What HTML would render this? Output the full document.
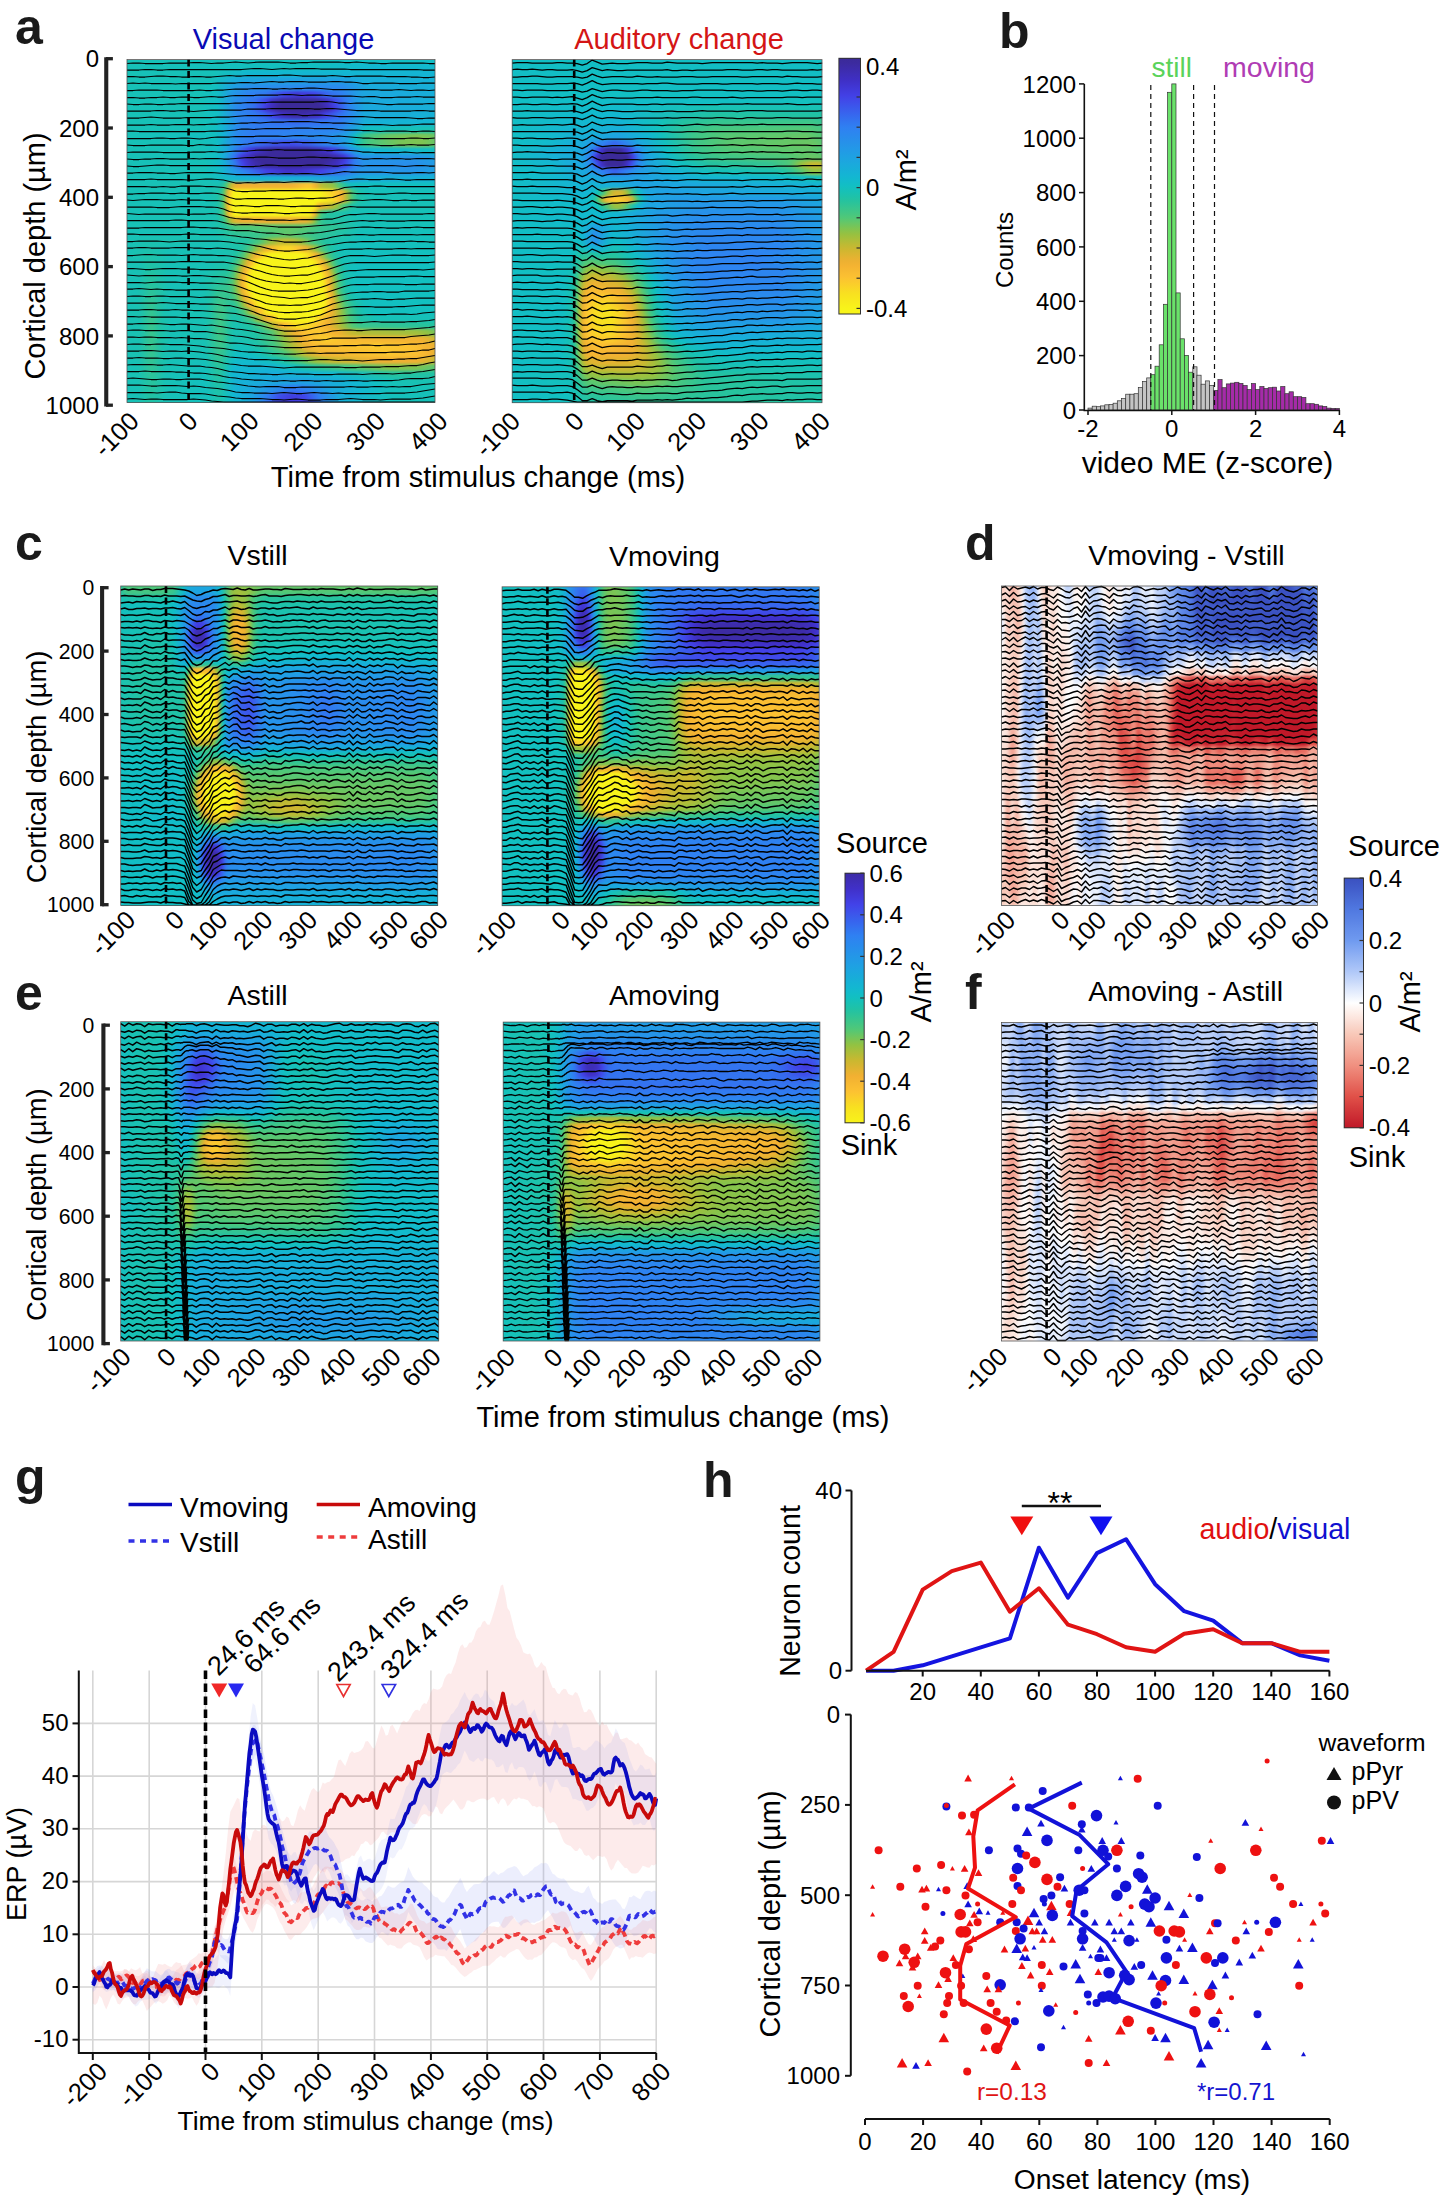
<!DOCTYPE html>
<html><head><meta charset="utf-8"><style>
html,body{margin:0;padding:0;background:#fff;width:1440px;height:2199px;overflow:hidden}
.hm{position:absolute;overflow:hidden}
.hi{position:absolute;left:0;top:-4px;right:0;bottom:-4px}
.hi i{position:absolute;left:-4px;right:-4px;display:block}
svg{position:absolute;left:0;top:0}
text{font-family:"Liberation Sans",sans-serif}
</style></head><body>
<div class="hm" style="left:127px;top:59.5px;width:308px;height:343px"><div class="hi" style="filter:blur(1.5px)"><i style="top:0px;height:7.6px;background:linear-gradient(90deg,#17c1b7 0px,#12bec4 315px)"></i><i style="top:7px;height:7.6px;background:linear-gradient(90deg,#17c1b7 0px,#12bfc1 196.5px,#12b7d1 252px,#12bacd 315px)"></i><i style="top:14px;height:7.6px;background:linear-gradient(90deg,#17c1b7 0px,#16c1b8 90px,#12b7d1 126px,#14b4d3 315px)"></i><i style="top:21.1px;height:7.6px;background:linear-gradient(90deg,#17c1b7 0px,#15c0b9 88.5px,#18add9 109.5px,#1da4e1 123px,#1f9fe3 220.5px,#18add9 241.5px,#16b1d6 315px)"></i><i style="top:28.1px;height:7.6px;background:linear-gradient(90deg,#17c1b7 0px,#17c1b7 78px,#12c0c0 93px,#1da3e1 108px,#288eeb 123px,#2a8aed 177px,#2a8aed 219px,#1aaadc 244.5px,#17afd7 315px)"></i><i style="top:35.1px;height:7.6px;background:linear-gradient(90deg,#17c1b7 0px,#17c1b7 76.5px,#12bec4 94.5px,#2398e7 109.5px,#2e83f1 126px,#3179f1 142.5px,#4146e9 160.5px,#4137d5 174px,#4241e7 190.5px,#356eef 207px,#307df2 217.5px,#1da5e0 238.5px,#17afd8 315px)"></i><i style="top:42.1px;height:7.6px;background:linear-gradient(90deg,#17c1b7 0px,#17c1b7 76.5px,#12bec4 94.5px,#288dec 112.5px,#3372f0 132px,#4145e8 142.5px,#4030c8 148.5px,#3b2a9a 159px,#3b2a98 193.5px,#3f2fc2 204px,#4146e9 211.5px,#307df2 223.5px,#219ce5 234px,#1ba8dd 243px,#17afd8 315px)"></i><i style="top:49.1px;height:7.6px;background:linear-gradient(90deg,#17c1b7 0px,#17c1b7 76.5px,#12bec5 94.5px,#2a89ee 114px,#3275f0 129px,#3d53eb 138px,#4242e7 141px,#4032cb 145.5px,#3b2a98 156px,#3b2a99 198px,#4030c5 207px,#4144e8 213px,#2f81f2 225px,#1ba8dd 241.5px,#17afd7 315px)"></i><i style="top:56.2px;height:7.6px;background:linear-gradient(90deg,#17c1b7 0px,#17c1b7 76.5px,#12bec5 94.5px,#2b89ee 114px,#3277f1 133.5px,#3668ee 141px,#4145e9 150px,#4030c6 159px,#3d2cac 169.5px,#3d2ca9 181.5px,#4031c9 195px,#4242e7 202.5px,#356bef 214.5px,#2d84f0 225px,#1aaadc 241.5px,#16b1d5 315px)"></i><i style="top:63.2px;height:7.6px;background:linear-gradient(90deg,#17c1b7 0px,#17c1b7 76.5px,#12c0c0 91.5px,#13b7d1 99px,#2e82f1 118.5px,#356bef 172.5px,#307df1 217.5px,#17b0d7 243px,#13b6d1 315px)"></i><i style="top:70.2px;height:7.6px;background:linear-gradient(90deg,#17c1b7 0px,#17c1b7 76.5px,#12c0c0 91.5px,#13b7d1 99px,#2a89ee 114px,#307cf1 132px,#2c87ef 217.5px,#1fa1e3 229.5px,#12c0c0 244.5px,#1ac1b1 315px)"></i><i style="top:77.2px;height:7.6px;background:linear-gradient(90deg,#17c1b7 0px,#12c0bf 91.5px,#12b7d1 99px,#229ae6 108px,#2a89ee 114px,#307ef2 127.5px,#298ced 204px,#1fa1e3 223.5px,#12bec3 232.5px,#23c2a1 237px,#3fc687 243px,#6bc662 265.5px,#80c451 295.5px,#74c55b 307.5px,#5fc76c 315px)"></i><i style="top:84.2px;height:7.6px;background:linear-gradient(90deg,#17c1b7 0px,#17c1b7 78px,#12bec4 94.5px,#229ae6 108px,#2f81f2 120px,#3d53eb 153px,#3f4cea 169.5px,#3a5cec 184.5px,#2f80f2 201px,#229ae6 220.5px,#14b4d3 229.5px,#17c1b7 234px,#33c492 240px,#47c780 246px,#7ac456 279px,#7fc452 300px,#60c76b 315px)"></i><i style="top:91.3px;height:7.6px;background:linear-gradient(90deg,#17c1b7 0px,#17c1b7 78px,#12bec5 94.5px,#1aa9dd 103.5px,#3372f0 115.5px,#4242e8 124.5px,#4033cd 130.5px,#3b2a9b 148.5px,#3b2a9a 184.5px,#4030c8 204px,#4242e7 211.5px,#2f7ff2 223.5px,#1ea2e2 232.5px,#14b5d3 241.5px,#12bec3 315px)"></i><i style="top:98.3px;height:7.6px;background:linear-gradient(90deg,#17c1b7 0px,#17c1b7 76.5px,#12bfc3 93px,#17b0d7 100.5px,#3277f1 111px,#4144e8 117px,#4137d5 120px,#3b2a99 133.5px,#3b2a98 205.5px,#3e2db2 214.5px,#4135d2 220.5px,#404ae9 225px,#2e82f1 232.5px,#2495e8 240px,#2495e8 294px,#1ea2e2 315px)"></i><i style="top:105.3px;height:7.6px;background:linear-gradient(90deg,#17c1b7 0px,#16c1b8 82.5px,#12bcc9 96px,#1ba7de 103.5px,#3278f1 112.5px,#4242e8 120px,#4138d7 123px,#3e2db3 130.5px,#3b2a9a 139.5px,#3b2a98 199.5px,#3f2fc3 214.5px,#4242e8 222px,#307cf1 231px,#2693e9 241.5px,#288eeb 289.5px,#219de4 315px)"></i><i style="top:112.3px;height:7.6px;background:linear-gradient(90deg,#17c1b7 0px,#17c1b7 76.5px,#12bdc6 96px,#1fa1e3 108px,#2f7ff2 123px,#4241e6 144px,#4030c8 163.5px,#4031ca 178.5px,#4241e6 198px,#2f7ff2 225px,#2496e8 237px,#2594e8 291px,#1ea1e2 315px)"></i><i style="top:119.3px;height:7.6px;background:linear-gradient(90deg,#17c1b7 0px,#16c1b8 84px,#14b4d4 118.5px,#18aed8 186px,#2397e7 220.5px,#18add9 243px,#15b2d5 315px)"></i><i style="top:126.4px;height:7.6px;background:linear-gradient(90deg,#17c1b7 0px,#19c1b3 96px,#20c2a6 99px,#3bc58b 102px,#51c877 103.5px,#a3bf3c 106.5px,#d7b531 109.5px,#f0b032 114px,#f3b132 169.5px,#fcc530 183px,#fbc62f 187.5px,#f3b232 192px,#bbbb35 198px,#93c242 210px,#53c875 216px,#23c2a1 222px,#12c0c1 228px,#12c0c1 315px)"></i><i style="top:133.4px;height:7.6px;background:linear-gradient(90deg,#17c1b7 0px,#17c1b7 85.5px,#1fc2a7 96px,#26c39e 97.5px,#4cc77c 100.5px,#b6bb36 103.5px,#e8b232 105px,#fbc032 106.5px,#f8ed1c 109.5px,#f8f41a 111px,#f8f41a 196.5px,#fcc431 214.5px,#f2b032 219px,#b4bc37 223.5px,#98c140 225px,#5ac770 228px,#46c781 229.5px,#1ec2a9 235.5px,#16c0b9 244.5px,#16c0b9 315px)"></i><i style="top:140.4px;height:7.6px;background:linear-gradient(90deg,#17c1b7 0px,#17c1b7 84px,#1dc1ab 94.5px,#3cc58a 99px,#58c772 100.5px,#91c243 102px,#ccb830 103.5px,#f5b532 105px,#fad129 106.5px,#f8eb1d 108px,#f8f41a 109.5px,#f8f41a 196.5px,#f8dd22 208.5px,#fcc630 214.5px,#f2b032 219px,#b3bc37 223.5px,#98c140 225px,#47c780 229.5px,#20c2a6 235.5px,#17c1b8 249px,#17c1b7 315px)"></i><i style="top:147.4px;height:7.6px;background:linear-gradient(90deg,#17c1b7 0px,#17c1b7 84px,#1dc1ab 94.5px,#3dc58a 99px,#59c771 100.5px,#92c242 102px,#cdb730 103.5px,#f5b532 105px,#fad129 106.5px,#f8eb1d 108px,#f8f41a 109.5px,#f8f41a 190.5px,#f8ec1c 192px,#fabf32 195px,#e7b231 198px,#babb35 208.5px,#90c244 214.5px,#4dc87b 220.5px,#1fc2a7 229.5px,#17c1b7 240px,#17c1b7 315px)"></i><i style="top:154.4px;height:7.6px;background:linear-gradient(90deg,#17c1b7 0px,#19c1b2 91.5px,#20c2a5 96px,#4dc87b 100.5px,#b4bc37 103.5px,#e4b331 105px,#f9bd32 106.5px,#f8e81e 109.5px,#f8f41a 112.5px,#f8f41a 186px,#f9d924 189px,#fbbf32 190.5px,#ecb132 192px,#c2ba33 193.5px,#90c244 195px,#62c669 196.5px,#47c780 198px,#27c39d 204px,#17c1b7 231px,#16c1b8 315px)"></i><i style="top:161.5px;height:7.6px;background:linear-gradient(90deg,#17c1b7 0px,#1ac1b1 93px,#21c2a4 97.5px,#34c492 100.5px,#59c770 103.5px,#9ec03e 106.5px,#cdb730 109.5px,#e6b231 114px,#f0b032 121.5px,#f1b032 172.5px,#ebb132 181.5px,#dbb531 186px,#d1b730 187.5px,#a6be3b 190.5px,#4ec87a 195px,#37c58f 198px,#29c39c 202.5px,#16c1b8 238.5px,#16c1b8 315px)"></i><i style="top:168.5px;height:7.6px;background:linear-gradient(90deg,#17c1b7 0px,#18c1b5 88.5px,#22c2a2 100.5px,#4ec87a 114px,#5ec76c 168px,#57c772 181.5px,#35c491 199.5px,#2cc399 214.5px,#16c1b8 237px,#15c0b9 315px)"></i><i style="top:175.5px;height:7.6px;background:linear-gradient(90deg,#17c1b7 0px,#19c1b2 93px,#2ec497 112.5px,#39c58d 133.5px,#61c66a 165px,#34c491 193.5px,#15c0ba 237px,#15c0bb 315px)"></i><i style="top:182.5px;height:7.6px;background:linear-gradient(90deg,#17c1b7 0px,#1bc1ae 27px,#18c1b6 90px,#22c2a2 123px,#4bc77c 136.5px,#94c241 147px,#bbbb35 156px,#c5b932 163.5px,#b7bb36 171px,#95c241 178.5px,#4bc77c 189px,#21c2a4 202.5px,#14c0bd 237px,#14c0bc 315px)"></i><i style="top:189.5px;height:7.6px;background:linear-gradient(90deg,#17c1b7 0px,#1dc1ac 27px,#17c1b7 45px,#17c1b7 85.5px,#1dc1aa 115.5px,#2dc398 121.5px,#4ec87a 127.5px,#96c141 133.5px,#c8b830 138px,#f3b132 144px,#f9d726 160.5px,#fad427 168px,#fcc132 175.5px,#ecb132 183px,#b9bb35 189px,#97c140 192px,#4ec87a 198px,#20c2a5 207px,#17c1b8 216px,#13c0be 229.5px,#13c0be 315px)"></i><i style="top:196.6px;height:7.6px;background:linear-gradient(90deg,#17c1b7 0px,#1ec2a9 27px,#17c1b7 45px,#17c1b7 82.5px,#1ac1b2 105px,#21c2a4 112.5px,#4bc77c 120px,#8cc347 124.5px,#b9bb35 127.5px,#f0b032 132px,#fcc530 136.5px,#f8e21f 141px,#f8f41a 147px,#f8f41a 178.5px,#f8e31f 184.5px,#f6b732 192px,#f1b032 193.5px,#a4bf3c 199.5px,#4ac77e 205.5px,#23c2a1 211.5px,#16c1b8 219px,#12c0c1 243px,#13c0bf 315px)"></i><i style="top:203.6px;height:7.6px;background:linear-gradient(90deg,#17c1b7 0px,#18c1b6 15px,#20c2a6 27px,#17c1b7 46.5px,#17c1b7 81px,#1dc1ab 105px,#26c39e 109.5px,#4fc879 115.5px,#9cc03f 120px,#b6bc36 121.5px,#f3b232 126px,#fcc431 129px,#f8df20 132px,#f8f41a 136.5px,#f8f41a 189px,#f8e020 193.5px,#fcc530 196.5px,#f3b232 199.5px,#b6bc36 204px,#9cc03f 205.5px,#4dc87b 210px,#21c2a3 216px,#18c1b4 220.5px,#12c0c1 237px,#12c0c0 315px)"></i><i style="top:210.6px;height:7.6px;background:linear-gradient(90deg,#17c1b7 0px,#18c1b4 16.5px,#22c2a2 28.5px,#17c1b7 46.5px,#17c1b6 82.5px,#21c2a3 103.5px,#30c495 108px,#53c876 112.5px,#8ac348 115.5px,#c3b932 118.5px,#f0b032 121.5px,#fcc332 124.5px,#f8eb1d 129px,#f8f41a 132px,#f8f41a 195px,#fcc431 201px,#f0b032 204px,#c2b932 207px,#88c34b 210px,#4ec87a 213px,#28c39c 217.5px,#1dc1ac 220.5px,#14c0bc 226.5px,#12c0c1 235.5px,#12c0c0 315px)"></i><i style="top:217.6px;height:7.6px;background:linear-gradient(90deg,#17c1b7 0px,#19c1b4 16.5px,#25c29f 28.5px,#18c1b6 43.5px,#17c1b7 78px,#26c39e 100.5px,#2fc496 105px,#49c77f 109.5px,#5ac770 111px,#94c241 114px,#e3b331 118.5px,#fabe32 121.5px,#f8e81e 126px,#f8f41a 129px,#f8f31a 198px,#fabf32 204px,#e4b331 207px,#afbd39 210px,#91c243 211.5px,#52c876 214.5px,#29c39c 219px,#1dc1ac 222px,#12c0c1 235.5px,#12c0c0 315px)"></i><i style="top:224.6px;height:7.6px;background:linear-gradient(90deg,#17c1b7 0px,#18c1b5 15px,#28c39c 27px,#17c1b7 46.5px,#17c1b6 79.5px,#33c493 103.5px,#4fc879 109.5px,#82c34f 112.5px,#bcba34 115.5px,#edb132 118.5px,#fcc331 121.5px,#f8e31f 124.5px,#f8f41a 127.5px,#f8f41a 198px,#f8e71e 201px,#fbc82e 204px,#f2b032 207px,#a1bf3d 211.5px,#49c77e 216px,#1ec2a9 222px,#15c0bb 228px,#12c0c1 235.5px,#12c0c0 315px)"></i><i style="top:231.7px;height:7.6px;background:linear-gradient(90deg,#17c1b7 0px,#18c1b4 15px,#2dc398 28.5px,#17c1b7 46.5px,#18c1b6 79.5px,#1dc1ab 87px,#31c494 94.5px,#37c58f 105px,#41c686 108px,#5ac770 111px,#91c243 114px,#e0b431 118.5px,#f3b232 120px,#fbca2d 123px,#f8f41a 129px,#f8f41a 199.5px,#f8e31f 202.5px,#fbc132 205.5px,#e5b331 208.5px,#aebd39 211.5px,#90c244 213px,#51c877 216px,#21c2a3 222px,#16c1b8 228px,#12c0c1 238.5px,#12c0c0 315px)"></i><i style="top:238.7px;height:7.6px;background:linear-gradient(90deg,#17c1b7 0px,#18c1b4 15px,#30c495 28.5px,#19c1b4 42px,#17c1b6 78px,#1ec2a9 87px,#3ac58c 96px,#33c493 106.5px,#50c878 112.5px,#83c34e 115.5px,#bbbb35 118.5px,#e9b232 121.5px,#fabf32 124.5px,#f8e71e 129px,#f8f41a 132px,#f8f41a 201px,#f8e120 204px,#fabe32 207px,#f4b332 208.5px,#c9b830 211.5px,#8fc244 214.5px,#58c772 217.5px,#22c2a2 225px,#19c1b4 231px,#12c0c0 241.5px,#12c0c0 315px)"></i><i style="top:245.7px;height:7.6px;background:linear-gradient(90deg,#17c1b7 0px,#19c1b4 15px,#34c492 28.5px,#1ec2a9 37.5px,#17c1b7 48px,#19c1b3 82.5px,#3ec688 97.5px,#29c39c 108px,#2fc496 111px,#4ac77d 115.5px,#91c243 120px,#aabe3a 121.5px,#ecb132 126px,#fabf32 129px,#f8e31f 133.5px,#f8f41a 138px,#f8f41a 201px,#fbc032 207px,#edb132 210px,#c7b931 213px,#9ac140 216px,#4cc77c 222px,#21c2a4 231px,#15c0ba 240px,#12c0c1 249px,#12c0bf 315px)"></i><i style="top:252.7px;height:7.6px;background:linear-gradient(90deg,#17c1b7 0px,#1ac1b1 16.5px,#36c58f 28.5px,#1ac1b1 40.5px,#17c1b7 48px,#18c1b4 81px,#1fc2a7 87px,#40c687 96px,#3bc58b 100.5px,#23c2a1 106.5px,#21c2a4 112.5px,#50c878 121.5px,#94c241 126px,#c0ba33 129px,#f3b132 133.5px,#fbbf32 136.5px,#f8f41a 145.5px,#f8f41a 196.5px,#f8e120 201px,#fbc82e 204px,#f3b132 208.5px,#adbd39 216px,#8dc246 219px,#4dc87b 225px,#21c2a3 234px,#17c1b7 241.5px,#12c0c0 252px,#13c0be 315px)"></i><i style="top:259.7px;height:7.6px;background:linear-gradient(90deg,#17c1b7 0px,#1ac1b1 16.5px,#39c58d 28.5px,#1cc1ad 39px,#17c1b7 48px,#18c1b4 81px,#1fc2a7 87px,#41c686 96px,#3bc58b 100.5px,#1cc1ad 109.5px,#1fc2a7 118.5px,#4fc879 129px,#9ac140 135px,#ceb730 139.5px,#f3b232 144px,#fcc530 148.5px,#f8f41a 157.5px,#f8f41a 189px,#fcc630 199.5px,#edb132 207px,#c8b831 213px,#94c241 219px,#4cc77c 226.5px,#20c2a5 237px,#16c1b8 253.5px,#16c1b8 315px)"></i><i style="top:266.8px;height:7.6px;background:linear-gradient(90deg,#17c1b7 0px,#1ac1b1 16.5px,#3ac58c 28.5px,#1fc2a7 37.5px,#17c1b7 48px,#19c1b3 82.5px,#41c685 97.5px,#21c2a5 106.5px,#19c1b3 112.5px,#21c2a3 127.5px,#53c875 139.5px,#9ec03e 147px,#c9b830 151.5px,#f2b132 157.5px,#fcc232 163.5px,#f8de21 172.5px,#f8e120 181.5px,#fcc332 195px,#f1b032 205.5px,#cdb730 213px,#97c141 220.5px,#51c877 229.5px,#38c58e 238.5px,#23c2a1 315px)"></i><i style="top:273.8px;height:7.6px;background:linear-gradient(90deg,#17c1b7 0px,#1ac1b1 16.5px,#3ac58c 28.5px,#1fc2a7 37.5px,#17c1b7 48px,#18c1b5 81px,#1fc2a7 87px,#41c686 96px,#3bc58b 100.5px,#20c2a5 106.5px,#19c1b4 112.5px,#21c2a3 133.5px,#52c877 148.5px,#8ec246 156px,#c6b931 163.5px,#f2b132 172.5px,#fcc232 184.5px,#fbc72f 195px,#f2b032 214.5px,#c6b931 228px,#b1bc38 238.5px,#a0c03e 294px,#8fc244 304.5px,#6ec55f 315px)"></i><i style="top:280.8px;height:7.6px;background:linear-gradient(90deg,#17c1b7 0px,#1ac1b1 16.5px,#3ac58c 28.5px,#1fc2a7 37.5px,#17c1b7 48px,#19c1b4 82.5px,#3fc687 96px,#3ec689 99px,#1fc2a7 106.5px,#18c1b6 112.5px,#20c2a6 133.5px,#4fc879 151.5px,#8cc347 160.5px,#aabe3a 165px,#f2b032 178.5px,#fcc331 190.5px,#fbcc2c 202.5px,#f8bb32 228px,#f3b132 298.5px,#c5b931 315px)"></i><i style="top:287.8px;height:7.6px;background:linear-gradient(90deg,#17c1b7 0px,#1ac1b1 16.5px,#39c58d 28.5px,#1cc1ac 39px,#17c1b7 46.5px,#18c1b5 82.5px,#3cc58a 96px,#36c590 100.5px,#1dc1ab 106.5px,#14c0bc 114px,#17c1b7 126px,#21c2a3 138px,#50c878 154.5px,#93c242 165px,#c7b931 174px,#f2b032 184.5px,#f9bc32 193.5px,#fbc92e 256.5px,#fcc132 291px,#f1b032 309px,#dab531 315px)"></i><i style="top:294.8px;height:7.6px;background:linear-gradient(90deg,#17c1b7 0px,#1ac1b1 16.5px,#37c58f 28.5px,#1cc1ad 39px,#17c1b7 46.5px,#17c1b7 82.5px,#38c58e 96px,#30c495 100.5px,#19c1b3 106.5px,#12bec4 114px,#12c0c1 129px,#1cc1ac 142.5px,#4dc87a 162px,#94c241 174px,#cdb730 184.5px,#f4b332 199.5px,#fbc72f 265.5px,#fbbf32 292.5px,#f3b132 307.5px,#d8b531 315px)"></i><i style="top:301.9px;height:7.6px;background:linear-gradient(90deg,#17c1b7 0px,#19c1b4 15px,#35c491 28.5px,#1ec2a9 37.5px,#17c1b7 46.5px,#16c0b9 82.5px,#2dc398 93px,#31c494 97.5px,#14c0bc 106.5px,#12bacc 114px,#12bacd 132px,#14c0bc 150px,#22c2a3 162px,#3ec688 172.5px,#53c876 178.5px,#94c241 190.5px,#c7b931 207px,#f2b032 252px,#f0b032 292.5px,#d9b531 306px,#b9bb36 315px)"></i><i style="top:308.9px;height:7.6px;background:linear-gradient(90deg,#17c1b7 0px,#18c1b4 15px,#31c494 28.5px,#18c1b4 42px,#14c0bd 79.5px,#17c1b7 85.5px,#2cc399 96px,#22c2a3 100.5px,#14c0bc 105px,#12b8d0 111px,#14b4d4 144px,#12c0bf 174px,#2bc399 198px,#4dc87a 232.5px,#7fc451 265.5px,#7cc454 294px,#53c876 315px)"></i><i style="top:315.9px;height:7.6px;background:linear-gradient(90deg,#17c1b7 0px,#18c1b4 15px,#2ec497 28.5px,#17c1b6 43.5px,#13c0be 81px,#26c39e 96px,#12b7d1 109.5px,#18acda 151.5px,#12b8d0 214.5px,#24c2a0 271.5px,#21c2a5 315px)"></i><i style="top:322.9px;height:7.6px;background:linear-gradient(90deg,#17c1b7 0px,#18c1b5 15px,#29c39b 30px,#18c1b5 42px,#13c0bf 81px,#22c2a2 96px,#12bec4 105px,#15b2d5 112.5px,#1fa0e3 178.5px,#12b7d1 235.5px,#12c0c1 253.5px,#18c1b4 277.5px,#19c1b3 315px)"></i><i style="top:329.9px;height:7.6px;background:linear-gradient(90deg,#17c1b7 0px,#18c1b5 15px,#26c39e 28.5px,#17c1b7 45px,#13c0be 82.5px,#20c2a6 96px,#14b5d3 111px,#1ea2e2 136.5px,#3276f0 169.5px,#2e83f1 183px,#1ba7de 208.5px,#12b9cf 240px,#15c0bb 268.5px,#17c1b6 315px)"></i><i style="top:337px;height:7.6px;background:linear-gradient(90deg,#17c1b7 0px,#18c1b4 16.5px,#23c2a1 28.5px,#17c1b7 45px,#14c0bd 76.5px,#15c0bb 85.5px,#1ec2a9 96px,#13c0be 103.5px,#12b8d0 109.5px,#1ca5e0 129px,#2f80f2 144px,#3e4eea 156px,#413ddf 168px,#4145e9 181.5px,#2f80f2 196.5px,#18add9 217.5px,#14c0bc 265.5px,#17c1b7 315px)"></i><i style="top:344px;height:7.6px;background:linear-gradient(90deg,#17c1b7 0px,#17c1b7 12px,#20c2a5 27px,#18c1b6 42px,#14c0bc 78px,#1cc1ad 96px,#12bbcb 109.5px,#14b4d3 118.5px,#1fa1e3 130.5px,#2f81f2 141px,#4047e9 153px,#4139d9 165px,#413bdc 180px,#4242e8 186px,#2f81f2 199.5px,#1fa1e3 210px,#14b4d4 222px,#15c0ba 268.5px,#17c1b7 315px)"></i></div></div>
<div class="hm" style="left:512.2px;top:59.6px;width:309.8px;height:343.1px"><div class="hi" style="filter:blur(1.5px)"><i style="top:0px;height:7.6px;background:linear-gradient(90deg,#12bec4 0px,#12bec4 316.5px)"></i><i style="top:7px;height:7.6px;background:linear-gradient(90deg,#12bec4 0px,#12bec4 316.5px)"></i><i style="top:14px;height:7.6px;background:linear-gradient(90deg,#12bec4 0px,#12bec4 316.5px)"></i><i style="top:21.1px;height:7.6px;background:linear-gradient(90deg,#12bec4 0px,#12bec4 316.5px)"></i><i style="top:28.1px;height:7.6px;background:linear-gradient(90deg,#12bec4 0px,#12bec3 316.5px)"></i><i style="top:35.1px;height:7.6px;background:linear-gradient(90deg,#12bec4 0px,#12bfc1 316.5px)"></i><i style="top:42.1px;height:7.6px;background:linear-gradient(90deg,#12bec4 0px,#12bcc9 112.5px,#14c0bd 316.5px)"></i><i style="top:49.2px;height:7.6px;background:linear-gradient(90deg,#12bec4 0px,#12bacc 114px,#19c1b3 202.5px,#19c1b3 316.5px)"></i><i style="top:56.2px;height:7.6px;background:linear-gradient(90deg,#12bec4 0px,#12b7d1 108px,#22c2a2 208.5px,#21c2a3 316.5px)"></i><i style="top:63.2px;height:7.6px;background:linear-gradient(90deg,#12bec4 0px,#14b4d4 112.5px,#12c0bf 148.5px,#23c2a1 175.5px,#35c590 207px,#3ec689 303px,#34c492 316.5px)"></i><i style="top:70.2px;height:7.6px;background:linear-gradient(90deg,#12bec4 0px,#18aed9 112.5px,#12c0c1 148.5px,#33c492 181.5px,#46c781 207px,#53c876 298.5px,#44c683 316.5px)"></i><i style="top:77.2px;height:7.6px;background:linear-gradient(90deg,#12bec4 0px,#12bbcb 40.5px,#1ea2e2 109.5px,#12b7d1 141px,#12c0bf 153px,#3dc689 186px,#57c772 220.5px,#66c666 298.5px,#4ec87a 316.5px)"></i><i style="top:84.3px;height:7.6px;background:linear-gradient(90deg,#12bec4 0px,#12bacd 40.5px,#1aa9dd 75px,#2f80f2 96px,#3767ee 106.5px,#307ef2 115.5px,#1da5e0 130.5px,#13c0be 157.5px,#3fc687 189px,#5cc76e 225px,#6ac663 301.5px,#62c66a 310.5px,#50c878 316.5px)"></i><i style="top:91.3px;height:7.6px;background:linear-gradient(90deg,#12bec4 0px,#1aaadc 69px,#219ce5 78px,#3178f1 85.5px,#4048e9 90px,#4033ce 93px,#3b2a9b 99px,#3b2a98 112.5px,#4136d3 120px,#4240e4 121.5px,#2f7ff2 127.5px,#1ba7de 138px,#12c0c0 160.5px,#36c58f 187.5px,#4ec879 217.5px,#63c669 300px,#4dc87b 316.5px)"></i><i style="top:98.3px;height:7.6px;background:linear-gradient(90deg,#12bec4 0px,#1aaadc 67.5px,#209fe4 75px,#307cf1 82.5px,#4243e8 87px,#3f2fc1 90px,#3b2a9c 93px,#3b2a98 94.5px,#3b2a98 118.5px,#3c2b9f 120px,#413ada 124.5px,#4048e9 126px,#2f80f2 130.5px,#1fa1e3 138px,#12bbcb 159px,#24c2a0 183px,#3cc58a 207px,#4dc87a 276px,#68c664 303px,#64c668 310.5px,#51c877 316.5px)"></i><i style="top:105.3px;height:7.6px;background:linear-gradient(90deg,#12bec4 0px,#13b7d1 46.5px,#1ea3e2 75px,#2d84f0 84px,#4048e9 90px,#4033ce 93px,#3b2a9a 99px,#3b2a9a 114px,#4033ce 120px,#4048e9 123px,#2d83f1 129px,#1da3e1 139.5px,#12c0c0 174px,#24c2a0 202.5px,#34c491 262.5px,#4fc879 282px,#91c243 292.5px,#c5b932 303px,#c6b931 310.5px,#a9be3b 316.5px)"></i><i style="top:112.4px;height:7.6px;background:linear-gradient(90deg,#12bec5 0px,#12b9cf 43.5px,#1ca6df 78px,#307ef2 96px,#3861ed 106.5px,#2f80f2 118.5px,#2398e7 129px,#16b2d5 162px,#15c0ba 207px,#1bc1af 264px,#21c2a3 276px,#32c493 283.5px,#4dc87b 291px,#93c242 304.5px,#93c242 310.5px,#78c457 316.5px)"></i><i style="top:119.4px;height:7.6px;background:linear-gradient(90deg,#12bec5 0px,#12b9cf 46.5px,#219de5 120px,#14b5d3 193.5px,#12bacc 273px,#14c0bb 316.5px)"></i><i style="top:126.4px;height:7.6px;background:linear-gradient(90deg,#12bec5 0px,#18aed9 109.5px,#1ea2e2 132px,#14b5d2 316.5px)"></i><i style="top:133.4px;height:7.6px;background:linear-gradient(90deg,#12bec4 0px,#14b5d3 78px,#12b8d0 84px,#12c0c1 88.5px,#1fc2a8 91.5px,#4ec87a 96px,#9ec03e 100.5px,#cdb730 105px,#dab531 109.5px,#c8b831 115.5px,#92c242 120px,#57c772 123px,#2ec497 126px,#12bcc8 130.5px,#1ba7de 138px,#1fa0e3 157.5px,#18aed8 316.5px)"></i><i style="top:140.4px;height:7.6px;background:linear-gradient(90deg,#12bec4 0px,#12b9ce 76.5px,#14c0bd 84px,#22c2a2 87px,#34c491 88.5px,#4ac77e 90px,#95c141 93px,#d5b631 96px,#eab232 97.5px,#fcc132 102px,#fbcd2c 111px,#f0b032 121.5px,#c3b932 124.5px,#9fc03e 126px,#4bc77d 129px,#1dc1ab 132px,#12c0c1 133.5px,#15b3d4 136.5px,#1da4e0 142.5px,#219be5 171px,#219be5 265.5px,#1aa8dd 316.5px)"></i><i style="top:147.5px;height:7.6px;background:linear-gradient(90deg,#12bec4 0px,#12bbcb 82.5px,#12c0c1 88.5px,#27c39d 94.5px,#8bc347 105px,#9bc03f 109.5px,#8cc347 114px,#49c77e 120px,#18c1b5 126px,#13b5d2 130.5px,#1ca6df 138px,#2594e8 196.5px,#2496e7 276px,#1da5e0 316.5px)"></i><i style="top:154.5px;height:7.6px;background:linear-gradient(90deg,#12bec4 0px,#12b8d0 105px,#219ce5 150px,#2790ea 189px,#2790ea 267px,#1ea1e2 316.5px)"></i><i style="top:161.5px;height:7.6px;background:linear-gradient(90deg,#12bec4 0px,#13b7d1 106.5px,#2594e8 162px,#298cec 193.5px,#288dec 274.5px,#209fe4 316.5px)"></i><i style="top:168.5px;height:7.6px;background:linear-gradient(90deg,#12bec4 0px,#12bcc9 72px,#1fa0e3 87px,#12b8d0 108px,#2593e9 160.5px,#2a89ee 195px,#2a89ee 267px,#219de4 316.5px)"></i><i style="top:175.5px;height:7.6px;background:linear-gradient(90deg,#12bec4 0px,#12bdc6 69px,#15b2d5 76.5px,#298cec 87px,#15b3d4 100.5px,#12bacd 106.5px,#2692e9 160.5px,#2b87ef 193.5px,#2b87ef 268.5px,#219be5 316.5px)"></i><i style="top:182.6px;height:7.6px;background:linear-gradient(90deg,#12bec4 0px,#12bec5 72px,#2692ea 87px,#12bacc 102px,#12bdc7 111px,#1fa1e3 144px,#278feb 165px,#2c85ef 198px,#2b87ef 277.5px,#229ae6 316.5px)"></i><i style="top:189.6px;height:7.6px;background:linear-gradient(90deg,#12bec4 0px,#12bec5 61.5px,#17c1b6 73.5px,#13b7d1 82.5px,#17b0d7 88.5px,#18c1b6 106.5px,#12b8d0 126px,#209fe4 148.5px,#2d84f0 198px,#2c85ef 273px,#229ae6 316.5px)"></i><i style="top:196.6px;height:7.6px;background:linear-gradient(90deg,#12bec4 0px,#12bec5 60px,#13c0be 66px,#26c39e 73.5px,#2dc398 78px,#21c2a3 87px,#26c39e 106.5px,#12c0c1 124.5px,#1ea3e2 148.5px,#2790eb 166.5px,#2d84f0 195px,#2e82f1 247.5px,#2299e6 316.5px)"></i><i style="top:203.6px;height:7.6px;background:linear-gradient(90deg,#12bec4 0px,#12bfc3 61.5px,#1fc2a7 69px,#4dc87b 76.5px,#57c772 84px,#45c782 106.5px,#2cc399 118.5px,#12bfc2 132px,#1ba7de 148.5px,#2496e8 162px,#2c86ef 187.5px,#2e82f1 250.5px,#2299e6 316.5px)"></i><i style="top:210.7px;height:7.6px;background:linear-gradient(90deg,#12bec4 0px,#12c0bf 63px,#29c39c 69px,#89c349 78px,#97c140 85.5px,#8fc245 96px,#78c457 106.5px,#14c0bd 136.5px,#1da4e1 154.5px,#2a8aed 180px,#2d83f0 207px,#2c85f0 274.5px,#2299e6 316.5px)"></i><i style="top:217.7px;height:7.6px;background:linear-gradient(90deg,#12bec4 0px,#12bec5 55.5px,#17c1b6 64.5px,#24c2a0 67.5px,#48c77f 70.5px,#9cc03f 75px,#c0ba33 79.5px,#cbb830 87px,#b9bb36 103.5px,#91c243 115.5px,#4fc879 126px,#13c0bd 141px,#12b9ce 145.5px,#1da4e1 157.5px,#2691ea 172.5px,#2c85ef 199.5px,#2c85ef 271.5px,#229ae6 316.5px)"></i><i style="top:224.7px;height:7.6px;background:linear-gradient(90deg,#12bec4 0px,#12bec5 54px,#15c0ba 63px,#1fc2a7 66px,#40c687 69px,#84c34e 72px,#c0ba33 75px,#e2b331 79.5px,#edb132 87px,#dbb531 108px,#cab830 114px,#a0bf3d 121.5px,#43c684 133.5px,#22c2a3 139.5px,#12bfc3 145.5px,#1fa0e3 162px,#2b87ef 196.5px,#2c86ef 270px,#229be5 316.5px)"></i><i style="top:231.7px;height:7.6px;background:linear-gradient(90deg,#12bec4 0px,#12bec5 52.5px,#17c1b7 63px,#22c2a2 66px,#49c77e 69px,#9cc03f 72px,#bfba33 73.5px,#e8b231 76.5px,#f6b732 81px,#f9bc32 90px,#f3b132 111px,#e5b331 115.5px,#c9b830 121.5px,#9ac13f 127.5px,#4fc879 135px,#21c2a4 142.5px,#12c0bf 147px,#12b7d0 151.5px,#1ea2e2 163.5px,#2a89ee 196.5px,#2b88ee 270px,#219ce5 316.5px)"></i><i style="top:238.7px;height:7.6px;background:linear-gradient(90deg,#12bec4 0px,#12bec4 55.5px,#18c1b5 63px,#26c29f 66px,#51c877 69px,#80c451 70.5px,#acbd3a 72px,#e7b231 75px,#f4b332 76.5px,#fcc232 82.5px,#fbcc2c 99px,#f2b032 118.5px,#c6b931 126px,#9cc03f 130.5px,#4bc77c 138px,#23c2a1 144px,#12bec4 150px,#1fa1e3 166.5px,#298bed 199.5px,#298bed 274.5px,#209de4 316.5px)"></i><i style="top:245.8px;height:7.6px;background:linear-gradient(90deg,#12bec4 0px,#12bec4 54px,#19c1b4 63px,#29c39c 66px,#3cc58a 67.5px,#59c770 69px,#8bc348 70.5px,#b8bb36 72px,#f2b032 75px,#fcc431 79.5px,#f9d726 88.5px,#f9db23 100.5px,#f3b132 121.5px,#ceb730 127.5px,#94c241 133.5px,#4dc87a 139.5px,#24c2a0 145.5px,#12bfc3 151.5px,#1ea2e2 168px,#288eeb 202.5px,#288eeb 271.5px,#1fa0e3 316.5px)"></i><i style="top:252.8px;height:7.6px;background:linear-gradient(90deg,#12bec4 0px,#12bec4 54px,#19c1b3 63px,#2ac39a 66px,#3fc688 67.5px,#5ec76c 69px,#92c242 70.5px,#bfba34 72px,#f4b332 75px,#fcc232 78px,#f9da24 85.5px,#f8e31f 100.5px,#f9d924 109.5px,#f4b332 123px,#d0b730 129px,#94c241 135px,#4dc87a 141px,#25c29f 147px,#12bfc2 153px,#1da5e0 169.5px,#2593e9 199.5px,#2593e9 276px,#1ea3e2 316.5px)"></i><i style="top:259.8px;height:7.6px;background:linear-gradient(90deg,#12bec4 0px,#12bec4 52.5px,#12c0c1 58.5px,#19c1b2 63px,#2bc39a 66px,#3fc687 67.5px,#60c76b 69px,#93c242 70.5px,#c1ba33 72px,#f4b432 75px,#fcc431 78px,#f8e020 88.5px,#f8e31f 103.5px,#fcc630 117px,#f3b132 124.5px,#cdb730 130.5px,#92c242 136.5px,#4dc87b 142.5px,#26c39e 148.5px,#13c0bf 154.5px,#1aaadc 169.5px,#2398e7 202.5px,#2398e7 274.5px,#1ca6df 316.5px)"></i><i style="top:266.8px;height:7.6px;background:linear-gradient(90deg,#12bec4 0px,#12bec4 52.5px,#19c1b2 63px,#2bc39a 66px,#3fc688 67.5px,#5fc76c 69px,#92c242 70.5px,#bfba34 72px,#f4b332 75px,#fcc232 78px,#f8de21 90px,#f8e020 103.5px,#fcc431 117px,#f3b232 124.5px,#c8b831 132px,#8fc244 138px,#4ec879 144px,#22c2a2 151.5px,#13c0bf 157.5px,#17afd8 171px,#1fa1e3 195px,#209ee4 271.5px,#1aaadc 316.5px)"></i><i style="top:273.9px;height:7.6px;background:linear-gradient(90deg,#12bec4 0px,#12bfc3 55.5px,#19c1b3 63px,#3dc689 67.5px,#5bc76f 69px,#8dc246 70.5px,#babb35 72px,#f2b132 75px,#fcc431 79.5px,#fad527 88.5px,#f9d726 103.5px,#fcc331 115.5px,#efb132 126px,#ceb730 132px,#90c243 139.5px,#42c684 148.5px,#24c2a0 154.5px,#12c0bf 162px,#14b5d3 172.5px,#1ca6df 204px,#17aed8 316.5px)"></i><i style="top:280.9px;height:7.6px;background:linear-gradient(90deg,#12bec4 0px,#12bfc3 54px,#19c1b3 63px,#28c39d 66px,#55c874 69px,#85c34c 70.5px,#b1bc38 72px,#ebb132 75px,#fcc132 81px,#fbcc2c 102px,#f3b132 124.5px,#ccb830 133.5px,#97c141 141px,#45c782 151.5px,#25c29f 159px,#12c0c1 169.5px,#14b5d3 184.5px,#18aed9 207px,#15b3d4 316.5px)"></i><i style="top:287.9px;height:7.6px;background:linear-gradient(90deg,#12bec4 0px,#12bfc3 54px,#18c1b4 63px,#26c29f 66px,#4ec879 69px,#a5bf3c 72px,#cab830 73.5px,#f0b032 76.5px,#fbbf32 90px,#f1b032 124.5px,#ccb830 135px,#96c141 144px,#4dc87b 154.5px,#23c2a1 166.5px,#14c0bb 177px,#13b6d2 205.5px,#12b8cf 316.5px)"></i><i style="top:294.9px;height:7.6px;background:linear-gradient(90deg,#12bec4 0px,#12bfc3 52.5px,#18c1b5 63px,#23c2a1 66px,#48c77f 69px,#95c141 72px,#d0b730 75px,#dfb431 76.5px,#f1b032 79.5px,#f5b532 85.5px,#f2b032 120px,#e4b331 127.5px,#ccb830 136.5px,#91c243 148.5px,#51c877 159px,#25c29f 174px,#18c1b4 184.5px,#12bcc9 217.5px,#12bdc6 316.5px)"></i><i style="top:301.9px;height:7.6px;background:linear-gradient(90deg,#12bec4 0px,#12bfc2 55.5px,#17c1b6 63px,#20c2a5 66px,#3fc687 69px,#9dc03f 73.5px,#c7b831 76.5px,#d1b730 78px,#e1b331 84px,#e6b231 100.5px,#dfb431 123px,#cab830 136.5px,#91c243 151.5px,#4ec87a 165px,#20c2a5 186px,#15c0bb 211.5px,#13c0be 316.5px)"></i><i style="top:309px;height:7.6px;background:linear-gradient(90deg,#12bec4 0px,#12bfc2 54px,#16c1b8 63px,#26c39e 67.5px,#47c781 70.5px,#92c242 75px,#b4bc37 79.5px,#c0ba33 85.5px,#cab830 112.5px,#c3b932 132px,#93c242 151.5px,#50c878 168px,#23c2a1 192px,#1cc1ae 211.5px,#18c1b6 316.5px)"></i><i style="top:316px;height:7.6px;background:linear-gradient(90deg,#12bec4 0px,#15c0ba 63px,#2ac39b 69px,#74c55a 76.5px,#85c34c 79.5px,#91c243 85.5px,#a4bf3c 123px,#94c241 145.5px,#51c877 168px,#24c2a0 199.5px,#1bc1af 316.5px)"></i><i style="top:323px;height:7.6px;background:linear-gradient(90deg,#12bec4 0px,#14c0bc 63px,#21c2a4 69px,#45c782 75px,#57c772 81px,#7ac455 129px,#74c55b 145.5px,#4ec87a 165px,#2ac39a 196.5px,#1dc1ab 316.5px)"></i><i style="top:330px;height:7.6px;background:linear-gradient(90deg,#12bec4 0px,#12c0c1 58.5px,#16c1b8 66px,#3ac58c 79.5px,#51c877 135px,#2ac39a 198px,#1ec2a9 316.5px)"></i><i style="top:337.1px;height:7.6px;background:linear-gradient(90deg,#12bec4 0px,#12c0c1 60px,#27c39d 79.5px,#3bc58b 135px,#28c39c 199.5px,#1fc2a8 316.5px)"></i><i style="top:344.1px;height:7.6px;background:linear-gradient(90deg,#12bec4 0px,#12c0c1 61.5px,#1ec2a9 81px,#2ac39a 141px,#27c39d 255px,#1ec1aa 316.5px)"></i></div></div>
<div class="hm" style="left:120.7px;top:586px;width:317px;height:319.5px"><div class="hi" style="filter:blur(1.5px)"><i style="top:0px;height:7.1px;background:linear-gradient(90deg,#18c1b4 0px,#22c2a2 3px,#43c684 7.5px,#4ec879 12px,#50c878 48px,#3cc58a 58.5px,#12bec4 66px,#17afd7 70.5px,#1ca5df 79.5px,#1aa8dd 96px,#13b7d1 102px,#16c0b9 105px,#6ac663 114px,#7bc455 117px,#86c34c 123px,#66c666 147px,#65c667 315px,#58c771 324px)"></i><i style="top:6.5px;height:7.1px;background:linear-gradient(90deg,#17c1b6 0px,#39c58d 7.5px,#43c684 12px,#44c683 48px,#36c590 57px,#12bec3 64.5px,#1ca5df 72px,#1ea2e2 96px,#14b4d4 102px,#15c0ba 105px,#86c34c 114px,#9ac140 117px,#a5bf3c 123px,#93c242 132px,#5bc76f 142.5px,#52c876 150px,#51c878 310.5px,#49c77e 324px)"></i><i style="top:13.1px;height:7.1px;background:linear-gradient(90deg,#14c0bc 0px,#1ec1aa 12px,#1ec2a9 46.5px,#19c1b3 55.5px,#12bec5 60px,#2496e8 70.5px,#2a8aed 79.5px,#2790eb 96px,#1ca5e0 102px,#12b8d0 105px,#14c0bd 106.5px,#36c590 109.5px,#83c34e 115.5px,#9fc03e 121.5px,#8cc347 129px,#4bc77c 136.5px,#3bc58b 139.5px,#27c39d 150px,#22c2a3 324px)"></i><i style="top:19.6px;height:7.1px;background:linear-gradient(90deg,#13c0bd 0px,#12c0bf 54px,#12b8d0 60px,#2b88ee 73.5px,#2b88ee 96px,#1fa0e3 102px,#12bfc2 106.5px,#1fc2a7 108px,#97c140 115.5px,#b1bd38 118.5px,#bbbb35 121.5px,#b7bb36 124.5px,#99c140 129px,#44c683 136.5px,#28c39d 141px,#1ec2a9 145.5px,#19c1b2 324px)"></i><i style="top:26.2px;height:7.1px;background:linear-gradient(90deg,#14c0bd 0px,#16c1b8 45px,#12bfc2 55.5px,#12b8d0 60px,#2693e9 69px,#2f80f2 81px,#298bed 97.5px,#1fa0e3 102px,#13b6d2 105px,#13c0be 106.5px,#3ec688 109.5px,#a0c03e 114px,#cab830 117px,#ddb431 121.5px,#d2b630 126px,#a1bf3d 130.5px,#59c770 135px,#3bc58b 138px,#22c2a2 142.5px,#1cc1ad 147px,#18c1b4 324px)"></i><i style="top:32.8px;height:7.1px;background:linear-gradient(90deg,#14c0bc 0px,#18c1b5 39px,#12c0c1 55.5px,#18aed8 63px,#288dec 70.5px,#356bef 82.5px,#2398e7 100.5px,#13b7d1 105px,#14c0bc 106.5px,#44c683 109.5px,#97c141 112.5px,#d0b730 115.5px,#e0b431 117px,#f2b132 121.5px,#e7b231 126px,#b6bc37 130.5px,#9bc03f 132px,#4ac77d 136.5px,#29c39c 141px,#1fc2a7 144px,#1ac1b1 154.5px,#18c1b4 324px)"></i><i style="top:39.3px;height:7.1px;background:linear-gradient(90deg,#15c0bb 0px,#19c1b3 43.5px,#12bfc3 57px,#1ba8dd 64.5px,#2f80f2 72px,#4144e8 78px,#413bdc 81px,#4241e5 85.5px,#2e82f1 94.5px,#1fa1e3 102px,#13b7d1 105px,#15c0ba 106.5px,#49c77e 109.5px,#a5bf3c 112.5px,#ddb431 115.5px,#edb132 117px,#f5b532 120px,#f3b132 126px,#e9b232 127.5px,#c4b932 130.5px,#a6be3b 132px,#4cc77c 136.5px,#29c39c 141px,#1dc1ab 145.5px,#18c1b5 324px)"></i><i style="top:45.9px;height:7.1px;background:linear-gradient(90deg,#15c0ba 0px,#1ac1b0 43.5px,#17c1b6 52.5px,#12bdc6 58.5px,#1ba8dd 64.5px,#2e81f1 70.5px,#423ee1 75px,#3f2fbf 78px,#3e2db1 81px,#3e2eb9 85.5px,#4138d6 88.5px,#4144e8 90px,#317bf1 94.5px,#1fa1e3 102px,#13b7d1 105px,#15c0ba 106.5px,#4bc77d 109.5px,#7dc453 111px,#abbe3a 112.5px,#ceb730 114px,#f2b032 117px,#f6b732 121.5px,#efb132 127.5px,#cbb830 130.5px,#8ac348 133.5px,#4cc77c 136.5px,#28c39d 141px,#1dc1ab 145.5px,#18c1b5 324px)"></i><i style="top:52.4px;height:7.1px;background:linear-gradient(90deg,#16c0b9 0px,#1cc1ad 42px,#19c1b3 52.5px,#12bec5 58.5px,#1fa1e3 66px,#307df1 70.5px,#4048e9 73.5px,#4138d5 75px,#3e2eb4 78px,#3d2caa 81px,#3d2daf 85.5px,#4031ca 88.5px,#3e4fea 91.5px,#3277f1 94.5px,#1fa1e3 102px,#13b7d1 105px,#15c0bb 106.5px,#49c77e 109.5px,#a8be3b 112.5px,#e0b431 115.5px,#efb132 117px,#f5b532 120px,#ecb132 127.5px,#c7b931 130.5px,#a8be3b 132px,#4ac77e 136.5px,#26c39e 141px,#1cc1ad 145.5px,#17c1b6 324px)"></i><i style="top:58.9px;height:7.1px;background:linear-gradient(90deg,#16c1b8 0px,#1dc1aa 42px,#1ac1b1 52.5px,#12bfc3 58.5px,#1ea2e2 66px,#3372f0 72px,#4144e8 75px,#4030c9 78px,#3f2eba 81px,#3f2ebb 84px,#4034cf 87px,#3f4cea 90px,#2f7ff2 94.5px,#1fa1e3 102px,#13b6d2 105px,#13c0be 106.5px,#43c684 109.5px,#99c140 112.5px,#d4b630 115.5px,#edb132 118.5px,#f3b232 121.5px,#eab232 126px,#cfb730 129px,#b6bc36 130.5px,#99c140 132px,#57c772 135px,#44c683 136.5px,#22c2a2 141px,#1ac1b0 145.5px,#15c0bb 202.5px,#16c0b9 324px)"></i><i style="top:65.5px;height:7.1px;background:linear-gradient(90deg,#17c1b7 0px,#1ec1aa 16.5px,#1fc2a8 43.5px,#1bc1ae 52.5px,#12bfc1 58.5px,#2f81f2 73.5px,#3a5cec 78px,#3e4eea 82.5px,#2f81f2 91.5px,#229ae6 100.5px,#14b5d3 105px,#12bfc2 106.5px,#1fc2a8 108px,#50c878 111px,#9ac13f 114px,#c8b831 117px,#dcb431 121.5px,#cfb730 126px,#94c241 130.5px,#59c770 133.5px,#37c58f 136.5px,#21c2a4 139.5px,#16c1b8 145.5px,#12bfc3 199.5px,#13c0bf 324px)"></i><i style="top:72px;height:7.1px;background:linear-gradient(90deg,#17c1b6 0px,#1fc2a8 16.5px,#20c2a6 45px,#1dc1ac 52.5px,#13c0be 58.5px,#209fe4 69px,#2495e8 84px,#1ea2e2 99px,#13b7d1 105px,#19c1b2 108px,#48c77f 112.5px,#86c34c 117px,#9ec03e 121.5px,#8bc348 126px,#52c877 130.5px,#2ac39b 135px,#13c0be 141px,#12b8d0 202.5px,#12bcc7 324px)"></i><i style="top:78.6px;height:7.1px;background:linear-gradient(90deg,#18c1b6 0px,#20c2a5 19.5px,#20c2a5 46.5px,#1bc1af 55.5px,#13b6d1 64.5px,#16b0d7 69px,#12bfc3 73.5px,#20c2a6 76.5px,#29c39b 79.5px,#24c2a0 91.5px,#12bfc2 103.5px,#37c58f 121.5px,#2cc398 126px,#12c0bf 133.5px,#14b4d3 142.5px,#18acda 210px,#13b6d2 324px)"></i><i style="top:85.1px;height:7.1px;background:linear-gradient(90deg,#18c1b5 0px,#20c2a6 15px,#22c2a2 42px,#1fc2a8 54px,#12c0c0 64.5px,#14c0bc 67.5px,#2ec497 70.5px,#56c773 72px,#9ec03e 73.5px,#d4b631 75px,#f2b132 76.5px,#fcc232 82.5px,#f0b032 94.5px,#ceb730 97.5px,#b0bd38 99px,#8dc246 100.5px,#42c685 103.5px,#1ec1aa 106.5px,#12bfc3 109.5px,#12b8d0 114px,#1da3e1 138px,#1ea1e2 292.5px,#18add9 324px)"></i><i style="top:91.7px;height:7.1px;background:linear-gradient(90deg,#18c1b5 0px,#22c2a2 22.5px,#1ec2a9 66px,#26c39e 67.5px,#3dc689 69px,#71c55d 70.5px,#c3b932 72px,#f7b832 73.5px,#f8f31a 76.5px,#f8f41a 93px,#f8e51f 96px,#fad228 97.5px,#f9bc32 99px,#e6b231 100.5px,#b5bc37 102px,#3dc689 105px,#1ec1aa 106.5px,#12bdc5 108px,#1ea2e2 114px,#298cec 135px,#1fa0e3 151.5px,#2691ea 211.5px,#229be6 237px,#2495e8 294px,#1ca6df 324px)"></i><i style="top:98.2px;height:7.1px;background:linear-gradient(90deg,#18c1b5 0px,#22c2a2 21px,#1ec1aa 63px,#23c2a1 66px,#4cc77c 69px,#93c242 70.5px,#e0b431 72px,#fbca2d 73.5px,#f8f11b 75px,#f8f41a 76.5px,#f8f41a 96px,#f8e71e 97.5px,#f4b332 100.5px,#c5b932 102px,#78c457 103.5px,#37c58f 105px,#16c1b8 106.5px,#13b5d2 108px,#209fe4 111px,#298bed 115.5px,#3276f0 133.5px,#2399e6 150px,#2b87ee 210px,#2594e9 237px,#288dec 295.5px,#1ea1e2 324px)"></i><i style="top:104.8px;height:7.1px;background:linear-gradient(90deg,#18c1b4 0px,#23c2a1 25.5px,#20c2a6 64.5px,#35c491 67.5px,#51c878 69px,#9bc03f 70.5px,#e7b231 72px,#fad129 73.5px,#f8f41a 75px,#f8f41a 96px,#f8ea1d 97.5px,#f4b432 100.5px,#c2b932 102px,#6fc55f 103.5px,#2ec497 105px,#12bfc3 106.5px,#1ea2e2 109.5px,#2c86ef 114px,#3372f0 120px,#3864ed 130.5px,#3668ee 136.5px,#288eec 145.5px,#2496e8 153px,#2e81f1 210px,#2790eb 235.5px,#2b87ef 292.5px,#209fe4 324px)"></i><i style="top:111.3px;height:7.1px;background:linear-gradient(90deg,#18c1b5 0px,#22c2a2 22.5px,#20c2a5 64.5px,#36c590 67.5px,#52c876 69px,#9dc03f 70.5px,#e9b232 72px,#fad328 73.5px,#f8f41a 75px,#f8f41a 96px,#f8eb1d 97.5px,#f4b332 100.5px,#beba34 102px,#67c665 103.5px,#28c39c 105px,#12bcc8 106.5px,#2691ea 111px,#356cef 118.5px,#3b5aec 132px,#3960ed 136.5px,#298bed 145.5px,#2594e9 151.5px,#288eec 183px,#317af1 208.5px,#288eec 234px,#2d84f0 292.5px,#209de4 324px)"></i><i style="top:117.9px;height:7.1px;background:linear-gradient(90deg,#18c1b5 0px,#21c2a3 21px,#20c2a6 64.5px,#36c590 67.5px,#52c876 69px,#9dc03e 70.5px,#eab232 72px,#fad427 73.5px,#f8f41a 75px,#f8f41a 96px,#f8eb1d 97.5px,#f4b332 100.5px,#bcbb35 102px,#63c668 103.5px,#26c29f 105px,#12bbca 106.5px,#278feb 111px,#3668ee 118.5px,#3c56eb 132px,#3a5cec 136.5px,#2a8aed 145.5px,#2593e9 151.5px,#298dec 183px,#3276f0 208.5px,#298dec 234px,#2d84f0 297px,#219de4 324px)"></i><i style="top:124.5px;height:7.1px;background:linear-gradient(90deg,#18c1b5 0px,#21c2a4 22.5px,#20c2a6 64.5px,#35c491 67.5px,#51c877 69px,#9cc03f 70.5px,#e9b232 72px,#fad328 73.5px,#f8f41a 75px,#f8f41a 96px,#f8ea1d 97.5px,#f3b232 100.5px,#babb35 102px,#62c66a 103.5px,#24c2a0 105px,#12bacb 106.5px,#288feb 111px,#356cef 117px,#3c55eb 130.5px,#3a5bec 136.5px,#2d85f0 144px,#2693e9 151.5px,#298cec 184.5px,#3275f0 210px,#298dec 234px,#2d83f1 295.5px,#219de5 324px)"></i><i style="top:131px;height:7.1px;background:linear-gradient(90deg,#17c1b6 0px,#20c2a6 21px,#1fc2a7 64.5px,#34c492 67.5px,#50c878 69px,#9bc03f 70.5px,#e8b231 72px,#fad228 73.5px,#f8f41a 75px,#f8f41a 96px,#f8ea1d 97.5px,#f3b232 100.5px,#b9bb35 102px,#61c66a 103.5px,#24c2a0 105px,#12bacb 106.5px,#288feb 111px,#3767ee 118.5px,#3c55eb 132px,#3a5cec 136.5px,#2a8aed 145.5px,#2593e9 151.5px,#2a8bed 187.5px,#3276f0 208.5px,#288eec 240px,#2d84f0 297px,#219de4 324px)"></i><i style="top:137.5px;height:7.1px;background:linear-gradient(90deg,#17c1b7 0px,#1fc2a8 22.5px,#1ec2a9 64.5px,#32c493 67.5px,#4dc87a 69px,#96c141 70.5px,#e4b331 72px,#face2b 73.5px,#f8f41a 75px,#f8f41a 96px,#f8e71e 97.5px,#fbca2d 99px,#f2b032 100.5px,#b5bc37 102px,#5dc76d 103.5px,#23c2a1 105px,#12bacb 106.5px,#2790eb 111px,#346fef 117px,#3b58ec 130.5px,#395eed 136.5px,#2f81f2 142.5px,#2594e9 151.5px,#298dec 186px,#317af1 208.5px,#288feb 238.5px,#2d84f0 292.5px,#209ee4 324px)"></i><i style="top:144.1px;height:7.1px;background:linear-gradient(90deg,#16c1b8 0px,#1dc1ab 24px,#1ac1b0 61.5px,#21c2a4 66px,#48c780 69px,#88c34a 70.5px,#d6b631 72px,#fbc132 73.5px,#f8e91d 75px,#f8f41a 76.5px,#f8f41a 94.5px,#f8ed1c 96px,#fabe32 99px,#e3b331 100.5px,#a3bf3c 102px,#4fc879 103.5px,#1fc2a7 105px,#12b9ce 106.5px,#2791ea 111px,#3374f0 117px,#395eed 132px,#2496e8 150px,#2e81f1 208.5px,#2791ea 234px,#2b88ee 294px,#1f9fe3 324px)"></i><i style="top:150.7px;height:7.1px;background:linear-gradient(90deg,#16c0b9 0px,#1bc1af 24px,#19c1b4 61.5px,#1ec1aa 66px,#39c58d 69px,#60c76b 70.5px,#a8be3b 72px,#e5b331 73.5px,#fbc032 75px,#f8e61e 78px,#f8f11b 82.5px,#f8e51f 91.5px,#fcc132 96px,#f5b532 97.5px,#dbb531 99px,#abbe3a 100.5px,#67c665 102px,#32c493 103.5px,#15c0bb 105px,#1ba7de 108px,#298bed 112.5px,#3277f1 120px,#356cef 132px,#2497e7 147px,#219ce5 153px,#2a89ee 208.5px,#2497e7 237px,#278feb 294px,#1da3e1 324px)"></i><i style="top:157.2px;height:7.1px;background:linear-gradient(90deg,#15c0bb 0px,#16c1b8 61.5px,#1cc1ad 67.5px,#22c2a2 69px,#4bc77c 72px,#9ec03e 75px,#cab830 78px,#d6b631 82.5px,#c7b831 91.5px,#9cc03f 96px,#22c2a2 102px,#13c0be 103.5px,#13b7d1 105px,#219de4 109.5px,#278feb 114px,#2c85f0 127.5px,#2b87ef 136.5px,#1ea2e2 147px,#1ca6df 153px,#2397e7 210px,#1ea2e2 237px,#219be5 291px,#19abdb 324px)"></i><i style="top:163.8px;height:7.1px;background:linear-gradient(90deg,#14c0bd 0px,#14c0bc 63px,#18c1b4 69px,#3cc58a 78px,#41c685 90px,#2dc398 97.5px,#12bcc8 103.5px,#18acda 108px,#1fa0e3 117px,#209de4 133.5px,#14b5d3 150px,#19abda 211.5px,#13b7d1 324px)"></i><i style="top:170.3px;height:7.1px;background:linear-gradient(90deg,#13c0be 0px,#13c0bf 66px,#36c590 96px,#2dc398 100.5px,#12bfc3 111px,#12b8d0 129px,#12bacb 138px,#1ac1b0 151.5px,#12c0c1 204px,#18c1b5 234px,#16c0b9 324px)"></i><i style="top:176.8px;height:7.1px;background:linear-gradient(90deg,#12c0c0 0px,#12bfc2 61.5px,#18c1b4 76.5px,#25c29f 82.5px,#4ac77e 88.5px,#8cc347 96px,#98c140 100.5px,#90c244 103.5px,#40c686 115.5px,#2bc39a 121.5px,#22c2a2 129px,#38c58e 151.5px,#2cc399 207px,#35c491 232.5px,#31c495 310.5px,#26c39e 324px)"></i><i style="top:183.4px;height:7.1px;background:linear-gradient(90deg,#12c0c1 0px,#12bec4 58.5px,#17c1b6 73.5px,#25c29f 78px,#3ec688 81px,#4dc87b 82.5px,#9dc03e 87px,#cbb830 90px,#e8b231 93px,#f9bc32 100.5px,#f2b032 109.5px,#cdb730 114px,#93c242 118.5px,#5dc76d 123px,#4bc77c 126px,#43c683 130.5px,#4dc87b 150px,#48c780 307.5px,#36c58f 324px)"></i><i style="top:189.9px;height:7.1px;background:linear-gradient(90deg,#12bfc1 0px,#12bec5 61.5px,#19c1b2 72px,#26c39e 75px,#46c781 78px,#a6be3b 82.5px,#c7b931 84px,#f2b132 87px,#fcc232 90px,#f8e120 94.5px,#f8f11b 103.5px,#f8e020 111px,#f5b532 117px,#beba34 121.5px,#6fc55e 127.5px,#56c773 133.5px,#57c773 303px,#3ec688 324px)"></i><i style="top:196.5px;height:7.1px;background:linear-gradient(90deg,#12bfc2 0px,#12bdc6 60px,#12bfc2 66px,#1ac1b1 70.5px,#3dc689 75px,#54c875 76.5px,#a4bf3c 79.5px,#e5b331 82.5px,#fbc032 85.5px,#f8dd22 88.5px,#f8f21b 93px,#f8f41a 112.5px,#f8e71e 115.5px,#f8ba32 120px,#f1b032 121.5px,#c2b932 124.5px,#83c34e 129px,#65c667 135px,#61c66a 298.5px,#5bc76f 310.5px,#42c685 324px)"></i><i style="top:203px;height:7.1px;background:linear-gradient(90deg,#12bfc2 0px,#12bcc8 55.5px,#12bfc1 66px,#18c1b5 69px,#27c39d 72px,#4fc879 75px,#a3bf3c 78px,#e9b232 81px,#fcc530 84px,#f8e31f 87px,#f8f41a 91.5px,#f8f41a 115.5px,#f8e21f 118.5px,#fabe32 121.5px,#f3b232 123px,#c7b931 126px,#89c349 130.5px,#70c55e 136.5px,#7dc454 177px,#6bc662 219px,#65c667 300px,#5dc76e 312px,#43c684 324px)"></i><i style="top:209.6px;height:7.1px;background:linear-gradient(90deg,#12bfc2 0px,#12bcc8 58.5px,#12bec4 64.5px,#18c1b4 69px,#3dc689 73.5px,#56c773 75px,#adbd39 78px,#f0b032 81px,#fbca2d 84px,#f8f41a 90px,#f8f41a 115.5px,#f8e71e 118.5px,#fcc331 121.5px,#e8b231 124.5px,#96c141 130.5px,#80c451 135px,#9dc03f 177px,#6dc560 232.5px,#65c667 303px,#5ec76d 312px,#44c683 324px)"></i><i style="top:216.2px;height:7.1px;background:linear-gradient(90deg,#12bfc3 0px,#12bcc9 55.5px,#17c1b7 69px,#24c2a0 72px,#49c77e 75px,#99c140 78px,#c0ba33 79.5px,#f4b432 82.5px,#fbc032 84px,#f8df21 87px,#f8f41a 91.5px,#f8f41a 115.5px,#fabe32 121.5px,#f3b332 123px,#a7be3b 129px,#8fc244 133.5px,#bbbb35 162px,#c2b933 177px,#92c242 208.5px,#71c55d 231px,#63c669 304.5px,#43c684 324px)"></i><i style="top:222.7px;height:7.1px;background:linear-gradient(90deg,#12bfc3 0px,#12bcc9 57px,#12bec4 66px,#18c1b6 70.5px,#24c2a0 73.5px,#47c780 76.5px,#8ec245 79.5px,#b2bc38 81px,#ecb132 84px,#fcc232 87px,#f8dd22 90px,#f8f41a 96px,#f8f21b 112.5px,#fcc232 118.5px,#eeb132 121.5px,#a5bf3c 127.5px,#8fc244 132px,#c9b830 160.5px,#d2b630 177px,#c6b931 189px,#94c241 210px,#6ac662 234px,#5cc76e 304.5px,#40c687 324px)"></i><i style="top:229.2px;height:7.1px;background:linear-gradient(90deg,#12bfc3 0px,#12bbca 52.5px,#12bec5 66px,#16c1b8 72px,#1fc2a7 75px,#48c77f 79.5px,#a4bf3c 84px,#ebb132 88.5px,#fcc331 93px,#f8e020 99px,#f8e41f 103.5px,#f8dc22 108px,#f4b432 115.5px,#c5b932 120px,#8fc245 124.5px,#71c55d 130.5px,#93c242 147px,#afbd39 160.5px,#babb35 175.5px,#b3bc38 184.5px,#92c242 201px,#67c665 219px,#52c876 235.5px,#4bc77d 303px,#37c58f 324px)"></i><i style="top:235.8px;height:7.1px;background:linear-gradient(90deg,#12bfc3 0px,#12bbca 54px,#12bfc2 70.5px,#19c1b2 76.5px,#22c2a2 79.5px,#44c683 84px,#95c141 90px,#ceb730 96px,#dfb431 102px,#cdb730 108px,#a3bf3c 112.5px,#4ec87a 120px,#38c58e 127.5px,#5ec76d 174px,#2fc496 231px,#28c39c 309px,#20c2a6 324px)"></i><i style="top:242.3px;height:7.1px;background:linear-gradient(90deg,#12bfc3 0px,#12bdc7 64.5px,#14c0bb 78px,#36c590 102px,#27c39d 108px,#13c0be 115.5px,#12bacd 126px,#12bfc2 180px,#12b8d0 235.5px,#12b9ce 324px)"></i><i style="top:248.9px;height:7.1px;background:linear-gradient(90deg,#12bec3 0px,#12bbca 55.5px,#12bfc2 78px,#1ca5e0 93px,#19acda 106.5px,#209fe4 129px,#209ee4 310.5px,#1ca6de 324px)"></i><i style="top:255.4px;height:7.1px;background:linear-gradient(90deg,#12bec3 0px,#12bdc6 78px,#16b1d6 82.5px,#2d83f0 90px,#3669ee 96px,#2397e7 109.5px,#278feb 304.5px,#219ce5 324px)"></i><i style="top:262px;height:7.1px;background:linear-gradient(90deg,#12bec3 0px,#12bdc7 76.5px,#18add9 81px,#2c86ef 85.5px,#4145e8 90px,#4135d1 93px,#4030c9 96px,#4135d1 99px,#4146e9 102px,#307cf1 106.5px,#2790eb 112.5px,#2a8aed 307.5px,#2398e7 324px)"></i><i style="top:268.6px;height:7.1px;background:linear-gradient(90deg,#12bec3 0px,#12bbca 76.5px,#1ea3e1 81px,#2e82f1 84px,#4048e9 87px,#4138d6 88.5px,#3e2eb5 91.5px,#3c2ba3 96px,#3e2db0 100.5px,#4137d5 103.5px,#4147e9 105px,#2e82f1 109.5px,#298dec 114px,#2b88ee 304.5px,#2497e7 324px)"></i><i style="top:275.1px;height:7.1px;background:linear-gradient(90deg,#12bec3 0px,#12bdc7 75px,#19abda 79.5px,#3277f1 84px,#413de0 87px,#4030c8 88.5px,#3d2cab 91.5px,#3b2a9c 96px,#3c2ba2 100.5px,#4030c6 103.5px,#3d53eb 106.5px,#307ef2 109.5px,#298cec 114px,#2b87ee 288px,#2a8aed 313.5px,#2496e7 324px)"></i><i style="top:281.6px;height:7.1px;background:linear-gradient(90deg,#12bfc3 0px,#12bbca 21px,#12bec3 72px,#12bbcb 76.5px,#18aed9 79.5px,#2f81f2 84px,#4145e8 87px,#4136d3 88.5px,#3e2db3 91.5px,#3c2ba1 96px,#3d2dad 100.5px,#4144e8 105px,#2e82f1 109.5px,#288dec 114px,#2b88ee 298.5px,#2397e7 324px)"></i><i style="top:288.2px;height:7.1px;background:linear-gradient(90deg,#12bfc3 0px,#12bcc7 76.5px,#19abda 81px,#2e83f1 85.5px,#4240e4 90px,#4031cb 93px,#3f2fc2 96px,#4138d6 100.5px,#3d53eb 103.5px,#2c85f0 108px,#2791ea 112.5px,#298cec 307.5px,#229ae6 324px)"></i><i style="top:294.8px;height:7.1px;background:linear-gradient(90deg,#12bfc3 0px,#12bec5 76.5px,#17afd8 82.5px,#2c86ef 88.5px,#3862ed 93px,#3a5bec 96px,#2d85f0 103.5px,#2299e6 111px,#2594e8 306px,#1fa0e3 324px)"></i><i style="top:301.3px;height:7.1px;background:linear-gradient(90deg,#12bfc3 0px,#12bec4 76.5px,#12b8d0 82.5px,#2691ea 94.5px,#1ea3e2 108px,#209ee4 301.5px,#1ba8dd 324px)"></i><i style="top:307.8px;height:7.1px;background:linear-gradient(90deg,#12bfc2 0px,#12bec4 75px,#1aa9dd 97.5px,#17afd8 324px)"></i><i style="top:314.4px;height:7.1px;background:linear-gradient(90deg,#12bfc2 0px,#12bec4 75px,#18add9 112.5px,#15b2d5 324px)"></i><i style="top:320.9px;height:7.1px;background:linear-gradient(90deg,#12bfc2 0px,#12bec3 72px,#17afd8 114px,#14b4d4 324px)"></i></div></div>
<div class="hm" style="left:502.1px;top:586.8px;width:317.1px;height:318.9px"><div class="hi" style="filter:blur(1.5px)"><i style="top:0px;height:7.1px;background:linear-gradient(90deg,#12c0c0 0px,#12c0c0 54px,#12bcc9 63px,#2692ea 72px,#317af1 79.5px,#3275f0 85.5px,#2e81f1 90px,#1ea2e2 96px,#12bcc9 99px,#2fc496 102px,#5fc76c 106.5px,#70c55e 109.5px,#77c458 115.5px,#5cc76e 129px,#31c494 136.5px,#12c0c0 141px,#1da4e1 147px,#278feb 153px,#2f80f2 172.5px,#2f7ff2 294px,#2593e9 324px)"></i><i style="top:6.5px;height:7.1px;background:linear-gradient(90deg,#12c0c0 0px,#12bdc5 61.5px,#15b3d4 66px,#2e83f1 75px,#3861ed 84px,#3764ee 87px,#2f81f2 91.5px,#1fa1e3 96px,#12bbc9 99px,#30c495 102px,#64c668 106.5px,#79c457 111px,#7bc454 117px,#60c76b 129px,#3dc689 135px,#12c0c1 141px,#1ea2e2 147px,#2b89ee 154.5px,#3178f1 180px,#3277f1 292.5px,#307ef2 310.5px,#2790ea 324px)"></i><i style="top:13.1px;height:7.1px;background:linear-gradient(90deg,#12c0c0 0px,#12c0c0 54px,#12bbc9 63px,#2e81f1 75px,#3f4cea 82.5px,#4145e8 85.5px,#3d52eb 88.5px,#2d84f0 93px,#12bbc9 99px,#30c495 102px,#65c667 106.5px,#7ac456 111px,#7dc453 117px,#72c55d 124.5px,#60c76b 129px,#3dc689 135px,#12bfc2 141px,#1fa1e3 147px,#2d85f0 156px,#3373f0 189px,#3371f0 286.5px,#3277f1 309px,#288eec 324px)"></i><i style="top:19.6px;height:7.1px;background:linear-gradient(90deg,#12c0c0 0px,#12c0c0 54px,#12bbc9 63px,#19acda 67.5px,#307ef2 75px,#423fe3 81px,#4033ce 84px,#413bdc 88.5px,#4048e9 90px,#298cec 94.5px,#12bbca 99px,#31c495 102px,#55c874 105px,#70c55e 108px,#7ac455 111px,#72c55c 124.5px,#3dc689 135px,#12bfc2 141px,#1fa0e3 147px,#2f81f2 159px,#3767ee 205.5px,#3766ee 289.5px,#356cef 309px,#2a89ee 324px)"></i><i style="top:26.2px;height:7.1px;background:linear-gradient(90deg,#12c0c0 0px,#12c0c0 54px,#12bbc9 63px,#19acda 67.5px,#3179f1 75px,#413de0 79.5px,#3e2eb7 84px,#3f2eba 87px,#4139d8 90px,#3f4be9 91.5px,#2b87ef 94.5px,#12bbca 99px,#31c495 102px,#55c874 105px,#70c55e 108px,#7ac455 111px,#72c55c 124.5px,#3dc58a 135px,#12bfc2 141px,#1fa0e3 147px,#2f80f2 159px,#3d53eb 198px,#3f4ae9 226.5px,#3e4eea 304.5px,#395fed 316.5px,#307df2 324px)"></i><i style="top:32.7px;height:7.1px;background:linear-gradient(90deg,#12c0c0 0px,#12c0c0 54px,#12bbc9 63px,#19acda 67.5px,#3275f0 75px,#4146e9 78px,#4136d3 79.5px,#3e2db2 82.5px,#3d2cac 85.5px,#3e2eb8 88.5px,#4031ca 90px,#4240e4 91.5px,#2e83f1 94.5px,#12bbcb 99px,#31c495 102px,#65c667 106.5px,#7ac455 111px,#7dc453 117px,#72c55c 124.5px,#60c76b 129px,#31c494 136.5px,#12bfc2 141px,#1fa0e3 147px,#2c87ef 154.5px,#3864ed 180px,#3f4cea 189px,#413bdc 196.5px,#4031ca 210px,#4031cb 303px,#4241e7 318px,#3960ed 324px)"></i><i style="top:39.2px;height:7.1px;background:linear-gradient(90deg,#12c0c0 0px,#12c0c0 54px,#12bbc9 63px,#18acda 67.5px,#3374f0 75px,#4242e8 78px,#4034cf 79.5px,#3d2dae 82.5px,#3d2cab 85.5px,#3e2eb5 88.5px,#423ee0 91.5px,#2e82f1 94.5px,#12bacb 99px,#30c495 102px,#65c667 106.5px,#7ac456 111px,#7dc453 117px,#60c76b 129px,#31c494 136.5px,#12bfc2 141px,#1fa0e3 147px,#2c87ef 154.5px,#366bef 174px,#4145e8 187.5px,#3f2fc3 198px,#3d2daf 208.5px,#3d2caa 219px,#3d2caa 295.5px,#3f2eba 312px,#4030c9 316.5px,#3f4dea 324px)"></i><i style="top:45.8px;height:7.1px;background:linear-gradient(90deg,#12c0c0 0px,#12c0c0 54px,#12bbc9 63px,#18acda 67.5px,#3276f0 75px,#4047e9 78px,#4137d5 79.5px,#3e2db3 82.5px,#3e2db1 87px,#3f2eba 88.5px,#4241e6 91.5px,#2d84f0 94.5px,#12bbcb 99px,#30c495 102px,#64c668 106.5px,#79c457 111px,#7cc454 117px,#5fc76c 129px,#3cc58a 135px,#12bfc2 141px,#1fa0e3 147px,#2c87ef 154.5px,#3768ee 175.5px,#4048e9 186px,#4030c7 195px,#3d2cab 205.5px,#3c2ba1 223.5px,#3d2ca8 306px,#4030c9 318px,#4048e9 324px)"></i><i style="top:52.3px;height:7.1px;background:linear-gradient(90deg,#12c0c0 0px,#12c0c0 54px,#12bcc9 63px,#18add9 67.5px,#307df2 75px,#4241e6 79.5px,#4030c5 82.5px,#3f2ebb 85.5px,#413cdd 90px,#3e50ea 91.5px,#2b89ee 94.5px,#12bbca 99px,#2fc496 102px,#61c66a 106.5px,#75c55a 111px,#78c457 115.5px,#70c55e 123px,#5bc76f 129px,#2fc496 136.5px,#12bec3 141px,#1fa0e3 147px,#2c87ef 154.5px,#3669ee 175.5px,#4145e8 187.5px,#3f2fc3 198px,#3d2caa 216px,#3d2ca9 294px,#3e2eb6 310.5px,#4030c8 316.5px,#3f4dea 324px)"></i><i style="top:58.8px;height:7.1px;background:linear-gradient(90deg,#12c0c0 0px,#12bcc8 63px,#2f7ff2 76.5px,#4242e8 82.5px,#413ddf 85.5px,#4047e9 88.5px,#2d83f0 93px,#12bcc9 99px,#2cc399 102px,#49c77e 105px,#61c66a 109.5px,#67c665 115.5px,#5fc76c 123px,#48c77f 130.5px,#27c39e 136.5px,#12bcc8 141px,#209fe4 147px,#2f80f2 159px,#3669ee 177px,#4146e9 190.5px,#4030c9 208.5px,#4031ca 306px,#4240e4 318px,#395eed 324px)"></i><i style="top:65.4px;height:7.1px;background:linear-gradient(90deg,#12c0c0 0px,#12bdc6 63px,#1ea2e2 72px,#3179f1 85.5px,#1ea2e2 94.5px,#12bcc8 99px,#27c39e 103.5px,#37c58f 108px,#32c493 124.5px,#19c1b3 135px,#12b8cf 139.5px,#1da5e0 144px,#2d84f0 153px,#4242e8 208.5px,#4242e8 301.5px,#3c54eb 316.5px,#3374f0 324px)"></i><i style="top:71.9px;height:7.1px;background:linear-gradient(90deg,#12c0c0 0px,#12c0c0 57px,#15b2d5 84px,#12bec4 102px,#13b7d1 123px,#1ba8dd 136.5px,#2f81f2 148.5px,#3960ed 159px,#4049e9 205.5px,#3f4be9 304.5px,#3b59ec 316.5px,#3276f0 324px)"></i><i style="top:78.5px;height:7.1px;background:linear-gradient(90deg,#12c0c0 0px,#15c0ba 66px,#2cc399 70.5px,#93c242 76.5px,#9fc03e 81px,#92c242 87px,#7dc453 91.5px,#2bc39a 99px,#16c0b9 102px,#12b9ce 105px,#18acda 111px,#1fa1e3 132px,#356bef 156px,#3960ed 168px,#3764ee 303px,#346fef 316.5px,#2d84f0 324px)"></i><i style="top:85px;height:7.1px;background:linear-gradient(90deg,#12c0c0 0px,#12c0c0 57px,#17c1b6 64.5px,#26c39e 67.5px,#40c687 69px,#76c559 70.5px,#bfba34 72px,#f2b032 73.5px,#fcc232 75px,#f8e120 78px,#f8e61e 84px,#f8dd22 88.5px,#f6b732 94.5px,#ccb830 97.5px,#a1bf3d 99px,#46c781 102px,#2cc398 103.5px,#12c0c0 106.5px,#13b6d1 109.5px,#18acda 115.5px,#1ca6df 135px,#298bed 162px,#2398e7 195px,#2299e6 304.5px,#1ea2e2 324px)"></i><i style="top:91.5px;height:7.1px;background:linear-gradient(90deg,#12c0c0 0px,#12c0c0 55.5px,#19c1b3 64.5px,#32c493 67.5px,#59c771 69px,#abbe3a 70.5px,#f3b132 72px,#f8f21a 75px,#f8f41a 76.5px,#f8f41a 93px,#f9dc23 96px,#fcc431 97.5px,#f4b432 99px,#adbd39 102px,#51c877 105px,#3bc58b 106.5px,#1ec2a9 109.5px,#12bfc2 114px,#13b6d2 171px,#13c0be 181.5px,#27c39e 192px,#31c494 204px,#32c494 309px,#26c29f 324px)"></i><i style="top:98.1px;height:7.1px;background:linear-gradient(90deg,#12c0c0 0px,#12c0c0 55.5px,#1ac1b1 64.5px,#21c2a4 66px,#37c58f 67.5px,#65c666 69px,#bcba34 70.5px,#f7b932 72px,#f8e41f 73.5px,#f8f41a 75px,#f8f41a 94.5px,#f8ef1c 96px,#fcc530 99px,#f4b432 100.5px,#b1bd38 103.5px,#88c34a 105px,#60c76b 106.5px,#46c781 108px,#22c2a2 112.5px,#19c1b3 118.5px,#24c2a0 136.5px,#22c2a2 162px,#2dc398 171px,#4ac77d 178.5px,#91c243 186px,#bbbb35 193.5px,#cbb830 202.5px,#cbb830 309px,#babb35 318px,#98c140 324px)"></i><i style="top:104.6px;height:7.1px;background:linear-gradient(90deg,#12c0c0 0px,#12c0c0 55.5px,#1ac1b1 64.5px,#21c2a4 66px,#38c58e 67.5px,#69c664 69px,#c1ba33 70.5px,#f8bb32 72px,#f8e81e 73.5px,#f8f41a 75px,#f8f41a 94.5px,#f8f21a 96px,#f5b632 100.5px,#b5bc37 103.5px,#8bc348 105px,#61c66a 106.5px,#46c781 108px,#20c2a6 112.5px,#16c1b8 120px,#32c493 139.5px,#38c58e 160.5px,#47c780 171px,#5fc76c 175.5px,#8ec246 180px,#bcba34 184.5px,#e3b331 190.5px,#f3b132 196.5px,#f4b332 310.5px,#ebb132 318px,#cbb830 324px)"></i><i style="top:111.1px;height:7.1px;background:linear-gradient(90deg,#12c0c0 0px,#12c0c0 55.5px,#1ac1b1 64.5px,#21c2a4 66px,#38c58e 67.5px,#6ac663 69px,#c2b933 70.5px,#f8bc32 72px,#f8e81d 73.5px,#f8f41a 75px,#f8f41a 94.5px,#f8f21b 96px,#f5b532 100.5px,#aebd39 103.5px,#54c875 106.5px,#3cc58a 108px,#1fc2a7 111px,#12c0c0 115.5px,#12c0c0 123px,#37c58f 141px,#4bc77c 169.5px,#63c669 174px,#8fc244 178.5px,#c0ba33 183px,#ecb132 189px,#f4b332 192px,#fabe32 211.5px,#f9bc32 309px,#f3b132 319.5px,#d9b531 324px)"></i><i style="top:117.7px;height:7.1px;background:linear-gradient(90deg,#12c0c0 0px,#12c0c0 55.5px,#1ac1b1 64.5px,#21c2a4 66px,#38c58e 67.5px,#6ac663 69px,#c2b932 70.5px,#f9bc32 72px,#f8e91d 73.5px,#f8f41a 75px,#f8f41a 94.5px,#f8f11b 96px,#fcc530 99px,#f3b332 100.5px,#a4bf3c 103.5px,#49c77f 106.5px,#20c2a5 109.5px,#12c0c0 112.5px,#12bacc 121.5px,#14c0bc 127.5px,#36c58f 141px,#4ec87a 169.5px,#76c559 175.5px,#95c141 178.5px,#c6b931 183px,#f4b332 190.5px,#fbc032 205.5px,#fbbf32 306px,#f2b032 321px,#ddb431 324px)"></i><i style="top:124.2px;height:7.1px;background:linear-gradient(90deg,#12c0c0 0px,#12c0c0 55.5px,#1ac1b1 64.5px,#21c2a4 66px,#38c58e 67.5px,#6ac663 69px,#c2b932 70.5px,#f9bc32 72px,#f8e91d 73.5px,#f8f41a 75px,#f8f41a 94.5px,#f8f01b 96px,#fcc232 99px,#f2b132 100.5px,#cdb730 102px,#9bc03f 103.5px,#66c666 105px,#41c686 106.5px,#1bc1af 109.5px,#12bcc8 112.5px,#14b5d3 117px,#12b8d0 123px,#14c0bc 129px,#36c590 141px,#4fc879 169.5px,#6ac662 174px,#97c140 178.5px,#c8b831 183px,#f2b032 189px,#f6b632 192px,#fbc132 207px,#fbc032 307.5px,#f2b132 321px,#deb431 324px)"></i><i style="top:130.8px;height:7.1px;background:linear-gradient(90deg,#12c0c0 0px,#12c0c0 55.5px,#1ac1b1 64.5px,#21c2a4 66px,#38c58e 67.5px,#6ac663 69px,#c2b933 70.5px,#f8bc32 72px,#f8e81e 73.5px,#f8f41a 75px,#f8f41a 94.5px,#f8ef1b 96px,#fbc132 99px,#f0b032 100.5px,#c9b830 102px,#96c141 103.5px,#5fc76c 105px,#3cc58a 106.5px,#24c2a0 108px,#12bec3 111px,#15b3d4 115.5px,#15b3d4 121.5px,#12c0c0 129px,#22c2a2 135px,#38c58e 142.5px,#50c878 169.5px,#78c457 175.5px,#97c140 178.5px,#c8b831 183px,#f2b032 189px,#f6b632 192px,#fbc132 208.5px,#fbc032 307.5px,#f2b032 321px,#deb431 324px)"></i><i style="top:137.3px;height:7.1px;background:linear-gradient(90deg,#12c0c0 0px,#12c0c0 55.5px,#1ac1b1 64.5px,#21c2a4 66px,#38c58e 67.5px,#68c664 69px,#c0ba33 70.5px,#f8bb32 72px,#f8e71e 73.5px,#f8f41a 75px,#f8f41a 94.5px,#f8ee1c 96px,#fbc032 99px,#efb132 100.5px,#c7b831 102px,#94c241 103.5px,#5dc76e 105px,#3bc58b 106.5px,#23c2a1 108px,#12bec4 111px,#15b3d4 115.5px,#14b5d3 123px,#12c0c0 129px,#22c2a2 135px,#38c58e 142.5px,#50c878 169.5px,#77c458 175.5px,#96c141 178.5px,#c7b931 183px,#f0b032 189px,#f5b532 192px,#fbc032 210px,#fabe32 309px,#f4b332 319.5px,#dcb431 324px)"></i><i style="top:143.8px;height:7.1px;background:linear-gradient(90deg,#12c0c0 0px,#12c0c0 55.5px,#1ac1b1 64.5px,#36c590 67.5px,#64c668 69px,#babb35 70.5px,#f6b832 72px,#f8e31f 73.5px,#f8f41a 75px,#f8f41a 94.5px,#f8ea1d 96px,#fabe32 99px,#ebb132 100.5px,#c4b932 102px,#93c242 103.5px,#5ec76c 105px,#3dc689 106.5px,#26c39e 108px,#12c0c0 111px,#12b8d0 114px,#12b7d1 123px,#14c0bd 129px,#24c2a0 135px,#39c58d 142.5px,#4fc879 169.5px,#68c664 174px,#93c242 178.5px,#c1ba33 183px,#ebb132 189px,#f5b532 193.5px,#f9bd32 213px,#f8ba32 310.5px,#f2b032 319.5px,#d7b531 324px)"></i><i style="top:150.4px;height:7.1px;background:linear-gradient(90deg,#12c0c0 0px,#12c0c0 55.5px,#19c1b3 64.5px,#31c495 67.5px,#54c875 69px,#a4bf3c 70.5px,#ecb132 72px,#fbcd2b 73.5px,#f8ec1c 75px,#f8f41a 76.5px,#f8f31a 93px,#f5b532 99px,#b5bc37 102px,#88c34a 103.5px,#59c770 105px,#3ec689 106.5px,#1dc1ac 109.5px,#12bfc3 112.5px,#12b9cf 120px,#14c0bc 127.5px,#38c58e 141px,#4ec87a 169.5px,#6fc55e 175.5px,#99c140 180px,#c3b932 184.5px,#e5b331 190.5px,#f2b032 195px,#f4b332 310.5px,#eeb132 316.5px,#cab830 324px)"></i><i style="top:156.9px;height:7.1px;background:linear-gradient(90deg,#12c0c0 0px,#12c0c0 57px,#1bc1af 66px,#23c2a1 67.5px,#3bc58b 69px,#66c666 70.5px,#aabe3a 72px,#deb431 73.5px,#f6b732 75px,#fcc132 76.5px,#fad129 79.5px,#fad427 85.5px,#fcc331 91.5px,#f1b032 96px,#c7b931 99px,#a7be3b 100.5px,#47c780 105px,#1fc2a8 109.5px,#12c0bf 114px,#12bfc2 121.5px,#33c493 136.5px,#3fc687 144px,#50c878 171px,#67c665 175.5px,#97c140 181.5px,#cbb830 189px,#dfb431 198px,#e1b331 306px,#d1b730 318px,#aebd39 324px)"></i><i style="top:163.5px;height:7.1px;background:linear-gradient(90deg,#12c0c0 0px,#12c0c0 58.5px,#16c1b8 66px,#2dc398 70.5px,#72c55c 75px,#91c243 78px,#a0bf3d 85.5px,#95c241 93px,#49c77e 102px,#27c39d 108px,#19c1b3 117px,#1ec2a9 124.5px,#43c684 141px,#51c877 171px,#91c243 183px,#b0bd38 189px,#c6b931 202.5px,#c1ba33 307.5px,#b4bc37 316.5px,#8ec245 324px)"></i><i style="top:170px;height:7.1px;background:linear-gradient(90deg,#12c0c0 0px,#14c0bd 66px,#2ac39a 76.5px,#4ac77d 94.5px,#30c495 120px,#54c875 142.5px,#5bc76f 171px,#92c242 184.5px,#adbd39 198px,#a0c03e 309px,#91c243 318px,#71c55d 324px)"></i><i style="top:176.5px;height:7.1px;background:linear-gradient(90deg,#12c0c0 0px,#15c0b9 70.5px,#25c29f 81px,#72c55c 96px,#7fc451 100.5px,#75c55a 123px,#82c34f 145.5px,#76c559 169.5px,#adbd39 193.5px,#94c241 235.5px,#8fc245 307.5px,#7fc452 318px,#61c66a 324px)"></i><i style="top:183.1px;height:7.1px;background:linear-gradient(90deg,#12c0c0 0px,#13c0be 66px,#21c2a4 78px,#4bc77c 84px,#91c243 88.5px,#a5bf3c 90px,#c7b931 93px,#e3b331 97.5px,#f5b532 106.5px,#f0b032 120px,#c0ba33 141px,#a1bf3d 165px,#9ec03e 174px,#beba34 192px,#9bc03f 216px,#8fc244 232.5px,#84c34e 310.5px,#76c559 318px,#5bc76f 324px)"></i><i style="top:189.6px;height:7.1px;background:linear-gradient(90deg,#12c0c0 0px,#13c0bf 61.5px,#1cc1ad 73.5px,#31c494 78px,#4fc879 81px,#90c244 84px,#b0bd38 85.5px,#e5b331 88.5px,#f4b432 90px,#fbc72f 93px,#f8e51e 97.5px,#f8f41a 103.5px,#f8f31a 118.5px,#f8e21f 126px,#fcc132 133.5px,#f2b032 141px,#d5b631 151.5px,#b9bb35 171px,#ccb830 190.5px,#9cc03f 216px,#8bc347 234px,#81c450 307.5px,#75c55a 316.5px,#56c773 324px)"></i><i style="top:196.1px;height:7.1px;background:linear-gradient(90deg,#12c0c0 0px,#13c0bf 60px,#1ec1aa 72px,#47c780 78px,#aabe3a 82.5px,#ebb132 85.5px,#fbca2d 88.5px,#f8f41a 93px,#f8f41a 130.5px,#fcc332 141px,#f2b032 148.5px,#c7b831 171px,#cbb830 193.5px,#9ec03e 213px,#8ac348 228px,#7ac456 307.5px,#6ec560 316.5px,#50c878 324px)"></i><i style="top:202.7px;height:7.1px;background:linear-gradient(90deg,#12c0c0 0px,#12c0c0 55.5px,#15c0bb 64.5px,#1dc1ab 70.5px,#2ac39a 73.5px,#46c781 76.5px,#5dc76d 78px,#a8be3b 81px,#edb132 84px,#fad02a 87px,#f8f31a 90px,#f8f41a 135px,#fcc332 144px,#f1b032 151.5px,#c7b831 174px,#c6b931 190.5px,#81c450 228px,#72c55d 303px,#69c664 313.5px,#4ac77d 324px)"></i><i style="top:209.2px;height:7.1px;background:linear-gradient(90deg,#12c0c0 0px,#12c0c0 55.5px,#15c0bb 64.5px,#1dc1aa 70.5px,#47c780 76.5px,#5fc76b 78px,#aabe3a 81px,#efb132 84px,#fad129 87px,#f8f41a 90px,#f8f41a 135px,#fcc331 144px,#f1b032 151.5px,#c4b932 174px,#b6bc36 195px,#7cc454 225px,#70c55d 243px,#69c664 304.5px,#60c76b 313.5px,#46c781 324px)"></i><i style="top:215.8px;height:7.1px;background:linear-gradient(90deg,#12c0c0 0px,#13c0bf 60px,#1ec2a9 72px,#4ac77d 78px,#8cc347 81px,#d3b630 84px,#f0b032 85.5px,#face2b 88.5px,#f8f41a 93px,#f8f41a 132px,#fcc332 141px,#efb132 148.5px,#b9bb35 174px,#adbd39 193.5px,#73c55b 225px,#66c666 247.5px,#61c66a 303px,#42c685 324px)"></i><i style="top:222.3px;height:7.1px;background:linear-gradient(90deg,#12c0c0 0px,#13c0bf 61.5px,#1dc1ac 73.5px,#28c39c 76.5px,#52c876 81px,#93c242 84px,#b1bc38 85.5px,#f3b332 90px,#fcc431 93px,#f9dc22 96px,#f8f41a 102px,#f8f41a 120px,#fbbf32 133.5px,#efb132 139.5px,#c5b931 151.5px,#9fc03e 171px,#92c242 193.5px,#59c770 226.5px,#4cc77c 306px,#38c58e 324px)"></i><i style="top:228.8px;height:7.1px;background:linear-gradient(90deg,#12c0c0 0px,#13c0bf 64.5px,#20c2a6 78px,#52c876 87px,#9cc03f 94.5px,#e0b431 102px,#f2b132 108px,#deb431 120px,#c7b931 126px,#7ac456 142.5px,#4cc87b 169.5px,#29c39b 234px,#1ec2a9 324px)"></i><i style="top:235.4px;height:7.1px;background:linear-gradient(90deg,#12c0c0 0px,#12c0c0 61.5px,#18c1b5 79.5px,#12b9cf 93px,#15c0bb 99px,#27c39d 103.5px,#33c492 108px,#15c0ba 133.5px,#12bacd 175.5px,#14b4d4 324px)"></i><i style="top:241.9px;height:7.1px;background:linear-gradient(90deg,#12c0c0 0px,#12c0c0 76.5px,#12b9cf 81px,#219ce5 87px,#2c85f0 94.5px,#19abdb 108px,#1f9fe3 130.5px,#2593e9 235.5px,#2593e9 306px,#209fe4 324px)"></i><i style="top:248.4px;height:7.1px;background:linear-gradient(90deg,#12c0c0 0px,#12bfc2 75px,#14b5d3 79.5px,#3179f1 87px,#3c56eb 90px,#4242e7 94.5px,#4048e9 97.5px,#2b88ee 105px,#2496e8 109.5px,#298cec 126px,#2c86ef 213px,#2c86ef 307.5px,#2595e8 324px)"></i><i style="top:255px;height:7.1px;background:linear-gradient(90deg,#12c0c0 0px,#12c0c0 70.5px,#12bbcb 76.5px,#18add9 79.5px,#2e82f1 84px,#413de0 88.5px,#4030c5 91.5px,#3f2eba 94.5px,#3f2fbe 97.5px,#4242e7 102px,#307cf1 106.5px,#288eec 112.5px,#2d84f0 130.5px,#2e81f1 285px,#2d84f0 313.5px,#2692ea 324px)"></i><i style="top:261.5px;height:7.1px;background:linear-gradient(90deg,#12c0c0 0px,#12bcc7 75px,#1ba7de 79.5px,#356eef 84px,#413bdc 87px,#3e2eb9 90px,#3d2caa 93px,#3c2ca6 97.5px,#4032cc 102px,#423fe2 103.5px,#307cf1 108px,#2a8aed 112.5px,#2e81f1 136.5px,#2f80f2 294px,#2d83f0 313.5px,#2791ea 324px)"></i><i style="top:268.1px;height:7.1px;background:linear-gradient(90deg,#12c0c0 0px,#12c0c0 69px,#12bcc8 75px,#1da5e0 79.5px,#2d83f0 82.5px,#3765ee 84px,#4146e9 85.5px,#4136d3 87px,#3e2db2 90px,#3c2ba2 94.5px,#3c2ba3 99px,#3f2fc1 102px,#3f4be9 105px,#3276f0 108px,#2b89ee 112.5px,#2e81f1 127.5px,#2f80f2 301.5px,#2791ea 324px)"></i><i style="top:274.6px;height:7.1px;background:linear-gradient(90deg,#12c0c0 0px,#12bcc7 75px,#1ca6de 79.5px,#2c86ef 82.5px,#366bef 84px,#4139d8 87px,#3e2eb6 90px,#3c2ba3 94.5px,#3d2ca8 99px,#4030c7 102px,#3e50ea 105px,#3179f1 108px,#2b89ee 112.5px,#2f80f2 138px,#2f80f2 300px,#2791ea 324px)"></i><i style="top:281.1px;height:7.1px;background:linear-gradient(90deg,#12c0c0 0px,#12bdc6 75px,#19abda 79.5px,#307ef2 84px,#4147e9 87px,#4139d7 88.5px,#3f2ebc 91.5px,#3e2db1 94.5px,#3e2eb4 97.5px,#4032cb 100.5px,#3f4cea 103.5px,#2e82f1 108px,#2a8aed 111px,#2e81f1 130.5px,#2e81f1 306px,#2691ea 324px)"></i><i style="top:287.7px;height:7.1px;background:linear-gradient(90deg,#12c0c0 0px,#12c0c0 70.5px,#12bcc8 76.5px,#1aa9dc 81px,#2e81f2 85.5px,#4144e8 90px,#4136d3 94.5px,#423fe2 99px,#2d85f0 106.5px,#288eec 111px,#2d83f0 132px,#2d83f0 306px,#2693e9 324px)"></i><i style="top:294.2px;height:7.1px;background:linear-gradient(90deg,#12c0c0 0px,#12bec4 76.5px,#15b3d4 81px,#2e82f1 88.5px,#3960ed 94.5px,#2496e8 108px,#298cec 129px,#2a89ee 300px,#2398e7 324px)"></i><i style="top:300.7px;height:7.1px;background:linear-gradient(90deg,#12c0c0 0px,#12c0c1 75px,#12bacc 81px,#2790eb 94.5px,#1aa9dc 108px,#1ba8dd 166.5px,#229ae6 205.5px,#229ae6 306px,#1da4e0 324px)"></i><i style="top:307.3px;height:7.1px;background:linear-gradient(90deg,#12c0c0 0px,#12c0c0 76.5px,#18acda 94.5px,#12c0c0 111px,#24c2a0 129px,#2ac39a 150px,#22c2a2 168px,#12c0c0 181.5px,#14b4d4 195px,#14b4d4 324px)"></i><i style="top:313.8px;height:7.1px;background:linear-gradient(90deg,#12c0c0 0px,#12c0c0 79.5px,#12bbca 94.5px,#1fc2a7 109.5px,#55c874 129px,#63c668 150px,#4bc77c 171px,#1bc1af 187.5px,#12bdc7 202.5px,#12bcc8 324px)"></i><i style="top:320.4px;height:7.1px;background:linear-gradient(90deg,#12c0c0 0px,#13c0be 96px,#21c2a3 108px,#6ac662 129px,#79c456 150px,#6bc662 166.5px,#21c2a4 187.5px,#12c0c1 205.5px,#12bfc2 324px)"></i></div></div>
<div class="hm" style="left:1001.5px;top:586px;width:315.9px;height:319.4px"><div class="hi" style="filter:blur(1.5px)"><i style="top:0px;height:8.4px;background:linear-gradient(90deg,#f5b1a1 0px,#f9d2c5 7.5px,#fdefeb 9px,#f9cfc1 12px,#f3a595 13.5px,#f4a999 15px,#fad6ca 21px,#fef7f4 24px,#edf3fd 25.5px,#b0c8f8 27px,#8aadf3 36px,#b9cef9 39px,#fefaf8 40.5px,#f9d1c3 45px,#f8c5b5 48px,#fad9ce 52.5px,#fdf2ee 54px,#fdf1ed 57px,#fbe1d9 58.5px,#fefeff 63px,#e5edfd 66px,#bdd1f9 67.5px,#bdd1f9 69px,#c4d6fa 72px,#e1eafc 75px,#fdece7 76.5px,#fef8f6 87px,#fafbff 88.5px,#ccdbfa 90px,#b2c9f8 94.5px,#b9cef9 97.5px,#fffbfa 105px,#fce4dc 111px,#fefaf9 115.5px,#e4ecfd 117px,#edf2fd 120px,#fce8e1 121.5px,#fffdfd 124.5px,#d9e5fc 126px,#fdf1ed 130.5px,#fffefe 132px,#edf3fd 133.5px,#a6c1f7 135px,#a5c1f7 139.5px,#c2d5fa 142.5px,#ffffff 144px,#f1f5fe 147px,#d8e4fc 148.5px,#e1eafc 151.5px,#f8fafe 153px,#e1eafc 156px,#b8cef9 157.5px,#c1d4f9 166.5px,#739df1 175.5px,#557de3 193.5px,#3a50c0 199.5px,#3a50c0 202.5px,#527ae1 208.5px,#3a50c0 213px,#496bd5 231px,#3c53c3 240px,#4f76de 253.5px,#3a50c0 258px,#3b51c1 267px,#4665d1 270px,#5a83e5 271.5px,#547de2 276px,#496bd6 279px,#3a50c0 280.5px,#3a50c0 291px,#4768d3 298.5px,#405ac8 303px,#5881e4 307.5px,#4d73dc 312px,#6791ec 322.5px)"></i><i style="top:7.8px;height:8.4px;background:linear-gradient(90deg,#f9cfc1 0px,#fad7cc 7.5px,#fce5dd 9px,#f5b1a1 13.5px,#f5b2a2 15px,#f9d2c4 21px,#fdf1ec 24px,#f5f8fe 25.5px,#b7cdf9 27px,#93b3f4 34.5px,#94b4f5 36px,#b8cef9 39px,#eef3fd 40.5px,#fffcfb 42px,#f9d2c5 45px,#f8c9b9 48px,#fce9e3 54px,#fce4dc 58.5px,#fffffe 63px,#ecf2fd 66px,#d0defb 67.5px,#c9dafa 72px,#fdf1ed 76.5px,#fffcfc 87px,#f6f9fe 88.5px,#d0defb 90px,#bdd1f9 97.5px,#d5e2fb 102px,#ffffff 105px,#fbe1d9 111px,#fef3f0 115.5px,#eff4fe 117px,#eff4fe 120px,#fdece6 121.5px,#fef8f6 123px,#fafcff 124.5px,#d3e0fb 126px,#dee8fc 129px,#f6f9fe 130.5px,#d8e4fc 133.5px,#a2bef6 135px,#c0d3f9 142.5px,#ebf1fd 144px,#d2e0fb 148.5px,#dee8fc 151.5px,#f7fafe 153px,#e3ecfd 156px,#c3d5fa 157.5px,#b7cdf9 166.5px,#91b2f4 171px,#628ce9 181.5px,#517ae1 193.5px,#3a50c0 199.5px,#4a6cd7 208.5px,#3a50c0 213px,#4360cd 231px,#3a50c0 235.5px,#3b52c2 249px,#4869d4 253.5px,#3a50c0 258px,#3a50c0 268.5px,#3c53c3 270px,#4b6fd9 271.5px,#4c71da 274.5px,#3a50c0 280.5px,#3b52c2 303px,#4d73dc 307.5px,#4360cd 312px,#5f88e8 322.5px)"></i><i style="top:15.6px;height:8.4px;background:linear-gradient(90deg,#fdede7 0px,#f6bcac 16.5px,#fad4c8 22.5px,#fdfeff 25.5px,#c0d3f9 27px,#95b5f5 33px,#a9c3f7 37.5px,#fef7f4 43.5px,#fad4c8 45px,#f9cdbe 48px,#fbe2d9 49.5px,#fce7e0 58.5px,#fffdfd 63px,#ceddfb 72px,#fef6f4 76.5px,#fef9f8 85.5px,#f1f5fe 88.5px,#d3e1fb 90px,#b4cbf8 99px,#fffcfc 106.5px,#fbe1d8 112.5px,#f3f7fe 117px,#eef3fd 120px,#fdf2ee 121.5px,#fffefe 123px,#f1f5fe 124.5px,#cbdbfa 126px,#d7e3fb 130.5px,#c2d5fa 133.5px,#9ebbf6 135px,#bdd1f9 142.5px,#d4e1fb 144px,#cbdbfa 148.5px,#d8e4fc 151.5px,#f5f8fe 153px,#e5edfd 156px,#ccdbfa 157.5px,#92b3f4 171px,#92b3f4 175.5px,#638dea 181.5px,#5078e0 193.5px,#3a50c0 199.5px,#4462cf 208.5px,#3a50c0 213px,#3a50c0 250.5px,#4360cd 253.5px,#3a50c0 258px,#3a50c0 270px,#4360cd 274.5px,#3a50c0 279px,#3a50c0 303px,#4768d3 307.5px,#3b52c1 312px,#5a83e5 322.5px)"></i><i style="top:23.4px;height:8.4px;background:linear-gradient(90deg,#eef3fe 0px,#fffefe 3px,#f9d0c2 9px,#f6bbab 18px,#f9cdbf 22.5px,#fefbf9 25.5px,#c8d9fa 27px,#97b7f5 33px,#bcd0f9 40.5px,#fbfcff 43.5px,#fad6cb 45px,#f9d1c3 48px,#fcebe5 49.5px,#fad9ce 54px,#feffff 64.5px,#e8effd 70.5px,#d3e0fb 72px,#e2ebfc 75px,#fffcfb 76.5px,#fcfdff 85.5px,#d3e0fb 90px,#bfd3f9 97.5px,#a5c0f7 99px,#b8cef9 102px,#d8e4fc 103.5px,#fefaf8 109.5px,#fce9e2 112.5px,#fef9f7 115.5px,#e4ecfd 120px,#fffefe 121.5px,#e1eafc 124.5px,#bcd0f9 126px,#a7c2f7 133.5px,#94b4f5 135px,#b3caf8 139.5px,#bed2f9 148.5px,#cddcfb 151.5px,#edf2fd 153px,#9dbbf6 166.5px,#8daff4 171px,#9cbaf6 175.5px,#638dea 181.5px,#5078e0 193.5px,#3a50c0 199.5px,#415cca 208.5px,#3a50c0 303px,#4360cd 307.5px,#3a50c0 313.5px,#496bd6 316.5px,#567fe3 322.5px)"></i><i style="top:31.2px;height:8.4px;background:linear-gradient(90deg,#c3d6fa 0px,#fef7f4 6px,#f8c6b6 9px,#f7c4b4 12px,#fad6ca 13.5px,#f6b7a7 18px,#f8c6b6 22.5px,#fef5f2 25.5px,#d1dffb 27px,#99b8f5 31.5px,#9fbcf6 34.5px,#b6ccf9 36px,#b9cef9 39px,#a5c1f7 40.5px,#ebf1fd 43.5px,#fad9cd 45px,#fad5c9 48px,#fef4f1 49.5px,#f9d1c4 54px,#fef9f7 61.5px,#feffff 69px,#d6e3fb 72px,#e1eafc 75px,#f9fbfe 76.5px,#ebf1fd 85.5px,#ccdcfb 90px,#d0dffb 94.5px,#b5ccf8 97.5px,#8fb1f4 99px,#fffefd 112.5px,#cbdbfa 120px,#e2ebfc 121.5px,#c4d6fa 124.5px,#a3bff6 126px,#88acf3 130.5px,#80a6f2 135px,#8eb0f4 138px,#a9c3f7 139.5px,#94b4f5 144px,#9bb9f5 147px,#b6cdf9 151.5px,#dae5fc 153px,#b6ccf9 160.5px,#82a8f2 166.5px,#84a9f3 174px,#9cbaf5 175.5px,#5f89e8 181.5px,#4e74dd 195px,#3c54c3 199.5px,#425fcc 213px,#3a50c0 217.5px,#3a50c0 243px,#425ecb 244.5px,#3a50c0 249px,#3a50c0 301.5px,#405cc9 307.5px,#3a50c0 315px,#4767d3 316.5px,#537ce2 322.5px)"></i><i style="top:39px;height:8.4px;background:linear-gradient(90deg,#a0bdf6 0px,#fdfeff 6px,#fdece7 7.5px,#f6bdad 9px,#f7c2b2 12px,#fbe2d9 13.5px,#f9d1c4 16.5px,#f5b5a5 18px,#f7c0b0 22.5px,#fdf0eb 25.5px,#d9e4fc 27px,#9bb9f5 31.5px,#a4c0f7 34.5px,#c4d6fa 36px,#bacff9 39px,#93b3f4 40.5px,#dce6fc 43.5px,#fadcd1 45px,#fad9cf 48px,#fffcfc 49.5px,#fce6df 52.5px,#f8cbbc 54px,#fefbf9 61.5px,#fdede8 67.5px,#fffdfd 70.5px,#dae5fc 72px,#eef3fd 76.5px,#c2d5fa 90px,#cbdbfa 94.5px,#a9c3f7 97.5px,#77a0f1 99px,#9cbaf6 103.5px,#a6c1f7 108px,#d7e3fb 112.5px,#b0c8f8 117px,#a6c1f7 120px,#b3caf8 121.5px,#7ca3f2 126px,#6089e8 130.5px,#6e99f0 138px,#91b2f4 139.5px,#85aaf3 142.5px,#6d98ef 144px,#77a0f1 147px,#9dbbf6 151.5px,#bfd3f9 153px,#a3bef6 160.5px,#6893ed 166.5px,#709bf0 174px,#92b3f4 175.5px,#5981e4 181.5px,#608ae8 186px,#4f76de 195px,#3f59c7 199.5px,#3d56c5 208.5px,#4869d4 213px,#3a50c0 217.5px,#3a50c0 243px,#4564d0 244.5px,#3a50c0 249px,#405cc9 253.5px,#3a50c0 315px,#4665d1 316.5px,#527ae1 322.5px)"></i><i style="top:46.8px;height:8.4px;background:linear-gradient(90deg,#b4caf8 0px,#fffcfb 6px,#fceae4 7.5px,#f8c5b5 9px,#f8c5b5 12px,#fbded4 13.5px,#f6b9a9 18px,#f8c8b8 22.5px,#fef7f5 25.5px,#d1dffb 27px,#9ab9f5 31.5px,#a5c0f7 34.5px,#c7d8fa 36px,#bdd1f9 39px,#94b4f5 40.5px,#d7e3fb 43.5px,#fce8e1 45px,#fbded4 48px,#fdf2ef 49.5px,#f9d1c3 54px,#fef3f0 60px,#fcebe6 67.5px,#fef9f7 70.5px,#e8effd 72px,#bfd2f9 84px,#bacff9 94.5px,#9bb9f5 97.5px,#6e99f0 99px,#8eb0f4 108px,#b4cbf8 112.5px,#5a83e5 126px,#4c71db 130.5px,#4b70d9 135px,#6792ec 139.5px,#658feb 147px,#80a6f2 151.5px,#a1bdf6 153px,#628ce9 166.5px,#6792ec 174px,#7ea5f2 175.5px,#537ce2 181.5px,#5078e0 195px,#3e58c6 199.5px,#4463cf 213px,#3a50c0 217.5px,#425ecc 235.5px,#3a50c0 241.5px,#4361cd 244.5px,#3a50c0 250.5px,#4463cf 253.5px,#3a50c0 262.5px,#3a50c0 301.5px,#4462ce 307.5px,#3a50c0 313.5px,#537be1 322.5px)"></i><i style="top:54.6px;height:8.4px;background:linear-gradient(90deg,#cadafa 0px,#fef7f5 6px,#f9cdbe 9px,#f8c9b9 12px,#fadbd0 13.5px,#f7beae 18px,#f9d0c2 22.5px,#ffffff 25.5px,#c9d9fa 27px,#a3bff6 30px,#a7c1f7 34.5px,#cbdbfa 36px,#c1d4fa 39px,#96b6f5 40.5px,#fef5f2 45px,#fbe2d9 48px,#fce9e2 49.5px,#fad7cb 54px,#fdf1ec 60px,#fce7e0 63px,#fef4f0 70.5px,#e5edfd 75px,#cddcfb 76.5px,#aec7f8 84px,#b1c9f8 94.5px,#95b5f5 97.5px,#6d98ef 99px,#78a0f1 106.5px,#8caff4 111px,#a2bef6 112.5px,#4869d4 126px,#3c53c3 135px,#547de2 139.5px,#517ae1 144px,#6d97ef 151.5px,#8caef4 153px,#6690ec 162px,#6893ed 174px,#7ea5f2 175.5px,#5780e4 181.5px,#5b84e6 195px,#4563cf 199.5px,#4e74dc 204px,#4361cd 208.5px,#486ad4 213px,#3c54c4 225px,#4f75de 235.5px,#3f59c7 249px,#5179e0 253.5px,#4c71da 261px,#3a50c0 267px,#4564d0 271.5px,#3e57c5 280.5px,#4b6fd8 289.5px,#3a50c0 294px,#3a50c0 298.5px,#5077df 307.5px,#405bc9 312px,#5078e0 316.5px,#5b84e6 322.5px)"></i><i style="top:62.4px;height:8.4px;background:linear-gradient(90deg,#e1eafc 0px,#fffefd 4.5px,#fad5c9 9px,#f9cdbf 12px,#fad8cd 13.5px,#f7c3b3 18px,#fad8cd 22.5px,#fdefea 24px,#f5f8fe 25.5px,#c2d4fa 27px,#a0bdf6 30px,#a9c3f7 34.5px,#d0defb 36px,#c6d7fa 39px,#98b7f5 40.5px,#ccdcfb 43.5px,#fbfcff 45px,#fadacf 51px,#fdefea 61.5px,#fbddd4 63px,#fefaf9 72px,#ebf1fd 75px,#c0d3f9 76.5px,#adc6f8 81px,#9fbcf6 88.5px,#afc7f8 94.5px,#96b5f5 97.5px,#709af0 99px,#709bf0 106.5px,#8aadf3 111px,#a4bff6 112.5px,#92b3f4 117px,#5f89e8 121.5px,#3e57c5 135px,#527ae1 139.5px,#5881e4 148.5px,#7aa2f1 153px,#638dea 162px,#6e99ef 171px,#7ba3f2 174px,#97b6f5 175.5px,#6a94ed 181.5px,#8aadf3 193.5px,#5f88e8 199.5px,#759ef1 204px,#5e87e7 208.5px,#577fe3 226.5px,#6b95ee 234px,#7ea5f2 235.5px,#5e87e7 249px,#6892ec 252px,#82a7f2 253.5px,#80a6f2 256.5px,#779ff1 261px,#527ae1 267px,#6a95ed 271.5px,#628ce9 280.5px,#6f9af0 289.5px,#547ce2 294px,#5f88e8 301.5px,#7ea5f2 307.5px,#618be9 312px,#7da4f2 322.5px)"></i><i style="top:70.2px;height:8.4px;background:linear-gradient(90deg,#f7f9fe 0px,#fffdfc 3px,#f9d2c5 12px,#f8c9b9 18px,#fbe0d7 22.5px,#fef7f4 24px,#eaf0fd 25.5px,#bbd0f9 27px,#9dbaf6 30px,#acc5f7 34.5px,#d5e2fb 36px,#cadafa 39px,#9bb9f5 40.5px,#fffcfb 46.5px,#fad7cb 49.5px,#fad7cb 52.5px,#fdefea 57px,#fceae4 61.5px,#f9d4c7 63px,#fefbfa 73.5px,#f2f6fe 75px,#b4cbf8 76.5px,#9bb9f5 84px,#b4cbf8 94.5px,#9cbaf6 97.5px,#7aa2f1 99px,#6c97ee 103.5px,#96b6f5 111px,#b6ccf9 112.5px,#b4cbf8 117px,#93b4f4 120px,#6b95ee 121.5px,#5c85e6 126px,#658feb 130.5px,#4869d4 135px,#577fe3 139.5px,#4e75de 148.5px,#6a94ed 153px,#5b84e6 157.5px,#618be9 162px,#6b96ee 165px,#86aaf3 166.5px,#9cbaf6 174px,#b9cef9 175.5px,#95b5f5 181.5px,#e6edfd 193.5px,#e6edfd 195px,#c3d5fa 198px,#9cbaf6 199.5px,#b7cdf9 202.5px,#d7e3fb 204px,#bed1f9 207px,#9ab9f5 208.5px,#97b6f5 216px,#aec6f8 222px,#8fb1f4 226.5px,#93b4f4 229.5px,#bed2f9 234px,#e9f0fd 235.5px,#e9effd 238.5px,#cadafa 243px,#a9c3f7 244.5px,#a4bff6 247.5px,#bfd3f9 252px,#ebf1fd 253.5px,#e0e9fc 261px,#90b1f4 267px,#a7c2f7 270px,#ceddfb 271.5px,#bdd1f9 279px,#d5e1fb 288px,#b7cdf9 292.5px,#96b5f5 294px,#aac4f7 301.5px,#e6eefd 307.5px,#d3e0fb 310.5px,#b5cbf8 312px,#c8d9fa 316.5px,#c3d5fa 322.5px)"></i><i style="top:78px;height:8.4px;background:linear-gradient(90deg,#fef9f7 0px,#f9cdbe 18px,#fce8e2 22.5px,#fffefe 24px,#b4cbf8 27px,#9ab9f5 30px,#afc7f8 34.5px,#dae5fc 36px,#ceddfb 39px,#9cbaf6 40.5px,#f7fafe 46.5px,#fdf1ed 48px,#f9cfc1 49.5px,#f9d4c7 52.5px,#fce9e3 54px,#fdf2ee 57px,#fce6df 61.5px,#f8cbbc 63px,#fbe1d9 67.5px,#fce5dd 72px,#fdf3f0 73.5px,#fbfcff 75px,#b0c8f8 76.5px,#9cbaf6 84px,#a2bef6 88.5px,#c1d4f9 90px,#c4d6fa 94.5px,#adc6f8 97.5px,#8fb1f4 99px,#759ef1 103.5px,#afc7f8 111px,#d7e3fb 112.5px,#e3ecfd 117px,#bbd0f9 120px,#82a7f2 121.5px,#6e99f0 127.5px,#709bf0 129px,#8daff4 130.5px,#527ae1 135px,#5d86e7 139.5px,#4c72db 148.5px,#6690eb 153px,#567fe3 157.5px,#628ce9 162px,#739df0 165px,#9ebbf6 166.5px,#adc6f8 172.5px,#d7e3fb 175.5px,#ceddfb 180px,#b9cff9 181.5px,#fefaf9 190.5px,#fcebe5 195px,#f8fafe 198px,#cadafa 199.5px,#eef3fd 202.5px,#fdf1ed 204px,#fffbfa 205.5px,#f6f9fe 207px,#c7d8fa 208.5px,#b9cef9 213px,#bcd0f9 216px,#eef3fe 222px,#d9e5fc 225px,#bacff9 226.5px,#bdd1f9 229.5px,#f1f5fe 234px,#fce4dc 235.5px,#fce4dc 240px,#fefaf9 243px,#d3e1fb 244.5px,#d3e0fb 247.5px,#fbfcff 252px,#fbe3da 253.5px,#fceae3 261px,#fef7f5 262.5px,#eaf1fd 265.5px,#c5d7fa 267px,#fef3f0 271.5px,#fcfdff 279px,#fdf1ed 288px,#fefeff 291px,#f2f6fe 292.5px,#ceddfb 294px,#fffdfd 304.5px,#fce5de 307.5px,#f9fbfe 312px,#ecf2fd 322.5px)"></i><i style="top:85.7px;height:8.4px;background:linear-gradient(90deg,#fefeff 0px,#f8c5b5 18px,#f8fafe 24px,#aec6f8 27px,#99b8f5 30px,#b4cbf8 34.5px,#d7e3fb 36px,#cbdbfa 39px,#9bb9f5 40.5px,#f8fafe 46.5px,#fdf0eb 48px,#f9cdbf 49.5px,#f9cfc1 52.5px,#fbe2da 54px,#fdece6 57px,#fce6df 61.5px,#f9cec0 63px,#fce9e2 67.5px,#fef7f4 73.5px,#fbfcff 75px,#c1d4fa 76.5px,#b8cef9 84px,#ccdbfa 88.5px,#eff4fe 90px,#d3e0fb 97.5px,#b4cbf8 99px,#9bb9f5 103.5px,#acc5f8 106.5px,#ceddfb 108px,#dfe9fc 111px,#f9fbfe 112.5px,#fdeee9 117px,#fefaf8 118.5px,#f5f8fe 120px,#b9cef9 121.5px,#9ebbf6 126px,#a5c0f7 129px,#cadafa 130.5px,#a3bff6 133.5px,#769ff1 135px,#749ef1 138px,#87abf3 139.5px,#648eea 144px,#719bf0 151.5px,#83a8f2 153px,#81a7f2 156px,#6d98ef 157.5px,#7fa5f2 162px,#9bb9f5 165px,#c8d9fa 166.5px,#d4e1fb 171px,#fef4f1 175.5px,#fef9f7 181.5px,#f6baaa 195px,#f9cec0 198px,#fce7e0 199.5px,#f7c0b0 204px,#f9cec0 207px,#fce8e2 208.5px,#fefbfa 213px,#fad8cd 222px,#fef9f7 226.5px,#fef4f1 229.5px,#fad9ce 234px,#f7c1b1 235.5px,#f6b9a9 240px,#f9cdbf 243px,#fceae4 244.5px,#fce6df 247.5px,#f5b4a4 253.5px,#f7c1b1 262.5px,#fad9ce 265.5px,#fef6f3 267px,#fbe3db 270px,#f8c8b8 271.5px,#fad9ce 276px,#f8c6b6 280.5px,#f8c7b7 288px,#fad9ce 292.5px,#fdede8 294px,#fbdcd2 301.5px,#f5b4a4 307.5px,#f9d1c3 318px,#fce8e1 322.5px)"></i><i style="top:93.5px;height:8.4px;background:linear-gradient(90deg,#f4f7fe 0px,#fffefd 3px,#f9cebf 12px,#f7beae 18px,#fef4f1 22.5px,#eff4fe 24px,#a7c2f7 27px,#9ebbf6 28.5px,#98b7f5 30px,#b1c9f8 31.5px,#b5ccf8 34.5px,#d0defb 36px,#c1d4f9 39px,#93b4f4 40.5px,#b7cdf9 43.5px,#f2f6fe 46.5px,#fdf3ef 48px,#f9cec0 49.5px,#f8cbbc 51px,#fce8e1 58.5px,#fce5de 61.5px,#f9d0c2 63px,#fadcd1 66px,#fdefea 67.5px,#fffefd 75px,#dae5fc 76.5px,#e4ecfd 84px,#fefeff 87px,#fef9f8 88.5px,#fbded4 90px,#fef5f2 97.5px,#dbe6fc 103.5px,#f5f8fe 106.5px,#fceae4 108px,#f9cdbe 115.5px,#f6b9a9 117px,#f9cebf 120px,#fdf3f0 121.5px,#ffffff 124.5px,#eff4fe 126px,#fdfdff 129px,#fbe0d7 130.5px,#fef7f5 133.5px,#dfe9fc 135px,#e0eafc 138px,#f3f7fe 139.5px,#d8e4fc 142.5px,#adc6f8 144px,#b9cef9 147px,#d4e1fb 148.5px,#d4e1fb 156px,#bfd2f9 157.5px,#c9dafa 162px,#e7effd 165px,#fdefea 166.5px,#fbddd3 171px,#f2a090 175.5px,#eb7d6f 180px,#e5665b 189px,#d63f3e 195px,#e56359 199.5px,#d94441 204px,#df4e47 207px,#ed8475 213px,#e35e54 222px,#ec8072 226.5px,#da4642 240px,#e2584f 243px,#e97366 244.5px,#d53d3d 253.5px,#df4e47 258px,#d84240 262.5px,#e35d53 265.5px,#ed8374 267px,#e86f63 270px,#e1544b 271.5px,#e6685d 276px,#dc4944 280.5px,#df4d47 283.5px,#e45e55 291px,#e97568 294px,#e46157 301.5px,#d3393b 307.5px,#e04f48 316.5px,#ef8a7b 322.5px)"></i><i style="top:101.3px;height:8.4px;background:linear-gradient(90deg,#e9f0fd 0px,#fefaf8 4.5px,#f9cfc1 10.5px,#f6b8a8 18px,#fadacf 21px,#fefbfa 22.5px,#9fbcf6 27px,#94b4f5 30px,#b6ccf9 31.5px,#b2c9f8 34.5px,#c2d4fa 36px,#adc6f8 39px,#83a8f2 40.5px,#a5c0f7 43.5px,#fffcfb 48px,#fad5c8 49.5px,#f9cdbe 52.5px,#fce8e1 58.5px,#fce5dd 61.5px,#f9d2c4 63px,#fbded5 66px,#fef5f2 67.5px,#fefbf9 75px,#f0f4fe 76.5px,#fdfdff 81px,#fad5c8 88.5px,#f6b7a7 90px,#fdefea 103.5px,#fad9ce 106.5px,#f6b9a9 108px,#f5b6a6 112.5px,#f3a494 115.5px,#ee8879 117px,#f29c8c 120px,#f6bdad 121.5px,#fad7cb 126px,#f8cbbc 129px,#f3a595 130.5px,#f6b7a7 133.5px,#f9cfc1 135px,#f7c1b1 139.5px,#fad7cb 142.5px,#fffdfc 144px,#fdede8 147px,#f9cfc1 148.5px,#fdf2ee 157.5px,#fef3f0 162px,#fbe2da 165px,#f7c4b4 166.5px,#f4ad9d 171px,#de4d46 177px,#cc2e34 180px,#c01828 190.5px,#c01828 210px,#d03338 213px,#c01828 219px,#c11a29 223.5px,#cd2f35 226.5px,#c11929 231px,#c01828 243px,#c82630 244.5px,#c11929 247.5px,#c01828 265.5px,#d13639 267px,#c01828 271.5px,#c82530 276px,#c01828 289.5px,#c92731 294px,#c01828 318px,#dd4b45 322.5px)"></i><i style="top:109.1px;height:8.4px;background:linear-gradient(90deg,#dfe9fc 0px,#fffdfc 4.5px,#f9d1c4 9px,#f9cdbf 13.5px,#f5b2a2 18px,#fad9ce 21px,#fafbff 22.5px,#97b6f5 27px,#8fb1f4 30px,#bacff9 31.5px,#b0c8f8 36px,#99b8f5 39px,#6f9af0 40.5px,#8fb1f4 43.5px,#f3f6fe 48px,#fbded4 49.5px,#f9cfc1 52.5px,#fce8e2 58.5px,#fce5dd 61.5px,#fad5c8 63px,#fbe2da 66px,#fffcfc 67.5px,#ffffff 76.5px,#fce5dd 84px,#f6bdad 88.5px,#f29d8d 90px,#f3a898 93px,#f7c0b0 94.5px,#fad8cd 103.5px,#f7beae 106.5px,#f19a8a 108px,#f3a696 112.5px,#f08f7f 115.5px,#e6685d 117px,#f6b9a9 126px,#f4ac9c 129px,#ec8172 130.5px,#f3a292 135px,#f19888 139.5px,#f5b1a1 142.5px,#fbe0d8 144px,#f8cabb 147px,#f29f8f 148.5px,#f4ac9c 151.5px,#f8c7b7 153px,#fadacf 162px,#f8ccbd 165px,#f5b0a0 166.5px,#f29b8b 171px,#e0524a 175.5px,#c11a29 180px,#c01828 181.5px,#c01828 265.5px,#c92831 267px,#c01828 271.5px,#c01828 319.5px,#d53c3d 321px,#d94441 322.5px)"></i><i style="top:116.9px;height:8.4px;background:linear-gradient(90deg,#dae5fc 0px,#fffefe 4.5px,#f9cfc2 9px,#f8cbbc 13.5px,#f4af9f 18px,#fadacf 21px,#f0f4fe 22.5px,#91b2f4 27px,#8aadf3 30px,#b8cef9 31.5px,#8baef3 39px,#6993ed 40.5px,#81a6f2 43.5px,#e5edfd 48px,#fce4dc 49.5px,#f9d0c3 52.5px,#fceae4 58.5px,#fad9ce 63px,#fce7df 66px,#fbfcff 67.5px,#fffdfc 75px,#fadad0 84px,#f5b1a1 88.5px,#f09080 90px,#f29d8d 93px,#f6bbab 94.5px,#f8cbbc 103.5px,#f4af9f 106.5px,#ee897a 108px,#ef8b7b 111px,#f29f8f 112.5px,#ed8576 115.5px,#e35b52 117px,#f3a696 126px,#f19a8a 129px,#e76d62 130.5px,#ef8b7c 135px,#ec8072 139.5px,#f29d8d 142.5px,#f9d2c5 144px,#f6b8a8 147px,#ed8476 148.5px,#f19787 151.5px,#f6b8a8 153px,#f9cdbf 162px,#f19484 171px,#df4e47 175.5px,#c01828 180px,#c01828 234px,#c92731 235.5px,#c01828 238.5px,#c01828 319.5px,#d53d3d 321px,#d94441 322.5px)"></i><i style="top:124.7px;height:8.4px;background:linear-gradient(90deg,#e8effd 0px,#fefbfa 4.5px,#f9cfc1 10.5px,#f5b5a5 18px,#fbdfd6 21px,#eaf1fd 22.5px,#95b5f5 27px,#88acf3 30px,#a8c2f7 31.5px,#a1bdf6 36px,#8daff4 39px,#6e99f0 40.5px,#95b5f5 45px,#dfe9fc 48px,#fbe3db 49.5px,#f9d0c2 52.5px,#fbded4 57px,#fdf0ec 58.5px,#fbdfd6 63px,#fce9e2 66px,#fffcfb 67.5px,#fffcfc 72px,#fad4c8 84px,#f5b3a3 88.5px,#f09080 90px,#f29b8b 93px,#f5b6a6 94.5px,#f6bdad 103.5px,#ee8778 108px,#f09383 112.5px,#eb7d6f 115.5px,#e45f55 117px,#e5645a 120px,#f09181 126px,#ef8b7c 129px,#e76d61 130.5px,#f09181 135px,#e97568 139.5px,#f08f7f 142.5px,#f6bdad 144px,#f3a898 147px,#ec8173 148.5px,#f3a393 153px,#f7c0b0 163.5px,#f29d8d 169.5px,#d94441 175.5px,#c01828 180px,#c01828 234px,#c82630 235.5px,#c01828 238.5px,#c01828 318px,#c01928 319.5px,#d3393b 321px,#d63f3e 322.5px)"></i><i style="top:132.5px;height:8.4px;background:linear-gradient(90deg,#f7f9fe 0px,#fef6f4 4.5px,#f6b9a9 15px,#f6bbab 18px,#fce4dc 21px,#e6edfd 22.5px,#9ab9f5 27px,#8aadf3 30px,#9fbcf6 31.5px,#9bb9f5 34.5px,#abc4f7 36px,#8daff4 40.5px,#a2bef6 45px,#edf2fd 48px,#fad8cc 49.5px,#f8c9b9 52.5px,#fbdcd2 57px,#fef4f1 58.5px,#fce4dc 63px,#fef5f3 67.5px,#fdf3f0 72px,#f9cdbf 85.5px,#f5b6a6 88.5px,#f09181 90px,#f8c6b6 99px,#ee8a7b 108px,#ef8e7e 112.5px,#e35c53 121.5px,#eb7d6f 126px,#e76d62 130.5px,#f19686 135px,#ee8879 138px,#e6695e 139.5px,#ec7e71 142.5px,#f4a999 144px,#f19a8a 147px,#eb7e70 148.5px,#f4ab9b 157.5px,#f6b8a8 165px,#f29d8d 169.5px,#d43a3c 175.5px,#c01828 180px,#c01828 234px,#c82630 235.5px,#c01828 238.5px,#c01828 318px,#d33a3b 322.5px)"></i><i style="top:140.3px;height:8.4px;background:linear-gradient(90deg,#fefaf8 0px,#fbe1d9 9px,#f5b2a2 13.5px,#f7beae 18px,#fce7df 21px,#e4ecfd 22.5px,#b3caf8 25.5px,#8fb1f4 30px,#a2bef6 34.5px,#c0d3f9 36px,#bed2f9 45px,#fefaf9 48px,#f8c5b5 49.5px,#f6bcac 52.5px,#fad7cc 57px,#fef5f1 58.5px,#fce7df 63px,#fce8e1 72px,#f8c8b8 81px,#f9d2c5 85.5px,#f6baaa 88.5px,#f09282 90px,#f8cbbb 99px,#f09181 108px,#e76c61 120px,#e05048 121.5px,#e76a5f 126px,#e76d62 130.5px,#ec7f71 133.5px,#f19989 135px,#ed8576 138px,#e35c52 139.5px,#e76e62 142.5px,#f19484 144px,#eb7a6d 153px,#f3a393 157.5px,#f5b5a5 166.5px,#f29e8e 169.5px,#ea776a 171px,#ce3136 175.5px,#c01828 180px,#c01828 232.5px,#c7242f 235.5px,#c01828 238.5px,#c01828 315px,#d03438 322.5px)"></i><i style="top:148.1px;height:8.4px;background:linear-gradient(90deg,#fdeee9 0px,#fbe3db 9px,#f8c6b6 12px,#f3a595 13.5px,#f7beae 18px,#fce7e0 21px,#e5edfd 22.5px,#b8cef9 25.5px,#96b6f5 30px,#aac4f7 34.5px,#d7e3fb 36px,#ecf2fd 39px,#f7fafe 43.5px,#dde8fc 45px,#fffefe 46.5px,#fce7e0 48px,#f5b0a0 49.5px,#f4ad9d 51px,#f9cfc1 57px,#fdf2ee 58.5px,#f6bcac 81px,#f7c4b4 84px,#fad6ca 85.5px,#f6bdad 88.5px,#f19484 90px,#f6b9a9 97.5px,#f9d0c2 99px,#f6bdad 102px,#f3a292 103.5px,#f09181 117px,#ea766a 120px,#db4743 121.5px,#e46056 129px,#eb7d70 133.5px,#f29b8b 135px,#ec8173 138px,#df4e47 139.5px,#e35e54 142.5px,#ec7f71 144px,#ea7a6c 151.5px,#e66a5f 153px,#f29d8d 157.5px,#f6baaa 166.5px,#f29f8f 169.5px,#e86f63 171px,#c92831 175.5px,#c01828 180px,#ca2a32 181.5px,#c01828 184.5px,#c7242f 235.5px,#c01828 240px,#c01828 310.5px,#cd3035 322.5px)"></i><i style="top:155.9px;height:8.4px;background:linear-gradient(90deg,#fce5de 0px,#fbe1d8 9px,#f7c0b0 12px,#f29b8b 13.5px,#f3a797 16.5px,#fce6df 21px,#e8effd 22.5px,#bed2f9 25.5px,#9ab8f5 31.5px,#b5cbf8 34.5px,#e9f0fd 36px,#fef7f5 39px,#fce9e3 43.5px,#fcfdff 45px,#fad7cb 48px,#f3a494 49.5px,#f3a292 51px,#f8c6b6 57px,#fcebe5 58.5px,#f5b5a5 81px,#f7c0b0 84px,#fad6ca 85.5px,#f7bfaf 88.5px,#f19989 90px,#f6b9a9 97.5px,#f9d1c3 99px,#f6bdad 102px,#f29e8e 103.5px,#f2a090 117px,#ec8172 120px,#db4743 121.5px,#e1544c 129px,#e97669 133.5px,#f09383 135px,#ea776a 138px,#d94441 139.5px,#e05249 142.5px,#e86e62 144px,#ec7f71 148.5px,#e6685d 153px,#ec8072 156px,#f29d8d 157.5px,#f7bfaf 166.5px,#f3a494 169.5px,#e97367 171px,#d13639 175.5px,#cd2f35 180px,#dc4844 181.5px,#cb2b33 186px,#c01828 195px,#c11a29 198px,#cf3237 199.5px,#d43a3c 202.5px,#c01828 208.5px,#cf3337 216px,#c01828 220.5px,#c01828 225px,#d7403f 235.5px,#c01828 244.5px,#c01828 252px,#d2383a 258px,#c01828 268.5px,#d94441 271.5px,#c01828 279px,#c7242f 294px,#c01828 306px,#cd2f35 310.5px,#df4e47 312px,#dc4944 322.5px)"></i><i style="top:163.7px;height:8.4px;background:linear-gradient(90deg,#fce6df 0px,#fadacf 9px,#f29f8f 13.5px,#f4aa9a 16.5px,#fce8e2 21px,#e7eefd 22.5px,#bfd3f9 25.5px,#a8c2f7 30px,#b3caf8 33px,#fffbfa 37.5px,#fadbd0 40.5px,#fad5c9 43.5px,#fceae4 45px,#f8cbbc 48px,#f4a999 49.5px,#f3a797 51px,#f7c1b1 57px,#fbe1d9 58.5px,#fbe0d7 61.5px,#f7c1b1 67.5px,#f6b8a8 76.5px,#f9cdbf 85.5px,#f7bfaf 88.5px,#f3a595 90px,#f5b4a4 97.5px,#f8c8b8 99px,#f6b7a7 102px,#f29d8d 103.5px,#f5b3a3 108px,#f29b8b 112.5px,#f3a494 117px,#ee8879 120px,#e2584f 121.5px,#e1544c 123px,#e05048 129px,#e97468 135px,#e46157 138px,#d63f3e 139.5px,#de4d46 142.5px,#e5665b 144px,#eb7d70 153px,#f3a595 157.5px,#f7c1b1 166.5px,#f5b1a1 169.5px,#f08f7f 171px,#e76e62 175.5px,#e97569 180px,#ef8e7e 181.5px,#ee8a7a 190.5px,#e6665c 195px,#ea776a 198px,#f09383 199.5px,#f19686 204px,#ea776a 207px,#e04f48 208.5px,#e56459 211.5px,#ed8375 213px,#ed8475 216px,#e35b52 222px,#f09383 231px,#e56359 247.5px,#ed8677 253.5px,#ee8879 261px,#e97367 267px,#f3a292 271.5px,#e35c53 280.5px,#ec7f71 285px,#e6685d 289.5px,#ed8375 294px,#e46157 298.5px,#e76e62 307.5px,#ee8778 310.5px,#f4a999 312px,#f29c8c 322.5px)"></i><i style="top:171.5px;height:8.4px;background:linear-gradient(90deg,#fce8e2 0px,#fad5c9 9px,#f3a696 13.5px,#f5b1a1 16.5px,#fdeee9 21px,#e2ebfc 22.5px,#bcd0f9 25.5px,#adc6f8 30px,#bdd1f9 33px,#fef9f8 37.5px,#f9d1c3 40.5px,#f8c8b9 43.5px,#fadacf 45px,#f5b5a5 49.5px,#f4ad9d 54px,#f7c1b1 57px,#fadcd1 58.5px,#fadacf 61.5px,#f5b5a5 67.5px,#f8c6b6 85.5px,#f4a999 94.5px,#f7c0b0 99px,#f29c8c 103.5px,#f3a797 106.5px,#f7c1b1 108px,#f2a090 112.5px,#f3a797 117px,#f09181 120px,#e76a5f 121.5px,#e1534b 126px,#e35b51 135px,#d63f3e 139.5px,#f4af9f 157.5px,#f7c1b1 166.5px,#ef8c7c 175.5px,#f5b1a1 190.5px,#f08f7f 195px,#f5b6a6 199.5px,#f6bcac 202.5px,#f29b8b 207px,#e97367 208.5px,#f29b8b 213px,#ed8677 222px,#f4af9f 231px,#ef8c7c 244.5px,#f4ad9d 253.5px,#f19a8a 258px,#f2a191 265.5px,#f7c3b3 271.5px,#f5b2a2 274.5px,#f19484 276px,#ee8778 280.5px,#f3a393 285px,#f19484 289.5px,#f4a999 294px,#f09282 298.5px,#f2a090 303px,#ef8c7c 307.5px,#f3a595 310.5px,#f8c8b8 312px,#f4ad9d 316.5px,#f6b8a8 322.5px)"></i><i style="top:179.3px;height:8.4px;background:linear-gradient(90deg,#fdebe6 0px,#f9d3c6 9px,#f4af9f 13.5px,#f6bbab 16.5px,#fef5f3 21px,#dae5fc 22.5px,#b6ccf8 25.5px,#b0c8f8 30px,#c3d5fa 33px,#fefbfa 37.5px,#f8cbbb 40.5px,#f7c0b0 43.5px,#f9cdbf 45px,#f5b3a3 54px,#fadacf 60px,#f4ad9d 67.5px,#f8caba 81px,#f7c1b1 90px,#f3a898 94.5px,#f6b9a9 99px,#f29c8c 103.5px,#f4ac9c 106.5px,#f9cfc1 108px,#f7bfaf 111px,#f3a696 112.5px,#f4ab9b 117px,#f19989 120px,#ec7e71 121.5px,#e35b52 126px,#da4542 139.5px,#e97367 148.5px,#f08f7f 151.5px,#f4af9f 153px,#f7c0b0 160.5px,#f7bfaf 166.5px,#f09181 180px,#f6b7a7 190.5px,#f09383 195px,#f6baaa 199.5px,#f7beae 202.5px,#f19a8a 207px,#e87064 208.5px,#f08f7f 213px,#ed8375 225px,#f3a393 231px,#ee897a 235.5px,#ec7f71 243px,#f3a595 249px,#f4ae9e 253.5px,#f29f8f 256.5px,#ee8678 258px,#f7c3b3 271.5px,#f4ae9e 274.5px,#ef8c7d 276px,#ef8d7d 280.5px,#f3a696 285px,#f19a8a 289.5px,#f4ad9d 294px,#f29e8e 298.5px,#f4ac9c 303px,#ee8677 307.5px,#f3a292 310.5px,#f8c7b7 312px,#f2a090 316.5px,#f7c1b1 321px,#f6baaa 322.5px)"></i><i style="top:187.1px;height:8.4px;background:linear-gradient(90deg,#fdefea 0px,#f6bbab 13.5px,#f8c5b5 16.5px,#fffefd 21px,#d1dffb 22.5px,#b0c8f8 25.5px,#bed2f9 27px,#b3caf8 30px,#e2ebfc 36px,#fffefe 37.5px,#f8c6b6 40.5px,#f6b9a9 43.5px,#f7c3b3 48px,#fad5c9 49.5px,#f6bbab 54px,#fadbd0 60px,#f7bfaf 66px,#f3a797 67.5px,#f7bfaf 72px,#f7c4b4 79.5px,#fad5c9 81px,#f6bcac 85.5px,#f9d2c5 90px,#f7c3b3 93px,#f4aa9a 94.5px,#f5b5a5 99px,#f29e8e 103.5px,#f5b3a3 106.5px,#fbded5 108px,#f9ccbd 111px,#f4ac9c 112.5px,#f4aa9a 118.5px,#e76a5f 126px,#e66a5f 130.5px,#d94441 135px,#ea776a 148.5px,#f19a8a 151.5px,#f8cabb 153px,#f9cdbf 156px,#f8c8b8 165px,#ef8c7c 181.5px,#f7bfaf 190.5px,#f19787 195px,#f3a595 198px,#f6bdad 199.5px,#f7bfaf 202.5px,#f19888 207px,#e76b60 208.5px,#eb7c6e 213px,#e86e63 226.5px,#ef8b7b 231px,#e46056 235.5px,#e35c53 240px,#e46157 243px,#ee8677 247.5px,#f3a494 249px,#f4aa9a 252px,#f09181 256.5px,#e66a5f 258px,#ea766a 261px,#f6baaa 267px,#f7c2b2 270px,#f4aa9a 274.5px,#ed8375 276px,#f4a999 285px,#f6b9a9 303px,#f2a090 306px,#ec8173 307.5px,#f2a191 310.5px,#f8c7b7 312px,#f5b2a2 315px,#f09383 316.5px,#f7c3b3 321px,#f6bbab 322.5px)"></i><i style="top:194.9px;height:8.4px;background:linear-gradient(90deg,#fef7f4 0px,#f8c5b5 13.5px,#fad8cd 18px,#ffffff 21px,#d1dffb 22.5px,#b1c9f8 25.5px,#c1d4f9 27px,#b6ccf9 30px,#e2ebfc 36px,#fffefe 37.5px,#f8c6b6 40.5px,#f6b8a8 43.5px,#f7c4b4 48px,#fbddd3 49.5px,#f7c2b2 54px,#fbddd4 60px,#f7c1b1 66px,#f4aa9a 67.5px,#f7bfaf 76.5px,#f9ccbd 79.5px,#fbdfd5 81px,#fad6ca 84px,#f7c3b3 85.5px,#f9cec0 88.5px,#fbe1d8 90px,#f9d0c3 93px,#f5b1a1 94.5px,#f7beae 99px,#f4ab9b 103.5px,#f7c0b0 106.5px,#fceae3 108px,#fad7cb 111px,#f5b6a6 112.5px,#f5b1a1 120px,#ee8778 126px,#e76b5f 133.5px,#e1554c 135px,#ed8677 144px,#ee897a 148.5px,#f4ab9b 151.5px,#fbded4 153px,#f9d3c6 165px,#f19484 181.5px,#f9cdbe 190.5px,#f3a797 195px,#f8c5b5 202.5px,#f2a191 207px,#ea786b 208.5px,#e86f63 217.5px,#ed8577 222px,#e76d61 226.5px,#ed8475 231px,#e1544b 235.5px,#e45f55 243px,#ef8c7d 247.5px,#f4ac9c 249px,#f5b1a1 252px,#f09282 256.5px,#e6675c 258px,#ea776a 261px,#f7c4b4 267px,#f9ccbd 270px,#f5b2a2 274.5px,#ef8b7c 276px,#f6b9a9 285px,#f8c9b9 303px,#f4ad9d 306px,#ef8b7b 307.5px,#f3a797 310.5px,#f8ccbd 312px,#f5b5a5 315px,#f19686 316.5px,#f8c8b8 321px,#f7c1b1 322.5px)"></i><i style="top:202.7px;height:8.4px;background:linear-gradient(90deg,#f9fbfe 0px,#f7c2b2 10.5px,#f9cfc1 18px,#fef4f1 21px,#bfd3f9 25.5px,#b9cef9 30px,#c7d8fa 33px,#fef8f6 37.5px,#f8cbbc 40.5px,#f6bdad 43.5px,#f8c5b5 48px,#fad6cb 49.5px,#f7c4b4 54px,#fbe0d7 60px,#f6b7a7 67.5px,#f7c2b2 75px,#fce6de 81px,#fadbd0 85.5px,#fdeee9 90px,#fbded5 93px,#f7c2b2 94.5px,#f8cbbc 97.5px,#fbdcd2 99px,#f8c7b7 103.5px,#fad4c8 106.5px,#fdefea 108px,#fbdfd6 111px,#f7c3b3 112.5px,#f8cbbb 117px,#ed8577 135px,#f4a999 148.5px,#f7c2b2 151.5px,#fce5dd 153px,#fadcd1 157.5px,#fce6df 165px,#f5b3a3 181.5px,#fce6de 190.5px,#f8ccbd 195px,#fad6ca 202.5px,#f7bfaf 207px,#f3a595 208.5px,#f29d8d 216px,#f5b5a5 222px,#f2a090 226.5px,#f4ab9b 231px,#ee8879 235.5px,#f19a8a 243px,#f6baaa 247.5px,#fad4c8 249px,#fad5c9 252px,#f5b6a6 256.5px,#f19787 258px,#fce6de 271.5px,#f9d0c2 274.5px,#f4ac9c 276px,#f5b2a2 279px,#fadcd1 285px,#f9d3c7 289.5px,#fbe2d9 301.5px,#f8c5b5 306px,#f3a696 307.5px,#f6bcac 310.5px,#fad7cc 312px,#f4af9f 316.5px,#f9d3c6 321px,#f9cdbf 322.5px)"></i><i style="top:210.5px;height:8.4px;background:linear-gradient(90deg,#e7eefd 0px,#fef9f7 3px,#f6baaa 9px,#f7bfaf 12px,#fad5c8 13.5px,#f7c4b4 18px,#f2f6fe 22.5px,#d1dffb 25.5px,#b7cdf9 31.5px,#fdfeff 36px,#f9cfc1 40.5px,#f7c2b2 43.5px,#f9d0c2 49.5px,#f8c8b8 54px,#fce4dc 60px,#f6bbab 72px,#fdf1ed 81px,#fcfdff 90px,#fef3f0 93px,#fad9ce 94.5px,#fce7e0 97.5px,#fcfdff 99px,#fce9e3 103.5px,#fef9f7 108px,#fdebe6 111px,#fad5c9 112.5px,#fbddd3 117px,#f8caba 123px,#f9d4c7 126px,#f3a595 130.5px,#f8c7b7 148.5px,#fad6ca 151.5px,#fcebe5 153px,#fbe3db 157.5px,#fffcfb 166.5px,#fbe1d9 174px,#f9d0c2 175.5px,#f9d3c6 180px,#fffcfb 189px,#f2f6fe 190.5px,#fdf1ed 204px,#f9d2c5 213px,#f9d3c6 216px,#fef4f1 222px,#fbe1d8 226.5px,#fce4dd 231px,#f8cbbc 235.5px,#fef9f7 247.5px,#e9f0fd 249px,#eff4fe 252px,#fce9e2 256.5px,#f9d1c3 258px,#fdf0eb 262.5px,#fcfdff 270px,#eaf0fd 271.5px,#fef8f6 274.5px,#fad7cc 276px,#fef6f3 283.5px,#f1f5fe 285px,#ffffff 291px,#eff4fe 298.5px,#fffbfa 303px,#fce7e0 306px,#f8ccbd 307.5px,#fdede8 312px,#f9d1c4 316.5px,#fbe1d8 322.5px)"></i><i style="top:218.3px;height:8.4px;background:linear-gradient(90deg,#d5e2fb 0px,#fefeff 3px,#f9d2c5 7.5px,#f4af9f 9px,#f6bbab 12px,#fadcd1 13.5px,#f9d1c3 16.5px,#f6b9a9 18px,#fadad0 21px,#fef9f7 22.5px,#f7f9fe 24px,#b9cef9 31.5px,#fef4f1 36px,#f8c7b7 43.5px,#f8cbbc 54px,#fce9e3 60px,#f6bdad 72px,#fafcff 81px,#d7e3fb 85.5px,#d3e0fb 88.5px,#fdfeff 96px,#f0f4fe 97.5px,#bed2f9 99px,#ccdbfa 102px,#e5edfd 103.5px,#fcfdff 109.5px,#fce8e2 112.5px,#fdeeea 117px,#fad6cb 121.5px,#fadbd1 124.5px,#fdf2ef 126px,#fad7cc 129px,#f5b0a0 130.5px,#f6b8a8 133.5px,#f9d1c3 135px,#f7c4b4 139.5px,#fbded4 144px,#fbe3db 157.5px,#fdfeff 162px,#e7eefd 166.5px,#fffcfb 171px,#fdf2ef 174px,#fadbd1 175.5px,#ffffff 183px,#bfd2f9 190.5px,#b9cef9 193.5px,#cbdbfa 198px,#e4ecfd 199.5px,#dce7fc 208.5px,#f7f9fe 213px,#f0f4fe 216px,#b7cdf9 222px,#f9fbfe 235.5px,#e8effd 238.5px,#ceddfb 240px,#cddcfb 244.5px,#a6c1f7 249px,#afc7f8 252px,#f8fafe 258px,#ceddfb 262.5px,#e9f0fd 267px,#b2c9f8 271.5px,#cfddfb 274.5px,#fbfcff 276px,#f6f8fe 279px,#cfddfb 283.5px,#afc8f8 285px,#c2d5fa 289.5px,#b0c8f8 298.5px,#bbd0f9 301.5px,#eff4fe 306px,#fdf1ed 307.5px,#fdfeff 313.5px,#fef5f3 322.5px)"></i><i style="top:226.1px;height:8.4px;background:linear-gradient(90deg,#c3d5fa 0px,#f4f7fe 3px,#fef5f2 4.5px,#f9d1c3 7.5px,#f3a494 9px,#f6b7a7 12px,#fbe2da 13.5px,#f9d0c3 16.5px,#f4ac9c 18px,#f8cbbc 21px,#fce8e2 22.5px,#fffdfd 25.5px,#dde7fc 30px,#bdd1f9 31.5px,#eaf0fd 34.5px,#fce7e0 36px,#fad6ca 39px,#f7c2b2 49.5px,#fdefea 60px,#fbe1d9 63px,#fce6de 67.5px,#fad8cd 70.5px,#f7c0b0 72px,#fadbd0 75px,#fefbf9 76.5px,#dde8fc 81px,#a2bef6 85.5px,#a0bdf6 88.5px,#b9cff9 93px,#d9e4fc 94.5px,#b7cdf9 97.5px,#83a8f2 99px,#90b2f4 102px,#fffcfb 112.5px,#fffefd 117px,#fbded4 121.5px,#fce7e0 124.5px,#f1f5fe 126px,#fce6df 129px,#f5b0a0 130.5px,#f7bfaf 133.5px,#fce6de 135px,#f9cdbe 139.5px,#fce9e3 144px,#fbdcd1 157.5px,#fcebe5 160.5px,#f8fafe 162px,#d4e1fb 166.5px,#fffdfd 174px,#fbe1d8 175.5px,#fefeff 180px,#dce7fc 181.5px,#7fa5f2 193.5px,#8baef4 198px,#acc5f8 199.5px,#86aaf3 208.5px,#a6c1f7 213px,#6d98ef 222px,#afc7f8 235.5px,#9fbcf6 238.5px,#84a9f3 240px,#8daff4 244.5px,#739df1 249px,#b4cbf8 258px,#92b3f4 262.5px,#a8c3f7 265.5px,#c4d6fa 267px,#a6c1f7 270px,#84a9f3 271.5px,#9ab9f5 274.5px,#bfd2f9 276px,#bacff9 279px,#96b6f5 283.5px,#79a1f1 285px,#8caef4 292.5px,#7ba3f2 298.5px,#8baef3 301.5px,#dbe6fc 307.5px,#eff4fe 322.5px)"></i><i style="top:233.9px;height:8.4px;background:linear-gradient(90deg,#c0d3f9 0px,#f4f7fe 3px,#fef4f1 4.5px,#f9cfc1 7.5px,#f29f8f 9px,#f5b2a2 12px,#fbded5 13.5px,#f9ccbd 16.5px,#f4a999 18px,#fadacf 22.5px,#feffff 28.5px,#f1f6fe 30px,#cbdbfa 31.5px,#f5f8fe 34.5px,#fbe1d8 36px,#f7c3b3 49.5px,#f9cebf 54px,#fdf0ec 60px,#fbe2da 66px,#fcebe5 67.5px,#fbdfd6 70.5px,#f8c8b8 72px,#fce6df 75px,#f5f8fe 76.5px,#87abf3 85.5px,#83a8f2 88.5px,#99b8f5 93px,#b1c9f8 94.5px,#94b5f5 97.5px,#6892ec 99px,#6f9af0 102px,#8baef3 103.5px,#a0bdf6 106.5px,#c3d5fa 108px,#eaf1fd 112.5px,#fffbfa 118.5px,#fbe0d7 121.5px,#fceae3 124.5px,#e6eefd 126px,#fffdfc 127.5px,#fceae4 129px,#f5b0a0 130.5px,#f7c1b1 133.5px,#fcebe5 135px,#fbe0d7 138px,#f9cdbf 139.5px,#fad8cc 142.5px,#fcebe5 144px,#fad5c8 157.5px,#fce5dd 160.5px,#fffefe 162px,#edf2fd 165px,#d2dffb 166.5px,#f5f8fe 174px,#fdefea 175.5px,#fefaf9 177px,#e2ebfc 180px,#bed2f9 181.5px,#618be9 193.5px,#638dea 198px,#7aa2f1 199.5px,#5c86e6 208.5px,#6993ed 213px,#527ae1 222px,#81a7f2 235.5px,#628ce9 240px,#608ae8 249px,#89acf3 258px,#6e98ef 262.5px,#88acf3 265.5px,#a9c3f7 267px,#8caff4 270px,#6b95ee 271.5px,#79a1f1 274.5px,#96b6f5 276px,#93b4f4 279px,#658feb 285px,#6791ec 298.5px,#6f9af0 301.5px,#8daff4 303px,#adc6f8 307.5px,#aec7f8 316.5px,#ceddfb 322.5px)"></i><i style="top:241.7px;height:8.4px;background:linear-gradient(90deg,#ceddfb 0px,#fdfeff 3px,#f9cdbe 7.5px,#f2a191 9px,#f4ae9e 12px,#f9d0c2 13.5px,#f4ae9e 18px,#fef7f5 30px,#e2ebfc 31.5px,#fffdfd 34.5px,#fbe3db 36px,#fad8cc 39px,#f8c9b9 54px,#fdeee9 60px,#fad6ca 72px,#fdf0eb 75px,#f4f8fe 76.5px,#87abf3 85.5px,#7ea5f2 90px,#88acf3 93px,#a0bdf6 94.5px,#87abf3 97.5px,#648eea 99px,#6d98ef 102px,#8baef3 103.5px,#b3caf8 108px,#fffdfc 118.5px,#fbe1d8 121.5px,#fce7e1 124.5px,#edf3fd 126px,#fef9f7 127.5px,#fce8e1 129px,#f5b4a4 130.5px,#f7c2b2 133.5px,#fce6df 135px,#f8cbbb 139.5px,#fad5c8 142.5px,#fce8e1 144px,#fbded4 156px,#f9d2c5 157.5px,#fbfcff 165px,#dde8fc 166.5px,#f8fafe 175.5px,#b2caf8 181.5px,#5179e0 195px,#658feb 199.5px,#4b6fd8 222px,#6f9af0 235.5px,#5b84e5 240px,#6892ec 244.5px,#5a82e5 249px,#729cf0 258px,#6791ec 262.5px,#7ba3f1 265.5px,#9dbaf6 267px,#6791ec 271.5px,#6e99ef 274.5px,#84a9f3 276px,#6791ec 285px,#6791ec 297px,#a3bff6 312px,#92b3f4 316.5px,#aec7f8 322.5px)"></i><i style="top:249.4px;height:8.4px;background:linear-gradient(90deg,#dce7fc 0px,#fef9f8 3px,#f8cbbb 7.5px,#f3a393 9px,#f4aa9a 12px,#f7c1b1 13.5px,#f5b4a4 18px,#f9d2c6 27px,#fce6df 30px,#f8fafe 31.5px,#fadbd1 39px,#f9d1c4 52.5px,#f7c4b4 54px,#fce9e3 60px,#fad9ce 69px,#fef5f2 75px,#fbfcff 76.5px,#bacff9 81px,#92b3f4 85.5px,#7aa2f1 90px,#83a8f2 93px,#9bb9f5 94.5px,#85a9f3 97.5px,#6791ec 99px,#729cf0 102px,#96b5f5 103.5px,#fffdfc 118.5px,#fbe1d8 121.5px,#fce7e0 124.5px,#f2f6fe 126px,#fef8f6 127.5px,#fce9e2 129px,#f6bcac 130.5px,#f8c7b7 133.5px,#fce6de 135px,#f9cdbe 139.5px,#fad7cb 142.5px,#fceae4 144px,#fadacf 148.5px,#fdece6 153px,#fce6de 156px,#f9d3c7 157.5px,#fef9f7 165px,#e8effd 166.5px,#f5f8fe 171px,#98b7f5 186px,#547ce2 195px,#6690eb 199.5px,#537ce2 223.5px,#779ff1 235.5px,#5e87e7 240px,#6f99f0 244.5px,#5c85e6 249px,#6892ec 262.5px,#7ea4f2 265.5px,#a0bdf6 267px,#6a94ed 271.5px,#82a7f2 276px,#6791ec 292.5px,#9ebbf6 312px,#83a8f3 316.5px,#a0bdf6 322.5px)"></i><i style="top:257.2px;height:8.4px;background:linear-gradient(90deg,#eaf1fd 0px,#fdfeff 1.5px,#f8c8b8 7.5px,#f3a595 9px,#f3a494 10.5px,#f7c4b4 27px,#fad7cc 30px,#fef6f3 31.5px,#fad7cc 42px,#fbdcd2 49.5px,#fad4c8 52.5px,#f6bdad 54px,#fbe3da 60px,#f9d1c4 69px,#fef8f7 76.5px,#c3d5fa 81px,#80a6f2 90px,#89acf3 93px,#a0bdf6 94.5px,#8db0f4 97.5px,#6e99ef 99px,#83a8f2 102px,#aac4f7 103.5px,#c3d5fa 111px,#fffcfb 118.5px,#fbe2d9 121.5px,#fce8e2 124.5px,#f2f6fe 126px,#fefaf9 127.5px,#fdede8 129px,#f8c8b8 130.5px,#f9d1c3 133.5px,#fceae4 135px,#fad4c8 139.5px,#fbded4 142.5px,#fdf1ed 144px,#fbdcd2 148.5px,#fce8e2 151.5px,#fffcfb 153px,#fdf2ee 156px,#fad8cd 157.5px,#fdf2ee 165px,#f0f5fe 166.5px,#f9fbff 171px,#e4ecfd 174px,#c7d8fa 175.5px,#acc5f7 186px,#628cea 195px,#82a7f2 207px,#6089e8 213px,#6994ed 225px,#94b4f5 235.5px,#6a95ed 240px,#8daff4 244.5px,#6690eb 249px,#6f99f0 261px,#8eb0f4 265.5px,#b2c9f8 267px,#9ab9f5 270px,#79a1f1 271.5px,#8daff4 276px,#90b1f4 285px,#6e99ef 289.5px,#6f9af0 292.5px,#95b5f5 298.5px,#90b2f4 307.5px,#a7c2f7 312px,#82a7f2 316.5px,#9dbbf6 322.5px)"></i><i style="top:265px;height:8.4px;background:linear-gradient(90deg,#f8fafe 0px,#f8c6b6 7.5px,#f3a696 9px,#f2a090 12px,#f4ac9c 16.5px,#f7c0b0 18px,#f4ae9e 22.5px,#f6b7a7 27px,#f8cabb 30px,#fce9e3 31.5px,#fdeee9 36px,#fad8cd 43.5px,#fce4dd 49.5px,#fad7cc 52.5px,#f5b6a6 54px,#fadbd1 61.5px,#f7c1b1 67.5px,#f9cfc1 70.5px,#fdece7 72px,#fce9e3 76.5px,#f7fafe 79.5px,#d7e3fb 81px,#ccdcfa 85.5px,#93b3f4 90px,#9cbaf6 93px,#b4cbf8 94.5px,#a4c0f7 97.5px,#8aadf3 99px,#a1bdf6 102px,#d1dffb 103.5px,#c7d8fa 108px,#d4e1fb 112.5px,#feffff 117px,#fbe2d9 121.5px,#fceae4 124.5px,#f1f5fe 126px,#fffefe 127.5px,#fef4f1 129px,#fad6ca 130.5px,#fbddd4 133.5px,#fdf1ed 135px,#fbdfd6 139.5px,#fce9e3 142.5px,#fffcfc 144px,#fef4f1 147px,#fbe3da 148.5px,#fdf3ef 151.5px,#e7effd 153px,#fcfdff 156px,#fbe1d8 157.5px,#fbe0d7 162px,#f3f7fe 166.5px,#f8fafe 171px,#dae5fc 174px,#acc5f7 175.5px,#b1c9f8 180px,#c4d6fa 181.5px,#c1d4f9 186px,#acc5f7 190.5px,#749df1 195px,#7ea5f2 198px,#97b6f5 199.5px,#b3caf8 208.5px,#96b5f5 211.5px,#6e99ef 213px,#92b3f4 222px,#8daff4 226.5px,#b5cbf8 235.5px,#81a7f2 240px,#afc7f8 244.5px,#98b7f5 247.5px,#749ef1 249px,#7da4f2 261px,#a2bef6 265.5px,#ccdcfa 267px,#b2c9f8 270px,#91b2f4 271.5px,#97b7f5 280.5px,#b4cbf8 285px,#a0bcf6 288px,#81a7f2 289.5px,#a0bdf6 297px,#bcd0f9 298.5px,#99b8f5 307.5px,#b5cbf8 312px,#a2bef6 315px,#84a9f3 316.5px,#9dbbf6 322.5px)"></i><i style="top:272.8px;height:8.4px;background:linear-gradient(90deg,#fef8f6 0px,#f7c4b4 7.5px,#f4ac9c 9px,#f29c8c 13.5px,#f3a898 16.5px,#f7c0b0 18px,#f4ae9e 22.5px,#f5b4a4 27px,#f8c6b6 30px,#fce5dd 31.5px,#fcebe5 36px,#fbddd3 42px,#fbe0d7 49.5px,#f9d2c5 52.5px,#f5b1a1 54px,#fadbd0 63px,#f6bcac 67.5px,#f8caba 70.5px,#fce9e2 72px,#fbe1d9 76.5px,#f6f9fe 81px,#ebf1fd 85.5px,#d3e0fb 88.5px,#b5cbf8 90px,#bdd1f9 93px,#d3e0fb 94.5px,#aec6f8 99px,#c3d5fa 102px,#ecf2fd 103.5px,#d8e4fc 108px,#dfe9fc 112.5px,#fef8f6 117px,#fbe3da 121.5px,#fdf0eb 124.5px,#e7eefd 126px,#fcfdff 129px,#fceae4 130.5px,#fffcfc 135px,#fdf2ee 139.5px,#fffcfc 150px,#fafbff 151.5px,#dae5fc 153px,#edf2fd 156px,#fdf0eb 157.5px,#fefaf8 165px,#eef3fe 166.5px,#f1f6fe 171px,#d4e1fb 174px,#a5c0f7 175.5px,#c1d4f9 186px,#bcd0f9 189px,#87abf3 195px,#bfd2f9 204px,#c8d9fa 208.5px,#a5c0f7 211.5px,#79a1f1 213px,#a9c3f7 222px,#a1bef6 226.5px,#bdd1f9 234px,#a7c2f7 238.5px,#90b1f4 240px,#b7cdf9 244.5px,#9fbcf6 247.5px,#7da4f2 249px,#84a9f3 261px,#adc6f8 265.5px,#d7e3fb 267px,#bfd3f9 270px,#9ebbf6 271.5px,#a0bcf6 279px,#c2d4fa 285px,#aac3f7 288px,#88acf3 289.5px,#8aadf3 292.5px,#aac3f7 297px,#ceddfb 298.5px,#9ab8f5 307.5px,#bdd1f9 312px,#a6c1f7 315px,#84a9f3 316.5px,#a3bff6 322.5px)"></i><i style="top:280.6px;height:8.4px;background:linear-gradient(90deg,#fcebe5 0px,#f29e8e 13.5px,#f6bbab 18px,#f6b9a9 27px,#f8caba 30px,#fce6de 31.5px,#fadbd0 48px,#f8c8b8 52.5px,#f4ae9e 54px,#f9d3c6 58.5px,#fbded4 63px,#f7c0b0 67.5px,#f8cabb 70.5px,#fce4dc 72px,#fce6de 76.5px,#fcfdff 84px,#d6e3fb 90px,#e3ebfc 94.5px,#cbdbfa 99px,#ebf1fd 103.5px,#dbe6fc 111px,#fef6f3 117px,#fce7e0 121.5px,#fef8f6 124.5px,#d6e2fb 126px,#e4ecfd 129px,#fefeff 130.5px,#dde7fc 153px,#e7eefd 156px,#fefeff 157.5px,#ecf2fd 171px,#d5e2fb 174px,#b1c8f8 175.5px,#b6ccf9 186px,#93b4f4 195px,#c7d8fa 207px,#a2bef6 211.5px,#7da4f2 213px,#81a7f2 216px,#afc8f8 222px,#b4cbf8 234px,#96b5f5 240px,#aac4f7 244.5px,#97b6f5 247.5px,#7ba3f1 249px,#80a6f2 258px,#87abf3 261px,#b2caf8 265.5px,#d7e3fb 267px,#c3d5fa 270px,#a4bff7 271.5px,#9ebcf6 276px,#bacff9 285px,#a6c1f7 288px,#88abf3 289.5px,#8db0f4 294px,#a5c0f7 297px,#cddcfb 298.5px,#97b6f5 307.5px,#c1d4f9 312px,#a7c1f7 315px,#84a9f3 316.5px,#b0c8f8 321px,#aec6f8 322.5px)"></i><i style="top:288.4px;height:8.4px;background:linear-gradient(90deg,#fbded5 0px,#f2a090 13.5px,#f6b7a7 18px,#f7c0b0 27px,#f9cfc1 30px,#fce8e1 31.5px,#fbdcd2 36px,#fbe3da 45px,#f4ab9b 54px,#fbdcd2 60px,#fbe1d8 63px,#f8c7b7 69px,#fbe2da 72px,#fef4f0 79.5px,#fcebe5 81px,#fffcfb 84px,#ebf1fd 85.5px,#cbdbfa 108px,#d0dffb 111px,#fef5f2 117px,#fceae4 121.5px,#fffdfd 124.5px,#c9dafa 126px,#e5edfd 130.5px,#dee8fc 139.5px,#f4f8fe 144px,#e5edfd 147px,#c7d8fa 148.5px,#d1dffb 151.5px,#e7eefd 153px,#edf3fd 157.5px,#d6e2fb 162px,#eef3fd 171px,#c5d6fa 175.5px,#a9c3f7 181.5px,#aec7f8 186px,#99b8f5 190.5px,#c2d4fa 207px,#9cbaf6 211.5px,#7da4f2 213px,#80a6f2 216px,#b4cbf8 222px,#9fbcf6 244.5px,#79a1f1 249px,#89acf3 253.5px,#7ea5f2 258px,#89adf3 261px,#b9cef9 265.5px,#d8e4fc 267px,#c7d8fa 270px,#aac4f7 271.5px,#9dbaf6 276px,#bacff9 280.5px,#bacff9 283.5px,#a2bef6 288px,#87abf3 289.5px,#83a8f3 292.5px,#a2bef6 297px,#cddcfb 298.5px,#94b4f5 307.5px,#c5d6fa 312px,#a8c2f7 315px,#83a8f2 316.5px,#9cbaf5 319.5px,#bed2f9 321px,#bacff9 322.5px)"></i><i style="top:296.2px;height:8.4px;background:linear-gradient(90deg,#f9d2c4 0px,#f8c8b8 9px,#f3a292 13.5px,#f8cbbc 22.5px,#f8c9b9 27px,#fad6ca 30px,#fdece7 31.5px,#fad6ca 36px,#fdede7 40.5px,#fcebe5 43.5px,#fad6ca 48px,#f5b6a6 49.5px,#f3a797 54px,#fbddd4 60px,#fbe3db 63px,#f8ccbd 69px,#fefaf8 76.5px,#fef8f6 79.5px,#fce4dc 81px,#fefaf8 84px,#e1eafc 85.5px,#e6edfd 88.5px,#fafcff 90px,#e3ebfc 94.5px,#e9effd 99px,#bcd1f9 108px,#c4d6fa 111px,#fef4f1 117px,#fcebe5 121.5px,#fdfeff 124.5px,#c2d5fa 126px,#e9f0fd 135px,#cfddfb 139.5px,#dfe9fc 142.5px,#feffff 144px,#e4ecfd 147px,#b0c8f8 148.5px,#c8d8fa 151.5px,#f8fafe 153px,#d6e2fb 160.5px,#bfd2f9 162px,#ceddfb 165px,#f1f5fe 166.5px,#f4f7fe 171px,#e9f0fd 174px,#a6c1f7 181.5px,#aac4f7 186px,#90b1f4 190.5px,#c7d8fa 204px,#bdd1f9 207px,#7fa5f2 213px,#80a6f2 216px,#9cbaf6 220.5px,#b9cef9 222px,#bbcff9 225px,#9cbaf6 235.5px,#9ebbf6 243px,#79a1f1 249px,#8caef4 253.5px,#7ea5f2 258px,#8eb0f4 261px,#adc6f8 262.5px,#dae6fc 267px,#9dbaf6 276px,#adc6f8 279px,#c8d9fa 280.5px,#c0d3f9 283.5px,#89acf3 289.5px,#82a7f2 292.5px,#9fbcf6 297px,#ceddfb 298.5px,#bfd3f9 301.5px,#a4c0f7 303px,#92b3f4 307.5px,#aac4f7 310.5px,#cadafa 312px,#aac3f7 315px,#83a8f2 316.5px,#a1bdf6 319.5px,#cddcfb 321px,#c8d9fa 322.5px)"></i><i style="top:304px;height:8.4px;background:linear-gradient(90deg,#f8c5b5 0px,#f8c6b6 7.5px,#f9d2c5 9px,#f3a595 13.5px,#f3a696 16.5px,#f7beae 21px,#fad7cc 22.5px,#f9d2c5 27px,#fbded5 30px,#fdf2ee 31.5px,#fce6de 34.5px,#f9d1c4 36px,#fbdcd2 39px,#fdf3ef 40.5px,#fdebe6 45px,#fad5c8 48px,#f3a898 49.5px,#f3a494 54px,#fbdfd6 60px,#fce6de 63px,#f9d1c3 69px,#f6f9fe 76.5px,#fffdfd 79.5px,#fbddd3 81px,#fef8f6 84px,#d6e2fb 85.5px,#fffefe 91.5px,#dfe9fc 94.5px,#f4f7fe 99px,#dfe9fc 102px,#b7cdf9 103.5px,#aec7f8 108px,#b7cdf9 111px,#e4ecfd 115.5px,#fdf2ef 117px,#fcebe5 121.5px,#fcfdff 124.5px,#bdd1f9 126px,#d0defb 133.5px,#eaf1fd 135px,#dde7fc 138px,#c3d5fa 139.5px,#dce7fc 142.5px,#fef6f3 144px,#e6edfd 147px,#9fbcf6 148.5px,#c1d4fa 151.5px,#fef6f4 153px,#fbfcff 156px,#dce6fc 157.5px,#cadafa 160.5px,#acc5f7 162px,#c4d6fa 165px,#fafcff 166.5px,#fcfdff 171px,#f8fafe 175.5px,#c7d8fa 180px,#a4bff6 181.5px,#a6c1f7 186px,#87abf3 190.5px,#9ab8f5 193.5px,#bcd0f9 195px,#cadafa 204px,#81a6f2 213px,#81a7f2 216px,#9ebbf6 220.5px,#c0d3f9 222px,#c4d6fa 226.5px,#93b3f4 235.5px,#a8c2f7 240px,#7aa1f1 249px,#90b1f4 253.5px,#7ea5f2 258px,#93b3f4 261px,#bacff9 262.5px,#dee8fc 267px,#d4e1fb 270px,#9dbbf6 276px,#b4cbf8 279px,#d8e4fc 280.5px,#8badf3 289.5px,#7da4f2 294px,#9dbbf6 297px,#d1dffb 298.5px,#c0d3f9 301.5px,#a2bef6 303px,#91b2f4 307.5px,#acc5f8 310.5px,#d0defb 312px,#acc5f8 315px,#84a9f3 316.5px,#a6c1f7 319.5px,#dce7fc 321px,#d7e3fb 322.5px)"></i><i style="top:311.8px;height:8.4px;background:linear-gradient(90deg,#f7c4b4 0px,#f9ccbd 7.5px,#fbddd3 9px,#f8c8b8 12px,#f4ac9c 13.5px,#f4ae9e 16.5px,#f8c7b7 21px,#fbe1d8 22.5px,#fadbd0 27px,#fdece7 31.5px,#fad4c8 36px,#fdece7 40.5px,#fdf0ec 45px,#fad9ce 48px,#f4ae9e 49.5px,#f3a898 54px,#f7beae 57px,#fadad0 58.5px,#fce8e1 63px,#f9d2c5 67.5px,#f4f7fe 76.5px,#ffffff 79.5px,#fbe0d6 81px,#fef9f8 84px,#d6e3fb 85.5px,#fffcfc 91.5px,#e3ecfd 94.5px,#eff4fe 99px,#d9e4fc 102px,#b0c8f8 103.5px,#bdd1f9 111px,#e4ecfd 115.5px,#fdf2ef 117px,#fdeee9 121.5px,#fafcff 124.5px,#c2d4fa 126px,#bcd0f9 130.5px,#ccdbfa 133.5px,#eaf1fd 135px,#c8d8fa 139.5px,#dce7fc 142.5px,#fffcfb 144px,#dee8fc 147px,#9ab9f5 148.5px,#bfd2f9 151.5px,#fdf3f0 153px,#ffffff 156px,#dee8fc 157.5px,#ccdcfb 160.5px,#aec6f8 162px,#c4d6fa 165px,#f5f8fe 166.5px,#feffff 175.5px,#c9d9fa 180px,#a2bef6 181.5px,#aac4f7 186px,#8aadf3 190.5px,#9dbbf6 193.5px,#bfd2f9 195px,#c8d8fa 204px,#8caef4 213px,#8fb1f4 217.5px,#9fbcf6 220.5px,#bacff9 222px,#bed1f9 226.5px,#90b1f4 235.5px,#a9c3f7 240px,#81a7f2 249px,#97b7f5 253.5px,#85aaf3 258px,#9ab9f5 261px,#c4d6fa 262.5px,#dfe9fc 267px,#9ab9f5 276px,#b3caf8 279px,#dbe6fc 280.5px,#c9d9fa 283.5px,#a9c3f7 285px,#87abf3 294px,#a3bff6 297px,#d0defb 298.5px,#bcd0f9 301.5px,#9cbaf6 303px,#90b1f4 307.5px,#abc4f7 310.5px,#cfdefb 312px,#b0c8f8 315px,#8fb0f4 316.5px,#b0c8f8 319.5px,#e6eefd 321px,#e1eafc 322.5px)"></i><i style="top:319.6px;height:8.4px;background:linear-gradient(90deg,#f8cabb 0px,#fad7cb 7.5px,#fce9e2 9px,#fad4c8 12px,#f6b8a8 13.5px,#fad5c9 21px,#fcebe5 22.5px,#fbded4 37.5px,#fef6f4 45px,#fbe3db 48px,#f7beae 49.5px,#f5b1a1 54px,#f7c4b4 57px,#fadcd1 58.5px,#fdece6 63px,#fad5c9 67.5px,#f9fbff 76.5px,#fffefe 79.5px,#fce7e0 81px,#fffcfb 84px,#dee8fc 85.5px,#fffdfc 91.5px,#d0defb 102px,#b0c8f8 103.5px,#d3e0fb 112.5px,#fdf2ef 117px,#fefbf9 123px,#fafbff 124.5px,#ccdcfa 126px,#bdd1f9 130.5px,#ccdcfa 133.5px,#eaf0fd 135px,#d6e2fb 139.5px,#f0f5fe 144px,#d2e0fb 147px,#9cbaf6 148.5px,#bfd3f9 151.5px,#fef5f2 153px,#fffefe 156px,#bdd1f9 162px,#cbdbfa 165px,#eaf0fd 166.5px,#fffefd 172.5px,#fdfdff 175.5px,#c7d8fa 180px,#a1bef6 181.5px,#b5cbf8 186px,#95b5f5 190.5px,#a4c0f7 193.5px,#bdd1f9 195px,#b0c8f8 199.5px,#c4d6fa 204px,#a8c2f7 208.5px,#97b7f5 217.5px,#b2c9f8 222px,#b6ccf8 229.5px,#92b3f4 235.5px,#a9c3f7 240px,#8fb1f4 249px,#a3bef6 253.5px,#92b3f4 258px,#a6c1f7 261px,#ceddfb 262.5px,#e1eafc 267px,#97b6f5 276px,#b0c8f8 279px,#dbe6fc 280.5px,#cadafa 283.5px,#adc6f8 285px,#9cbaf6 289.5px,#9bb9f5 294px,#afc8f8 297px,#cfdefb 298.5px,#b8cef9 301.5px,#96b6f5 303px,#92b3f4 307.5px,#aac4f7 310.5px,#ceddfb 312px,#a1bdf6 316.5px,#c0d3f9 319.5px,#eff4fe 321px,#ecf2fd 322.5px)"></i></div></div>
<div class="hm" style="left:120.7px;top:1021.7px;width:318px;height:319.3px"><div class="hi" style="filter:blur(1.5px)"><i style="top:0px;height:7.1px;background:linear-gradient(90deg,#12bec4 0px,#19c1b3 16.5px,#1ac1b1 36px,#17c1b7 54px,#13b6d2 76.5px,#12bbcb 325.5px)"></i><i style="top:6.5px;height:7.1px;background:linear-gradient(90deg,#12bec4 0px,#19c1b3 15px,#1ac1b1 37.5px,#17c1b6 51px,#12b7d1 66px,#16b0d7 78px,#16b1d6 139.5px,#12bbc9 174px,#12bbcb 325.5px)"></i><i style="top:13.1px;height:7.1px;background:linear-gradient(90deg,#12bec4 0px,#19c1b3 15px,#19c1b3 45px,#12b8cf 61.5px,#1ca6df 79.5px,#1aaadc 141px,#12bcc7 177px,#12bbcb 325.5px)"></i><i style="top:19.6px;height:7.1px;background:linear-gradient(90deg,#12bec4 0px,#19c1b3 15px,#19c1b2 40.5px,#12bec5 55.5px,#1fa1e3 70.5px,#2398e7 82.5px,#1ea2e2 142.5px,#12bec5 177px,#12bbcb 325.5px)"></i><i style="top:26.2px;height:7.1px;background:linear-gradient(90deg,#12bec4 0px,#19c1b3 15px,#18c1b4 43.5px,#12b9ce 57px,#1fa1e3 66px,#2d83f0 85.5px,#2693e9 105px,#229ae6 142.5px,#12bacd 163.5px,#12bfc2 174px,#12bbcb 325.5px)"></i><i style="top:32.7px;height:7.1px;background:linear-gradient(90deg,#12bec4 0px,#1ac1b1 24px,#19c1b3 40.5px,#12c0c1 51px,#18aed8 60px,#2e81f1 73.5px,#3765ee 79.5px,#3b58ec 85.5px,#3a5cec 90px,#307ef2 99px,#298ced 106.5px,#2495e8 142.5px,#12c0c1 171px,#15c0ba 193.5px,#12bcc9 240px,#12bbcb 325.5px)"></i><i style="top:39.3px;height:7.1px;background:linear-gradient(90deg,#12bec4 0px,#19c1b3 15px,#1ac1b1 31.5px,#18c1b5 43.5px,#12bbcb 54px,#2f7ff2 70.5px,#4242e8 79.5px,#413cde 84px,#4047e9 93px,#2f80f2 103.5px,#2c86ef 106.5px,#288eeb 136.5px,#219de5 148.5px,#12c0c1 168px,#18c1b4 189px,#12bcc9 243px,#12bbcb 325.5px)"></i><i style="top:45.8px;height:7.1px;background:linear-gradient(90deg,#12bec4 0px,#19c1b3 15px,#1ac1b1 31.5px,#17c1b6 43.5px,#12bacd 54px,#307df2 69px,#4240e5 76.5px,#4033ce 82.5px,#4243e8 94.5px,#2d84f0 106.5px,#2594e9 144px,#13c0be 168px,#1ac1b1 192px,#12bcc9 244.5px,#12bbcb 325.5px)"></i><i style="top:52.4px;height:7.1px;background:linear-gradient(90deg,#12bec4 0px,#19c1b3 15px,#1ac1b1 31.5px,#17c1b6 43.5px,#12b9cf 54px,#2f81f2 67.5px,#4145e8 75px,#4032cc 82.5px,#4241e6 93px,#2e82f1 105px,#2496e8 145.5px,#12c0c1 166.5px,#1ac1b0 187.5px,#12bcc8 240px,#12bbcb 325.5px)"></i><i style="top:58.9px;height:7.1px;background:linear-gradient(90deg,#12bec4 0px,#19c1b3 15px,#1ac1b1 31.5px,#17c1b6 43.5px,#12bbca 52.5px,#1ea3e1 60px,#307bf1 67.5px,#4243e8 76.5px,#413bdc 82.5px,#4242e7 88.5px,#307bf1 100.5px,#2c86ef 105px,#2496e8 145.5px,#12c0bf 168px,#19c1b3 193.5px,#12bcc8 240px,#12bbcb 325.5px)"></i><i style="top:65.5px;height:7.1px;background:linear-gradient(90deg,#12bec4 0px,#19c1b3 15px,#1ac1b1 31.5px,#17c1b6 43.5px,#12bbcb 52.5px,#2e83f1 66px,#3a5bec 72px,#3f4cea 78px,#3d52eb 84px,#2c86ef 100.5px,#2691ea 141px,#12c0c1 168px,#17c1b6 195px,#12bcc9 244.5px,#12bbcb 325.5px)"></i><i style="top:72px;height:7.1px;background:linear-gradient(90deg,#12bec4 0px,#19c1b3 15px,#1ac1b1 33px,#17c1b6 43.5px,#12bbca 52.5px,#2d83f0 66px,#395eed 72px,#3c56eb 76.5px,#2a8bed 99px,#2594e9 141px,#12c0c1 168px,#17c1b7 193.5px,#12bbca 252px,#12bbcb 325.5px)"></i><i style="top:78.6px;height:7.1px;background:linear-gradient(90deg,#12bec4 0px,#1ac1b1 22.5px,#19c1b2 39px,#12c0c0 49.5px,#19abdb 58.5px,#2f80f2 67.5px,#3863ed 75px,#2594e9 99px,#219de5 144px,#12c0bf 166.5px,#18c1b4 193.5px,#12bbca 253.5px,#12bbcb 325.5px)"></i><i style="top:85.1px;height:7.1px;background:linear-gradient(90deg,#12bec4 0px,#1ac1b1 22.5px,#19c1b2 40.5px,#12bfc1 51px,#1ea2e2 61.5px,#317af1 73.5px,#1da4e1 100.5px,#1ca5e0 142.5px,#12bfc2 160.5px,#1ac1b1 169.5px,#1dc1ab 183px,#1bc1af 210px,#12bcc9 250.5px,#12bbcb 325.5px)"></i><i style="top:91.6px;height:7.1px;background:linear-gradient(90deg,#12bec4 0px,#19c1b3 15px,#1ac1b1 42px,#12bec5 54px,#1da4e1 63px,#298dec 72px,#12bacd 100.5px,#15b3d4 142.5px,#12bfc2 154.5px,#20c2a6 165px,#26c39e 177px,#21c2a3 213px,#12bfc3 241.5px,#12b9cf 268.5px,#12bacb 325.5px)"></i><i style="top:98.2px;height:7.1px;background:linear-gradient(90deg,#12bec4 0px,#19c1b3 15px,#1ac1b0 45px,#12bfc2 55.5px,#219de5 70.5px,#1ba7de 76.5px,#12c0bf 85.5px,#23c2a1 93px,#30c495 100.5px,#2ec497 120px,#17c1b7 135px,#15c0bb 142.5px,#30c495 163.5px,#37c58e 187.5px,#2bc399 217.5px,#12c0c0 241.5px,#12b9cf 261px,#12bacc 325.5px)"></i><i style="top:104.7px;height:7.1px;background:linear-gradient(90deg,#12bec4 0px,#19c1b3 15px,#1bc1ae 48px,#12c0bf 57px,#17afd8 64.5px,#1ba8dd 70.5px,#12b9cf 76.5px,#17c1b7 79.5px,#76c559 93px,#8bc348 100.5px,#6bc662 120px,#38c58e 133.5px,#2dc398 141px,#44c683 166.5px,#45c782 198px,#35c590 219px,#12c0c0 243px,#13b6d2 262.5px,#18add9 288px,#12bacd 325.5px)"></i><i style="top:111.3px;height:7.1px;background:linear-gradient(90deg,#12bec4 0px,#19c1b2 16.5px,#1dc1ac 51px,#12bec4 60px,#17aed8 67.5px,#15b2d5 72px,#12bdc7 75px,#1fc2a7 78px,#51c877 82.5px,#9ec03e 87px,#d2b630 91.5px,#eab232 97.5px,#e4b331 102px,#afbd39 112.5px,#96c141 123px,#57c772 133.5px,#48c77f 139.5px,#51c877 171px,#4ac77d 208.5px,#3bc58b 220.5px,#14c0bb 241.5px,#12b8d0 256.5px,#1aa9dd 279px,#12b9ce 325.5px)"></i><i style="top:117.8px;height:7.1px;background:linear-gradient(90deg,#12bec4 0px,#19c1b2 16.5px,#1ec1aa 52.5px,#12c0c0 60px,#15b2d5 69px,#12b7d0 72px,#15c0ba 75px,#46c781 79.5px,#86c34c 82.5px,#c3b932 85.5px,#ebb132 88.5px,#f4b432 90px,#fcc232 96px,#fbc132 102px,#f0b032 108px,#d1b730 112.5px,#a1bf3d 126px,#64c667 136.5px,#57c772 142.5px,#5dc76e 178.5px,#52c876 207px,#3dc689 222px,#13c0be 243px,#1ba7de 274.5px,#1da3e1 289.5px,#12b9ce 325.5px)"></i><i style="top:124.4px;height:7.1px;background:linear-gradient(90deg,#12bec4 0px,#19c1b2 16.5px,#1fc2a8 49.5px,#1dc1ab 55.5px,#12b7d1 66px,#12b8cf 70.5px,#13c0be 73.5px,#3fc687 78px,#58c772 79.5px,#a0c03e 82.5px,#eeb132 87px,#fcc232 91.5px,#face2b 100.5px,#f2b132 109.5px,#d6b631 114px,#adbd39 126px,#78c457 135px,#64c668 142.5px,#59c770 205.5px,#3cc58a 223.5px,#13c0bd 243px,#1ca5e0 277.5px,#1da3e1 291px,#12b9ce 325.5px)"></i><i style="top:130.9px;height:7.1px;background:linear-gradient(90deg,#12bec4 0px,#19c1b2 16.5px,#1fc2a7 49.5px,#1dc1ab 57px,#12bbca 67.5px,#14c0bd 72px,#24c2a0 75px,#49c77e 78px,#a3bf3d 82.5px,#e7b231 87px,#fcc232 93px,#fbcb2d 99px,#f3b332 108px,#d6b631 114px,#babb35 124.5px,#78c457 136.5px,#6ac662 142.5px,#5ec76c 204px,#3ac58c 225px,#12c0c0 244.5px,#1aaadc 274.5px,#1ca6df 289.5px,#12b9ce 325.5px)"></i><i style="top:137.5px;height:7.1px;background:linear-gradient(90deg,#12bec4 0px,#19c1b2 16.5px,#20c2a5 52.5px,#14c0bb 66px,#19c1b3 70.5px,#25c29f 73.5px,#43c684 76.5px,#9cc03f 82.5px,#cfb730 87px,#eeb132 91.5px,#f6b632 97.5px,#f2b132 103.5px,#d6b631 111px,#bfba33 123px,#81c450 135px,#6dc560 142.5px,#5ec76c 205.5px,#3ec688 223.5px,#1ac1b0 238.5px,#12b7d1 259.5px,#19abda 286.5px,#12b9cd 325.5px)"></i><i style="top:144px;height:7.1px;background:linear-gradient(90deg,#12bec4 0px,#19c1b2 16.5px,#21c2a3 69px,#4dc87a 76.5px,#95c241 82.5px,#c3b932 90px,#d3b630 97.5px,#c0ba33 120px,#7fc451 135px,#6ec55f 142.5px,#61c66a 204px,#3bc58b 225px,#21c2a3 234px,#13c0bd 244.5px,#15b2d5 279px,#12bacc 325.5px)"></i><i style="top:150.6px;height:7.1px;background:linear-gradient(90deg,#12bec4 0px,#19c1b2 16.5px,#2ac39b 64.5px,#4dc87a 75px,#91c243 84px,#acbd3a 93px,#b4bc37 103.5px,#adbd39 120px,#93c242 129px,#7bc455 135px,#6dc560 142.5px,#5fc76b 205.5px,#46c781 220.5px,#21c2a3 234px,#12c0bf 246px,#12b7d1 274.5px,#12bacb 325.5px)"></i><i style="top:157.1px;height:7.1px;background:linear-gradient(90deg,#12bec4 0px,#19c1b2 16.5px,#22c2a2 54px,#2ec497 61.5px,#8bc348 90px,#97c140 117px,#6bc662 144px,#5fc76b 205.5px,#46c781 220.5px,#1fc2a7 235.5px,#12c0c1 247.5px,#12b9ce 277.5px,#12bacb 325.5px)"></i><i style="top:163.6px;height:7.1px;background:linear-gradient(90deg,#12bec4 0px,#19c1b2 16.5px,#21c2a3 52.5px,#36c590 61.5px,#6fc55f 70.5px,#60c76b 81px,#7bc455 97.5px,#7fc451 115.5px,#6cc561 138px,#61c66a 204px,#4bc77c 217.5px,#1fc2a7 235.5px,#12c0c0 247.5px,#12bbcb 270px,#12bbcb 325.5px)"></i><i style="top:170.2px;height:7.1px;background:linear-gradient(90deg,#12bec4 0px,#19c1b2 16.5px,#23c2a1 54px,#3cc58a 61.5px,#7cc454 67.5px,#8fc245 70.5px,#5fc76c 79.5px,#5ac770 82.5px,#71c55d 109.5px,#64c667 198px,#4bc77c 217.5px,#21c2a3 234px,#12bfc2 249px,#12bbcb 325.5px)"></i><i style="top:176.7px;height:7.1px;background:linear-gradient(90deg,#12bec4 0px,#26c39e 55.5px,#41c685 61.5px,#4ec87a 63px,#94c241 67.5px,#a6bf3c 70.5px,#99c140 73.5px,#60c76b 79.5px,#56c773 82.5px,#6ac663 111px,#63c668 198px,#45c782 220.5px,#21c2a3 234px,#12bfc2 249px,#12bbcb 325.5px)"></i><i style="top:183.3px;height:7.1px;background:linear-gradient(90deg,#12bec4 0px,#26c39e 55.5px,#44c683 61.5px,#54c874 63px,#8cc347 66px,#afbd39 69px,#b4bc37 70.5px,#94c242 75px,#61c66a 79.5px,#53c876 84px,#65c667 109.5px,#62c669 195px,#43c683 220.5px,#21c2a4 234px,#12c0c1 247.5px,#12bbcb 325.5px)"></i><i style="top:189.8px;height:7.1px;background:linear-gradient(90deg,#12bec4 0px,#26c29f 55.5px,#44c683 61.5px,#55c874 63px,#8ec245 66px,#b1bc38 69px,#b6bc36 70.5px,#93c242 75px,#5ec76d 79.5px,#4fc879 84px,#60c76b 117px,#5bc76f 199.5px,#47c780 217.5px,#20c2a6 234px,#12bec4 250.5px,#12bbcb 325.5px)"></i><i style="top:196.4px;height:7.1px;background:linear-gradient(90deg,#12bec4 0px,#28c39c 57px,#4fc879 63px,#99c140 67.5px,#aabe3a 70.5px,#9ac140 73.5px,#54c875 79.5px,#49c77e 84px,#56c773 115.5px,#53c875 195px,#3fc687 219px,#17c1b6 240px,#12bcc8 256.5px,#12bacb 325.5px)"></i><i style="top:202.9px;height:7.1px;background:linear-gradient(90deg,#12bec4 0px,#19c1b2 16.5px,#22c2a2 55.5px,#3ac58c 61.5px,#80c450 67.5px,#91c242 70.5px,#80c451 73.5px,#4fc879 78px,#40c686 84px,#4ac77e 123px,#47c780 199.5px,#32c493 222px,#12c0bf 243px,#12bcc9 255px,#12bacc 325.5px)"></i><i style="top:209.5px;height:7.1px;background:linear-gradient(90deg,#12bec4 0px,#19c1b3 15px,#21c2a3 57px,#30c495 61.5px,#67c665 70.5px,#3dc689 78px,#32c493 82.5px,#36c58f 202.5px,#2cc399 217.5px,#14c0bc 237px,#12bcc9 249px,#12b9ce 325.5px)"></i><i style="top:216px;height:7.1px;background:linear-gradient(90deg,#12bec4 0px,#19c1b3 15px,#1ec2a9 57px,#40c687 70.5px,#20c2a6 82.5px,#21c2a3 201px,#12b9cf 250.5px,#12b8d0 325.5px)"></i><i style="top:222.6px;height:7.1px;background:linear-gradient(90deg,#12bec4 0px,#19c1b3 15px,#1bc1b0 57px,#23c2a1 69px,#13c0be 84px,#14c0bc 198px,#14b5d3 249px,#13b5d2 325.5px)"></i><i style="top:229.1px;height:7.1px;background:linear-gradient(90deg,#12bec4 0px,#19c1b3 15px,#1ac1b1 49.5px,#16c0b9 69px,#12b9ce 84px,#15b3d4 325.5px)"></i><i style="top:235.7px;height:7.1px;background:linear-gradient(90deg,#12bec4 0px,#19c1b3 15px,#1ac1b1 43.5px,#15b2d5 85.5px,#16b1d6 325.5px)"></i><i style="top:242.2px;height:7.1px;background:linear-gradient(90deg,#12bec4 0px,#19c1b3 15px,#1ac1b1 39px,#17c1b6 52.5px,#17afd8 82.5px,#17afd7 325.5px)"></i><i style="top:248.7px;height:7.1px;background:linear-gradient(90deg,#12bec4 0px,#19c1b3 15px,#1ac1b1 37.5px,#12c0c0 58.5px,#13b6d2 69px,#18acda 84px,#17afd8 325.5px)"></i><i style="top:255.3px;height:7.1px;background:linear-gradient(90deg,#12bec4 0px,#19c1b3 15px,#1ac1b1 36px,#13c0be 57px,#12b8d0 66px,#19abdb 84px,#17aed8 325.5px)"></i><i style="top:261.8px;height:7.1px;background:linear-gradient(90deg,#12bec4 0px,#19c1b3 15px,#1ac1b1 34.5px,#13c0bf 57px,#15b2d5 70.5px,#1aaadc 87px,#17aed8 325.5px)"></i><i style="top:268.4px;height:7.1px;background:linear-gradient(90deg,#12bec4 0px,#19c1b3 15px,#1ac1b1 34.5px,#13c0bf 57px,#12b7d1 66px,#1aaadc 85.5px,#17aed8 325.5px)"></i><i style="top:274.9px;height:7.1px;background:linear-gradient(90deg,#12bec4 0px,#19c1b3 15px,#1ac1b1 34.5px,#12c0bf 57px,#12b7d1 66px,#1aaadc 84px,#1da4e0 250.5px,#18aed8 325.5px)"></i><i style="top:281.5px;height:7.1px;background:linear-gradient(90deg,#12bec4 0px,#19c1b3 15px,#19c1b2 42px,#12c0bf 57px,#19abdb 79.5px,#1fa0e3 168px,#18add9 325.5px)"></i><i style="top:288px;height:7.1px;background:linear-gradient(90deg,#12bec4 0px,#19c1b2 18px,#19c1b2 42px,#12c0bf 57px,#19abdb 79.5px,#219be5 181.5px,#18add9 325.5px)"></i><i style="top:294.6px;height:7.1px;background:linear-gradient(90deg,#12bec4 0px,#18c1b4 13.5px,#19c1b2 40.5px,#12c0c0 57px,#19abdb 79.5px,#2299e6 177px,#219be5 252px,#18add9 325.5px)"></i><i style="top:301.1px;height:7.1px;background:linear-gradient(90deg,#12bec4 0px,#18c1b4 13.5px,#19c1b2 40.5px,#12c0bf 57px,#19abdb 79.5px,#2299e6 180px,#219be5 250.5px,#18add9 325.5px)"></i><i style="top:307.7px;height:7.1px;background:linear-gradient(90deg,#12bec4 0px,#19c1b2 18px,#19c1b2 42px,#12c0bf 57px,#19acda 78px,#219ce5 175.5px,#209de4 247.5px,#18aed9 325.5px)"></i><i style="top:314.2px;height:7.1px;background:linear-gradient(90deg,#12bec4 0px,#18c1b4 13.5px,#1ac1b1 33px,#13c0bf 57px,#15b2d5 70.5px,#1aaadc 87px,#1ea1e2 238.5px,#17aed8 325.5px)"></i><i style="top:320.8px;height:7.1px;background:linear-gradient(90deg,#12bec4 0px,#19c1b3 16.5px,#19c1b2 40.5px,#17c1b6 51px,#14b5d3 69px,#19abdb 90px,#1ca6de 234px,#17afd7 325.5px)"></i></div></div>
<div class="hm" style="left:503.2px;top:1022.1px;width:316.7px;height:318.9px"><div class="hi" style="filter:blur(1.5px)"><i style="top:0px;height:7.1px;background:linear-gradient(90deg,#13c0be 0px,#15c0bb 46.5px,#12bcc9 58.5px,#219de5 79.5px,#219be5 310.5px,#1da4e1 324px)"></i><i style="top:6.5px;height:7.1px;background:linear-gradient(90deg,#14c0bc 0px,#18c1b4 45px,#12bfc3 57px,#1da4e1 70.5px,#229ae6 81px,#2299e6 310.5px,#1ea2e2 324px)"></i><i style="top:13.1px;height:7.1px;background:linear-gradient(90deg,#14c0bc 0px,#19c1b2 15px,#19c1b3 46.5px,#12bfc3 57px,#1da3e1 69px,#2594e8 84px,#2594e8 310.5px,#209ee4 324px)"></i><i style="top:19.6px;height:7.1px;background:linear-gradient(90deg,#14c0bc 0px,#19c1b2 15px,#19c1b3 46.5px,#12bcc9 58.5px,#1ea2e2 67.5px,#2692e9 75px,#298cec 88.5px,#298cec 307.5px,#2398e7 324px)"></i><i style="top:26.2px;height:7.1px;background:linear-gradient(90deg,#14c0bc 0px,#1ac1b1 37.5px,#12bfc1 55.5px,#229ae6 69px,#2d83f1 90px,#2c85ef 309px,#2593e9 324px)"></i><i style="top:32.7px;height:7.1px;background:linear-gradient(90deg,#14c0bc 0px,#1ac1b1 37.5px,#12bfc3 55.5px,#2b89ee 73.5px,#3e4fea 91.5px,#307ef2 111px,#307ef2 273px,#346eef 309px,#2a8aed 324px)"></i><i style="top:39.2px;height:7.1px;background:linear-gradient(90deg,#14c0bc 0px,#1ac1b1 37.5px,#18c1b5 48px,#12bcc8 57px,#2f80f2 75px,#423fe2 84px,#3f2fc3 90px,#4033cd 97.5px,#4146e9 102px,#356eef 108px,#3277f0 114px,#3276f0 271.5px,#404ae9 307.5px,#3b59ec 316.5px,#2f7ff2 324px)"></i><i style="top:45.8px;height:7.1px;background:linear-gradient(90deg,#14c0bc 0px,#1ac1b1 37.5px,#18c1b5 48px,#12bcc8 57px,#209de4 66px,#307cf1 75px,#413ddf 82.5px,#3e2eb8 88.5px,#3e2eb5 94.5px,#4030c5 99px,#4145e8 103.5px,#356def 109.5px,#3375f0 117px,#3374f0 268.5px,#356cef 280.5px,#4242e8 298.5px,#413cdd 307.5px,#4145e9 315px,#3276f0 324px)"></i><i style="top:52.3px;height:7.1px;background:linear-gradient(90deg,#14c0bc 0px,#1ac1b1 37.5px,#18c1b5 48px,#12bcc8 57px,#1da4e1 64.5px,#307ef2 75px,#423fe3 84px,#3f2fc3 90px,#4033ce 97.5px,#4147e9 102px,#356cef 108px,#3374f0 114px,#3374f0 267px,#356bef 283.5px,#3f4ae9 306px,#3b59ec 316.5px,#307ef2 324px)"></i><i style="top:58.8px;height:7.1px;background:linear-gradient(90deg,#14c0bc 0px,#1ac1b1 37.5px,#12c0c0 54px,#1da4e1 64.5px,#2f81f2 75px,#3d51ea 88.5px,#3f4bea 93px,#356eef 105px,#3374f0 111px,#3375f0 265.5px,#3766ee 307.5px,#346fef 316.5px,#2c86ef 324px)"></i><i style="top:65.4px;height:7.1px;background:linear-gradient(90deg,#14c0bc 0px,#1ac1b1 37.5px,#12c0c0 54px,#14b5d3 60px,#2d85f0 73.5px,#3470ef 91.5px,#3374f0 307.5px,#2a8aed 324px)"></i><i style="top:71.9px;height:7.1px;background:linear-gradient(90deg,#14c0bc 0px,#1ac1b1 37.5px,#12c0bf 54px,#2593e9 69px,#307bf1 88.5px,#307cf1 306px,#298dec 324px)"></i><i style="top:78.5px;height:7.1px;background:linear-gradient(90deg,#14c0bc 0px,#1ac1b1 37.5px,#13c0be 54px,#209ee4 67.5px,#298bed 76.5px,#2c86ef 90px,#2b87ef 312px,#2593e9 324px)"></i><i style="top:85px;height:7.1px;background:linear-gradient(90deg,#14c0bc 0px,#19c1b2 45px,#16c1b8 52.5px,#12b9cf 61.5px,#1da3e1 73.5px,#209fe4 82.5px,#1ea2e2 324px)"></i><i style="top:91.5px;height:7.1px;background:linear-gradient(90deg,#14c0bc 0px,#1ac1b1 19.5px,#19c1b2 48px,#12c0c0 64.5px,#18c1b5 106.5px,#15c0bb 270px,#14b5d3 324px)"></i><i style="top:98.1px;height:7.1px;background:linear-gradient(90deg,#14c0bc 0px,#1ac1b1 19.5px,#1ac1b1 55.5px,#1fc2a7 61.5px,#35c590 66px,#77c458 73.5px,#8cc347 78px,#b1bc38 109.5px,#96c141 132px,#8cc347 186px,#68c664 234px,#60c76b 264px,#41c685 288px,#20c2a6 306px,#13c0bd 324px)"></i><i style="top:104.6px;height:7.1px;background:linear-gradient(90deg,#14c0bc 0px,#1bc1b0 52.5px,#23c2a1 60px,#45c782 64.5px,#99c140 69px,#d4b631 73.5px,#f2b032 81px,#fcc132 96px,#facf2a 109.5px,#f2b032 138px,#e8b231 190.5px,#beba34 267px,#93c242 286.5px,#49c77e 303px,#1dc1ab 324px)"></i><i style="top:111.1px;height:7.1px;background:linear-gradient(90deg,#14c0bc 0px,#1bc1b0 51px,#21c2a4 58.5px,#4fc879 64.5px,#94c241 67.5px,#cfb730 70.5px,#efb132 73.5px,#fcc431 82.5px,#f8ee1c 97.5px,#f8f41a 114px,#fabe32 141px,#e9b232 270px,#ccb830 285px,#93c242 297px,#52c877 307.5px,#23c2a1 324px)"></i><i style="top:117.7px;height:7.1px;background:linear-gradient(90deg,#14c0bc 0px,#1bc1af 52.5px,#22c2a3 58.5px,#33c493 61.5px,#53c875 64.5px,#9cc03f 67.5px,#bdba34 69px,#e9b232 72px,#f4b332 73.5px,#fbc132 78px,#f8f31a 93px,#f8f41a 123px,#fbcb2c 136.5px,#fcc132 145.5px,#f2b132 279px,#ceb730 291px,#9ac13f 300px,#53c875 310.5px,#28c39c 324px)"></i><i style="top:124.2px;height:7.1px;background:linear-gradient(90deg,#14c0bc 0px,#1bc1b0 49.5px,#22c2a2 58.5px,#34c491 61.5px,#57c772 64.5px,#a0c03e 67.5px,#c1ba33 69px,#ecb132 72px,#fcc331 78px,#f8f31a 91.5px,#f8f41a 123px,#facf2a 136.5px,#fcc331 147px,#f4b432 228px,#f7ba32 268.5px,#f3b132 280.5px,#d3b630 291px,#97c140 301.5px,#50c878 312px,#2ac39a 324px)"></i><i style="top:130.8px;height:7.1px;background:linear-gradient(90deg,#14c0bc 0px,#1bc1b0 49.5px,#24c2a1 58.5px,#45c782 63px,#5cc76e 64.5px,#a4bf3c 67.5px,#c5b932 69px,#eeb132 72px,#fcc232 78px,#f8f41a 94.5px,#f8f41a 121.5px,#facd2b 136.5px,#fcc530 145.5px,#f2b032 276px,#c9b830 291px,#97c140 300px,#4dc87a 312px,#2ac39a 324px)"></i><i style="top:137.3px;height:7.1px;background:linear-gradient(90deg,#14c0bc 0px,#1bc1b0 48px,#21c2a4 57px,#49c77e 63px,#a9be3b 67.5px,#c8b830 69px,#eeb132 72px,#fcc232 79.5px,#f8e71e 96px,#f8f21b 109.5px,#fbc630 141px,#f9bc32 202.5px,#f2b032 234px,#e4b331 270px,#c8b831 285px,#95c241 297px,#4ec87a 310.5px,#2ac39a 324px)"></i><i style="top:143.8px;height:7.1px;background:linear-gradient(90deg,#14c0bc 0px,#1bc1af 48px,#23c2a1 57px,#4dc87b 63px,#89c349 66px,#a7be3b 67.5px,#d5b631 70.5px,#eeb132 73.5px,#fcc232 91.5px,#fad129 111px,#fbbf32 132px,#f3b132 214.5px,#ceb730 265.5px,#bdba34 277.5px,#93c242 292.5px,#50c878 309px,#2ec497 324px)"></i><i style="top:150.4px;height:7.1px;background:linear-gradient(90deg,#14c0bc 0px,#21c2a4 55.5px,#4ec87a 63px,#94c241 67.5px,#c8b831 73.5px,#dcb431 84px,#edb132 109.5px,#e1b331 180px,#a8be3b 270px,#91c243 286.5px,#35c491 324px)"></i><i style="top:156.9px;height:7.1px;background:linear-gradient(90deg,#14c0bc 0px,#21c2a4 54px,#3cc58a 60px,#87c34b 67.5px,#94c241 70.5px,#c0ba33 108px,#ceb730 138px,#c5b932 163.5px,#98c140 219px,#8dc246 277.5px,#6ac663 304.5px,#3ec688 324px)"></i><i style="top:163.4px;height:7.1px;background:linear-gradient(90deg,#14c0bc 0px,#21c2a4 52.5px,#47c780 60px,#83c34e 64.5px,#9ac13f 67.5px,#89c34a 78px,#c8b831 111px,#dbb531 136.5px,#ceb730 163.5px,#87c34b 219px,#80c450 288px,#6fc55f 307.5px,#45c782 324px)"></i><i style="top:170px;height:7.1px;background:linear-gradient(90deg,#14c0bc 0px,#23c2a1 52.5px,#45c782 58.5px,#90c243 63px,#babb35 67.5px,#99c140 75px,#94c241 79.5px,#ccb830 100.5px,#f3b132 129px,#f1b032 154.5px,#cab830 180px,#9ec03e 202.5px,#8bc347 219px,#7dc453 298.5px,#72c55c 310.5px,#4ac77e 324px)"></i><i style="top:176.5px;height:7.1px;background:linear-gradient(90deg,#14c0bc 0px,#22c2a3 51px,#33c493 55.5px,#4dc87b 58.5px,#8bc348 61.5px,#a8be3b 63px,#c0ba33 64.5px,#d3b630 67.5px,#cab830 70.5px,#a5bf3c 75px,#9bc03f 79.5px,#ddb431 105px,#f2b032 117px,#f6b632 127.5px,#f1b032 163.5px,#cab830 184.5px,#a7be3b 201px,#8ec245 220.5px,#7dc453 303px,#6dc561 315px,#4cc77c 324px)"></i><i style="top:183.1px;height:7.1px;background:linear-gradient(90deg,#14c0bc 0px,#1dc1ac 43.5px,#25c2a0 52.5px,#33c492 55.5px,#50c878 58.5px,#96c141 61.5px,#cdb730 64.5px,#ddb431 67.5px,#d1b730 70.5px,#9dc03e 76.5px,#98c140 79.5px,#cfb730 102px,#f3b132 130.5px,#edb132 157.5px,#cbb830 180px,#a5bf3c 199.5px,#8dc246 220.5px,#7ec452 301.5px,#6ec560 315px,#4dc87b 324px)"></i><i style="top:189.6px;height:7.1px;background:linear-gradient(90deg,#14c0bc 0px,#1dc1ac 45px,#23c2a1 52.5px,#4ec879 58.5px,#94c241 61.5px,#ccb830 64.5px,#dbb531 67.5px,#ceb730 70.5px,#9dc03e 75px,#8ac348 79.5px,#cbb830 117px,#d6b631 145.5px,#c6b931 166.5px,#9fc03e 193.5px,#88c34a 219px,#7ac456 306px,#6dc561 315px,#4cc77c 324px)"></i><i style="top:196.1px;height:7.1px;background:linear-gradient(90deg,#14c0bc 0px,#21c2a3 52.5px,#49c77e 58.5px,#a6be3c 63px,#beba34 64.5px,#d0b730 67.5px,#bfba34 70.5px,#81c450 76.5px,#78c457 79.5px,#9dc03f 109.5px,#aabe3a 147px,#80c450 211.5px,#76c559 303px,#67c665 315px,#4ac77e 324px)"></i><i style="top:202.7px;height:7.1px;background:linear-gradient(90deg,#14c0bc 0px,#1cc1ae 45px,#23c2a1 54px,#52c876 60px,#8ec245 63px,#b1bd38 66px,#b5bc37 67.5px,#95c241 72px,#6ac663 76.5px,#61c66a 79.5px,#78c458 106.5px,#7fc452 150px,#6cc561 216px,#68c665 301.5px,#5dc76e 313.5px,#43c683 324px)"></i><i style="top:209.2px;height:7.1px;background:linear-gradient(90deg,#14c0bc 0px,#21c2a5 54px,#36c58f 58.5px,#7ac456 64.5px,#89c34a 67.5px,#4fc879 75px,#46c781 79.5px,#50c878 120px,#4cc77c 298.5px,#36c590 324px)"></i><i style="top:215.8px;height:7.1px;background:linear-gradient(90deg,#14c0bc 0px,#1dc1aa 54px,#4ac77e 66px,#24c2a0 79.5px,#28c39c 286.5px,#1fc2a8 324px)"></i><i style="top:222.3px;height:7.1px;background:linear-gradient(90deg,#14c0bc 0px,#1ac1b1 19.5px,#19c1b2 54px,#20c2a6 64.5px,#12bdc7 75px,#12b9ce 82.5px,#12bbcb 324px)"></i><i style="top:228.8px;height:7.1px;background:linear-gradient(90deg,#14c0bc 0px,#1ac1b1 19.5px,#19c1b3 46.5px,#12b8d0 67.5px,#1ca6de 76.5px,#1ea3e2 85.5px,#1ea2e2 306px,#1aaadc 324px)"></i><i style="top:235.4px;height:7.1px;background:linear-gradient(90deg,#14c0bc 0px,#19c1b3 43.5px,#12bec5 57px,#1ea3e2 70.5px,#2595e8 78px,#2790ea 94.5px,#2790ea 300px,#209de4 324px)"></i><i style="top:241.9px;height:7.1px;background:linear-gradient(90deg,#14c0bc 0px,#1ac1b1 19.5px,#18c1b4 45px,#12bacd 58.5px,#229ae6 70.5px,#298cec 78px,#2b87ef 91.5px,#2b87ef 303px,#2497e7 324px)"></i><i style="top:248.4px;height:7.1px;background:linear-gradient(90deg,#14c0bc 0px,#1ac1b1 33px,#12c0bf 52.5px,#2496e8 70.5px,#2d83f0 91.5px,#2d83f0 304.5px,#2594e9 324px)"></i><i style="top:255px;height:7.1px;background:linear-gradient(90deg,#14c0bc 0px,#1ac1b1 33px,#12bfc3 54px,#1ea2e2 66px,#2a8bed 75px,#2e82f1 87px,#2e81f1 300px,#2692e9 324px)"></i><i style="top:261.5px;height:7.1px;background:linear-gradient(90deg,#14c0bc 0px,#1ac1b1 33px,#12bfc3 54px,#2398e7 69px,#2c86ef 78px,#2e81f1 88.5px,#2e81f1 306px,#2692ea 324px)"></i><i style="top:268.1px;height:7.1px;background:linear-gradient(90deg,#14c0bc 0px,#1ac1b1 33px,#12bfc3 54px,#219de5 67.5px,#2a8aed 75px,#2e81f1 87px,#2e81f1 306px,#2692ea 324px)"></i><i style="top:274.6px;height:7.1px;background:linear-gradient(90deg,#14c0bc 0px,#1ac1b1 33px,#12bfc3 54px,#2a8aed 75px,#2f80f2 93px,#2e82f1 304.5px,#2693e9 324px)"></i><i style="top:281.1px;height:7.1px;background:linear-gradient(90deg,#14c0bc 0px,#1ac1b1 33px,#12bfc3 54px,#2a8aed 75px,#2f80f2 93px,#2b88ee 304.5px,#2497e7 324px)"></i><i style="top:287.7px;height:7.1px;background:linear-gradient(90deg,#14c0bc 0px,#1ac1b1 33px,#12bfc3 54px,#2a8aed 75px,#2f80f2 93px,#2e81f1 196.5px,#2399e6 253.5px,#229ae6 315px,#1ea3e1 324px)"></i><i style="top:294.2px;height:7.1px;background:linear-gradient(90deg,#14c0bc 0px,#1ac1b1 33px,#12bfc3 54px,#2a8aed 75px,#2f80f2 94.5px,#2e82f1 196.5px,#1ca7de 252px,#18add9 324px)"></i><i style="top:300.7px;height:7.1px;background:linear-gradient(90deg,#14c0bc 0px,#1ac1b1 33px,#12c0c0 52.5px,#2a8aed 75px,#2f80f2 97.5px,#2e82f1 198px,#1ea3e2 256.5px,#1aa9dc 324px)"></i><i style="top:307.3px;height:7.1px;background:linear-gradient(90deg,#14c0bc 0px,#19c1b2 37.5px,#12bfc3 54px,#2594e9 70.5px,#2e81f1 90px,#2e82f1 205.5px,#2790ea 312px,#219ce5 324px)"></i><i style="top:313.8px;height:7.1px;background:linear-gradient(90deg,#14c0bc 0px,#19c1b3 31.5px,#12c0c1 52.5px,#288eeb 73.5px,#2e82f1 94.5px,#2c86ef 306px,#2495e8 324px)"></i><i style="top:320.4px;height:7.1px;background:linear-gradient(90deg,#13c0be 0px,#12c0c1 49.5px,#12b9ce 57px,#2594e9 72px,#2c86ef 90px,#2b87ef 307.5px,#2496e8 324px)"></i></div></div>
<div class="hm" style="left:1001.5px;top:1022.5px;width:315.9px;height:318.5px"><div class="hi" style="filter:blur(1.5px)"><i style="top:0px;height:8.4px;background:linear-gradient(90deg,#c3d5fa 0px,#b4cbf8 7.5px,#cadafa 12px,#e7eefd 13.5px,#c7d8fa 16.5px,#97b6f5 18px,#85a9f3 22.5px,#a3bff6 25.5px,#e6edfd 27px,#dbe6fc 30px,#a7c1f7 34.5px,#779ff1 36px,#9ebbf6 48px,#b4caf8 49.5px,#c6d7fa 54px,#bbd0f9 63px,#d5e1fb 67.5px,#bacff9 70.5px,#90b1f4 72px,#b8cef9 79.5px,#d2e0fb 81px,#e9f0fd 94.5px,#c6d7fa 97.5px,#8baef4 99px,#92b2f4 103.5px,#acc5f7 106.5px,#e7eefd 108px,#dae5fc 111px,#c0d3f9 112.5px,#ccdbfa 117px,#b4cbf8 120px,#8daff4 121.5px,#7ea5f2 126px,#91b2f4 129px,#b7cdf9 130.5px,#a8c2f7 133.5px,#8daff4 135px,#a1bef6 138px,#cdddfb 139.5px,#c2d4fa 142.5px,#88abf3 148.5px,#a5c0f7 151.5px,#e7effd 153px,#ccdcfa 156px,#9ab8f5 157.5px,#97b6f5 162px,#b6ccf9 166.5px,#99b8f5 171px,#acc5f7 174px,#d7e3fb 175.5px,#bcd0f9 180px,#a2bef6 181.5px,#9fbcf6 195px,#a0bdf6 198px,#dee8fc 204px,#c4d6fa 207px,#a3bef6 208.5px,#cadafa 217.5px,#abc5f7 222px,#dbe6fc 231px,#bdd1f9 234px,#9cbaf6 235.5px,#b1c9f8 238.5px,#d1dffb 240px,#a8c3f7 244.5px,#d7e3fb 253.5px,#e0eafc 261px,#c1d4f9 265.5px,#98b7f5 267px,#93b3f4 276px,#aac4f7 279px,#d1dffb 280.5px,#bacff9 285px,#dee8fc 289.5px,#bdd1f9 292.5px,#8eb0f4 294px,#8baef3 297px,#a6c1f7 301.5px,#d5e2fb 303px,#e8effd 307.5px,#c3d5fa 310.5px,#95b5f5 312px,#abc5f7 315px,#d8e4fc 316.5px,#fdfdff 322.5px)"></i><i style="top:7.8px;height:8.4px;background:linear-gradient(90deg,#cadafa 0px,#bcd0f9 7.5px,#cfddfb 13.5px,#bacff9 16.5px,#9dbbf6 18px,#82a7f2 22.5px,#99b7f5 25.5px,#c8d9fa 27px,#c2d4fa 30px,#9ebbf6 34.5px,#79a1f1 36px,#c4d6fa 58.5px,#d1dffb 67.5px,#b7cdf9 70.5px,#90b1f4 72px,#bed2f9 81px,#bacff9 90px,#cbdbfa 94.5px,#b0c8f8 97.5px,#87abf3 99px,#87abf3 102px,#a2bef6 106.5px,#d6e2fb 108px,#c8d9fa 111px,#afc7f8 112.5px,#aac4f7 117px,#9dbaf6 120px,#82a7f2 121.5px,#7ba2f1 126px,#87abf3 129px,#a0bcf6 130.5px,#87abf3 135px,#97b6f5 138px,#b6ccf9 139.5px,#83a8f2 148.5px,#98b7f5 151.5px,#c4d6fa 153px,#b5ccf8 156px,#9ab9f5 157.5px,#8daff4 162px,#9ab8f5 165px,#b2c9f8 166.5px,#94b4f4 171px,#a7c2f7 174px,#d2dffb 175.5px,#bacff9 180px,#a3bff6 181.5px,#a1bef6 186px,#a3bff6 198px,#ccdbfa 204px,#abc5f7 208.5px,#bbd0f9 217.5px,#a2bef6 222px,#ccdbfa 231px,#a2bef6 235.5px,#b3caf8 238.5px,#cddcfb 240px,#afc8f8 244.5px,#ceddfb 253.5px,#d2e0fb 261px,#b7cdf9 265.5px,#9dbaf6 267px,#8eb0f4 276px,#a8c2f7 279px,#d0dffb 280.5px,#b0c8f8 285px,#dae6fc 289.5px,#b8cef9 292.5px,#8aadf3 294px,#8caef4 297px,#a6c1f7 301.5px,#c8d9fa 303px,#d8e4fc 307.5px,#bed2f9 310.5px,#9ebbf6 312px,#adc6f8 315px,#ceddfb 316.5px,#f5f8fe 321px,#f4f7fe 322.5px)"></i><i style="top:15.5px;height:8.4px;background:linear-gradient(90deg,#d2e0fb 0px,#c5d7fa 7.5px,#d0defb 9px,#98b7f5 21px,#82a7f2 22.5px,#91b2f4 25.5px,#aec7f8 27px,#acc5f7 30px,#99b8f5 34.5px,#7fa6f2 36px,#89adf3 42px,#a6c1f7 45px,#9ab8f5 49.5px,#c4d6fa 58.5px,#d0defb 67.5px,#b7cdf9 70.5px,#92b3f4 72px,#adc6f8 81px,#a0bcf6 90px,#aec6f8 94.5px,#9ebbf6 97.5px,#83a8f3 99px,#83a9f3 103.5px,#98b7f5 106.5px,#c4d6fa 108px,#a1bdf6 112.5px,#77a0f1 124.5px,#89acf3 130.5px,#82a7f2 135px,#a1bdf6 139.5px,#7ea5f2 148.5px,#8baef3 151.5px,#a3bff6 153px,#95b5f5 160.5px,#84a9f3 162px,#94b4f5 165px,#afc7f8 166.5px,#a6c1f7 169.5px,#90b1f4 171px,#a4c0f7 174px,#cfddfb 175.5px,#a6c1f7 181.5px,#a6c1f7 199.5px,#bcd0f9 204px,#b6ccf9 216px,#99b8f5 222px,#bcd1f9 231px,#a8c2f7 235.5px,#c9d9fa 240px,#b9cef9 244.5px,#cddcfb 258px,#8aadf3 274.5px,#a6c1f7 279px,#d1dffb 280.5px,#a9c3f7 285px,#d7e3fb 289.5px,#b4cbf8 292.5px,#87abf3 294px,#c8d9fa 307.5px,#a8c2f7 312px,#b1c9f8 315px,#eef3fd 321px,#ecf1fd 322.5px)"></i><i style="top:23.3px;height:8.4px;background:linear-gradient(90deg,#dbe6fc 0px,#dbe6fc 9px,#a8c2f7 13.5px,#b3caf8 18px,#a0bdf6 21px,#83a8f2 22.5px,#9cbaf6 31.5px,#80a6f2 40.5px,#93b3f4 43.5px,#b4caf8 45px,#a8c2f7 48px,#8fb1f4 49.5px,#d4e1fb 63px,#d0defb 67.5px,#b8cef9 70.5px,#95b5f5 72px,#a0bcf6 81px,#8aadf3 90px,#98b7f5 94.5px,#80a6f2 103.5px,#91b2f4 106.5px,#b6ccf9 108px,#749df1 117px,#709af0 121.5px,#79a1f1 133.5px,#90b2f4 139.5px,#7ca3f2 148.5px,#9fbcf6 157.5px,#96b5f5 160.5px,#7da4f2 162px,#90b1f4 165px,#aec7f8 166.5px,#a6c1f7 169.5px,#8eb0f4 171px,#a3bff6 174px,#cddcfb 175.5px,#aac4f7 181.5px,#a5c0f7 186px,#b4cbf8 193.5px,#a6c1f7 202.5px,#c3d5fa 208.5px,#bfd2f9 211.5px,#8caff4 222px,#bed2f9 240px,#bfd2f9 258px,#9dbbf6 262.5px,#a1bdf6 267px,#7ea5f2 274.5px,#9ebbf6 279px,#cadafa 280.5px,#9bb9f5 285px,#b1c9f8 288px,#cddcfb 289.5px,#a9c3f7 292.5px,#7da4f2 294px,#a9c3f7 303px,#afc7f8 315px,#e1eafc 321px,#dee8fc 322.5px)"></i><i style="top:31.1px;height:8.4px;background:linear-gradient(90deg,#e4ecfd 0px,#e6eefd 9px,#c3d5fa 12px,#98b7f5 13.5px,#a4c0f7 16.5px,#c1d4fa 18px,#a9c3f7 21px,#84a9f3 22.5px,#92b3f4 31.5px,#7ea4f2 40.5px,#96b6f5 43.5px,#c4d6fa 45px,#adc6f8 48px,#85a9f3 49.5px,#8baef3 52.5px,#a5c0f7 57px,#c7d8fa 58.5px,#dee8fc 63px,#bacff9 70.5px,#99b7f5 72px,#9fbcf6 76.5px,#779ff1 90px,#86aaf3 94.5px,#80a6f2 103.5px,#90b1f4 106.5px,#aec7f8 108px,#a4c0f7 111px,#6792ec 117px,#7ca4f2 126px,#6b96ee 130.5px,#84a9f3 139.5px,#739df1 144px,#7fa5f2 148.5px,#729cf0 153px,#85aaf3 156px,#a7c1f7 157.5px,#9ab8f5 160.5px,#7aa1f1 162px,#8eb0f4 165px,#b0c8f8 166.5px,#a6c1f7 169.5px,#8daff4 171px,#a2bef6 174px,#ccdcfa 175.5px,#adc6f8 181.5px,#b9cff9 195px,#99b8f5 202.5px,#aac4f7 207px,#c6d8fa 208.5px,#709bf0 222px,#a3bff6 244.5px,#8daff4 253.5px,#98b7f5 258px,#6e99f0 262.5px,#87abf3 267px,#658feb 274.5px,#7da4f2 279px,#a6c1f7 280.5px,#759ef1 285px,#a6c1f7 289.5px,#88abf3 292.5px,#6690eb 294px,#6e99ef 297px,#86abf3 298.5px,#95b5f5 316.5px,#c1d4f9 321px,#bdd1f9 322.5px)"></i><i style="top:38.9px;height:8.4px;background:linear-gradient(90deg,#ecf2fd 0px,#f0f4fe 9px,#c3d5fa 12px,#8aadf3 13.5px,#9fbcf6 16.5px,#ceddfb 18px,#b1c9f8 21px,#87abf3 22.5px,#739df0 27px,#94b4f5 36px,#7ba3f2 40.5px,#99b8f5 43.5px,#d1dffb 45px,#b2c9f8 48px,#7ba3f2 49.5px,#82a7f2 52.5px,#9fbcf6 57px,#c8d9fa 58.5px,#e8effd 63px,#bcd0f9 70.5px,#9dbbf6 72px,#9fbcf6 76.5px,#6c97ee 90px,#8caff4 99px,#85aaf3 103.5px,#92b3f4 106.5px,#abc4f7 108px,#a2bef6 111px,#618ae9 117px,#84a9f3 126px,#6a95ee 132px,#88acf3 135px,#709af0 144px,#85aaf3 148.5px,#6892ec 153px,#7ca4f2 156px,#b0c8f8 157.5px,#9fbcf6 160.5px,#78a0f1 162px,#8eb0f4 165px,#b3caf8 166.5px,#a8c3f7 169.5px,#8db0f4 171px,#a2bef6 174px,#cadafa 175.5px,#a9c3f7 186px,#bdd1f9 195px,#84a9f3 204px,#9ab8f5 207px,#bfd2f9 208.5px,#6791ec 217.5px,#5881e4 225px,#729cf0 244.5px,#648eea 258px,#4c70da 262.5px,#6089e8 267px,#496cd6 274.5px,#5982e5 279px,#6e98ef 280.5px,#537ce2 285px,#6d98ef 289.5px,#4c71db 294px,#648eea 298.5px,#5c85e6 306px,#769ff1 312px,#6a94ed 316.5px,#92b2f4 322.5px)"></i><i style="top:46.6px;height:8.4px;background:linear-gradient(90deg,#e6eefd 0px,#dfe9fc 9px,#b9cef9 12px,#8caff4 13.5px,#9ebbf6 16.5px,#c6d7fa 18px,#afc7f8 21px,#8eb0f4 22.5px,#78a0f1 27px,#91b2f4 36px,#7aa2f1 40.5px,#92b3f4 43.5px,#bdd1f9 45px,#a6c1f7 48px,#7ba3f1 49.5px,#7fa6f2 51px,#9fbcf6 57px,#bcd0f9 58.5px,#e0eafc 63px,#abc4f7 72px,#769ff1 90px,#a1bdf6 108px,#86aaf3 115.5px,#6994ed 117px,#7ca3f2 121.5px,#729cf0 130.5px,#8caff4 135px,#7fa5f2 144px,#8fb1f4 148.5px,#6892ec 153px,#7aa2f1 156px,#a8c2f7 157.5px,#9ab8f5 160.5px,#77a0f1 162px,#8daff4 165px,#b1c9f8 166.5px,#9dbbf6 171px,#b8cdf9 175.5px,#b3caf8 195px,#88abf3 204px,#a2bef6 208.5px,#618be9 217.5px,#517ae1 223.5px,#4b6fd9 229.5px,#5a83e5 235.5px,#5b84e6 244.5px,#4c70da 258px,#3d56c5 262.5px,#4a6ed8 267px,#3c53c2 274.5px,#5982e5 280.5px,#4767d2 285px,#537ce2 289.5px,#425ecb 294px,#5078e0 298.5px,#4a6ed8 303px,#5c86e6 316.5px,#7da4f2 322.5px)"></i><i style="top:54.4px;height:8.4px;background:linear-gradient(90deg,#e1eafc 0px,#d0defb 9px,#b1c9f8 12px,#90b1f4 13.5px,#9ebbf6 16.5px,#bfd3f9 18px,#7ea5f2 27px,#8eb0f4 36px,#79a1f1 40.5px,#8baef3 43.5px,#aac4f7 45px,#9cbaf5 48px,#7ba3f1 49.5px,#9fbcf6 57px,#bfd2f9 61.5px,#d9e5fc 63px,#cbdbfa 66px,#b3caf8 67.5px,#b4cbf8 75px,#8eb0f4 81px,#86aaf3 85.5px,#8aadf3 99px,#a5c0f7 112.5px,#96b6f5 115.5px,#7ba2f1 117px,#8eb0f4 121.5px,#82a7f2 126px,#9ebbf6 139.5px,#9dbbf6 148.5px,#8baef3 151.5px,#6a94ed 153px,#7ba2f1 156px,#a3bff6 157.5px,#97b6f5 160.5px,#7aa2f1 162px,#8fb0f4 165px,#b2caf8 166.5px,#aec7f8 195px,#91b2f4 208.5px,#6d98ef 214.5px,#4b6fd9 226.5px,#557ee3 243px,#3b51c1 262.5px,#4565d0 267px,#3a50c0 274.5px,#547ce2 280.5px,#4665d1 285px,#4667d2 303px,#5a83e5 316.5px,#7ba2f1 322.5px)"></i><i style="top:62.2px;height:8.4px;background:linear-gradient(90deg,#dde7fc 0px,#c4d6fa 9px,#97b6f5 13.5px,#a2bef6 16.5px,#bdd1f9 18px,#87abf3 27px,#8eb0f4 34.5px,#79a1f1 40.5px,#9cbaf5 45px,#92b3f4 48px,#7ca4f2 49.5px,#b6ccf9 61.5px,#d3e0fb 63px,#c3d5fa 66px,#a8c2f7 67.5px,#b3caf8 70.5px,#cddcfb 72px,#a9c3f7 79.5px,#93b3f4 81px,#8eb0f4 85.5px,#9ab8f5 90px,#90b1f4 99px,#adc6f8 103.5px,#9bb9f5 108px,#b9cef9 112.5px,#97b7f5 117px,#a5c0f7 121.5px,#88acf3 126px,#aac4f7 130.5px,#b0c8f8 148.5px,#9ab9f5 151.5px,#6e99f0 153px,#80a6f2 156px,#a3bff6 157.5px,#98b7f5 160.5px,#80a6f2 162px,#93b4f4 165px,#b7cdf9 166.5px,#c6d8fa 171px,#b8cdf9 174px,#9cbaf6 175.5px,#c0d3f9 186px,#a3bff6 190.5px,#aac4f7 202.5px,#77a0f1 213px,#527be1 226.5px,#6590eb 240px,#4768d3 262.5px,#4f77df 267px,#425fcc 271.5px,#638dea 280.5px,#4c70da 294px,#5b84e6 315px,#8aadf3 322.5px)"></i><i style="top:70px;height:8.4px;background:linear-gradient(90deg,#dbe6fc 0px,#a4bff7 13.5px,#abc5f7 16.5px,#c2d4fa 18px,#94b4f5 27px,#94b4f5 34.5px,#7da4f2 40.5px,#91b2f4 45px,#81a7f2 49.5px,#a5c0f7 54px,#a2bef6 58.5px,#b1c8f8 61.5px,#d1dffb 63px,#bed2f9 66px,#a0bdf6 67.5px,#b6ccf8 70.5px,#e4ecfd 72px,#b6ccf9 79.5px,#9cbaf6 81px,#99b8f5 85.5px,#b2caf8 90px,#9ab8f5 99px,#a8c2f7 102px,#c7d8fa 103.5px,#b8cdf9 106.5px,#9fbcf6 108px,#afc7f8 111px,#d4e1fb 112.5px,#bacff9 117px,#c4d6fa 121.5px,#b1c9f8 124.5px,#93b3f4 126px,#a6c1f7 129px,#d2e0fb 130.5px,#b7cdf9 135px,#d9e5fc 139.5px,#ccdcfb 148.5px,#aec6f8 151.5px,#7aa2f1 153px,#8aadf3 156px,#a7c2f7 157.5px,#89adf3 162px,#e3ecfd 171px,#c7d8fa 174px,#94b4f5 175.5px,#d1dffb 186px,#a3bff6 190.5px,#cadafa 199.5px,#bfd2f9 204px,#8eb0f4 208.5px,#92b2f4 220.5px,#6a94ed 226.5px,#729cf0 234px,#9cbaf6 240px,#6b96ee 258px,#749df1 267px,#608ae8 271.5px,#6792ec 274.5px,#9cbaf6 280.5px,#6792ec 289.5px,#638dea 303px,#7ea4f2 307.5px,#6b96ee 313.5px,#98b7f5 319.5px,#b4cbf8 321px,#b1c9f8 322.5px)"></i><i style="top:77.7px;height:8.4px;background:linear-gradient(90deg,#dde7fc 0px,#bed2f9 13.5px,#d3e0fb 18px,#d1dffb 22.5px,#aac3f7 27px,#8caff4 42px,#8eb0f4 49.5px,#9dbbf6 52.5px,#b8cef9 54px,#a5c0f7 58.5px,#b6ccf9 61.5px,#d8e4fc 63px,#c4d6fa 66px,#a4c0f7 67.5px,#c4d6fa 70.5px,#fffdfc 72px,#f8fafe 75px,#d0dffb 79.5px,#afc7f8 81px,#b6ccf9 87px,#d7e3fb 90px,#c2d4fa 97.5px,#adc6f8 99px,#c3d5fa 102px,#ecf2fd 103.5px,#d7e3fb 106.5px,#afc7f8 108px,#c8d9fa 111px,#f8fafe 112.5px,#ecf2fd 121.5px,#d3e0fb 124.5px,#a6c1f7 126px,#c4d6fa 129px,#fffdfd 130.5px,#f3f7fe 133.5px,#d8e4fc 135px,#e6eefd 138px,#fffefd 139.5px,#ffffff 142.5px,#eff4fe 148.5px,#cddcfb 151.5px,#91b2f4 153px,#9ebbf6 156px,#b7cdf9 157.5px,#9ebcf6 162px,#afc7f8 165px,#d6e2fb 166.5px,#fef9f8 171px,#e2ebfc 174px,#9bb9f5 175.5px,#b2c9f8 180px,#d4e1fb 181.5px,#eef3fe 186px,#d6e2fb 189px,#b3caf8 190.5px,#b8cdf9 193.5px,#d6e2fb 198px,#eff4fe 199.5px,#f1f6fe 202.5px,#cbdbfa 207px,#a3bef6 208.5px,#d2dffb 220.5px,#bacff9 225px,#9fbcf6 226.5px,#9ebbf6 229.5px,#aec6f8 234px,#e7effd 240px,#cadafa 244.5px,#c8d9fa 253.5px,#a9c3f7 258px,#bacff9 267px,#99b8f5 271.5px,#abc5f7 274.5px,#d2e0fb 276px,#eef3fd 280.5px,#e6edfd 283.5px,#b7cdf9 288px,#98b7f5 289.5px,#aec6f8 295.5px,#90b1f4 303px,#a4c0f7 306px,#c0d3f9 307.5px,#93b4f4 312px,#9fbcf6 315px,#d1dffb 319.5px,#f1f5fe 321px,#ebf1fd 322.5px)"></i><i style="top:85.5px;height:8.4px;background:linear-gradient(90deg,#e7eefd 0px,#f7f9fe 18px,#bacff9 31.5px,#a7c2f7 46.5px,#bbd0f9 52.5px,#dde8fc 54px,#c6d7fa 58.5px,#d6e3fb 61.5px,#eff4fe 63px,#e4ecfd 66px,#cadafa 67.5px,#ecf1fd 70.5px,#fce6df 72px,#fef5f2 78px,#fefaf9 79.5px,#e7effd 81px,#fffdfc 94.5px,#e5edfd 99px,#fefeff 102px,#fbe0d7 103.5px,#ffffff 109.5px,#fef8f5 111px,#fadbd0 112.5px,#fdeee9 117px,#fce9e2 121.5px,#fef9f7 124.5px,#dde7fc 126px,#fafbff 129px,#fadbd1 130.5px,#fcebe5 135px,#fad7cb 144px,#ffffff 151.5px,#cddcfb 153px,#dae5fc 156px,#f3f6fe 157.5px,#dbe6fc 162px,#fefbfa 166.5px,#fbe2da 171px,#fef5f2 174px,#d8e4fc 175.5px,#fefbf9 181.5px,#fce4dd 186px,#fafcff 190.5px,#fefeff 195px,#fce4dd 199.5px,#fef9f8 207px,#f1f5fe 208.5px,#fffefe 216px,#fce8e1 222px,#f0f5fe 226.5px,#fcfdff 234px,#fce9e3 240px,#fefeff 258px,#ffffff 267px,#ebf1fd 271.5px,#f8fafe 274.5px,#fad8cc 280.5px,#fefaf9 288px,#edf3fd 289.5px,#feffff 297px,#dce7fc 303px,#f5f8fe 306px,#fdf2ee 307.5px,#f9fbff 312px,#fefbfa 315px,#f9cec0 321px,#fad5c9 322.5px)"></i><i style="top:93.3px;height:8.4px;background:linear-gradient(90deg,#f0f5fe 0px,#fffefd 6px,#fbe2d9 13.5px,#fbfcff 27px,#ccdcfa 31.5px,#e5edfd 36px,#bfd2f9 45px,#c5d7fa 49.5px,#dde7fc 52.5px,#fffbfa 54px,#edf2fd 58.5px,#fef4f1 66px,#ffffff 67.5px,#fce5de 70.5px,#f7c3b3 72px,#f8c5b5 79.5px,#fad7cc 81px,#f8c7b7 94.5px,#fad7cb 99px,#f7c4b4 102px,#f2a090 103.5px,#f4ac9c 106.5px,#f7c3b3 108px,#f5b6a6 111px,#f29d8d 112.5px,#f6b9a9 117px,#f5b2a2 121.5px,#f7c2b2 124.5px,#fbddd3 126px,#f8cbbc 129px,#f3a797 130.5px,#f4ab9b 139.5px,#f29b8b 144px,#f8cbbc 151.5px,#fbe3da 153px,#f9ccbe 157.5px,#fad9ce 162px,#f6b9a9 171px,#f7c4b4 174px,#fadacf 175.5px,#f9d3c6 180px,#f4ab9b 186px,#f8c8b8 195px,#f4ad9d 199.5px,#f7beae 204px,#f6bcac 217.5px,#f29f8f 222px,#f8c5b5 229.5px,#f6b8a8 249px,#f8caba 271.5px,#f8c6b6 274.5px,#f29c8c 280.5px,#f8c5b5 289.5px,#f6bcac 297px,#f9cdbe 303px,#f29e8e 307.5px,#e6675c 321px,#ea776a 322.5px)"></i><i style="top:101.1px;height:8.4px;background:linear-gradient(90deg,#f6f9fe 0px,#fdf3f0 6px,#f8c6b6 13.5px,#fef5f2 22.5px,#fdefea 27px,#f9fbfe 30px,#d3e0fb 31.5px,#dfe9fc 34.5px,#ffffff 36px,#e9f0fd 43.5px,#cddcfb 45px,#d9e5fc 49.5px,#f4f7fe 52.5px,#fce9e2 54px,#fefaf9 58.5px,#fce8e2 67.5px,#f9cfc1 70.5px,#f5b1a1 72px,#f29f8f 76.5px,#f5b4a4 81px,#f3a595 94.5px,#f5b1a1 99px,#f29b8b 102px,#e87064 103.5px,#eb7b6e 106.5px,#f09282 108px,#ed8677 111px,#e86f63 112.5px,#eb7d6f 115.5px,#f19686 117px,#f08f7f 121.5px,#f29e8e 124.5px,#f6b8a8 126px,#f4a999 129px,#ee8678 130.5px,#eb7d6f 135px,#f08f7f 139.5px,#e97266 144px,#ed8677 147px,#f3a898 148.5px,#f6baaa 153px,#f3a696 157.5px,#f4af9f 180px,#ee8879 186px,#f3a696 195px,#ef8c7c 199.5px,#f3a494 204px,#f08e7f 208.5px,#f19686 217.5px,#e5655a 222px,#f09181 228px,#f3a494 240px,#f19585 249px,#f4a999 253.5px,#f09181 258px,#f4aa9a 267px,#f29d8d 276px,#e97669 280.5px,#f09383 285px,#f09383 297px,#f3a494 303px,#e05249 312px,#d2383a 321px,#dc4944 322.5px)"></i><i style="top:108.8px;height:8.4px;background:linear-gradient(90deg,#f9fbfe 0px,#fce6df 7.5px,#f5b1a1 13.5px,#f7bfaf 16.5px,#fadad0 18px,#fef3f0 22.5px,#fdf2ee 25.5px,#fbe1d8 27px,#fefbfa 30px,#d2dffb 31.5px,#fdf3ef 36px,#f9fbfe 43.5px,#d4e1fb 45px,#fffdfd 52.5px,#fbdcd2 54px,#fbe1d8 57px,#fdf0ec 58.5px,#fbe1d8 67.5px,#f5b2a2 72px,#f19686 76.5px,#f3a898 81px,#f19686 85.5px,#f5b1a1 90px,#f29b8b 94.5px,#f3a292 99px,#ee8778 102px,#e2564d 103.5px,#e97266 108px,#e2574e 112.5px,#e6685d 115.5px,#ee8879 117px,#ec8072 121.5px,#f4a999 126px,#e6675c 135px,#ef8b7c 139.5px,#ec7e70 142.5px,#e56459 144px,#eb7d6f 147px,#f4aa9a 148.5px,#f19585 159px,#f4a999 171px,#f3a494 180px,#ea786b 189px,#f29c8c 195px,#ed8274 199.5px,#f3a393 204px,#f09181 207px,#e87265 208.5px,#e86e63 211.5px,#ee897a 217.5px,#dc4844 222px,#ec7e70 229.5px,#ea766a 231px,#f3a797 240px,#ef8b7b 249px,#f3a696 253.5px,#f19787 256.5px,#eb7d6f 258px,#eb7e70 261px,#f3a494 267px,#ee8879 271.5px,#f19787 276px,#ed8475 279px,#e6685d 280.5px,#ee8979 285px,#ee8879 297px,#f3a797 303px,#e76b60 312px,#e56459 321px,#e97366 322.5px)"></i><i style="top:116.6px;height:8.4px;background:linear-gradient(90deg,#fbfcff 0px,#fbe0d7 7.5px,#f3a393 13.5px,#f5b4a4 16.5px,#fad5c9 18px,#fef3f0 22.5px,#fdf0eb 25.5px,#fadbd1 27px,#fef7f5 30px,#d3e1fb 31.5px,#e8effd 34.5px,#fdece6 36px,#fffefd 43.5px,#dae5fc 45px,#fef9f8 52.5px,#fad8cd 54px,#fbddd3 57px,#fdede7 58.5px,#fdeee9 63px,#f8c9b9 70.5px,#f19787 76.5px,#f3a494 81px,#f09181 85.5px,#f19a8a 88.5px,#f5b0a0 90px,#f19787 94.5px,#f19686 99px,#ea786b 102px,#db4843 103.5px,#e46056 108px,#dc4a44 112.5px,#e35c52 115.5px,#ec7f72 117px,#ea766a 121.5px,#f2a090 126px,#f19888 129px,#eb7d70 130.5px,#e97569 133.5px,#e45f55 135px,#e87165 138px,#f09080 139.5px,#ec8072 142.5px,#e45f55 144px,#eb7c6f 147px,#f5b0a0 148.5px,#ee8879 160.5px,#f4af9f 171px,#f19787 175.5px,#f2a191 181.5px,#f19484 184.5px,#eb7b6e 186px,#e87064 190.5px,#f19989 195px,#ed8576 199.5px,#f3a797 204px,#f08f7f 207px,#e5655b 208.5px,#e87265 216px,#ed8476 217.5px,#d63e3e 222px,#e97367 229.5px,#e76d62 231px,#f4ae9e 240px,#ee8879 249px,#f3a898 253.5px,#f19484 256.5px,#e97367 258px,#e97569 261px,#f2a090 267px,#eb7b6d 271.5px,#f19484 276px,#ec8072 279px,#e56359 280.5px,#ed8577 285px,#e97569 289.5px,#ed8475 297px,#f4ad9d 303px,#ec8273 312px,#f19888 322.5px)"></i><i style="top:124.4px;height:8.4px;background:linear-gradient(90deg,#fdfeff 0px,#fad9ce 7.5px,#f2a090 13.5px,#f4af9f 16.5px,#f8cbbc 18px,#fdefea 22.5px,#fce7e0 27px,#fef9f7 30px,#eaf0fd 31.5px,#f4f7fe 34.5px,#fdf1ed 36px,#fffefd 40.5px,#e4ecfd 49.5px,#fdfdff 52.5px,#fce6df 54px,#fdf2ee 58.5px,#fce7e0 63px,#f3a292 76.5px,#f29f8f 90px,#ef8c7d 97.5px,#e6665b 102px,#d7413f 103.5px,#dc4944 106.5px,#e46258 108px,#dc4844 112.5px,#e2574e 115.5px,#e97468 117px,#e5655a 121.5px,#ea796c 124.5px,#f19585 126px,#f09181 129px,#e5665b 135px,#ea796c 138px,#f19787 139.5px,#ed8576 142.5px,#e35d53 144px,#eb7a6d 147px,#f4ae9e 148.5px,#eb7a6d 160.5px,#f2a191 174px,#eb7d6f 190.5px,#f3a797 204px,#f19484 207px,#e97467 208.5px,#ea776a 217.5px,#d63e3e 222px,#f3a696 240px,#ee8879 249px,#f29e8e 253.5px,#e97467 258px,#f09282 267px,#eb7a6d 271.5px,#ef8b7b 276px,#eb7a6d 279px,#e46056 280.5px,#ec8173 285px,#ec8173 297px,#f4aa9a 303px,#f19484 310.5px,#ec8173 312px,#f3a595 322.5px)"></i><i style="top:132.2px;height:8.4px;background:linear-gradient(90deg,#ffffff 0px,#f29e8e 13.5px,#f4aa9a 16.5px,#fcebe5 22.5px,#fef4f1 25.5px,#fffcfb 37.5px,#edf2fd 40.5px,#f7f9fe 45px,#dee8fc 49.5px,#fef4f1 54px,#fef8f6 58.5px,#f8cbbc 67.5px,#f5b1a1 75px,#f09080 90px,#f19989 94.5px,#ee8a7b 97.5px,#d84240 103.5px,#df4e47 106.5px,#e86f63 108px,#e05149 112.5px,#e97568 117px,#e35d53 121.5px,#e87165 124.5px,#f09181 126px,#e87064 135px,#ed8274 138px,#f29f8f 139.5px,#ef8b7b 142.5px,#e35c53 144px,#ea796c 147px,#f4ad9d 148.5px,#f3a393 153px,#ea796c 157.5px,#e87165 160.5px,#e97569 166.5px,#f2a191 175.5px,#ed8475 186px,#f3a696 204px,#ed8374 208.5px,#e87165 217.5px,#dc4844 222px,#de4d46 225px,#ed8375 231px,#f29e8e 240px,#ee8879 249px,#f19484 253.5px,#e97468 258px,#ee8979 262.5px,#ea776a 270px,#ec7f71 276px,#e35c52 280.5px,#ec7f71 286.5px,#ec7f71 297px,#f3a696 303px,#f09080 310.5px,#ea7a6c 312px,#f4ad9d 322.5px)"></i><i style="top:139.9px;height:8.4px;background:linear-gradient(90deg,#fffefd 0px,#f5b5a5 9px,#f29d8d 13.5px,#f3a696 16.5px,#f9cec0 21px,#fce8e1 22.5px,#ffffff 27px,#fffefd 30px,#fdefeb 31.5px,#fffdfc 36px,#d8e4fc 40.5px,#ffffff 46.5px,#f9fbfe 48px,#d8e4fc 49.5px,#fafbff 54px,#fffefe 58.5px,#fadad0 63px,#f7beae 69px,#f3a696 85.5px,#ec8273 90px,#f29f8f 94.5px,#ef8c7c 97.5px,#e6685d 99px,#dc4944 103.5px,#e35b52 106.5px,#ed8475 108px,#e56358 112.5px,#eb7c6e 117px,#e87265 120px,#e35b51 121.5px,#e86f63 124.5px,#f09181 126px,#eb7b6e 135px,#ef8d7e 138px,#f3a898 139.5px,#f09181 142.5px,#e35c52 144px,#ea796b 147px,#f4ac9c 148.5px,#f3a797 153px,#f09383 156px,#e97669 157.5px,#e6675c 166.5px,#f3a696 175.5px,#f19484 180px,#ec7f71 181.5px,#f19585 190.5px,#ef8b7b 195px,#f3a797 202.5px,#f09080 213px,#e1554d 223.5px,#e35d53 226.5px,#f09080 231px,#f19787 240px,#ee897a 253.5px,#e97468 258px,#ef8c7d 262.5px,#e86e63 267px,#e97367 276px,#e2574f 280.5px,#ec8173 288px,#eb7c6e 297px,#f3a292 303px,#f09383 309px,#e87265 312px,#ea786b 315px,#f5b3a3 322.5px)"></i><i style="top:147.7px;height:8.4px;background:linear-gradient(90deg,#fffcfc 0px,#f8c5b5 7.5px,#f4ac9c 9px,#f29c8c 13.5px,#f3a292 16.5px,#f8c7b7 21px,#fce4dd 22.5px,#fef9f8 25.5px,#eef3fd 27px,#fefeff 30px,#fbe0d7 31.5px,#fafbff 36px,#e1eafc 39px,#c3d5fa 40.5px,#fdf1ed 45px,#fffefe 48px,#d2dffb 49.5px,#f8fafe 58.5px,#fdefea 61.5px,#fad4c7 63px,#f6baaa 67.5px,#f7c4b4 76.5px,#f4af9f 85.5px,#f19a8a 88.5px,#e97367 90px,#ed8476 93px,#f3a595 94.5px,#ef8d7e 97.5px,#e35e54 99px,#e05149 103.5px,#e6695d 106.5px,#f19888 108px,#ef8c7c 111px,#e97568 112.5px,#ed8475 117px,#e97569 120px,#e25950 121.5px,#e76d61 124.5px,#f09282 126px,#ee8778 135px,#f19787 138px,#f5b0a0 139.5px,#f19686 142.5px,#e35b52 144px,#ea786b 147px,#f4ac9c 148.5px,#f4ab9b 153px,#f19787 156px,#e97669 157.5px,#e76c61 165px,#e35c52 166.5px,#ee8a7b 174px,#f4ac9c 175.5px,#f09080 180px,#e97266 181.5px,#f2a090 190.5px,#ed8577 195px,#f5b0a0 199.5px,#f29b8b 213px,#ed8576 216px,#e6675c 217.5px,#e5655a 219px,#e46056 226.5px,#f29b8b 231px,#ed8576 235.5px,#ef8d7d 243px,#e97568 258px,#f09181 262.5px,#e46056 267px,#e56258 270px,#ea796c 271.5px,#e6695e 279px,#e2584f 280.5px,#ee8879 289.5px,#e87165 294px,#f29d8d 303px,#f08f7f 309px,#e6695e 312px,#e86f63 315px,#f09282 319.5px,#f6baaa 322.5px)"></i><i style="top:155.5px;height:8.4px;background:linear-gradient(90deg,#fefaf8 0px,#f7c1b1 7.5px,#f3a797 9px,#f29e8e 13.5px,#f3a292 16.5px,#f7c4b4 21px,#fce4dc 22.5px,#fffbfa 25.5px,#e4ecfd 27px,#fcfdff 30px,#fad7cb 31.5px,#f2f6fe 36px,#d6e2fb 39px,#b4cbf8 40.5px,#dbe6fc 43.5px,#fceae4 45px,#fef9f8 48px,#d0defb 49.5px,#f7fafe 58.5px,#fdefea 61.5px,#f9d2c6 63px,#f5b5a5 67.5px,#f8caba 76.5px,#f5b0a0 81px,#f5b2a2 85.5px,#f19a8a 88.5px,#e76c61 90px,#ec8274 93px,#f3a898 94.5px,#f08f7f 97.5px,#e35b51 99px,#e45e54 103.5px,#ea776a 106.5px,#f3a595 108px,#ed8476 112.5px,#ef8d7d 117px,#eb7e70 120px,#e45f56 121.5px,#e87165 124.5px,#f09181 126px,#f09282 135px,#f5b6a6 139.5px,#f29b8b 142.5px,#e46157 144px,#eb7b6e 147px,#f4ab9b 148.5px,#f4ae9e 153px,#f29b8b 156px,#eb7b6e 157.5px,#e87164 165px,#e45f55 166.5px,#ef8a7b 174px,#f5b2a2 175.5px,#f08f7f 180px,#e76d61 181.5px,#f4aa9a 190.5px,#ee8778 195px,#f29c8c 198px,#f6b7a7 199.5px,#f3a494 213px,#ef8b7c 216px,#e6685d 217.5px,#e6675c 226.5px,#ed8576 229.5px,#f3a494 231px,#ee8879 235.5px,#ef8c7c 249px,#ea776a 256.5px,#f19787 262.5px,#e46056 267px,#e5655b 270px,#ec8172 271.5px,#e56358 280.5px,#ef8c7c 289.5px,#e87165 294px,#f19a8a 306px,#ed8375 310.5px,#e6675c 312px,#ed8375 318px,#f6bdad 322.5px)"></i><i style="top:163.2px;height:8.4px;background:linear-gradient(90deg,#fef4f1 0px,#f4ac9c 9px,#f3a494 12px,#f7c0b0 19.5px,#fffcfc 25.5px,#ebf1fd 27px,#ffffff 30px,#fad9ce 31.5px,#fdefeb 34.5px,#eaf1fd 36px,#b3caf8 40.5px,#dbe6fc 43.5px,#fceae4 45px,#fef7f4 48px,#d9e4fc 49.5px,#eff4fe 57px,#fffcfb 58.5px,#fdeee9 61.5px,#f6baaa 67.5px,#f6bcac 70.5px,#f9d3c6 72px,#f8cbbc 76.5px,#f5b3a3 81px,#f5b3a3 85.5px,#f2a191 88.5px,#ec8173 90px,#f09282 93px,#f4af9f 94.5px,#f29b8b 97.5px,#e87266 99px,#f19484 106.5px,#f5b1a1 108px,#f19a8a 112.5px,#f3a494 117px,#ed8577 121.5px,#f6bbab 139.5px,#f3a797 142.5px,#eb7c6f 144px,#f09080 147px,#f5b3a3 148.5px,#f5b3a3 153px,#f09282 157.5px,#ee8678 166.5px,#f3a292 174px,#f7c2b2 175.5px,#f29f8f 180px,#ec8072 181.5px,#f6bbab 190.5px,#f2a090 195px,#f7c1b1 199.5px,#f4af9f 213px,#f29d8d 216px,#ed8274 217.5px,#ee8677 226.5px,#f5b4a4 231px,#f09383 244.5px,#f2a191 249px,#ef8c7d 253.5px,#f3a797 262.5px,#ec8173 267px,#ec7f71 270px,#ef8d7d 271.5px,#ee8677 285px,#f19686 289.5px,#ed8375 294px,#f19989 298.5px,#f29d8d 306px,#f08f7f 310.5px,#eb7b6e 312px,#ed8476 316.5px,#f6bcac 322.5px)"></i><i style="top:171px;height:8.4px;background:linear-gradient(90deg,#fdefea 0px,#f5b1a1 9px,#f4aa9a 12px,#f5b2a2 16.5px,#fffdfd 25.5px,#f2f6fe 27px,#fffdfc 30px,#fadbd1 31.5px,#fdf3ef 34.5px,#e3ecfd 36px,#b1c9f8 40.5px,#dae5fc 43.5px,#fcebe5 45px,#fef5f2 48px,#e0eafc 49.5px,#f4f7fe 57px,#fdf0ec 63px,#fbded5 66px,#f8c8b8 67.5px,#f9d1c3 70.5px,#fdede7 72px,#f8c7b7 81px,#f6b9a9 88.5px,#f3a696 90px,#f8c6b6 94.5px,#f6b7a7 97.5px,#f19a8a 99px,#f9cdbf 108px,#f6bcac 112.5px,#f8cabb 117px,#f4ae9e 126px,#f9d2c5 139.5px,#f7c4b4 142.5px,#f4a999 144px,#f5b4a4 147px,#f8ccbd 148.5px,#f4a999 162px,#f8cbbc 174px,#fbe2da 175.5px,#f7c0b0 180px,#f3a595 181.5px,#fbddd3 190.5px,#f8cabb 195px,#fbddd3 199.5px,#f8c7b7 208.5px,#f9ccbd 213px,#f4ab9b 217.5px,#f3a797 222px,#f7c0b0 229.5px,#fad5c8 231px,#f9cfc1 238.5px,#f4af9f 244.5px,#f8c7b7 249px,#f4af9f 253.5px,#f8caba 262.5px,#f4ac9c 270px,#f6bbab 279px,#f3a696 294px,#f6b9a9 298.5px,#f2a090 312px,#f3a292 316.5px,#f8c9b9 322.5px)"></i><i style="top:178.8px;height:8.4px;background:linear-gradient(90deg,#fce9e3 0px,#f5b0a0 12px,#f6baaa 16.5px,#fffefe 25.5px,#fefaf9 30px,#fbded4 31.5px,#fef7f4 34.5px,#dce6fc 36px,#b0c8f8 40.5px,#d9e4fc 43.5px,#fcebe5 45px,#fdefea 46.5px,#e8effd 49.5px,#fbfcff 57px,#fdeee9 58.5px,#fffefe 63px,#fcebe5 66px,#f9cfc1 67.5px,#fbddd3 70.5px,#fffdfd 72px,#f9cebf 81px,#f6bdad 90px,#f9d0c2 94.5px,#f5b1a1 99px,#f7beae 102px,#fad8cc 103.5px,#f9d1c3 112.5px,#fbe1d9 117px,#f9cec0 124.5px,#f6b8a8 126px,#f8caba 133.5px,#fadbd0 135px,#fbdcd2 139.5px,#f8c5b5 144px,#fad7cc 148.5px,#f6b8a8 162px,#f8c5b5 165px,#fbddd3 166.5px,#fce6df 174px,#fef6f3 175.5px,#fad4c8 180px,#f6baaa 181.5px,#f8c9ba 184.5px,#fbe3db 186px,#fdf1ee 190.5px,#fce7e0 202.5px,#f9d3c6 208.5px,#fadbd1 213px,#f6b7a7 222px,#f7beae 225px,#fce8e1 231px,#fdebe6 237px,#fce4dd 240px,#f7beae 244.5px,#fbe0d6 249px,#f8c5b5 253.5px,#fbdfd5 262.5px,#f7beae 271.5px,#fbdcd1 280.5px,#f9d3c6 283.5px,#f7beae 285px,#f6baaa 294px,#f9cdbe 298.5px,#f5b2a2 316.5px,#f8cbbc 322.5px)"></i><i style="top:186.6px;height:8.4px;background:linear-gradient(90deg,#fce4dc 0px,#f5b6a6 12px,#f7c2b2 16.5px,#fef4f1 22.5px,#ffffff 25.5px,#fef8f6 30px,#fbe0d7 31.5px,#fefbf9 34.5px,#d5e1fb 36px,#afc7f8 40.5px,#d8e4fc 43.5px,#fcebe5 45px,#fdede8 46.5px,#f1f5fe 49.5px,#fafcff 55.5px,#fefbf9 57px,#fce4dc 58.5px,#f4f7fe 63px,#fdf1ec 66px,#f9cec0 67.5px,#fbdfd5 70.5px,#fafcff 72px,#fdf2ef 75px,#fad8cd 76.5px,#f8c6b6 81px,#f8caba 94.5px,#f6b8a8 99px,#f8c9b9 102px,#fceae3 103.5px,#fad5c9 112.5px,#fce9e3 117px,#fdebe6 121.5px,#fad8cc 124.5px,#f5b1a1 126px,#f8c7b7 133.5px,#fbe0d7 135px,#f8c8b9 153px,#f9d1c4 157.5px,#f5b6a6 162px,#f8c9ba 165px,#fdefeb 166.5px,#fefaf8 175.5px,#fad9ce 180px,#f7c0b0 181.5px,#f9d0c2 184.5px,#fcebe5 186px,#fef6f4 192px,#fce7e0 202.5px,#f9d0c2 208.5px,#fad8cc 216px,#f6b7a7 222px,#f7c4b4 225px,#fad9ce 226.5px,#fef9f7 235.5px,#fef9f7 238.5px,#fad8cd 243px,#f7beae 244.5px,#f9d1c3 247.5px,#fce9e2 249px,#f8cabb 253.5px,#fce6de 258px,#fce6df 267px,#f6bdad 271.5px,#fdede8 280.5px,#fbded4 283.5px,#f7c2b2 285px,#f7bfaf 294px,#f9d1c3 298.5px,#f5b5a5 303px,#f7c2b2 322.5px)"></i><i style="top:194.3px;height:8.4px;background:linear-gradient(90deg,#fce7e1 0px,#f6baaa 12px,#f8c7b7 16.5px,#fef8f6 24px,#fef7f4 30px,#fce7e0 31.5px,#fefeff 34.5px,#d4e1fb 36px,#b0c8f8 40.5px,#d7e3fb 43.5px,#fdefea 45px,#fdf0ec 48px,#fafbff 49.5px,#fdfeff 55.5px,#fbe2da 58.5px,#f0f5fe 63px,#fffefe 64.5px,#fef4f0 66px,#f9d3c6 67.5px,#fbe1d9 70.5px,#fafbff 72px,#fdf0eb 75px,#f9d1c3 76.5px,#f6b7a7 85.5px,#f8c5b5 90px,#f6bdad 99px,#f9d0c3 102px,#fef4f0 103.5px,#fce9e2 106.5px,#fad5c8 108px,#fbded4 115.5px,#fef5f2 121.5px,#fbdcd2 124.5px,#f4ac9c 126px,#f8c6b6 133.5px,#fbe1d9 135px,#f9d0c2 139.5px,#f9d3c6 148.5px,#f7c0b0 153px,#f9d1c3 157.5px,#f6b8a8 162px,#f9ccbe 165px,#fef5f2 166.5px,#fef8f6 175.5px,#f8c5b5 181.5px,#fad5c9 184.5px,#fdeee9 186px,#fef5f3 193.5px,#f9cdbe 208.5px,#fad9ce 216px,#f6baaa 222px,#f8c8b8 225px,#fbded4 226.5px,#fffcfc 237px,#fce5de 241.5px,#f6bcac 244.5px,#f9cfc2 247.5px,#fce8e2 249px,#f8cbbc 253.5px,#fce7e0 258px,#fceae4 267px,#fad6cb 270px,#f6bdad 271.5px,#fef3f0 280.5px,#fbe1d8 283.5px,#f7c2b2 285px,#f7bfaf 292.5px,#f9d4c7 298.5px,#f5b1a1 303px,#f4af9f 307.5px,#f7c4b4 312px,#f6bcac 322.5px)"></i><i style="top:202.1px;height:8.4px;background:linear-gradient(90deg,#fef8f6 0px,#f7c2b2 9px,#f6bcac 12px,#f8c8b8 16.5px,#fdefea 24px,#fffdfd 33px,#b6ccf9 40.5px,#d6e2fb 43.5px,#fef9f7 45px,#ffffff 52.5px,#edf3fd 54px,#feffff 57px,#fdeee9 58.5px,#fffcfc 64.5px,#fbe1d8 67.5px,#fceae3 70.5px,#ffffff 72px,#fdede7 75px,#f9cfc1 76.5px,#fad4c8 81px,#f6bdad 85.5px,#f8c8b9 99px,#fad9ce 102px,#fef8f5 103.5px,#fcebe5 106.5px,#f9d3c6 108px,#fce9e2 120px,#fef7f5 121.5px,#fbdfd6 124.5px,#f5b0a0 126px,#f8cbbc 133.5px,#fbe3db 135px,#f9ccbd 144px,#fbded5 148.5px,#f9d4c7 151.5px,#f7beae 153px,#f9cec0 157.5px,#f8c5b5 162px,#f9d3c6 165px,#fdede8 166.5px,#fdf3ef 175.5px,#f9d1c4 181.5px,#fdefea 186px,#fdeee9 195px,#fce5de 204px,#f9d1c4 208.5px,#fbe2d9 213px,#f8c8b8 222px,#fbe0d7 226.5px,#fbdfd6 231px,#fef6f4 235.5px,#fef7f5 238.5px,#fad9ce 243px,#f6bdad 244.5px,#fbe0d7 249px,#f8cbbc 253.5px,#fce7e0 262.5px,#fce6df 265.5px,#f8c9b9 271.5px,#fdf1ec 280.5px,#fbdfd6 283.5px,#f7c3b3 285px,#f8c9b9 294px,#fadad0 298.5px,#f9cebf 301.5px,#f6b7a7 303px,#f5b4a4 307.5px,#f9d2c5 312px,#f7c2b2 322.5px)"></i><i style="top:209.9px;height:8.4px;background:linear-gradient(90deg,#f2f6fe 0px,#fdfeff 1.5px,#f8c6b6 9px,#f7beae 12px,#f8c8b8 16.5px,#fadacf 18px,#fbe1d9 21px,#fce6df 27px,#fbfcff 31.5px,#bcd0f9 40.5px,#d4e1fb 43.5px,#fafbff 45px,#fffdfd 46.5px,#fffdfc 52.5px,#e8effd 54px,#fefbf9 58.5px,#ffffff 63px,#fdf1ec 67.5px,#fffdfd 72px,#fdece6 75px,#f9cfc2 76.5px,#fce6de 81px,#fadacf 84px,#f8c6b6 85.5px,#f8c5b5 94.5px,#fce4dc 102px,#fffefe 103.5px,#fdf0eb 106.5px,#fad4c8 108px,#fce9e2 112.5px,#fbdcd2 117px,#fce7e1 120px,#fffcfc 121.5px,#fce5dd 124.5px,#f6b8a8 126px,#f9d3c6 133.5px,#fce8e1 135px,#f8c7b7 144px,#fad4c7 147px,#fdece7 148.5px,#fbddd3 151.5px,#f7bfaf 153px,#fce8e2 166.5px,#fdf1ec 175.5px,#fbe0d7 181.5px,#fdf3ef 186px,#fce5de 190.5px,#fdeee9 204px,#fad8cd 208.5px,#fcebe5 213px,#f9d1c3 217.5px,#fce4dd 226.5px,#fadacf 231px,#fef5f2 238.5px,#fadcd1 243px,#f7c1b1 244.5px,#fadacf 249px,#f9d0c2 256.5px,#fdece7 262.5px,#fad6ca 271.5px,#fdf0eb 280.5px,#fbdfd6 283.5px,#f8c6b6 285px,#fce4dc 298.5px,#fad7cb 301.5px,#f7c0b0 303px,#f6bbab 307.5px,#f8cbbc 310.5px,#fbe3db 312px,#f8caba 322.5px)"></i><i style="top:217.7px;height:8.4px;background:linear-gradient(90deg,#dbe6fc 0px,#fef9f8 4.5px,#f8c9b9 9px,#f7beae 13.5px,#f8c9b9 16.5px,#fadbd1 18px,#fbddd3 27px,#fef4f1 30px,#e8effd 31.5px,#e1eafc 34.5px,#eff4fe 36px,#c2d4fa 40.5px,#fffdfc 48px,#fef3f0 49.5px,#fffbfa 52.5px,#e1eafc 54px,#fffcfb 63px,#fffffe 72px,#fdeee9 75px,#f9d3c6 76.5px,#fbe0d7 79.5px,#fefbfa 81px,#fdece7 84px,#f9d2c5 85.5px,#f8ccbd 94.5px,#fef3f0 102px,#f0f5fe 103.5px,#fef9f7 106.5px,#fad9cf 108px,#fce4dc 111px,#fef7f4 112.5px,#fdede8 115.5px,#fadbd1 117px,#f6f8fe 121.5px,#fdefea 124.5px,#f7c3b3 126px,#f8c9b9 129px,#fdf1ec 135px,#f8c6b6 144px,#fad9ce 147px,#fffefe 148.5px,#fcebe5 151.5px,#f7c3b3 153px,#fadad0 160.5px,#fceae4 162px,#fce7e0 171px,#fefbfa 186px,#fbe3db 190.5px,#fefaf9 204px,#fbe3db 208.5px,#fef8f6 213px,#fad6cb 217.5px,#fdefea 225px,#fad8cd 231px,#fef3f0 235.5px,#fef6f4 238.5px,#fbe2da 243px,#f8cabb 244.5px,#fad8cd 249px,#fad6ca 258px,#fef5f2 262.5px,#fad7cb 267px,#fdf2ef 280.5px,#fbe3db 283.5px,#f9cebf 285px,#fce4dc 289.5px,#fbe0d7 294px,#fdf2ee 298.5px,#fce5dd 301.5px,#f9cdbe 303px,#f8c6b6 307.5px,#fad9cf 310.5px,#fef7f5 312px,#fef7f5 313.5px,#fbe2da 319.5px,#f9cfc1 321px,#fad4c8 322.5px)"></i><i style="top:225.4px;height:8.4px;background:linear-gradient(90deg,#c3d5fa 0px,#fef8f6 6px,#f9ccbe 9px,#f6bdad 13.5px,#f8c9b9 16.5px,#fbddd3 18px,#f9d4c7 27px,#fdf3f0 30px,#d5e2fb 31.5px,#d8e4fc 34.5px,#f8fafe 36px,#c8d8fa 40.5px,#d1dffb 43.5px,#fbfcff 48px,#fdefea 49.5px,#fefaf9 52.5px,#dae5fc 54px,#dce6fc 58.5px,#ffffff 64.5px,#dde7fc 67.5px,#fafcff 72px,#fdf3f0 75px,#fadacf 76.5px,#fdeee9 79.5px,#e2ebfc 81px,#fbfcff 84px,#fbe2d9 85.5px,#fad6ca 94.5px,#fcfdff 100.5px,#dce6fc 103.5px,#f6f9fe 106.5px,#fbe2da 108px,#fcfdff 114px,#fefaf8 115.5px,#fbdfd5 117px,#fdf1ec 120px,#e3ecfd 121.5px,#f3f7fe 123px,#fffcfc 124.5px,#f9d2c4 126px,#fffdfc 135px,#fadbd1 142.5px,#f8c9b9 144px,#fbe3da 147px,#e1eafc 148.5px,#f2f6fe 150px,#fffcfb 151.5px,#f8ccbd 153px,#fce8e1 160.5px,#fbfcff 162px,#fceae4 166.5px,#fefeff 180px,#eff4fe 184.5px,#feffff 187.5px,#fce5dd 190.5px,#fcfdff 202.5px,#eef3fe 204px,#ffffff 207px,#fdf2ef 208.5px,#f1f5fe 213px,#feffff 214.5px,#fbe0d7 217.5px,#f6f9fe 222px,#f9fbfe 225px,#fadad0 231px,#fce5de 234px,#fef8f6 235.5px,#fffcfb 240px,#fdede7 243px,#fad6ca 244.5px,#fad8cc 258px,#fbfcff 262.5px,#fdefea 265.5px,#fad7cc 267px,#fefaf9 271.5px,#fcebe5 276px,#fef8f6 280.5px,#fad9cd 285px,#fef8f5 289.5px,#fdf2ee 294px,#f9fbfe 298.5px,#fef5f3 301.5px,#fbddd3 303px,#fad5c9 307.5px,#fcebe6 310.5px,#e7effd 312px,#e7effd 315px,#ffffff 318px,#fadbd1 321px,#fbe1d8 322.5px)"></i><i style="top:233.2px;height:8.4px;background:linear-gradient(90deg,#bacff9 0px,#fffdfd 6px,#fdf0eb 7.5px,#f9d0c2 9px,#f6bcac 13.5px,#f8c9ba 16.5px,#fbdfd5 18px,#fbddd3 21px,#f8cabb 22.5px,#f9d1c4 27px,#fef4f0 30px,#ceddfb 31.5px,#d3e1fb 34.5px,#fbfcff 36px,#cadafa 40.5px,#d9e5fc 45px,#f9fbfe 48px,#fdefea 49.5px,#fef4f1 51px,#fefbf9 52.5px,#d7e3fb 54px,#d5e2fb 58.5px,#e4edfd 61.5px,#ffffff 63px,#eff4fe 66px,#d1dffb 67.5px,#fbfcff 73.5px,#fffcfb 75px,#fce7e0 76.5px,#fffcfb 79.5px,#cbdbfa 81px,#fef4f1 85.5px,#fbe1d8 94.5px,#fdf0eb 97.5px,#ebf1fd 99px,#d3e0fb 103.5px,#ebf1fd 106.5px,#fdeee9 108px,#fffcfc 111px,#dbe6fc 112.5px,#f2f6fe 115.5px,#fceae3 117px,#fefbfa 120px,#d5e2fb 121.5px,#f0f5fe 124.5px,#fce5dd 126px,#fef7f5 130.5px,#fdfeff 138px,#fce9e3 142.5px,#fad6ca 144px,#fdf1ed 147px,#c8d9fa 148.5px,#edf2fd 151.5px,#fadacf 153px,#fef4f0 160.5px,#e9f0fd 162px,#f7f9fe 165px,#fdf1ed 166.5px,#fffdfd 175.5px,#dbe6fc 184.5px,#f9fbff 189px,#fdece6 190.5px,#fefaf9 198px,#dae5fc 204px,#fffdfd 208.5px,#e0eafc 213px,#fafcff 216px,#fdeee9 217.5px,#fffefd 220.5px,#e0e9fc 222px,#fcfdff 228px,#fce8e1 231px,#ffffff 235.5px,#feffff 241.5px,#fbe2da 244.5px,#fbe2d9 246px,#fce5de 258px,#fef9f8 261px,#e6eefd 262.5px,#f5f8fe 264px,#fffbfa 265.5px,#fbe2d9 267px,#fef3f0 270px,#ecf2fd 271.5px,#fcfdff 279px,#fffefe 282px,#fce7e0 285px,#f3f7fe 289.5px,#f9fbfe 294px,#e2ebfc 298.5px,#f5f8fe 301.5px,#fdeee9 303px,#fbe3da 307.5px,#fefaf8 310.5px,#d1dffb 312px,#cfdefb 315px,#f6f9fe 319.5px,#fce7e0 321px,#fdece7 322.5px)"></i><i style="top:241px;height:8.4px;background:linear-gradient(90deg,#bfd3f9 0px,#fffdfd 6px,#fad4c8 9px,#f6bbab 13.5px,#f8c9b9 16.5px,#fbe2d9 18px,#fbded5 21px,#f8caba 22.5px,#fad6ca 27px,#fef6f3 30px,#d2e0fb 31.5px,#d4e1fb 34.5px,#f6f9fe 36px,#c8d8fa 40.5px,#fafcff 48px,#fef3f0 49.5px,#fffefe 52.5px,#d9e4fc 54px,#edf2fd 63px,#d6e2fb 67.5px,#fffbfa 76.5px,#edf2fd 79.5px,#c1d4fa 81px,#d1dffb 84px,#eff4fe 85.5px,#fffdfd 91.5px,#fdeee9 94.5px,#fffdfc 97.5px,#d9e4fc 99px,#d4e1fb 103.5px,#e4ecfd 106.5px,#fffdfc 108px,#ecf2fd 111px,#c4d6fa 112.5px,#d9e4fc 115.5px,#fffffe 117px,#eef3fd 120px,#cbdbfa 121.5px,#dee8fc 124.5px,#fffefd 126px,#e9f0fd 135px,#fffdfc 142.5px,#fdefea 144px,#fefaf9 145.5px,#f5f8fe 147px,#b6ccf9 148.5px,#d6e3fb 151.5px,#fdefea 153px,#ffffff 160.5px,#e7eefd 162px,#fffdfd 166.5px,#f8fafe 175.5px,#cbdbfa 186px,#fef8f6 190.5px,#fffefe 193.5px,#c9dafa 204px,#f7fafe 208.5px,#d8e4fc 213px,#fcfdff 217.5px,#d4e1fb 222px,#d3e1fb 225px,#fafcff 231px,#dfe9fc 240px,#f4f8fe 243px,#fdefeb 244.5px,#fdfdff 258px,#ceddfb 262.5px,#fef7f5 267px,#f4f7fe 270px,#d4e1fb 271.5px,#e2ebfc 276px,#d8e4fc 280.5px,#ffffff 286.5px,#e2ebfc 289.5px,#cddcfb 298.5px,#dde7fc 301.5px,#fcfdff 303px,#fdf0ec 307.5px,#fefbf9 309px,#f7f9fe 310.5px,#c5d7fa 312px,#c2d5fa 315px,#fef6f3 322.5px)"></i><i style="top:248.8px;height:8.4px;background:linear-gradient(90deg,#c5d6fa 0px,#fffdfd 6px,#fad8cd 9px,#f6b9a9 13.5px,#f8c9b9 16.5px,#fce4dc 18px,#fbe0d7 21px,#f8c9ba 22.5px,#fadbd1 27px,#fef8f6 30px,#d7e3fb 31.5px,#d5e2fb 34.5px,#f1f5fe 36px,#c5d6fa 40.5px,#fffefe 51px,#f8fafe 52.5px,#d6e3fb 54px,#d5e1fb 72px,#e4ecfd 76.5px,#d3e1fb 79.5px,#b5cbf8 81px,#fffdfd 94.5px,#ebf1fd 97.5px,#c2d5fa 99px,#e5edfd 108px,#cfdefb 111px,#a8c2f7 112.5px,#b8cef9 115.5px,#dbe6fc 117px,#d1dffb 120px,#bbd0f9 121.5px,#d9e4fc 126px,#dce7fc 139.5px,#f0f4fe 144px,#d5e2fb 147px,#a4bff6 148.5px,#bdd1f9 151.5px,#f6f8fe 153px,#e2ebfc 162px,#eef3fd 166.5px,#dce7fc 171px,#edf2fd 175.5px,#e5edfd 180px,#b3caf8 186px,#cfdefb 189px,#f4f8fe 190.5px,#b5cbf8 202.5px,#cddcfb 207px,#eaf0fd 208.5px,#ccdcfb 213px,#dde7fc 217.5px,#bcd0f9 226.5px,#dee8fc 235.5px,#c8d9fa 240px,#dee8fc 243px,#fffefe 244.5px,#ffffff 252px,#ecf2fd 256.5px,#b3caf8 262.5px,#cbdbfa 265.5px,#e9f0fd 267px,#d6e3fb 270px,#b9cef9 271.5px,#b8cef9 280.5px,#ccdcfa 283.5px,#e9f0fd 285px,#b4cbf8 298.5px,#fefeff 307.5px,#e4ecfd 310.5px,#b7cdf9 312px,#b3caf8 315px,#d2e0fb 319.5px,#fdfeff 321px,#fdfeff 322.5px)"></i><i style="top:256.5px;height:8.4px;background:linear-gradient(90deg,#cadafa 0px,#fffdfd 6px,#f6b7a7 13.5px,#f8c9b9 16.5px,#fce7e0 18px,#fbe1d9 21px,#f8c9b9 22.5px,#fefaf8 30px,#dce7fc 31.5px,#d6e3fb 34.5px,#ecf2fd 36px,#c3d5fa 40.5px,#d3e0fb 43.5px,#edf2fd 45px,#ffffff 49.5px,#f3f7fe 52.5px,#d7e3fb 54px,#e7eefd 58.5px,#c5d6fa 63px,#dce7fc 67.5px,#cadafa 76.5px,#afc7f8 81px,#bbcff9 88.5px,#f0f4fe 94.5px,#d8e4fc 97.5px,#afc7f8 99px,#b6ccf9 102px,#cbdbfa 103.5px,#c7d8fa 108px,#afc8f8 111px,#8daff4 112.5px,#9bb9f5 115.5px,#b5cbf8 117px,#b1c8f8 124.5px,#d4e1fb 135px,#d0defb 144px,#bbd0f9 147px,#98b7f5 148.5px,#acc5f8 151.5px,#dce6fc 153px,#e3ebfd 165px,#c9d9fa 171px,#e8effd 175.5px,#e5edfd 180px,#a3bff6 186px,#bfd3f9 189px,#e7eefd 190.5px,#a6c1f7 199.5px,#abc4f7 204px,#c2d5fa 207px,#e4ecfd 208.5px,#c8d9fa 213px,#c5d6fa 220.5px,#a8c3f7 226.5px,#b0c8f8 231px,#d3e0fb 235.5px,#b7cdf9 240px,#ceddfb 243px,#f1f6fe 244.5px,#f2f6fe 249px,#eaf0fd 253.5px,#d5e2fb 256.5px,#b0c8f8 258px,#a1bef6 262.5px,#b3caf8 265.5px,#ceddfb 267px,#a7c2f7 271.5px,#9ebbf6 279px,#b3caf8 283.5px,#d2e0fb 285px,#a5c0f7 298.5px,#afc7f8 301.5px,#eef3fe 307.5px,#d8e4fc 310.5px,#b0c8f8 312px,#aac4f7 316.5px,#c4d6fa 319.5px,#eff4fe 321px,#f3f7fe 322.5px)"></i><i style="top:264.3px;height:8.4px;background:linear-gradient(90deg,#d0defb 0px,#fffdfc 6px,#f5b5a5 13.5px,#f8c9b9 16.5px,#fceae3 18px,#fbe3da 21px,#f8c8b8 22.5px,#fffbfa 30px,#e2ebfc 31.5px,#d9e5fc 34.5px,#eaf0fd 36px,#c4d6fa 40.5px,#d7e3fb 43.5px,#f8fafe 45px,#fffefe 48px,#f3f7fe 52.5px,#dee8fc 54px,#f5f8fe 58.5px,#dee8fc 61.5px,#bbd0f9 63px,#cadafa 66px,#eaf1fd 67.5px,#c9d9fa 72px,#a2bef6 85.5px,#abc5f7 88.5px,#e6eefd 94.5px,#cbdbfa 97.5px,#a4c0f7 99px,#adc6f8 102px,#ccdcfb 103.5px,#98b7f5 111px,#759ef1 112.5px,#a4c0f7 121.5px,#9ab9f5 126px,#d5e2fb 135px,#acc5f8 147px,#94b4f5 148.5px,#a5c0f7 151.5px,#cbdbfa 153px,#dde7fc 160.5px,#eff4fe 162px,#d3e1fb 169.5px,#bfd2f9 171px,#ceddfb 174px,#ecf2fd 175.5px,#eef3fd 180px,#bcd0f9 184.5px,#9cbaf6 186px,#b9cef9 189px,#e3ebfc 190.5px,#d1dffb 193.5px,#b0c8f8 195px,#9ab8f5 199.5px,#9bb9f5 202.5px,#b4cbf8 205.5px,#c1d4fa 207px,#e7eefd 208.5px,#b7cdf9 217.5px,#c2d4fa 222px,#9ab8f5 229.5px,#b1c9f8 234px,#d1dffb 235.5px,#b0c8f8 240px,#c7d8fa 243px,#ecf2fd 244.5px,#eff4fe 252px,#c8d9fa 256.5px,#9bb9f5 258px,#99b7f5 262.5px,#bdd1f9 267px,#8db0f4 277.5px,#a6c1f7 283.5px,#c5d6fa 285px,#b3caf8 292.5px,#a2bef6 294px,#a6c1f7 301.5px,#e8effd 307.5px,#d5e2fb 310.5px,#b1c8f8 312px,#a7c1f7 316.5px,#bfd2f9 319.5px,#e8effd 321px,#eff4fe 322.5px)"></i><i style="top:272.1px;height:8.4px;background:linear-gradient(90deg,#d9e5fc 0px,#fef9f8 6px,#f6baaa 13.5px,#f8ccbd 16.5px,#fceae4 18px,#fce5dd 21px,#f9cec0 22.5px,#fffefe 30px,#e9f0fd 31.5px,#dee8fc 34.5px,#eaf0fd 36px,#c7d8fa 40.5px,#fefeff 46.5px,#e4ecfd 54px,#f9fbff 58.5px,#e2ebfc 61.5px,#bfd3f9 63px,#cfdefb 66px,#f0f5fe 67.5px,#e0eafc 70.5px,#c4d6fa 72px,#9cbaf5 85.5px,#d6e3fb 94.5px,#bdd1f9 97.5px,#9cbaf6 99px,#a2bef6 102px,#bdd1f9 103.5px,#85aaf3 111px,#6a95ed 112.5px,#9fbcf6 121.5px,#9dbaf6 124.5px,#8baef3 126px,#ceddfb 135px,#9bb9f5 148.5px,#a9c3f7 151.5px,#cbdbfa 153px,#eaf0fd 162px,#ccdcfa 169.5px,#b5cbf8 171px,#c7d8fa 174px,#ebf1fd 175.5px,#edf2fd 180px,#9fbcf6 186px,#bacff9 189px,#e1eafc 190.5px,#d0defb 193.5px,#b1c9f8 195px,#9ab9f5 199.5px,#9cbaf6 202.5px,#c1d4fa 207px,#e5edfd 208.5px,#b3caf8 217.5px,#c9d9fa 222px,#a1bef6 226.5px,#9cbaf6 229.5px,#b2c9f8 234px,#d0defb 235.5px,#adc6f8 240px,#c3d5fa 243px,#e6eefd 244.5px,#eaf0fd 252px,#c0d3f9 256.5px,#95b5f5 258px,#b7cdf9 267px,#87abf3 276px,#a4c0f7 283.5px,#bfd2f9 285px,#a2bef6 294px,#a6c1f7 301.5px,#dce7fc 307.5px,#cddcfb 310.5px,#afc7f8 312px,#a5c0f7 316.5px,#bcd0f9 319.5px,#e4ecfd 321px,#ebf1fd 322.5px)"></i><i style="top:279.9px;height:8.4px;background:linear-gradient(90deg,#e7eefd 0px,#fffbfa 4.5px,#f7c4b4 13.5px,#f9d1c4 16.5px,#fce8e2 18px,#fce8e1 21px,#fad9ce 22.5px,#fcfdff 30px,#e4ecfd 34.5px,#ecf2fd 36px,#cbdbfa 40.5px,#dbe6fc 43.5px,#f6f9fe 45px,#fdfeff 48px,#e7effd 54px,#f5f8fe 58.5px,#ccdbfa 63px,#d7e3fb 66px,#eef3fe 67.5px,#dce7fc 70.5px,#bacff9 72px,#acc5f8 76.5px,#b0c8f8 81px,#9ab9f5 85.5px,#a6c1f7 88.5px,#c2d5fa 90px,#c3d5fa 94.5px,#98b7f5 99px,#aac4f7 103.5px,#9fbcf6 106.5px,#6b95ee 112.5px,#769ff1 115.5px,#95b5f5 117px,#a2bef6 121.5px,#9dbaf6 124.5px,#87abf3 126px,#c0d3f9 135px,#a7c2f7 148.5px,#b5ccf8 151.5px,#d4e1fb 153px,#d4e1fb 165px,#c2d5fa 169.5px,#a9c3f7 171px,#bcd0f9 174px,#e4ecfd 175.5px,#e2ebfc 180px,#a6c1f7 186px,#bdd1f9 189px,#dee8fc 190.5px,#a2bef6 199.5px,#bfd3f9 207px,#dce7fc 208.5px,#b6ccf9 217.5px,#d2e0fb 222px,#c4d6fa 225px,#acc5f8 226.5px,#a9c3f7 229.5px,#ceddfb 235.5px,#abc5f7 240px,#bdd1f9 243px,#dce7fc 244.5px,#e2ebfc 252px,#bacff9 256.5px,#9ab8f5 258px,#b6ccf9 267px,#88acf3 276px,#bdd1f9 285px,#a5c0f7 298.5px,#cbdbfa 307.5px,#a9c3f7 312px,#a4c0f7 316.5px,#bacff9 319.5px,#e0e9fc 321px,#e5edfd 322.5px)"></i><i style="top:287.6px;height:8.4px;background:linear-gradient(90deg,#f4f7fe 0px,#fffbfa 3px,#f9cec0 13.5px,#fce7e0 18px,#fce4dd 22.5px,#fdfdff 28.5px,#eff4fe 36px,#d0defb 40.5px,#fafbff 48px,#f1f5fe 58.5px,#d9e5fc 63px,#edf3fd 67.5px,#d8e4fc 70.5px,#b2c9f8 72px,#aec7f8 81px,#9ab8f5 85.5px,#a7c2f7 88.5px,#c6d8fa 90px,#9bb9f5 99px,#9bb9f5 108px,#749ef1 112.5px,#87abf3 115.5px,#aac4f7 117px,#a3bff6 124.5px,#87abf3 126px,#b4cbf8 135px,#a9c3f7 139.5px,#bcd0f9 144px,#b5ccf8 148.5px,#c3d5fa 151.5px,#dee8fc 153px,#d5e2fb 160.5px,#c2d5fa 162px,#c7d8fa 166.5px,#b9cef9 169.5px,#9fbcf6 171px,#b1c9f8 174px,#dde7fc 175.5px,#d8e4fc 180px,#aec6f8 186px,#c2d4fa 189px,#dde7fc 190.5px,#aac4f7 199.5px,#b0c8f8 204px,#d4e1fb 208.5px,#b9cff9 217.5px,#dce7fc 222px,#b9cef9 226.5px,#cddcfb 235.5px,#aac4f7 240px,#b8cef9 243px,#d4e1fb 244.5px,#e0eafc 249px,#dbe6fc 252px,#9fbcf6 258px,#bacff9 265.5px,#8aadf3 276px,#bcd0f9 285px,#abc4f7 298.5px,#b9cff9 307.5px,#a3bff6 316.5px,#b9cef9 319.5px,#dce6fc 321px,#dee8fc 322.5px)"></i><i style="top:295.4px;height:8.4px;background:linear-gradient(90deg,#fffefe 0px,#f9d2c5 12px,#fffefe 25.5px,#fbfcff 33px,#d5e2fb 40.5px,#f7f9fe 48px,#ecf2fd 67.5px,#d4e1fb 70.5px,#abc4f7 72px,#adc6f8 81px,#9ab8f5 85.5px,#a9c3f7 88.5px,#cbdafa 90px,#a6c1f7 94.5px,#a1bdf6 108px,#82a8f2 112.5px,#97b7f5 115.5px,#c3d5fa 117px,#a9c3f7 124.5px,#88acf3 126px,#aac4f7 135px,#adc6f8 142.5px,#c0d3f9 144px,#d1dffb 151.5px,#e8effd 153px,#d2e0fb 160.5px,#afc7f8 162px,#bfd2f9 166.5px,#afc8f8 169.5px,#96b5f5 171px,#a9c3f7 174px,#d6e2fb 175.5px,#b7cdf9 186px,#dbe6fc 190.5px,#d9e5fc 193.5px,#b3caf8 199.5px,#b2c9f8 202.5px,#d0defb 211.5px,#bdd1f9 217.5px,#e6eefd 222px,#c7d8fa 226.5px,#ccdbfa 235.5px,#a9c3f7 240px,#dde7fc 249px,#a4bff6 258px,#b2c9f8 261px,#cadafa 262.5px,#8aadf3 276px,#9ab8f5 279px,#b5cbf8 280.5px,#b8cdf9 285px,#9bb9f5 315px,#d4e1fb 322.5px)"></i><i style="top:303.2px;height:8.4px;background:linear-gradient(90deg,#fef5f2 0px,#f9d4c7 10.5px,#fbfcff 24px,#eaf0fd 27px,#fffdfc 33px,#dbe6fc 40.5px,#f4f7fe 48px,#e9f0fd 58.5px,#f5f8fe 63px,#ebf1fd 67.5px,#d1dffb 70.5px,#a4bff7 72px,#acc5f7 81px,#99b8f5 85.5px,#aac4f7 88.5px,#ceddfb 90px,#b9cff9 93px,#97b7f5 94.5px,#90b1f4 103.5px,#a0bdf6 108px,#89acf3 112.5px,#a1bdf6 115.5px,#d5e1fb 117px,#cfdefb 120px,#acc5f8 124.5px,#86aaf3 126px,#87abf3 127.5px,#abc5f7 142.5px,#c5d7fa 144px,#dfe9fc 151.5px,#f3f7fe 153px,#eaf0fd 157.5px,#d0defb 160.5px,#9fbcf6 162px,#b7cdf9 166.5px,#a8c2f7 169.5px,#8caff4 171px,#a1bdf6 174px,#d0defb 175.5px,#bacff9 181.5px,#dde7fc 193.5px,#bed2f9 199.5px,#bdd1f9 207px,#d1dffb 213px,#c1d4fa 217.5px,#f0f5fe 222px,#d5e2fb 226.5px,#dbe6fc 234px,#a8c2f7 240px,#d9e5fc 249px,#ccdcfb 252px,#b4cbf8 253.5px,#a8c2f7 258px,#bcd0f9 261px,#d9e5fc 262.5px,#93b4f4 271.5px,#83a8f3 276px,#95b5f5 279px,#b3caf8 280.5px,#93b4f4 289.5px,#9cbaf6 294px,#759ff1 312px,#81a7f2 316.5px,#b2c9f8 321px,#b3caf8 322.5px)"></i><i style="top:311px;height:8.4px;background:linear-gradient(90deg,#fdf3ef 0px,#fad9ce 10.5px,#fce8e1 13.5px,#fce5dd 18px,#fdfeff 22.5px,#eaf0fd 27px,#f0f5fe 30px,#fdf1ed 31.5px,#fffefd 34.5px,#dce7fc 40.5px,#ebf1fd 63px,#cadafa 70.5px,#a6c1f7 72px,#b0c8f8 81px,#a4c0f7 85.5px,#afc8f8 88.5px,#c8d9fa 90px,#b6ccf9 93px,#99b8f5 94.5px,#95b5f5 103.5px,#a3bff6 108px,#95b5f5 112.5px,#abc5f7 115.5px,#dfe9fc 117px,#d4e1fb 120px,#adc6f8 124.5px,#91b2f4 126px,#a0bdf6 138px,#b4cbf8 142.5px,#cddcfb 144px,#e8effd 153px,#eaf1fd 157.5px,#d2e0fb 160.5px,#a5c0f7 162px,#bfd2f9 166.5px,#afc7f8 169.5px,#95b5f5 171px,#a8c2f7 174px,#d3e0fb 175.5px,#bbd0f9 184.5px,#d8e4fc 190.5px,#d9e4fc 195px,#b6ccf9 204px,#d1dffb 213px,#c1d4f9 217.5px,#d5e2fb 220.5px,#f0f4fe 222px,#d9e4fc 226.5px,#d9e4fc 234px,#a9c3f7 240px,#d9e5fc 249px,#a8c2f7 258px,#bdd1f9 261px,#dde7fc 262.5px,#cadafa 265.5px,#adc6f8 267px,#7ca3f2 276px,#88acf3 279px,#a1bef6 280.5px,#6b96ee 289.5px,#537be2 307.5px,#5880e4 315px,#7da4f2 322.5px)"></i><i style="top:318.7px;height:8.4px;background:linear-gradient(90deg,#fef4f1 0px,#fbe2da 12px,#fce6df 18px,#f9fbfe 22.5px,#ecf2fd 25.5px,#f8fafe 30px,#fdece7 31.5px,#fffefd 36px,#dae6fc 42px,#dae6fc 54px,#f4f7fe 58.5px,#a3bff6 76.5px,#bbcff9 81px,#bfd3f9 90px,#a5c1f7 94.5px,#a7c1f7 112.5px,#bcd0f9 115.5px,#e8effd 117px,#d6e3fb 120px,#b3caf8 121.5px,#9cbaf6 135px,#d9e4fc 144px,#d4e1fb 153px,#e9f0fd 157.5px,#d9e5fc 160.5px,#bacff9 162px,#d0defb 166.5px,#c3d5fa 169.5px,#aac4f7 171px,#bacff9 174px,#dde7fc 175.5px,#bacff9 186px,#d8e4fc 190.5px,#d2e0fb 198px,#b1c8f8 204px,#d3e0fb 210px,#c0d3f9 217.5px,#ebf1fd 222px,#cfdefb 235.5px,#acc5f8 240px,#dee8fc 249px,#a9c3f7 258px,#c1d4f9 261px,#e3ebfd 262.5px,#ceddfb 265.5px,#afc8f8 267px,#89adf3 276px,#a6c1f7 280.5px,#7ca3f2 285px,#6b95ee 289.5px,#5179e1 312px,#729cf0 322.5px)"></i></div></div>
<div style="position:absolute;left:838.9px;top:58.3px;width:21.6px;height:255.7px;background:linear-gradient(180deg,#3b2a98,#3c2b9f,#3d2cab,#3e2eb7,#3f2fc3,#4034cf,#413ada,#4240e5,#404ae9,#3c55eb,#3960ed,#356bef,#3276f0,#2f80f2,#2c86ef,#298cec,#2692e9,#2398e7,#209ee4,#1da4e0,#1aaadc,#17afd7,#14b5d3,#12bacc,#12bfc3,#17c1b6,#1ec2a9,#28c39c,#36c590,#43c684,#51c877,#69c664,#80c451,#96c141,#aabe3a,#beba34,#cfb730,#deb431,#ecb132,#f4b332,#f7ba32,#fbc032,#fbca2d,#fad427,#f8df21,#f8e61e,#f8ed1c,#f8f41a,#f8f41a)"></div>
<div style="position:absolute;left:845px;top:873.2px;width:19.2px;height:249.6px;background:linear-gradient(180deg,#3c2ca6,#3e2db1,#3f2fbd,#4030c8,#4136d3,#413cdd,#4242e8,#3f4cea,#3c57eb,#3861ed,#356bef,#3276f0,#2f80f2,#2c86ef,#298bed,#2691ea,#2497e7,#219ce5,#1ea2e2,#1ba7de,#18acd9,#15b2d5,#13b7d1,#12bcc9,#12c0c0,#19c1b3,#1fc2a7,#2ac39b,#36c58f,#43c684,#50c878,#66c666,#7cc454,#92c242,#a5bf3c,#b7bb36,#cab830,#d7b531,#e5b331,#f2b032,#f5b632,#f9bc32,#fcc232,#fbcc2c,#f9d626,#f8e020,#f8e71e,#f8ed1c,#f8f41a)"></div>
<div style="position:absolute;left:1344.2px;top:878.1px;width:19.3px;height:249.7px;background:linear-gradient(180deg,#3a50c0,#3e57c5,#415dcb,#4564d0,#496bd5,#4c71db,#5078e0,#557ee3,#5a83e5,#6089e8,#658feb,#6a94ed,#6f9af0,#7aa2f1,#85a9f3,#90b1f4,#9ab9f5,#a5c0f7,#b0c8f8,#bdd1f9,#cadafa,#d8e4fc,#e5edfd,#f2f6fe,#ffffff,#fef6f3,#fdede7,#fce4dc,#fadad0,#f9d1c4,#f8c8b8,#f7bfaf,#f5b5a5,#f4ac9c,#f3a393,#f19989,#f09080,#ed8577,#eb7b6d,#e87064,#e5655b,#e35b51,#e05048,#db4743,#d53d3d,#d03438,#cb2b33,#c5212d,#c01828)"></div>
<svg width="1440" height="2199" viewBox="0 0 1440 2199">
<text x="15" y="44" fill="#1a1a1a" font-weight="bold" font-size="50">a</text>
<text x="999" y="48" fill="#1a1a1a" font-weight="bold" font-size="50">b</text>
<text x="15" y="560" fill="#1a1a1a" font-weight="bold" font-size="50">c</text>
<text x="965" y="560" fill="#1a1a1a" font-weight="bold" font-size="50">d</text>
<text x="15" y="1010" fill="#1a1a1a" font-weight="bold" font-size="50">e</text>
<text x="965" y="1009" fill="#1a1a1a" font-weight="bold" font-size="50">f</text>
<text x="15" y="1494" fill="#1a1a1a" font-weight="bold" font-size="50">g</text>
<text x="703" y="1497" fill="#1a1a1a" font-weight="bold" font-size="50">h</text>
<text x="283.5" y="49" text-anchor="middle" fill="#0a0ab4" font-size="29">Visual change</text>
<text x="679" y="49" text-anchor="middle" fill="#d41515" font-size="29">Auditory change</text>
<path d="M106.25 57.2V406.5" stroke="#222" stroke-width="4.1"/>
<path d="M106 58.7L112.9 58.7" stroke="#222" stroke-width="3.3"/>
<text x="99" y="67.3" text-anchor="end" font-size="24">0</text>
<path d="M106 128L112.9 128" stroke="#222" stroke-width="3.3"/>
<text x="99" y="136.6" text-anchor="end" font-size="24">200</text>
<path d="M106 197.3L112.9 197.3" stroke="#222" stroke-width="3.3"/>
<text x="99" y="205.9" text-anchor="end" font-size="24">400</text>
<path d="M106 266.6L112.9 266.6" stroke="#222" stroke-width="3.3"/>
<text x="99" y="275.2" text-anchor="end" font-size="24">600</text>
<path d="M106 335.9L112.9 335.9" stroke="#222" stroke-width="3.3"/>
<text x="99" y="344.5" text-anchor="end" font-size="24">800</text>
<path d="M106 405.2L112.9 405.2" stroke="#222" stroke-width="3.3"/>
<text x="99" y="413.8" text-anchor="end" font-size="24">1000</text>
<text x="45" y="256" text-anchor="middle" font-size="29" transform="rotate(-90 45 256)">Cortical depth (µm)</text>
<text x="478" y="487" text-anchor="middle" font-size="29.1">Time from stimulus change (ms)</text>
<text x="140.5" y="422.6" text-anchor="end" font-size="25.5" transform="rotate(-45 140.5 422.6)">-100</text>
<text x="199.3" y="422.6" text-anchor="end" font-size="25.5" transform="rotate(-45 199.3 422.6)">0</text>
<text x="260.5" y="422.6" text-anchor="end" font-size="25.5" transform="rotate(-45 260.5 422.6)">100</text>
<text x="324.3" y="422.6" text-anchor="end" font-size="25.5" transform="rotate(-45 324.3 422.6)">200</text>
<text x="386.8" y="422.6" text-anchor="end" font-size="25.5" transform="rotate(-45 386.8 422.6)">300</text>
<text x="449.3" y="422.6" text-anchor="end" font-size="25.5" transform="rotate(-45 449.3 422.6)">400</text>
<text x="521.8" y="422.6" text-anchor="end" font-size="25.5" transform="rotate(-45 521.8 422.6)">-100</text>
<text x="585.5" y="422.6" text-anchor="end" font-size="25.5" transform="rotate(-45 585.5 422.6)">0</text>
<text x="646.8" y="422.6" text-anchor="end" font-size="25.5" transform="rotate(-45 646.8 422.6)">100</text>
<text x="708" y="422.6" text-anchor="end" font-size="25.5" transform="rotate(-45 708 422.6)">200</text>
<text x="770.5" y="422.6" text-anchor="end" font-size="25.5" transform="rotate(-45 770.5 422.6)">300</text>
<text x="831.8" y="422.6" text-anchor="end" font-size="25.5" transform="rotate(-45 831.8 422.6)">400</text>
<text x="1171.8" y="77" text-anchor="middle" fill="#5ad35a" font-size="28">still</text>
<text x="1269" y="77" text-anchor="middle" fill="#b03cb4" font-size="28.5">moving</text>
<rect x="1088" y="408.1" width="4.2" height="1.9" fill="#c4c4c4" stroke="#333" stroke-width=".7"/>
<rect x="1092.2" y="406.2" width="4.2" height="3.8" fill="#c4c4c4" stroke="#333" stroke-width=".7"/>
<rect x="1096.4" y="406.7" width="4.2" height="3.3" fill="#c4c4c4" stroke="#333" stroke-width=".7"/>
<rect x="1100.6" y="405.9" width="4.2" height="4.1" fill="#c4c4c4" stroke="#333" stroke-width=".7"/>
<rect x="1104.8" y="404.8" width="4.2" height="5.2" fill="#c4c4c4" stroke="#333" stroke-width=".7"/>
<rect x="1109" y="404.6" width="4.2" height="5.4" fill="#c4c4c4" stroke="#333" stroke-width=".7"/>
<rect x="1113.1" y="403.2" width="4.2" height="6.8" fill="#c4c4c4" stroke="#333" stroke-width=".7"/>
<rect x="1117.3" y="400.8" width="4.2" height="9.2" fill="#c4c4c4" stroke="#333" stroke-width=".7"/>
<rect x="1121.5" y="398.6" width="4.2" height="11.4" fill="#c4c4c4" stroke="#333" stroke-width=".7"/>
<rect x="1125.7" y="394.2" width="4.2" height="15.8" fill="#c4c4c4" stroke="#333" stroke-width=".7"/>
<rect x="1129.9" y="394.2" width="4.2" height="15.8" fill="#c4c4c4" stroke="#333" stroke-width=".7"/>
<rect x="1134.1" y="393.7" width="4.2" height="16.3" fill="#c4c4c4" stroke="#333" stroke-width=".7"/>
<rect x="1138.3" y="387.4" width="4.2" height="22.6" fill="#c4c4c4" stroke="#333" stroke-width=".7"/>
<rect x="1142.5" y="381.5" width="4.2" height="28.5" fill="#c4c4c4" stroke="#333" stroke-width=".7"/>
<rect x="1146.7" y="377.9" width="4.2" height="32.1" fill="#c4c4c4" stroke="#333" stroke-width=".7"/>
<rect x="1150.8" y="374.7" width="4.2" height="35.3" fill="#6ae26a" stroke="#333" stroke-width=".7"/>
<rect x="1155" y="366.2" width="4.2" height="43.8" fill="#6ae26a" stroke="#333" stroke-width=".7"/>
<rect x="1159.2" y="344.8" width="4.2" height="65.2" fill="#6ae26a" stroke="#333" stroke-width=".7"/>
<rect x="1163.4" y="304.3" width="4.2" height="105.7" fill="#6ae26a" stroke="#333" stroke-width=".7"/>
<rect x="1167.6" y="92.3" width="4.2" height="317.7" fill="#6ae26a" stroke="#333" stroke-width=".7"/>
<rect x="1171.8" y="83.9" width="4.2" height="326.1" fill="#6ae26a" stroke="#333" stroke-width=".7"/>
<rect x="1176" y="292.9" width="4.2" height="117.1" fill="#6ae26a" stroke="#333" stroke-width=".7"/>
<rect x="1180.2" y="338.8" width="4.2" height="71.2" fill="#6ae26a" stroke="#333" stroke-width=".7"/>
<rect x="1184.4" y="355.4" width="4.2" height="54.6" fill="#6ae26a" stroke="#333" stroke-width=".7"/>
<rect x="1188.6" y="372.2" width="4.2" height="37.8" fill="#6ae26a" stroke="#333" stroke-width=".7"/>
<rect x="1192.8" y="366.8" width="4.2" height="43.2" fill="#c4c4c4" stroke="#333" stroke-width=".7"/>
<rect x="1196.9" y="375.2" width="4.2" height="34.8" fill="#c4c4c4" stroke="#333" stroke-width=".7"/>
<rect x="1201.1" y="384.2" width="4.2" height="25.8" fill="#c4c4c4" stroke="#333" stroke-width=".7"/>
<rect x="1205.3" y="380.9" width="4.2" height="29.1" fill="#c4c4c4" stroke="#333" stroke-width=".7"/>
<rect x="1209.5" y="385.5" width="4.2" height="24.5" fill="#c4c4c4" stroke="#333" stroke-width=".7"/>
<rect x="1213.7" y="390.4" width="4.2" height="19.6" fill="#a52ba8" stroke="#333" stroke-width=".7"/>
<rect x="1217.9" y="379.6" width="4.2" height="30.4" fill="#a52ba8" stroke="#333" stroke-width=".7"/>
<rect x="1222.1" y="387.7" width="4.2" height="22.3" fill="#a52ba8" stroke="#333" stroke-width=".7"/>
<rect x="1226.3" y="383.9" width="4.2" height="26.1" fill="#a52ba8" stroke="#333" stroke-width=".7"/>
<rect x="1230.5" y="383.1" width="4.2" height="26.9" fill="#a52ba8" stroke="#333" stroke-width=".7"/>
<rect x="1234.7" y="382.3" width="4.2" height="27.7" fill="#a52ba8" stroke="#333" stroke-width=".7"/>
<rect x="1238.8" y="383.4" width="4.2" height="26.6" fill="#a52ba8" stroke="#333" stroke-width=".7"/>
<rect x="1243" y="385.5" width="4.2" height="24.5" fill="#a52ba8" stroke="#333" stroke-width=".7"/>
<rect x="1247.2" y="389.6" width="4.2" height="20.4" fill="#a52ba8" stroke="#333" stroke-width=".7"/>
<rect x="1251.4" y="383.6" width="4.2" height="26.4" fill="#a52ba8" stroke="#333" stroke-width=".7"/>
<rect x="1255.6" y="389.6" width="4.2" height="20.4" fill="#a52ba8" stroke="#333" stroke-width=".7"/>
<rect x="1259.8" y="386.6" width="4.2" height="23.4" fill="#a52ba8" stroke="#333" stroke-width=".7"/>
<rect x="1264" y="388.5" width="4.2" height="21.5" fill="#a52ba8" stroke="#333" stroke-width=".7"/>
<rect x="1268.2" y="387.7" width="4.2" height="22.3" fill="#a52ba8" stroke="#333" stroke-width=".7"/>
<rect x="1272.4" y="387.2" width="4.2" height="22.8" fill="#a52ba8" stroke="#333" stroke-width=".7"/>
<rect x="1276.5" y="391" width="4.2" height="19" fill="#a52ba8" stroke="#333" stroke-width=".7"/>
<rect x="1280.7" y="386.6" width="4.2" height="23.4" fill="#a52ba8" stroke="#333" stroke-width=".7"/>
<rect x="1284.9" y="393.7" width="4.2" height="16.3" fill="#a52ba8" stroke="#333" stroke-width=".7"/>
<rect x="1289.1" y="391.8" width="4.2" height="18.2" fill="#a52ba8" stroke="#333" stroke-width=".7"/>
<rect x="1293.3" y="396.7" width="4.2" height="13.3" fill="#a52ba8" stroke="#333" stroke-width=".7"/>
<rect x="1297.5" y="396.7" width="4.2" height="13.3" fill="#a52ba8" stroke="#333" stroke-width=".7"/>
<rect x="1301.7" y="397.5" width="4.2" height="12.5" fill="#a52ba8" stroke="#333" stroke-width=".7"/>
<rect x="1305.9" y="403.7" width="4.2" height="6.3" fill="#a52ba8" stroke="#333" stroke-width=".7"/>
<rect x="1310.1" y="403.7" width="4.2" height="6.3" fill="#a52ba8" stroke="#333" stroke-width=".7"/>
<rect x="1314.3" y="404.3" width="4.2" height="5.7" fill="#a52ba8" stroke="#333" stroke-width=".7"/>
<rect x="1318.5" y="405.9" width="4.2" height="4.1" fill="#a52ba8" stroke="#333" stroke-width=".7"/>
<rect x="1322.6" y="406.5" width="4.2" height="3.5" fill="#a52ba8" stroke="#333" stroke-width=".7"/>
<rect x="1326.8" y="408.1" width="4.2" height="1.9" fill="#a52ba8" stroke="#333" stroke-width=".7"/>
<rect x="1331" y="408.4" width="4.2" height="1.6" fill="#a52ba8" stroke="#333" stroke-width=".7"/>
<rect x="1335.2" y="408.4" width="4.2" height="1.6" fill="#a52ba8" stroke="#333" stroke-width=".7"/>
<path d="M1150.8 85V410" stroke="#111" stroke-width="1.2" stroke-dasharray="5 4"/>
<path d="M1193.6 85V410" stroke="#111" stroke-width="1.2" stroke-dasharray="5 4"/>
<path d="M1214.5 85V410" stroke="#111" stroke-width="1.2" stroke-dasharray="5 4"/>
<path d="M1084.3 84V410.5H1339.5" stroke="#111" stroke-width="1.6" fill="none"/>
<path d="M1079 410L1084.3 410" stroke="#111" stroke-width="1.5"/>
<text x="1076" y="418.6" text-anchor="end" font-size="24">0</text>
<path d="M1079 355.6L1084.3 355.6" stroke="#111" stroke-width="1.5"/>
<text x="1076" y="364.2" text-anchor="end" font-size="24">200</text>
<path d="M1079 301.3L1084.3 301.3" stroke="#111" stroke-width="1.5"/>
<text x="1076" y="309.9" text-anchor="end" font-size="24">400</text>
<path d="M1079 246.9L1084.3 246.9" stroke="#111" stroke-width="1.5"/>
<text x="1076" y="255.5" text-anchor="end" font-size="24">600</text>
<path d="M1079 192.6L1084.3 192.6" stroke="#111" stroke-width="1.5"/>
<text x="1076" y="201.2" text-anchor="end" font-size="24">800</text>
<path d="M1079 138.2L1084.3 138.2" stroke="#111" stroke-width="1.5"/>
<text x="1076" y="146.8" text-anchor="end" font-size="24">1000</text>
<path d="M1079 83.9L1084.3 83.9" stroke="#111" stroke-width="1.5"/>
<text x="1076" y="92.5" text-anchor="end" font-size="24">1200</text>
<path d="M1088 410L1088 415" stroke="#111" stroke-width="1.5"/>
<text x="1088" y="437" text-anchor="middle" font-size="24">-2</text>
<path d="M1171.8 410L1171.8 415" stroke="#111" stroke-width="1.5"/>
<text x="1171.8" y="437" text-anchor="middle" font-size="24">0</text>
<path d="M1255.6 410L1255.6 415" stroke="#111" stroke-width="1.5"/>
<text x="1255.6" y="437" text-anchor="middle" font-size="24">2</text>
<path d="M1339.4 410L1339.4 415" stroke="#111" stroke-width="1.5"/>
<text x="1339.4" y="437" text-anchor="middle" font-size="24">4</text>
<text x="1013" y="250" text-anchor="middle" font-size="24" transform="rotate(-90 1013 250)">Counts</text>
<text x="1207.5" y="473" text-anchor="middle" font-size="30">video ME (z-score)</text>
<text x="257.5" y="565" text-anchor="middle" font-size="28.5">Vstill</text>
<text x="664.5" y="565.5" text-anchor="middle" font-size="28.5">Vmoving</text>
<text x="1186.5" y="565" text-anchor="middle" font-size="28.5">Vmoving - Vstill</text>
<text x="257.5" y="1005" text-anchor="middle" font-size="28.5">Astill</text>
<text x="664.5" y="1005" text-anchor="middle" font-size="28.5">Amoving</text>
<text x="1185.6" y="1001" text-anchor="middle" font-size="28.5">Amoving - Astill</text>
<path d="M102.1 586.1V906.3" stroke="#222" stroke-width="4.1"/>
<path d="M102.1 587.7L108.6 587.7" stroke="#222" stroke-width="3.3"/>
<text x="94.2" y="595.3" text-anchor="end" font-size="21.2">0</text>
<path d="M102.1 651.1L108.6 651.1" stroke="#222" stroke-width="3.3"/>
<text x="94.2" y="658.7" text-anchor="end" font-size="21.2">200</text>
<path d="M102.1 714.5L108.6 714.5" stroke="#222" stroke-width="3.3"/>
<text x="94.2" y="722.1" text-anchor="end" font-size="21.2">400</text>
<path d="M102.1 777.9L108.6 777.9" stroke="#222" stroke-width="3.3"/>
<text x="94.2" y="785.5" text-anchor="end" font-size="21.2">600</text>
<path d="M102.1 841.3L108.6 841.3" stroke="#222" stroke-width="3.3"/>
<text x="94.2" y="848.9" text-anchor="end" font-size="21.2">800</text>
<path d="M102.1 904.7L108.6 904.7" stroke="#222" stroke-width="3.3"/>
<text x="94.2" y="912.3" text-anchor="end" font-size="21.2">1000</text>
<text x="46.4" y="767" text-anchor="middle" font-size="27.3" transform="rotate(-90 46.4 767)">Cortical depth (µm)</text>
<path d="M103.4 1023.6V1345.2" stroke="#222" stroke-width="4.1"/>
<path d="M103.4 1025.2L109.9 1025.2" stroke="#222" stroke-width="3.3"/>
<text x="94.2" y="1032.8" text-anchor="end" font-size="21.2">0</text>
<path d="M103.4 1088.9L109.9 1088.9" stroke="#222" stroke-width="3.3"/>
<text x="94.2" y="1096.5" text-anchor="end" font-size="21.2">200</text>
<path d="M103.4 1152.6L109.9 1152.6" stroke="#222" stroke-width="3.3"/>
<text x="94.2" y="1160.2" text-anchor="end" font-size="21.2">400</text>
<path d="M103.4 1216.2L109.9 1216.2" stroke="#222" stroke-width="3.3"/>
<text x="94.2" y="1223.8" text-anchor="end" font-size="21.2">600</text>
<path d="M103.4 1279.9L109.9 1279.9" stroke="#222" stroke-width="3.3"/>
<text x="94.2" y="1287.5" text-anchor="end" font-size="21.2">800</text>
<path d="M103.4 1343.6L109.9 1343.6" stroke="#222" stroke-width="3.3"/>
<text x="94.2" y="1351.2" text-anchor="end" font-size="21.2">1000</text>
<text x="46.4" y="1204.8" text-anchor="middle" font-size="27.3" transform="rotate(-90 46.4 1204.8)">Cortical depth (µm)</text>
<text x="683" y="1427" text-anchor="middle" font-size="29">Time from stimulus change (ms)</text>
<text x="137.1" y="921.4" text-anchor="end" font-size="25.5" transform="rotate(-45 137.1 921.4)">-100</text>
<text x="185.8" y="921.4" text-anchor="end" font-size="25.5" transform="rotate(-45 185.8 921.4)">0</text>
<text x="229.4" y="921.4" text-anchor="end" font-size="25.5" transform="rotate(-45 229.4 921.4)">100</text>
<text x="274.2" y="921.4" text-anchor="end" font-size="25.5" transform="rotate(-45 274.2 921.4)">200</text>
<text x="319.1" y="921.4" text-anchor="end" font-size="25.5" transform="rotate(-45 319.1 921.4)">300</text>
<text x="364" y="921.4" text-anchor="end" font-size="25.5" transform="rotate(-45 364 921.4)">400</text>
<text x="410.1" y="921.4" text-anchor="end" font-size="25.5" transform="rotate(-45 410.1 921.4)">500</text>
<text x="449.8" y="921.4" text-anchor="end" font-size="25.5" transform="rotate(-45 449.8 921.4)">600</text>
<text x="518" y="921.6" text-anchor="end" font-size="25.5" transform="rotate(-45 518 921.6)">-100</text>
<text x="571.8" y="921.6" text-anchor="end" font-size="25.5" transform="rotate(-45 571.8 921.6)">0</text>
<text x="610.5" y="921.6" text-anchor="end" font-size="25.5" transform="rotate(-45 610.5 921.6)">100</text>
<text x="655.5" y="921.6" text-anchor="end" font-size="25.5" transform="rotate(-45 655.5 921.6)">200</text>
<text x="700.5" y="921.6" text-anchor="end" font-size="25.5" transform="rotate(-45 700.5 921.6)">300</text>
<text x="745.5" y="921.6" text-anchor="end" font-size="25.5" transform="rotate(-45 745.5 921.6)">400</text>
<text x="790.5" y="921.6" text-anchor="end" font-size="25.5" transform="rotate(-45 790.5 921.6)">500</text>
<text x="831.8" y="921.6" text-anchor="end" font-size="25.5" transform="rotate(-45 831.8 921.6)">600</text>
<text x="1017.1" y="921.8" text-anchor="end" font-size="25.5" transform="rotate(-45 1017.1 921.8)">-100</text>
<text x="1071.2" y="921.8" text-anchor="end" font-size="25.5" transform="rotate(-45 1071.2 921.8)">0</text>
<text x="1108" y="921.8" text-anchor="end" font-size="25.5" transform="rotate(-45 1108 921.8)">100</text>
<text x="1154.2" y="921.8" text-anchor="end" font-size="25.5" transform="rotate(-45 1154.2 921.8)">200</text>
<text x="1199.2" y="921.8" text-anchor="end" font-size="25.5" transform="rotate(-45 1199.2 921.8)">300</text>
<text x="1244" y="921.8" text-anchor="end" font-size="25.5" transform="rotate(-45 1244 921.8)">400</text>
<text x="1288.8" y="921.8" text-anchor="end" font-size="25.5" transform="rotate(-45 1288.8 921.8)">500</text>
<text x="1331.1" y="921.8" text-anchor="end" font-size="25.5" transform="rotate(-45 1331.1 921.8)">600</text>
<text x="132.6" y="1358.4" text-anchor="end" font-size="25.5" transform="rotate(-45 132.6 1358.4)">-100</text>
<text x="177.6" y="1358.4" text-anchor="end" font-size="25.5" transform="rotate(-45 177.6 1358.4)">0</text>
<text x="222.5" y="1358.4" text-anchor="end" font-size="25.5" transform="rotate(-45 222.5 1358.4)">100</text>
<text x="267.5" y="1358.4" text-anchor="end" font-size="25.5" transform="rotate(-45 267.5 1358.4)">200</text>
<text x="312.5" y="1358.4" text-anchor="end" font-size="25.5" transform="rotate(-45 312.5 1358.4)">300</text>
<text x="357.5" y="1358.4" text-anchor="end" font-size="25.5" transform="rotate(-45 357.5 1358.4)">400</text>
<text x="402.5" y="1358.4" text-anchor="end" font-size="25.5" transform="rotate(-45 402.5 1358.4)">500</text>
<text x="442.6" y="1358.4" text-anchor="end" font-size="25.5" transform="rotate(-45 442.6 1358.4)">600</text>
<text x="516.8" y="1358.9" text-anchor="end" font-size="25.5" transform="rotate(-45 516.8 1358.9)">-100</text>
<text x="564.3" y="1358.9" text-anchor="end" font-size="25.5" transform="rotate(-45 564.3 1358.9)">0</text>
<text x="603" y="1358.9" text-anchor="end" font-size="25.5" transform="rotate(-45 603 1358.9)">100</text>
<text x="648" y="1358.9" text-anchor="end" font-size="25.5" transform="rotate(-45 648 1358.9)">200</text>
<text x="693" y="1358.9" text-anchor="end" font-size="25.5" transform="rotate(-45 693 1358.9)">300</text>
<text x="738" y="1358.9" text-anchor="end" font-size="25.5" transform="rotate(-45 738 1358.9)">400</text>
<text x="783.1" y="1358.9" text-anchor="end" font-size="25.5" transform="rotate(-45 783.1 1358.9)">500</text>
<text x="824.3" y="1358.9" text-anchor="end" font-size="25.5" transform="rotate(-45 824.3 1358.9)">600</text>
<text x="1009.2" y="1358.2" text-anchor="end" font-size="25.5" transform="rotate(-45 1009.2 1358.2)">-100</text>
<text x="1063.3" y="1358.2" text-anchor="end" font-size="25.5" transform="rotate(-45 1063.3 1358.2)">0</text>
<text x="1100.1" y="1358.2" text-anchor="end" font-size="25.5" transform="rotate(-45 1100.1 1358.2)">100</text>
<text x="1146.3" y="1358.2" text-anchor="end" font-size="25.5" transform="rotate(-45 1146.3 1358.2)">200</text>
<text x="1191.3" y="1358.2" text-anchor="end" font-size="25.5" transform="rotate(-45 1191.3 1358.2)">300</text>
<text x="1236" y="1358.2" text-anchor="end" font-size="25.5" transform="rotate(-45 1236 1358.2)">400</text>
<text x="1280.9" y="1358.2" text-anchor="end" font-size="25.5" transform="rotate(-45 1280.9 1358.2)">500</text>
<text x="1325.9" y="1358.2" text-anchor="end" font-size="25.5" transform="rotate(-45 1325.9 1358.2)">600</text>
<path transform="translate(127 59.5) scale(.5)" d="M0 8l12-1 12 0 12 1 12 0 12 0 12 0 13-1 12 0 12 0 12 0 12-1 12 0 12 1 12 1 12-1 12 0 12-1 12-1 12 1 13 1 12-1 12-1 12 0 12 0 12 0 12 1 12 1 12 0 12-1 12 0 12-1 13 0 12 0 12 0 12 0 12 1 12 0 12-1 12 1 12 1 12 0 12 1 12 0 12-1 13 0 12 0 12 0 12 0 12 0 12 1 12 0M0 21l12 0 12 0 12-1 12 0 12 1 12 0 13-1 12 0 12 0 12 0 12 0 12 0 12 0 12 0 12 0 12 0 12 0 12 0 12 0 13-1 12-1 12 0 12 1 12 1 12-1 12-1 12 1 12-1 12 0 12 0 12 0 13 1 12 0 12 0 12 0 12 0 12 1 12 0 12 0 12 0 12 0 12 0 12 0 12 0 13 0 12 0 12 0 12 0 12 1 12 0 12 0M0 34l12 0 12 1 12 0 12-1 12-1 12 0 13 1 12 0 12 1 12 0 12-1 12 0 12 1 12 0 12-1 12-1 12-1 12 1 12 0 13-1 12 0 12 0 12 0 12 0 12 0 12-1 12 0 12 1 12 1 12 0 12 0 13 0 12 0 12-1 12 1 12 1 12 0 12-1 12 0 12 0 12 0 12 0 12 1 12 0 13 0 12 0 12 1 12 0 12 1 12 0 12-1M0 48l12-1 12 1 12-1 12 1 12 0 12 0 13 0 12 1 12-1 12 0 12 0 12 0 12 0 12 0 12-1 12 0 12 0 12 0 12-1 13 0 12 1 12-1 12-1 12-1 12 1 12 0 12-1 12 0 12 0 12 1 12 0 13 0 12 0 12-1 12 0 12 1 12 0 12 1 12 2 12 0 12-1 12 0 12 0 12 0 13 1 12 0 12 0 12 0 12-1 12 0 12 0M0 62l12 0 12-1 12 0 12 0 12 0 12 1 13 0 12 0 12 0 12 0 12 0 12-1 12 1 12 0 12-1 12 0 12-1 12-1 12 0 13 0 12-1 12 0 12 0 12 1 12 0 12-1 12 1 12-1 12 0 12-1 12 0 13 1 12 1 12 1 12 0 12 0 12 0 12 0 12 0 12 0 12 0 12 1 12 0 12 0 13-1 12 1 12 1 12-1 12 0 12 1 12-1M0 76l12 0 12 1 12 0 12-1 12 0 12-1 13 1 12 0 12-1 12 0 12 1 12 0 12-1 12-1 12 1 12 0 12-2 12-1 12 0 13 0 12 0 12-1 12 0 12 0 12 0 12-1 12 0 12 1 12 1 12-1 12 0 13 0 12 1 12 1 12 0 12 0 12 0 12 1 12 1 12-1 12 0 12 2 12 0 12 0 13-1 12 0 12 0 12-1 12 1 12 0 12 0M0 89l12 1 12 0 12-1 12 0 12 1 12 0 13-1 12 0 12-1 12 0 12 0 12 0 12 0 12 0 12 0 12 0 12 0 12-1 12 0 13-1 12 0 12 0 12 0 12-1 12 0 12 0 12 0 12 0 12 0 12 0 12 0 13-1 12 0 12 1 12 2 12 0 12 1 12-1 12 0 12 0 12 1 12 1 12 1 12 0 13-1 12 0 12 0 12 0 12 0 12-1 12 0M0 103l12 0 12 0 12 0 12 0 12-1 12 0 13 1 12 0 12-1 12 1 12 1 12-1 12-1 12-1 12 0 12 0 12 0 12 0 12 0 13-2 12 0 12 0 12 0 12-1 12 0 12 0 12 0 12 0 12 0 12 0 12 1 13 0 12-1 12 0 12 1 12 1 12 1 12 1 12 0 12 0 12 0 12 1 12 0 12 0 13 0 12 0 12 0 12-1 12 0 12 1 12 0M0 117l12 0 12 0 12-1 12-1 12 1 12 1 13 0 12 0 12 0 12-1 12 0 12 0 12 0 12 0 12-1 12 0 12 0 12-1 12-1 13-1 12 0 12 0 12 0 12 0 12-1 12-1 12 0 12 0 12 2 12 0 12-1 13 0 12 1 12 1 12 1 12 0 12 0 12 0 12 0 12 1 12 1 12 0 12 0 12 0 13 0 12 0 12 1 12 1 12 0 12-1 12 0M0 131l12 0 12 0 12 0 12-1 12 1 12 0 13 0 12-1 12 0 12 0 12 1 12-1 12 0 12-1 12 0 12-1 12 0 12 0 12-1 13 0 12-1 12 1 12-1 12-1 12 0 12 0 12-1 12 0 12 0 12 0 12 1 13 1 12 0 12 1 12 0 12 0 12 1 12 1 12 1 12 0 12 0 12 0 12 1 12 1 13-1 12 0 12 0 12-1 12-1 12 0 12 0M0 143l12 0 12 1 12 0 12 0 12 0 12 0 13 0 12 0 12 0 12 0 12 0 12 0 12 0 12-1 12 0 12 0 12-1 12-1 12-2 13 0 12 1 12-1 12-1 12 0 12 0 12 0 12 0 12-1 12 0 12 0 12 1 13 0 12 0 12 0 12 2 12 1 12 0 12 0 12 1 12 0 12 1 12 1 12-1 12 0 13 0 12 0 12 1 12 0 12-1 12 0 12 1M0 158l12 0 12 0 12 0 12 0 12-1 12 0 13 1 12 0 12-1 12 0 12 1 12 1 12-1 12-2 12-1 12 0 12 0 12-1 12 0 13 0 12 0 12-1 12 0 12 0 12 0 12 1 12-1 12-1 12 0 12 1 12 0 13-1 12 1 12 1 12-1 12 1 12 1 12 1 12 1 12 0 12 1 12 0 12 0 12 0 13 0 12 0 12-1 12 0 12 1 12 0 12-1M0 171l12 1 12 0 12 0 12-1 12 0 12 0 13 0 12 0 12 0 12 1 12 0 12-2 12 1 12 0 12 1 12-1 12 0 12-1 12 0 13-1 12-2 12-1 12 0 12 1 12 0 12-1 12 0 12-1 12 1 12 0 12 0 13 0 12 0 12 2 12 0 12-1 12 1 12 2 12 0 12 0 12 1 12 1 12 0 12 0 13-1 12 0 12-1 12 1 12 0 12 0 12-1M0 186l12-1 12 0 12 0 12 0 12 0 12 1 13 0 12 0 12 0 12 0 12-1 12 0 12 0 12-1 12 1 12 0 12-1 12-1 12 0 13 0 12-1 12-1 12 0 12 0 12-1 12 1 12 0 12 0 12 0 12 0 12 0 13 0 12 1 12 0 12-1 12 0 12 1 12 1 12 2 12 0 12 1 12 0 12 0 12 0 13 0 12-1 12 1 12 1 12-1 12 0 12 0M0 199l12 1 12 0 12-1 12 0 12-1 12 0 13 1 12 0 12 0 12 0 12-1 12 1 12-1 12 0 12 0 12 1 12 0 12-1 12-1 13-1 12 0 12-1 12 0 12 1 12 1 12 0 12 0 12 0 12-1 12-1 12 0 13 1 12 0 12 1 12 0 12 0 12 0 12 0 12 2 12 0 12-1 12 0 12 1 12-1 13 0 12 1 12 0 12-1 12 0 12 0 12 1M0 213l12 1 12 0 12-1 12-1 12-1 12 0 13 1 12 0 12 0 12 0 12 0 12 0 12 0 12 0 12 0 12 0 12 0 12 1 12 1 13 0 12 0 12-1 12-2 12 0 12 1 12 0 12 0 12 0 12 0 12-1 12 0 13 0 12 1 12 1 12 0 12-2 12 0 12 1 12 1 12-1 12 0 12 0 12 0 12 0 13 1 12 1 12-1 12-1 12 0 12 1 12 0M0 227l12 0 12-1 12 0 12 0 12 1 12 0 13 1 12 0 12-1 12-1 12 0 12 0 12 0 12 0 12 1 12 1 12 1 12 1 12 0 13 0 12 0 12 0 12-1 12-1 12 1 12-1 12 0 12 1 12-1 12 0 12 1 13 1 12-1 12-1 12-2 12-2 12 1 12 0 12 0 12 0 12 0 12 0 12 1 12 1 13 0 12 0 12 0 12-1 12 0 12 1 12-1M0 240l12 0 12 0 12 0 12-1 12 1 12 0 13 0 12 0 12 0 12 1 12 0 12-1 12-1 12 0 12 1 12 1 12 3 12 3 12 0 13-1 12 1 12-1 12-1 12 0 12 0 12 1 12-1 12-1 12 0 12 0 12 1 13 1 12-1 12 0 12-1 12-2 12-2 12-1 12 0 12 1 12 0 12 0 12-1 12 0 13 1 12 1 12 0 12-1 12 0 12 0 12 0M0 254l12 0 12 0 12 0 12 1 12 0 12-1 13 1 12 0 12-2 12 0 12 0 12 0 12 1 12 0 12 1 12 1 12 3 12 4 12 1 13 0 12-1 12 0 12 0 12-1 12 0 12 0 12 0 12 0 12 0 12 0 12 0 13 0 12 0 12 0 12-2 12-4 12-1 12-1 12 0 12 0 12-1 12 0 12 1 12 0 13 0 12 0 12 0 12 0 12 0 12 0 12 0M0 269l12 0 12-1 12 0 12-1 12 0 12 0 13 1 12 0 12-1 12 1 12 0 12 0 12-1 12 0 12 1 12 3 12 5 12 3 12 0 13-1 12 0 12 0 12 0 12 0 12 1 12 0 12-1 12-1 12 0 12 1 12 0 13-1 12 0 12-1 12-4 12-4 12-1 12 1 12 0 12 0 12 1 12 0 12 0 12-1 13-1 12 0 12 1 12 0 12 0 12 0 12 0M0 281l12 1 12-1 12-1 12 0 12 0 12 1 13 0 12 0 12-1 12 1 12 0 12 0 12 1 12 0 12 0 12 2 12 6 12 3 12-1 13 1 12 1 12 0 12-2 12 0 12 0 12 1 12 1 12 0 12-1 12 0 12 0 13 0 12-1 12-1 12-4 12-4 12-2 12 0 12 1 12-1 12-1 12 0 12 1 12 1 13 0 12-1 12 1 12 0 12-1 12 0 12 0M0 295l12 0 12 0 12 0 12 0 12 1 12 0 13 0 12-1 12-1 12 0 12 0 12 0 12 1 12 0 12 1 12 3 12 5 12 2 12 1 13 0 12-1 12 0 12 0 12 0 12 1 12 1 12 0 12-1 12-1 12 0 12 0 13 0 12 0 12-1 12-4 12-5 12-2 12 1 12 0 12 0 12 0 12 0 12 0 12 0 13 0 12 0 12 0 12 0 12 0 12 0 12 0M0 308l12 1 12 1 12-1 12 0 12 0 12 0 13 0 12 0 12 0 12 1 12-1 12 0 12 0 12-1 12 1 12 3 12 4 12 2 12 1 13 0 12 1 12 0 12 1 12 0 12 0 12 0 12 1 12-1 12-1 12 0 12 0 13 0 12-1 12 0 12-3 12-4 12-2 12 0 12-1 12-1 12 0 12 1 12 0 12 0 13 0 12 0 12 0 12 0 12 0 12-1 12 0M0 322l12 0 12 0 12 0 12 0 12 0 12 0 13 0 12-1 12 0 12 1 12 0 12 0 12 0 12 0 12 1 12 3 12 3 12 2 12-1 13 0 12 1 12 1 12 1 12 1 12 1 12 0 12 0 12 0 12 0 12-1 12-1 13-1 12-1 12-1 12-2 12-2 12-2 12-1 12-1 12 1 12 0 12-1 12 1 12 0 13 0 12 0 12-1 12 0 12 0 12 0 12 0M0 337l12 0 12 0 12-1 12 0 12 0 12 0 13 0 12 0 12 0 12-1 12 0 12 1 12 0 12 1 12 0 12 2 12 2 12 1 12 0 13 0 12 2 12 2 12 1 12 0 12 1 12 2 12 1 12-1 12-1 12-2 12 0 13-1 12-2 12-2 12-3 12-1 12-1 12-1 12-1 12 0 12 1 12 0 12 1 12 0 13 0 12-1 12 0 12-1 12 1 12 0 12 0M0 349l12 0 12 1 12 0 12 0 12 0 12 0 13 0 12 0 12 0 12-1 12 0 12 1 12 0 12 0 12 0 12 0 12 2 12 1 12 2 13 1 12 2 12 1 12 1 12 2 12 1 12 2 12 0 12 0 12 0 12-1 12-2 13-2 12-2 12-3 12-2 12-2 12 0 12-1 12 0 12 1 12 0 12-1 12 0 12 0 13 0 12 0 12 0 12 1 12-1 12 0 12 0M0 364l12 0 12-1 12 0 12 0 12 0 12 1 13 1 12-1 12-1 12 0 12 0 12 0 12 0 12 0 12 0 12 1 12 1 12 2 12 1 13 2 12 2 12 2 12 3 12 3 12 2 12 1 12 0 12-1 12-1 12-1 12-2 13-4 12-3 12-1 12-2 12-2 12-1 12 0 12-1 12 0 12 0 12-1 12 1 12 0 13 0 12 0 12-1 12 1 12 0 12 1 12 0M0 377l12 0 12-1 12 0 12 1 12 0 12 0 13 0 12-1 12 0 12 0 12 1 12 0 12 1 12 0 12-1 12 1 12 1 12 2 12 2 13 2 12 3 12 3 12 2 12 3 12 2 12 2 12 1 12-1 12-2 12-1 12-3 13-3 12-3 12-3 12-3 12-2 12-1 12 0 12 0 12-1 12 1 12 0 12 0 12 0 13-1 12 0 12 1 12-1 12 0 12 0 12 0M0 392l12 0 12-1 12-1 12 0 12 1 12 0 13 0 12 0 12 1 12-1 12-1 12 1 12 0 12 0 12 1 12 0 12 1 12 2 12 2 13 3 12 4 12 4 12 3 12 3 12 1 12 1 12 1 12 0 12-2 12-1 12-3 13-2 12-3 12-4 12-4 12-4 12-2 12 0 12 0 12 1 12 1 12-1 12-1 12-1 13 0 12 0 12 1 12 0 12 0 12 0 12-1M0 405l12 0 12 0 12 0 12 0 12 0 12 0 13 0 12 0 12-1 12 0 12 0 12 0 12 1 12 0 12 0 12 0 12 2 12 2 12 3 13 4 12 4 12 3 12 4 12 3 12 2 12 1 12 0 12-1 12-1 12 0 12-3 13-4 12-3 12-4 12-4 12-4 12-2 12-1 12 0 12 0 12 0 12 0 12 0 12 0 13 0 12 0 12 0 12 0 12 0 12 0 12-1M0 418l12 0 12 1 12 1 12 0 12-1 12-1 13 0 12 0 12 1 12 0 12 0 12 1 12 0 12 0 12 0 12 0 12 2 12 2 12 3 13 4 12 5 12 4 12 3 12 2 12 1 12 2 12-1 12 1 12 0 12-2 12-2 13-3 12-4 12-4 12-5 12-4 12-2 12 0 12-1 12-1 12 0 12 0 12 0 12 0 13 0 12 0 12 0 12 0 12 1 12-1 12-1M0 431l12 1 12 1 12-1 12 0 12 0 12 0 13 0 12 0 12 1 12 0 12-1 12 0 12 1 12 1 12 0 12 1 12 2 12 2 12 2 13 4 12 5 12 5 12 4 12 3 12 1 12 0 12 0 12 0 12-1 12-1 12-2 13-3 12-4 12-5 12-4 12-3 12-3 12-2 12 0 12 0 12 0 12-1 12 0 12 0 13 0 12 0 12-1 12 0 12 1 12 0 12 0M0 446l12 0 12 0 12 1 12-1 12-1 12 0 13 0 12 0 12 1 12 0 12 0 12 1 12 0 12 0 12 1 12 1 12 1 12 2 12 4 13 5 12 4 12 4 12 2 12 3 12 1 12 1 12 2 12-1 12-1 12 0 12-3 13-4 12-3 12-4 12-4 12-4 12-3 12-1 12 0 12 0 12-1 12 0 12 0 12 0 13 0 12 1 12 0 12 0 12-1 12 0 12 0M0 459l12 0 12-1 12 1 12 1 12-1 12 1 13 0 12 1 12 0 12 0 12-1 12 0 12 0 12 1 12 1 12 1 12 3 12 2 12 4 13 3 12 4 12 4 12 5 12 2 12 1 12 0 12 1 12-1 12 0 12-2 12-2 13-3 12-5 12-4 12-3 12-2 12-3 12-1 12-1 12 0 12-1 12 0 12 1 12 0 13 0 12-2 12 0 12 0 12 0 12 0 12-1M0 474l12-1 12 0 12 1 12 0 12-1 12 0 13 1 12 0 12 0 12 0 12 1 12 1 12-1 12 0 12 0 12 3 12 2 12 1 12 3 13 4 12 5 12 3 12 4 12 3 12 2 12 1 12 0 12-1 12 0 12-1 12-3 13-3 12-4 12-5 12-3 12-3 12-2 12-1 12-1 12 0 12-1 12 1 12 1 12 0 13-1 12 0 12-1 12-1 12 0 12 0 12 0M0 487l12 0 12 0 12 0 12 0 12 0 12-1 13 1 12 1 12 0 12 0 12 0 12 1 12 0 12 0 12 1 12 2 12 0 12 3 12 3 13 3 12 4 12 5 12 3 12 2 12 3 12 1 12 0 12 0 12-2 12-1 12-2 13-3 12-5 12-5 12-2 12-2 12-2 12-1 12 0 12 0 12 1 12 0 12 0 12 0 13-1 12 0 12-1 12-1 12-1 12 0 12 0M0 501l12 0 12 0 12-1 12 0 12 1 12 0 13 0 12-1 12 1 12 0 12 1 12 0 12 1 12 1 12 1 12 1 12 1 12 1 12 3 13 3 12 3 12 4 12 4 12 4 12 2 12 1 12 0 12 0 12-2 12-2 12-3 13-4 12-3 12-3 12-2 12-1 12-1 12 0 12 0 12-1 12 0 12 0 12 0 12-1 13 0 12 0 12 1 12-1 12-2 12-1 12-1M0 514l12 0 12 1 12-1 12 1 12 0 12 0 13 0 12 0 12 1 12 0 12 0 12 0 12 1 12 1 12 1 12 2 12 1 12 1 12 3 13 2 12 2 12 2 12 3 12 3 12 3 12 2 12 0 12 0 12-1 12-2 12-3 13-3 12-3 12-2 12-1 12-1 12-1 12 0 12 0 12-1 12-1 12 1 12 0 12 0 13 0 12 0 12-1 12 0 12-1 12-1 12-2M0 529l12 0 12-1 12 0 12 0 12 0 12 1 13 1 12 0 12-1 12 0 12 1 12 1 12 1 12-1 12 2 12 2 12 2 12 2 12 1 13 2 12 2 12 3 12 2 12 2 12 1 12 1 12 0 12 0 12 0 12-2 12-2 13-1 12-2 12-3 12-1 12-1 12 0 12 1 12 0 12-1 12-1 12 0 12 0 12 0 13 0 12 0 12-1 12-1 12-1 12-1 12-2M0 542l12-1 12 0 12 1 12 0 12 0 12 0 13 1 12 0 12-1 12 0 12 2 12 0 12 0 12 2 12 2 12 1 12 2 12 2 12 1 13 2 12 3 12 1 12 1 12 1 12 1 12 1 12 1 12-1 12 0 12-1 12-2 13 0 12-1 12-3 12 0 12 0 12 0 12 0 12-1 12 0 12 0 12 0 12 0 12 0 13 0 12 0 12-2 12-1 12-1 12-1 12-2M0 555l12 0 12 1 12-1 12 0 12 1 12 0 13 0 12 1 12-1 12 1 12 1 12 0 12 1 12 2 12 2 12 2 12 2 12 0 12 1 13 2 12 2 12 1 12 0 12 1 12 1 12 1 12 0 12 0 12 0 12-1 12-1 13-1 12 0 12 0 12 0 12-1 12 0 12 0 12-1 12 0 12 1 12 0 12-1 12 0 13 0 12-1 12-1 12 0 12-1 12-2 12-3M0 570l12-1 12 0 12 1 12 0 12-1 12 0 13 1 12 0 12 0 12 1 12 1 12 1 12 2 12 1 12 1 12 1 12 2 12 2 12 2 13 1 12 0 12 1 12 1 12 1 12 0 12 1 12 0 12 0 12-1 12-1 12 0 13 1 12-1 12 0 12 0 12 0 12-1 12 0 12 0 12 0 12 0 12 0 12 0 12-1 13 0 12 0 12-1 12-1 12-2 12 0 12-3M0 583l12 0 12 0 12-1 12 0 12 1 12 1 13-1 12 0 12 1 12-1 12 1 12 1 12 2 12 1 12 2 12 3 12 2 12 1 12 1 13 2 12 1 12 0 12 0 12 1 12 0 12 1 12 0 12 0 12 0 12 0 12-1 13-1 12 0 12 1 12 1 12-1 12 0 12 1 12 1 12-1 12-1 12-1 12 0 12 0 13-1 12 0 12-1 12 0 12-2 12-2 12-2M0 597l12 0 12-1 12 1 12 0 12 0 12 1 13 0 12-1 12 0 12 1 12 0 12 1 12 1 12 2 12 2 12 3 12 2 12 1 12 2 13 1 12 0 12 0 12 1 12 1 12 1 12 1 12-1 12-1 12 0 12 0 12 0 13 0 12 0 12 0 12 0 12 1 12 0 12 0 12-1 12 0 12 0 12 0 12-1 12 0 13 0 12-1 12-1 12 0 12-2 12-3 12-2M0 611l12-1 12 0 12 0 12 0 12 1 12 0 13-1 12 1 12 1 12 1 12 0 12 0 12 2 12 1 12 2 12 3 12 3 12 1 12 1 13 2 12 0 12 1 12 0 12 1 12 0 12-1 12-1 12 1 12 0 12 0 12 1 13 0 12 0 12 0 12-1 12 0 12 0 12 0 12 1 12-1 12-1 12 0 12 0 12 1 13-1 12-1 12 0 12-2 12-1 12-2 12-2M0 624l12 0 12 0 12-1 12 1 12 0 12 0 13 0 12 1 12 0 12 1 12 1 12 0 12 1 12 2 12 1 12 3 12 2 12 1 12 2 13 1 12 1 12 0 12 1 12 1 12 0 12-1 12 1 12 0 12-1 12 0 12 1 13 0 12-1 12 1 12 0 12 0 12-1 12 0 12 1 12 0 12-1 12 0 12 0 12 0 13-1 12-2 12-1 12 0 12 0 12-1 12-3M0 638l12-1 12 1 12 1 12 1 12 0 12-1 13 0 12 1 12 0 12-1 12 0 12 0 12 2 12 2 12 2 12 1 12 2 12 1 12 2 13 2 12 1 12 1 12-1 12 0 12 0 12 2 12 0 12 0 12-1 12 0 12 0 13 0 12 0 12 0 12 0 12 0 12-1 12 1 12 0 12 0 12-1 12 0 12 1 12-1 13 1 12-1 12 0 12-2 12-2 12-1 12-1M0 651l12 0 12 0 12 1 12 1 12 0 12-1 13 0 12 0 12 1 12 1 12-1 12 1 12 2 12 1 12 1 12 2 12 2 12 3 12 1 13 0 12 1 12 0 12 0 12 1 12-1 12-1 12 1 12 1 12 0 12-1 12-1 13 1 12 0 12 1 12-1 12 1 12 0 12 0 12 0 12 0 12 0 12 0 12-1 12 0 13 0 12 0 12-1 12-1 12-2 12-2 12-2M0 666l12 0 12 0 12 0 12 0 12 1 12-1 13-1 12 0 12 2 12 1 12 0 12 0 12 1 12 2 12 2 12 1 12 1 12 2 12 1 13 0 12 0 12 0 12 1 12 1 12 0 12 1 12-1 12-1 12 1 12 1 12 0 13 0 12-1 12 0 12 0 12-1 12-1 12 1 12 1 12 0 12 0 12 1 12-1 12-1 13 0 12 0 12 0 12-1 12-1 12-2 12-2M0 679l12-1 12 1 12 1 12-1 12 0 12 1 13 0 12 0 12 0 12 0 12-1 12 1 12 1 12 2 12 1 12 1 12 0 12 0 12 0 13 0 12 0 12 0 12 0 12 0 12 0 12 0 12 0 12 0 12 0 12 0 12 0 13 0 12 0 12 0 12 0 12 0 12 0 12 0 12 0 12 0 12 0 12 0 12 0 12 0 13 0 12 0 12 0 12 0 12 0 12 0 12 0" stroke="#000" stroke-width="2.5" fill="none" stroke-linejoin="round"/>
<path d="M188.6 59.5V402.5" stroke="#000" stroke-width="2.6" stroke-dasharray="7 4.5"/>
<rect x="127" y="59.5" width="308" height="343" fill="none" stroke="#555" stroke-width=".8"/>
<path transform="translate(512.2 59.6) scale(.5)" d="M0 7l10-1 10 0 10 0 10 1 10 0 10 0 10 0 10 0 10-1 10 0 10 1 10 0 10 1 10 3 10-3 10-7 10 4 10 4 10-1 10-1 10 1 10 0 10 0 10-1 10-1 10 0 10 0 10 1 10 0 10 0 10-2 10 1 10 1 10 0 10 0 10 0 10 0 10 1 10-1 10-1 10 0 10 0 10 0 10 0 10 0 10 0 10 0 10 0 10 1 10-1 10 1 10 0 10 0 10 1 10-1 10-1 10 0 10 0 10 0 10 1 10 1 10-1M0 20l10-1 10 1 10 0 10-1 10 1 10 1 10-1 10 0 10 1 10 0 10 0 10-1 10 2 10 3 10-3 10-6 10 3 10 3 10-2 10 1 10 1 10 0 10-1 10 0 10 0 10 0 10 0 10 0 10 0 10 0 10-1 10 2 10 0 10-1 10 0 10 1 10-1 10 0 10 0 10 0 10 0 10 0 10-1 10 0 10 0 10 1 10 0 10 0 10-1 10 0 10 1 10-1 10 0 10 1 10 0 10 0 10 0 10 0 10 0 10-1 10 1 10-1M0 35l10 0 10-1 10 0 10-1 10 0 10 1 10 1 10 0 10-1 10 0 10 0 10 0 10 1 10 2 10-2 10-6 10 4 10 3 10-1 10-1 10 0 10 0 10 1 10 0 10-2 10 1 10 1 10 0 10-1 10 1 10 0 10 0 10 0 10-1 10 0 10 0 10 1 10 0 10 0 10-1 10 0 10 0 10 0 10 0 10 0 10 1 10 0 10-1 10 0 10 0 10 0 10 0 10 0 10 1 10-2 10 1 10 0 10 1 10 0 10 0 10 0 10-1M0 48l10 0 10 0 10 0 10 0 10 0 10 1 10 0 10 0 10-1 10 0 10 0 10-1 10 1 10 3 10-4 10-5 10 5 10 3 10-1 10-1 10 0 10 0 10 0 10 0 10 0 10 1 10-1 10 0 10 0 10-1 10 0 10 1 10 1 10 0 10 0 10 0 10 0 10-1 10 0 10 0 10 0 10 1 10 0 10-1 10 0 10 0 10 0 10 0 10 1 10-1 10 0 10 0 10 0 10 1 10 0 10-1 10-1 10 1 10 0 10 0 10 1 10 0M0 61l10 0 10 1 10-1 10 0 10 0 10 0 10 1 10 0 10 0 10 0 10 0 10-1 10 1 10 3 10-2 10-5 10 3 10 3 10-2 10-1 10 0 10 1 10 1 10 0 10-1 10-1 10 0 10 1 10 0 10 0 10 0 10 1 10 0 10-1 10 0 10 0 10-1 10 0 10 0 10 0 10 0 10 0 10 1 10 0 10 0 10 1 10-1 10 0 10 1 10 0 10-1 10 0 10 0 10 1 10-1 10-1 10 0 10 1 10 0 10-1 10 0 10 1M0 75l10 0 10 1 10 0 10-1 10 0 10 0 10 0 10 1 10-1 10 1 10-1 10-1 10 3 10 3 10-4 10-6 10 4 10 3 10-1 10 0 10 1 10 0 10 0 10 0 10-1 10 0 10 0 10 0 10-1 10 1 10 0 10 0 10 0 10 0 10 0 10-1 10 0 10 1 10 0 10 0 10 0 10 0 10 0 10-1 10 1 10 1 10-1 10 0 10 0 10 0 10 0 10 0 10 0 10 0 10-1 10 0 10 0 10 1 10-1 10 0 10 0 10 0M0 90l10 0 10-1 10 0 10 1 10 0 10-1 10 0 10 1 10 0 10-1 10 0 10-1 10 1 10 4 10-4 10-6 10 5 10 4 10-2 10-1 10 0 10 0 10 0 10 0 10 1 10 0 10 0 10-1 10 0 10 1 10-1 10 0 10 0 10 0 10 1 10 0 10 0 10 0 10 0 10 0 10 0 10-1 10 0 10 0 10 0 10 0 10-1 10 1 10 0 10 0 10 0 10 0 10 0 10 0 10-1 10 1 10 1 10 0 10 0 10-1 10 0 10 0M0 103l10 0 10 0 10-1 10 1 10 0 10 0 10 0 10 0 10 0 10 0 10 0 10-1 10 2 10 3 10-4 10-6 10 4 10 3 10-2 10 0 10 1 10 1 10 0 10 0 10-1 10 0 10 0 10 1 10 0 10 0 10-1 10 0 10 1 10 0 10 0 10 0 10-1 10-1 10 1 10 0 10 0 10 0 10 0 10 0 10 1 10-1 10-1 10 0 10 0 10 0 10 1 10 0 10 0 10 0 10 0 10 0 10 0 10 0 10 0 10 0 10 0 10-1M0 116l10 1 10 0 10 0 10-1 10 0 10 0 10 1 10 0 10-1 10 0 10 0 10 0 10 1 10 3 10-4 10-5 10 5 10 2 10-2 10 0 10 1 10 1 10 0 10 0 10-1 10 0 10 0 10 0 10 0 10 0 10-1 10 1 10 0 10-1 10 0 10 0 10 0 10 1 10 0 10 0 10-1 10 0 10 1 10 0 10 1 10 0 10-2 10 0 10 1 10 0 10 0 10 0 10-1 10 0 10 0 10 1 10 0 10 0 10 0 10 0 10 0 10-1M0 131l10 0 10-1 10 1 10 0 10 0 10 0 10-1 10 0 10 0 10 1 10-1 10-1 10 2 10 4 10-3 10-7 10 4 10 3 10-2 10 0 10 1 10 0 10-1 10 0 10 0 10 1 10 0 10 0 10 0 10 1 10-1 10 0 10 0 10 1 10-1 10-1 10-1 10 1 10 1 10-1 10 0 10 1 10 0 10 0 10-1 10 1 10-1 10 0 10 0 10-1 10 1 10 0 10 0 10 0 10 0 10 0 10 0 10 0 10 0 10 0 10 1 10-1M0 144l10 0 10 0 10 0 10 0 10 0 10 0 10 0 10 0 10 0 10 0 10 0 10 0 10 1 10 4 10-4 10-6 10 5 10 3 10-1 10-2 10 0 10 0 10 0 10 0 10 0 10 0 10 0 10 0 10 0 10 0 10 0 10 1 10 0 10 0 10-1 10 0 10 0 10 1 10-1 10 0 10 0 10 0 10 0 10 0 10 0 10 0 10 0 10 0 10 0 10 0 10 0 10 0 10 0 10 0 10-1 10 0 10 0 10 1 10 0 10 0 10 1 10 0M0 157l10 0 10 1 10-1 10 0 10 1 10 0 10 0 10 1 10-1 10 0 10-1 10 0 10 1 10 4 10-4 10-7 10 5 10 4 10-1 10 0 10 0 10 0 10 0 10 0 10-1 10 0 10 0 10 1 10 0 10 0 10 0 10 0 10 0 10 0 10 0 10 0 10 0 10 0 10-1 10-1 10 0 10 1 10 1 10-1 10-1 10 0 10 1 10 0 10 0 10-1 10 1 10 0 10 0 10 0 10-1 10 1 10 0 10 0 10 0 10-1 10 0 10 0M0 171l10 0 10 1 10 0 10 0 10 0 10 1 10 0 10 0 10-1 10 0 10 0 10 0 10 2 10 4 10-5 10-7 10 5 10 3 10-1 10-1 10 0 10 0 10 1 10 0 10-2 10 1 10 0 10 0 10 0 10 0 10 0 10 0 10 0 10-1 10 0 10 1 10 0 10 0 10 0 10 0 10-1 10 0 10 0 10-1 10 1 10 1 10-1 10-1 10 1 10 0 10 1 10 0 10 0 10 1 10-1 10-1 10 0 10 0 10 0 10 1 10 0 10 0M0 186l10-1 10 0 10-1 10 1 10 0 10 0 10 1 10 0 10 0 10 0 10 0 10 0 10 1 10 4 10-4 10-6 10 3 10 4 10-2 10 0 10 1 10 0 10 0 10-1 10-1 10 1 10 0 10-1 10 0 10 0 10 1 10 0 10 0 10 0 10 0 10 0 10 0 10 1 10 0 10-1 10 0 10 0 10 0 10-1 10 0 10 1 10-1 10-1 10 1 10-1 10 1 10 0 10 0 10 1 10 0 10 0 10-1 10 1 10-1 10 0 10 1 10-1M0 199l10 0 10 0 10 0 10 0 10 0 10 0 10 0 10 1 10 0 10-1 10 0 10 0 10 1 10 5 10-4 10-7 10 5 10 3 10-1 10-1 10 1 10 0 10-1 10 0 10 0 10 1 10-1 10 0 10-1 10 0 10 0 10 1 10 1 10 0 10-1 10 0 10 0 10 0 10-1 10 0 10 0 10 1 10-1 10 0 10 0 10 0 10-1 10 0 10 1 10 0 10 0 10 0 10 0 10 0 10 0 10-1 10 1 10 0 10-1 10 1 10 0 10 0M0 212l10 0 10 0 10 0 10 0 10 1 10 0 10-1 10 0 10 1 10 0 10 0 10 0 10 2 10 4 10-4 10-7 10 6 10 5 10-2 10-1 10 0 10-1 10-1 10 0 10-1 10 1 10-1 10 0 10 1 10-1 10 0 10 1 10 0 10-1 10 0 10 1 10 0 10 0 10-1 10 0 10 0 10 1 10 0 10-2 10 0 10 1 10 0 10 0 10 1 10 0 10 0 10 0 10-1 10 0 10 0 10 0 10 0 10-1 10 0 10 0 10 0 10 0M0 226l10 0 10 0 10 0 10-1 10 1 10 1 10 0 10 0 10 0 10 0 10 0 10 0 10 2 10 5 10-4 10-7 10 6 10 4 10-3 10-1 10 0 10 0 10 0 10-1 10 0 10 0 10 0 10-1 10 0 10 1 10 0 10 0 10 0 10 0 10-1 10 0 10 0 10 1 10 0 10-1 10-1 10 1 10 0 10 1 10 0 10-1 10-1 10 1 10 0 10 0 10 0 10 0 10 0 10 1 10-1 10 0 10 0 10 0 10-1 10 0 10 0 10 0M0 240l10 0 10 0 10-1 10 1 10 0 10 0 10 0 10 0 10 0 10 0 10 0 10 1 10 3 10 5 10-4 10-7 10 6 10 3 10-2 10-1 10 0 10 0 10-1 10-1 10-1 10 1 10 0 10 0 10-1 10 1 10-1 10 1 10 0 10-1 10-1 10 0 10 0 10 1 10 0 10 0 10 0 10 0 10 0 10 0 10 0 10 1 10-1 10-1 10 0 10 0 10 0 10 1 10-1 10 0 10-1 10 1 10 0 10 1 10-2 10 0 10 1 10 0M0 253l10 1 10 0 10 0 10-1 10 1 10 0 10 0 10 0 10 0 10 1 10 1 10 0 10 3 10 4 10-4 10-7 10 7 10 4 10-2 10-2 10 0 10-1 10-1 10-1 10-1 10 1 10 0 10-1 10-1 10 1 10 0 10 1 10 0 10-1 10 0 10 0 10 0 10 0 10 0 10 0 10 0 10 0 10 0 10-1 10 1 10 0 10-2 10 1 10 1 10-1 10 0 10 0 10 0 10 0 10-1 10 0 10 1 10 1 10-1 10-1 10 1 10-1M0 267l10 0 10 0 10 0 10 0 10 0 10 1 10 0 10 0 10 0 10 0 10 1 10 1 10 3 10 5 10-3 10-8 10 5 10 5 10-2 10-1 10-1 10-1 10-1 10-1 10 0 10 0 10 0 10 0 10-1 10 0 10-1 10 1 10 0 10 0 10-1 10 1 10 0 10 1 10 0 10-1 10 0 10 0 10-1 10-1 10 1 10 1 10-1 10 0 10 0 10 0 10 0 10 0 10 0 10 0 10 0 10 1 10-1 10 0 10-1 10 0 10 0 10 0M0 281l10 0 10 1 10 0 10 0 10 0 10 0 10 0 10 0 10-1 10 1 10 1 10 1 10 3 10 4 10-3 10-6 10 5 10 4 10-2 10-2 10 0 10-1 10 0 10-2 10-1 10 0 10 0 10 1 10-1 10 1 10-1 10 0 10 0 10 0 10 0 10 1 10-1 10 1 10 0 10-1 10 0 10 0 10-1 10 0 10 0 10 1 10-1 10 0 10 1 10-1 10 0 10 0 10 0 10 0 10-1 10 0 10 0 10 0 10 0 10 0 10 0 10-1M0 295l10 0 10 0 10-1 10 0 10 1 10 1 10-1 10 1 10-1 10 0 10 1 10 1 10 3 10 5 10-3 10-7 10 6 10 5 10-3 10-1 10 0 10-1 10-1 10-1 10-1 10 0 10-1 10 0 10 1 10 0 10-1 10 0 10 0 10 0 10 0 10 0 10 0 10 0 10-1 10-1 10 1 10 0 10 0 10 0 10 0 10 0 10-1 10 0 10 1 10 0 10 0 10 0 10 0 10 1 10-2 10-1 10 0 10 1 10 0 10 0 10 0 10 0M0 308l10 0 10 1 10 0 10-1 10 0 10 1 10 1 10 0 10-1 10 0 10 1 10 1 10 3 10 6 10-3 10-6 10 5 10 4 10-2 10-2 10 0 10-1 10-1 10 0 10-1 10 0 10-1 10 0 10-1 10 0 10 0 10 2 10-1 10-1 10-1 10 1 10 0 10 1 10 0 10-2 10 0 10 1 10-1 10 0 10 0 10 0 10-1 10 0 10 1 10 0 10 0 10 0 10-1 10 2 10-1 10 0 10-1 10 0 10 0 10 0 10 0 10 0M0 323l10-1 10 0 10 0 10 0 10 1 10 1 10-1 10 0 10-2 10 1 10 1 10 1 10 3 10 6 10-3 10-7 10 5 10 4 10-2 10-1 10 0 10-1 10 0 10-1 10-1 10 0 10 0 10 0 10 0 10 0 10-1 10 1 10 0 10 0 10 0 10 0 10-1 10 1 10-1 10-1 10 0 10 0 10 0 10 0 10 0 10 1 10-2 10 0 10 0 10 0 10 0 10 1 10-1 10 0 10-1 10 0 10 1 10 0 10 0 10 0 10 0 10 0M0 337l10-1 10 1 10-1 10 0 10 0 10 1 10 0 10 0 10 0 10 0 10 0 10 1 10 4 10 5 10-3 10-7 10 5 10 4 10-2 10-1 10 0 10-1 10 0 10-1 10-1 10 0 10 0 10 0 10 0 10-1 10 0 10 2 10 0 10-1 10-1 10 1 10-1 10 0 10 0 10-1 10 0 10 0 10-1 10 0 10 1 10 0 10-2 10 0 10 2 10-1 10 0 10-1 10 1 10 0 10 0 10 0 10-1 10 0 10 0 10 0 10 0 10 0M0 350l10 0 10 0 10 0 10 0 10-1 10 1 10 0 10 0 10 0 10 2 10-1 10 0 10 4 10 6 10-3 10-7 10 5 10 3 10-2 10-1 10 1 10 0 10 0 10-1 10-2 10 1 10 0 10-1 10 0 10 0 10-1 10 2 10 0 10-2 10 0 10 1 10-1 10 0 10 0 10 0 10-1 10 0 10-1 10 0 10 0 10 1 10-2 10 1 10 0 10 0 10 0 10 0 10-1 10 1 10-1 10 1 10-1 10 0 10-1 10 1 10 0 10 0M0 363l10 0 10 0 10 1 10 0 10 0 10 0 10 0 10 0 10 0 10 0 10 0 10 1 10 4 10 6 10-3 10-7 10 5 10 4 10-2 10-2 10 0 10 0 10 0 10 0 10-1 10 1 10 0 10-1 10-1 10 1 10 0 10 1 10-1 10-1 10-1 10 1 10-1 10 0 10 1 10-1 10 0 10 0 10 0 10-1 10-1 10 0 10-1 10 0 10 1 10 0 10 0 10-1 10-1 10 1 10-1 10 1 10-1 10 0 10 0 10 0 10 1 10 0M0 377l10 0 10 0 10 0 10 0 10 0 10 1 10 0 10 0 10-1 10 0 10 0 10 0 10 4 10 7 10-2 10-7 10 4 10 5 10-2 10-1 10 0 10-1 10 1 10-1 10-1 10 0 10 0 10 0 10-1 10 1 10-1 10 1 10 1 10-1 10-1 10 1 10-2 10 1 10 0 10-1 10 0 10 0 10-1 10 0 10 0 10 0 10-1 10-1 10 0 10-1 10 1 10 0 10 0 10 1 10-1 10 0 10-1 10 1 10-1 10 1 10 0 10-1M0 391l10 0 10 0 10-1 10 0 10 1 10 1 10-1 10 0 10 0 10 1 10 0 10 0 10 4 10 6 10-2 10-8 10 6 10 4 10-3 10 0 10 0 10 0 10 0 10 0 10-1 10 1 10 0 10-1 10-1 10 1 10-1 10 1 10-1 10 0 10 0 10 1 10-2 10 1 10 0 10-1 10-1 10 0 10-1 10-1 10 0 10 1 10-2 10 0 10 1 10-1 10 0 10 0 10-1 10 1 10-1 10 1 10-1 10 1 10 0 10-1 10 0 10 0M0 404l10 0 10 1 10 0 10 0 10 0 10 0 10 0 10 0 10-1 10 1 10 0 10 0 10 4 10 7 10-3 10-6 10 6 10 4 10-3 10-1 10 0 10 1 10 0 10 0 10-2 10 0 10 1 10 0 10-1 10 0 10-1 10 2 10 0 10-2 10 0 10 1 10-1 10 0 10 0 10-1 10-1 10-1 10 0 10 0 10 0 10 0 10-1 10-1 10 1 10-1 10 0 10 0 10-1 10 2 10-1 10 0 10-1 10 1 10-1 10 0 10 1 10-2M0 418l10 0 10 1 10-1 10 0 10 1 10 0 10 1 10 0 10-1 10 0 10 0 10 0 10 4 10 7 10-2 10-7 10 5 10 5 10-3 10-1 10 1 10 1 10-1 10 0 10-1 10 1 10-1 10 0 10-1 10 1 10-1 10 2 10-1 10-1 10-1 10 1 10 0 10 0 10-1 10 0 10-1 10-1 10 0 10-1 10 0 10 0 10-2 10 0 10 1 10-2 10 0 10 0 10 0 10 1 10-2 10 1 10 0 10 1 10-1 10 0 10 0 10-1M0 432l10-1 10 0 10 0 10 0 10 0 10 2 10 0 10 0 10-1 10 1 10 0 10 1 10 5 10 5 10-2 10-6 10 5 10 3 10-1 10 0 10 0 10 0 10 0 10 0 10-2 10 1 10 0 10 0 10 0 10 0 10-1 10 1 10 0 10-2 10 0 10 1 10-1 10 0 10 0 10-1 10-1 10-1 10 0 10-1 10-1 10 1 10-2 10-1 10 2 10 0 10 0 10-1 10 0 10 1 10-2 10 0 10-1 10 1 10-1 10 0 10 0 10 0M0 446l10-1 10 1 10 0 10-1 10 1 10 1 10 0 10 0 10-2 10 1 10 1 10 1 10 5 10 7 10-2 10-6 10 5 10 3 10-3 10 0 10 0 10 0 10 1 10 0 10-3 10 1 10 1 10 0 10-2 10 1 10-1 10 2 10-1 10-1 10 0 10 1 10-1 10 0 10 0 10-1 10-1 10-1 10-1 10 0 10-1 10 0 10-1 10 0 10 0 10-1 10 0 10 0 10-1 10 1 10-2 10 0 10 0 10 0 10-1 10 1 10 0 10-1M0 459l10 0 10 1 10 0 10 0 10 0 10 1 10-1 10 0 10-1 10 1 10 0 10 1 10 5 10 7 10-1 10-6 10 5 10 4 10-3 10-1 10 1 10 0 10 0 10 0 10-1 10 0 10 1 10-1 10-1 10 0 10 0 10 2 10-1 10-1 10-1 10 1 10-1 10 0 10-1 10-1 10-1 10-1 10 0 10-1 10 0 10 1 10-2 10-1 10 0 10-1 10 0 10 0 10-1 10 1 10-1 10 1 10 0 10 0 10-1 10 0 10 1 10-2M0 473l10 0 10 1 10-1 10 0 10 0 10 1 10 0 10-1 10 0 10 1 10 0 10 2 10 4 10 7 10-1 10-6 10 5 10 4 10-2 10 0 10 0 10 0 10 0 10 0 10-2 10 1 10 1 10-1 10-1 10 0 10-1 10 3 10 0 10-1 10-2 10 0 10-1 10 1 10-1 10-2 10 0 10-1 10-1 10-1 10 0 10 1 10-2 10 0 10 1 10-1 10 0 10-1 10-1 10 1 10-1 10-1 10-1 10 2 10-1 10 0 10 1 10-1M0 486l10 0 10 0 10 0 10 1 10 0 10 1 10 0 10 0 10-1 10 1 10 0 10 0 10 6 10 8 10-1 10-6 10 5 10 4 10-2 10-1 10 1 10-1 10 1 10 0 10-1 10 0 10 0 10 0 10-2 10 1 10-1 10 2 10 0 10-1 10-2 10 1 10-1 10 0 10 0 10-2 10-1 10-1 10 0 10-1 10-1 10 0 10-2 10 0 10 1 10-1 10-1 10 0 10 0 10 2 10-2 10 0 10-1 10 1 10-1 10 1 10 0 10-1M0 500l10-1 10 2 10-1 10 0 10 1 10 1 10-1 10 1 10-1 10 0 10 0 10 1 10 7 10 8 10-1 10-6 10 5 10 3 10-2 10-1 10 1 10 1 10 0 10-1 10-2 10 1 10 0 10 0 10-2 10 1 10-1 10 1 10 0 10 0 10-1 10 0 10-1 10 1 10-1 10-2 10-1 10 0 10-2 10-1 10-1 10 1 10-2 10 0 10 1 10-2 10 1 10-1 10-1 10 1 10-2 10 0 10 0 10 1 10-1 10 0 10 2 10-1M0 514l10 0 10 0 10-1 10 1 10 1 10 1 10 0 10-1 10-1 10 1 10-1 10 2 10 7 10 8 10 0 10-6 10 5 10 2 10-2 10 0 10 1 10 0 10 0 10 0 10-1 10 1 10-1 10 0 10-1 10 0 10-1 10 1 10-1 10 0 10-1 10 1 10-2 10 0 10-1 10-1 10-1 10 0 10-1 10-2 10 0 10 1 10-2 10-1 10 1 10-2 10-1 10 0 10 0 10 1 10-1 10-1 10 0 10 0 10 0 10 0 10 1 10-1M0 528l10 0 10 0 10 0 10 0 10 0 10 1 10 0 10 0 10-1 10 1 10 0 10 2 10 6 10 8 10-1 10-5 10 4 10 4 10-3 10 0 10 1 10 0 10 0 10 0 10-1 10 1 10-1 10 0 10-1 10 0 10-1 10 1 10 0 10-2 10-1 10 1 10-1 10 0 10 0 10-1 10-2 10 0 10-1 10-1 10-1 10 0 10-3 10 0 10 1 10-1 10 1 10 0 10-2 10 1 10-2 10 1 10-1 10 0 10-1 10 0 10 1 10-1M0 542l10-1 10 0 10 1 10 0 10 0 10 2 10-1 10 0 10-2 10 1 10 1 10 1 10 6 10 9 10 0 10-5 10 4 10 3 10-2 10-1 10 0 10 0 10 1 10 0 10-2 10 1 10 0 10 0 10-1 10 1 10 0 10 1 10-1 10-1 10-1 10 0 10-2 10 0 10-1 10-1 10 0 10 0 10-2 10-2 10-1 10 1 10-2 10-1 10 1 10-1 10-1 10 0 10 0 10 0 10-1 10 1 10-1 10 0 10-1 10 0 10 1 10 0M0 555l10-1 10 1 10 0 10 0 10 1 10 1 10-1 10 1 10-1 10 0 10 0 10 3 10 6 10 8 10-1 10-5 10 5 10 4 10-2 10-1 10 0 10 0 10 0 10 1 10-2 10 1 10 0 10-1 10-1 10 0 10 0 10 2 10-1 10-1 10-2 10 0 10-1 10 0 10-1 10-1 10-1 10 0 10-1 10-2 10 0 10 1 10-2 10-1 10 0 10-1 10 1 10-1 10-2 10 1 10-1 10 0 10 0 10 1 10-1 10 0 10 1 10-2M0 570l10-1 10 0 10-1 10 0 10 1 10 1 10-1 10 1 10 0 10 1 10 0 10 2 10 6 10 8 10-1 10-4 10 4 10 3 10-2 10 0 10 0 10 0 10 0 10 0 10-1 10 1 10 0 10-1 10-1 10 0 10-1 10 1 10 0 10-1 10-1 10 1 10-1 10-1 10-1 10-1 10-1 10 0 10-1 10-2 10 0 10 0 10-2 10-2 10 1 10 0 10 0 10-1 10-1 10 1 10-2 10 1 10 0 10 0 10-1 10 0 10 0 10-1M0 583l10 0 10 1 10-1 10 0 10 0 10 1 10 0 10 0 10-1 10 1 10 0 10 2 10 7 10 8 10 0 10-6 10 5 10 3 10-2 10 0 10 1 10 0 10 0 10-1 10-2 10 2 10 0 10 0 10-1 10-1 10-1 10 1 10 0 10-1 10-1 10 0 10-1 10 0 10-1 10-1 10-2 10 0 10 0 10-1 10-1 10-1 10-2 10-1 10 1 10-1 10 1 10-1 10-1 10 1 10-2 10 0 10 0 10 1 10-2 10 0 10 1 10 0M0 597l10 0 10 1 10-1 10-1 10 1 10 0 10 0 10 0 10 0 10 1 10 0 10 1 10 6 10 9 10 0 10-3 10 4 10 3 10-3 10 0 10 0 10 0 10 0 10 0 10-2 10 1 10 1 10 0 10-2 10 0 10-2 10 1 10 0 10-1 10-1 10 0 10-1 10 0 10 0 10-1 10 0 10-1 10-2 10-1 10-1 10 0 10-2 10-1 10 2 10-2 10 0 10 0 10-1 10 1 10-2 10 0 10 0 10 1 10-1 10-1 10 1 10-1M0 610l10 0 10 1 10-1 10 0 10 0 10 1 10 0 10 0 10-1 10 1 10 1 10 1 10 6 10 8 10 1 10-5 10 4 10 3 10-1 10-1 10 1 10 0 10 0 10 0 10-2 10 0 10 0 10 1 10-1 10 0 10-1 10 2 10-1 10-1 10-1 10 0 10-2 10 0 10-1 10-1 10 0 10-1 10-1 10-2 10-1 10 1 10-2 10-1 10 1 10-1 10 0 10 0 10-1 10 1 10-1 10 0 10-1 10 0 10-1 10 0 10 1 10-1M0 625l10-1 10 1 10-1 10 0 10 0 10 1 10 0 10 0 10-1 10 0 10 0 10 2 10 6 10 9 10 0 10-4 10 4 10 3 10-2 10-1 10 0 10 1 10 0 10 0 10-1 10 1 10-1 10 0 10-1 10 0 10 0 10 2 10-1 10-2 10-1 10 0 10-1 10 1 10-1 10-1 10-1 10-1 10-1 10-1 10-1 10 0 10-2 10 0 10 0 10-1 10 0 10 0 10-1 10 1 10-2 10 0 10 0 10 0 10-2 10 0 10 0 10 0M0 637l10 0 10 0 10 0 10 0 10 0 10 1 10 0 10 0 10 0 10 1 10-1 10 2 10 7 10 8 10 0 10-4 10 4 10 3 10-3 10-1 10 1 10 0 10 1 10 0 10-2 10 1 10 0 10-1 10-1 10 1 10-1 10 1 10 0 10-1 10-1 10 0 10-1 10-1 10-1 10-1 10 0 10-1 10-1 10-1 10-1 10 0 10-2 10-1 10 0 10 0 10 0 10 0 10 0 10 1 10-3 10 0 10 0 10 0 10 0 10 0 10 0 10-1M0 651l10 1 10 0 10 0 10-1 10 1 10 1 10 0 10 0 10-1 10 0 10 0 10 2 10 6 10 8 10 1 10-4 10 3 10 2 10-2 10 0 10 1 10 1 10 0 10-1 10-2 10 1 10 0 10 0 10-1 10 0 10 0 10 1 10 0 10-2 10-1 10 0 10-1 10 0 10-1 10-1 10 0 10-1 10-2 10-1 10-1 10 1 10-2 10-1 10 1 10-1 10-1 10-1 10 0 10 2 10-1 10-1 10 0 10 0 10-1 10 0 10 0 10 0M0 665l10 0 10 0 10 0 10 0 10 0 10 0 10 0 10 2 10-1 10 0 10-1 10 2 10 7 10 8 10 0 10-4 10 4 10 2 10-2 10 0 10 0 10 0 10 0 10 1 10-2 10 0 10 0 10 0 10-1 10 1 10-1 10 1 10-1 10-1 10-2 10 1 10-1 10 1 10-1 10-1 10 0 10-1 10-1 10-2 10-1 10 1 10-2 10-1 10 0 10-1 10 1 10 0 10-1 10 0 10-2 10 0 10 1 10 0 10-1 10 0 10 1 10-1M0 680l10 0 10 0 10 0 10-1 10 0 10 1 10 0 10-1 10 0 10 1 10 1 10 2 10 2 10 0 10 0 10 0 10 0 10 0 10 0 10 0 10 0 10 0 10 0 10 0 10 0 10 0 10 0 10 0 10 0 10 0 10 0 10 0 10 0 10 0 10 0 10 0 10 0 10 0 10 0 10 0 10 0 10 0 10 0 10 0 10 0 10 0 10-1 10-1 10 0 10-1 10-1 10 0 10 0 10 1 10-2 10 1 10-1 10 0 10-1 10 0 10 1 10 0" stroke="#000" stroke-width="2.5" fill="none" stroke-linejoin="round"/>
<path d="M574.2 59.6V402.7" stroke="#000" stroke-width="2.6" stroke-dasharray="7 4.5"/>
<rect x="512.2" y="59.6" width="309.8" height="343.1" fill="none" stroke="#555" stroke-width=".8"/>
<path transform="translate(120.7 586) scale(.5)" d="M0 8l8-2 8 2 8-2 8 1 8 1 8-2 8 0 8 3 8-2 8 0 8-2 8 0 8 0 8 1 8 1 8 1 8 2 8 4 8 5 9-2 8-4 8-2 8-3 8 1 8-3 8-1 8 1 8 1 8-3 8 3 8 1 8-3 8 3 8 0 8-1 8-1 8 0 8 1 8 0 8 1 8-3 8 1 8 1 8 0 8 0 8-1 8 1 8-1 8 1 8-2 8 1 8 0 8 0 8 1 8 1 8-1 8-2 8 2 8-3 9 2 8 2 8-2 8 1 8 0 8 0 8-1 8 0 8 0 8 1 8-1 8 0 8 1 8 1 8-1 8-2 8 3 8-1 8-1 8 0M0 20l8-1 8 1 8 0 8 1 8 0 8-2 8 0 8 2 8-1 8 1 8-3 8 2 8 0 8 0 8 1 8-1 8 4 8 4 8 2 9 1 8-4 8-2 8-4 8 0 8-2 8-2 8 4 8-2 8 0 8 1 8 0 8-1 8 2 8-1 8-2 8-1 8 3 8 0 8 0 8 1 8-2 8-1 8 0 8-1 8 0 8 1 8 1 8-2 8 2 8-2 8 2 8 1 8-1 8 0 8-1 8 3 8-4 8 3 8-3 9 3 8-1 8 0 8 1 8-2 8 2 8-3 8 1 8 0 8 3 8-1 8 1 8-1 8 1 8-2 8-1 8 0 8 2 8-2 8 3M0 34l8-1 8-1 8 2 8-3 8 1 8-1 8 1 8 0 8 1 8 1 8-3 8 1 8-2 8 2 8 2 8-3 8 7 8 5 8 2 9-3 8-1 8-3 8-5 8 0 8 0 8-2 8 1 8-1 8-1 8 3 8 0 8-2 8 3 8-1 8-2 8 0 8 2 8 1 8 0 8-2 8-1 8 0 8 1 8-2 8 1 8 0 8 2 8-2 8 2 8-3 8 2 8 0 8 0 8-1 8 0 8 2 8-2 8 2 8-2 9 2 8-1 8-2 8 3 8 0 8 0 8-2 8-2 8 3 8 1 8-2 8 2 8 0 8 0 8 0 8-2 8 1 8 2 8-4 8 2M0 46l8-2 8 3 8 0 8-2 8 0 8-1 8 2 8-1 8 0 8 1 8-2 8 0 8-1 8 2 8 1 8-3 8 6 8 7 8 3 9-2 8-6 8 1 8-4 8 0 8-3 8-3 8 5 8-4 8 1 8 3 8-1 8-3 8 2 8 1 8-2 8 0 8 2 8-2 8 2 8-1 8-2 8 1 8-1 8-1 8 2 8 1 8 1 8-4 8 3 8-1 8 0 8 2 8 0 8-2 8-1 8 3 8-4 8 4 8-3 9 4 8-1 8-2 8 1 8-1 8 0 8 0 8-1 8 0 8 2 8-2 8 3 8-1 8 2 8-2 8-2 8 2 8-1 8-1 8 3M0 57l8 2 8-1 8 0 8 1 8-1 8-1 8-1 8 2 8 1 8 0 8-3 8 0 8 2 8 0 8 1 8-3 8 7 8 5 8 3 9-1 8-4 8-2 8-5 8-1 8 0 8-2 8 3 8-3 8 1 8 2 8 0 8-2 8 3 8-3 8 0 8-2 8 3 8-1 8 3 8-1 8-1 8-2 8 0 8 1 8-1 8 1 8 1 8-3 8 2 8-1 8 1 8 1 8 1 8-3 8 1 8 1 8-3 8 3 8-3 9 3 8-1 8 0 8 1 8 0 8 0 8-2 8 0 8 2 8 0 8-1 8 1 8 1 8 1 8-4 8 0 8 0 8 2 8-3 8 3M0 72l8-1 8 0 8 1 8-2 8 2 8-3 8 0 8 2 8 0 8 2 8-4 8 1 8 1 8-2 8 1 8 1 8 5 8 5 8 5 9-1 8-6 8-2 8-6 8 0 8-1 8-2 8 4 8-4 8 0 8 2 8 1 8-3 8 3 8-1 8 0 8-2 8 2 8 2 8-1 8 1 8-3 8 1 8-2 8 1 8-1 8 2 8 2 8-3 8 3 8-3 8-1 8 3 8-1 8 0 8 0 8 1 8-2 8 4 8-5 9 3 8 1 8-4 8 2 8-1 8 0 8 0 8 1 8-1 8 2 8-3 8 2 8 1 8 1 8-2 8-1 8 0 8 3 8-4 8 2M0 83l8 1 8-1 8 1 8-1 8 2 8-3 8 2 8 1 8-1 8 1 8-3 8 2 8-1 8 2 8-1 8-1 8 5 8 9 8 3 9-3 8-5 8-2 8-5 8 0 8-4 8-1 8 5 8-4 8-1 8 3 8 0 8-1 8 4 8-2 8 0 8-3 8 3 8-1 8 1 8-1 8 0 8 0 8-1 8-1 8 1 8-1 8 3 8-3 8 4 8-2 8-2 8 3 8 0 8-2 8 1 8 1 8-2 8 4 8-5 9 4 8 0 8-5 8 5 8-3 8 0 8 1 8-3 8 2 8 3 8-2 8 1 8 0 8 0 8-2 8 1 8 0 8 2 8-4 8 3M0 96l8 2 8 0 8 1 8-2 8 0 8-4 8 4 8 1 8-3 8 1 8-3 8 3 8 0 8-1 8 2 8-2 8 8 8 8 8 4 9-2 8-7 8-3 8-5 8 0 8-4 8-1 8 3 8-4 8 1 8 4 8 0 8-2 8 2 8 0 8 0 8-1 8 2 8-1 8 1 8 0 8-3 8 1 8-1 8 0 8-1 8 0 8 1 8-1 8 3 8-1 8 0 8 1 8 0 8-3 8 2 8-1 8 0 8 3 8-3 9 3 8 0 8-3 8 3 8-2 8-1 8-1 8 1 8-1 8 5 8-4 8 2 8-1 8 1 8-3 8 2 8 1 8 1 8-3 8 2M0 108l8 2 8 0 8 1 8-2 8 2 8-5 8 2 8 2 8 0 8 1 8-5 8 3 8-1 8 0 8 0 8 1 8 8 8 9 8 4 9-3 8-6 8-2 8-7 8-2 8-3 8-1 8 4 8-5 8 0 8 3 8 2 8-2 8 1 8-1 8 2 8-2 8 3 8-1 8-1 8 1 8-1 8 0 8-2 8 1 8-1 8 2 8-1 8-1 8 3 8-2 8-1 8 2 8-1 8-1 8 1 8 2 8-4 8 5 8-4 9 4 8 0 8-4 8 4 8-2 8 0 8-1 8-2 8 0 8 3 8-2 8 2 8 1 8 1 8-2 8-2 8 1 8 2 8-3 8 2M0 122l8 0 8 1 8 0 8 1 8 1 8-7 8 4 8 2 8-2 8 0 8-2 8 1 8 0 8 2 8-1 8-1 8 9 8 10 8 5 9-3 8-8 8-2 8-7 8-1 8-6 8 0 8 3 8-2 8-2 8 4 8 0 8-1 8 5 8-3 8 0 8-1 8 1 8 0 8 2 8-2 8-1 8-1 8-1 8 0 8 0 8 1 8 2 8-4 8 3 8 1 8-2 8 3 8-3 8 0 8 3 8 0 8-4 8 3 8-3 9 4 8 0 8-4 8 5 8-3 8 1 8-4 8 0 8 3 8 2 8-2 8 2 8 2 8-2 8-1 8-1 8 2 8-1 8-2 8 2M0 136l8 1 8-2 8 1 8-1 8 1 8-5 8 3 8 1 8-1 8 2 8-5 8 3 8 0 8 2 8-2 8-1 8 11 8 11 8 4 9-3 8-8 8-1 8-8 8-4 8-4 8-1 8 3 8-2 8-1 8 5 8-1 8-2 8 5 8-2 8-1 8-2 8 5 8-2 8 1 8 0 8-3 8 2 8-3 8 1 8-2 8 2 8 2 8-4 8 4 8-1 8-2 8 4 8-2 8-1 8 1 8 2 8-5 8 5 8-5 9 4 8 0 8-4 8 4 8-2 8 2 8-2 8-1 8 1 8 4 8-3 8 3 8 1 8-2 8-3 8 2 8-2 8 2 8-2 8 2M0 147l8 2 8-1 8 1 8 0 8-1 8-4 8 3 8 2 8-2 8 2 8-5 8 2 8-1 8 1 8 3 8-3 8 11 8 12 8 6 9-4 8-7 8-4 8-10 8 0 8-6 8-2 8 5 8-5 8 1 8 3 8 0 8-2 8 5 8-2 8-1 8-2 8 6 8-2 8 2 8-2 8-2 8-1 8 1 8-1 8 0 8 0 8 4 8-6 8 4 8 0 8-2 8 2 8 0 8-1 8 2 8 1 8-6 8 7 8-5 9 2 8 2 8-5 8 4 8-3 8 3 8-4 8 2 8-1 8 3 8-3 8 3 8 2 8-2 8-3 8 1 8 0 8 2 8-3 8 4M0 160l8 0 8 1 8 2 8-2 8 1 8-4 8 1 8 3 8-1 8 1 8-3 8 1 8-1 8 1 8 1 8 0 8 9 8 12 8 7 9-3 8-7 8-6 8-9 8-1 8-5 8-5 8 6 8-6 8 0 8 6 8 1 8-3 8 3 8 1 8-1 8-2 8 5 8-3 8 2 8-1 8-3 8 0 8 1 8-1 8 0 8-1 8 3 8-4 8 6 8-2 8 0 8 2 8-3 8 0 8 0 8 1 8-2 8 4 8-6 9 5 8 2 8-5 8 3 8-3 8 3 8-5 8 1 8 0 8 7 8-6 8 3 8 0 8 1 8-2 8-1 8 0 8 2 8-2 8 2M0 174l8 1 8-1 8 2 8-2 8 0 8-5 8 5 8 1 8-2 8 3 8-5 8 1 8-2 8 4 8-1 8 0 8 12 8 13 8 6 9-3 8-8 8-5 8-12 8 0 8-8 8-2 8 3 8-4 8 1 8 6 8-1 8-1 8 3 8 0 8 0 8-3 8 4 8 0 8 0 8 2 8-5 8 1 8-1 8-1 8 1 8 2 8 0 8-4 8 6 8-4 8 0 8 3 8 0 8-4 8 3 8 1 8-3 8 3 8-3 9 2 8 3 8-6 8 4 8-1 8 0 8-4 8 2 8 0 8 5 8-5 8 4 8-1 8 1 8-5 8 3 8 0 8 2 8-6 8 5M0 186l8 0 8 0 8 3 8-1 8-1 8-4 8 3 8 2 8-1 8 0 8-5 8 2 8 0 8 2 8 1 8-1 8 12 8 14 8 8 9-4 8-9 8-5 8-12 8-2 8-8 8-2 8 5 8-7 8 0 8 6 8 3 8-4 8 6 8-2 8 2 8-4 8 5 8-3 8 4 8-1 8-4 8 1 8-1 8 0 8 0 8 0 8 1 8-2 8 5 8-5 8 0 8 4 8-3 8 0 8 0 8 2 8-5 8 7 8-6 9 5 8 0 8-6 8 7 8-2 8 0 8-4 8 0 8 1 8 5 8-6 8 5 8 2 8 0 8-4 8 0 8 1 8 2 8-4 8 4M0 199l8 1 8 0 8 2 8-2 8 1 8-7 8 3 8 3 8 0 8 1 8-6 8 3 8-1 8 1 8 0 8 1 8 13 8 14 8 8 9-4 8-11 8-4 8-13 8-3 8-5 8-2 8 3 8-6 8 2 8 4 8 1 8-3 8 6 8-1 8 2 8-4 8 6 8-3 8 3 8-1 8-4 8-1 8 0 8 0 8 0 8 0 8 2 8-2 8 2 8-1 8-1 8 5 8-3 8-2 8 3 8 0 8-4 8 7 8-6 9 3 8 2 8-7 8 6 8-4 8 3 8-3 8 0 8-1 8 6 8-5 8 4 8 0 8 0 8-3 8-1 8 3 8 0 8-4 8 4M0 211l8 3 8-2 8 1 8-1 8 3 8-8 8 3 8 3 8-1 8 1 8-6 8 5 8-3 8 3 8 0 8 0 8 12 8 17 8 8 9-4 8-10 8-6 8-13 8-3 8-5 8-5 8 4 8-5 8 0 8 6 8 1 8-3 8 7 8-1 8-1 8-3 8 6 8-2 8 1 8 0 8-3 8-1 8-1 8 1 8 0 8-1 8 2 8-2 8 3 8-1 8-2 8 5 8-3 8-1 8 2 8 1 8-3 8 6 8-7 9 5 8-1 8-4 8 4 8-2 8 0 8-1 8-1 8 2 8 5 8-5 8 2 8 3 8 0 8-6 8 2 8 1 8 1 8-5 8 4M0 224l8 3 8-2 8 1 8 0 8 0 8-5 8 2 8 3 8-3 8 4 8-6 8 2 8-1 8 2 8 1 8 0 8 15 8 15 8 8 9-3 8-13 8-3 8-16 8-2 8-7 8-3 8 2 8-5 8 3 8 6 8-1 8-1 8 4 8-2 8 2 8-1 8 3 8-2 8 2 8-1 8-1 8-1 8 0 8-1 8-1 8 1 8 1 8-3 8 4 8-2 8 1 8 3 8-4 8 0 8 3 8 1 8-5 8 7 8-6 9 4 8 0 8-5 8 4 8-4 8 3 8-4 8-1 8 1 8 6 8-5 8 6 8 0 8 1 8-5 8 0 8 0 8 2 8-5 8 6M0 238l8 1 8-1 8 1 8-2 8 3 8-8 8 3 8 4 8-2 8 1 8-4 8 2 8-2 8 3 8 0 8 1 8 13 8 19 8 8 9-4 8-12 8-5 8-15 8-2 8-9 8-4 8 5 8-6 8-1 8 9 8 0 8-2 8 6 8-1 8 0 8-3 8 6 8-2 8 1 8 0 8-4 8 1 8-2 8-1 8 0 8 2 8 1 8-4 8 7 8-5 8 1 8 3 8-3 8-1 8 1 8 3 8-4 8 5 8-6 9 6 8 0 8-7 8 6 8-3 8 3 8-5 8 0 8 1 8 6 8-7 8 6 8 1 8-1 8-4 8 1 8 2 8 1 8-7 8 6M0 251l8-1 8 2 8 0 8-1 8 2 8-7 8 4 8 3 8-2 8 2 8-7 8 3 8-1 8 0 8 3 8-2 8 16 8 18 8 9 9-4 8-13 8-5 8-15 8-3 8-6 8-6 8 5 8-5 8-2 8 9 8 1 8-3 8 7 8-2 8-1 8-2 8 6 8-2 8 3 8-1 8-4 8-2 8 0 8 1 8-1 8 1 8 1 8-3 8 5 8-2 8-1 8 5 8-3 8-1 8 0 8 2 8-5 8 7 8-8 9 7 8-1 8-5 8 4 8-3 8 4 8-6 8 0 8 3 8 4 8-5 8 4 8 2 8-1 8-4 8-1 8 2 8 1 8-5 8 5M0 262l8 3 8 0 8 0 8-2 8 2 8-6 8 3 8 2 8-1 8 1 8-6 8 5 8-4 8 3 8 2 8-1 8 17 8 16 8 11 9-7 8-10 8-8 8-16 8-2 8-6 8-4 8 4 8-6 8-2 8 8 8 2 8-1 8 6 8-4 8 3 8-4 8 5 8-3 8 3 8 0 8-5 8 0 8 1 8-2 8-1 8 3 8 1 8-4 8 4 8-2 8 2 8 3 8-3 8-1 8 1 8 2 8-6 8 6 8-7 9 6 8 1 8-7 8 8 8-4 8 1 8-4 8 1 8 0 8 7 8-6 8 3 8 1 8 2 8-5 8-1 8 3 8 0 8-3 8 5M0 276l8-1 8 2 8 2 8-2 8 0 8-6 8 2 8 5 8-3 8 3 8-5 8 3 8-3 8 3 8-1 8 2 8 16 8 17 8 10 9-6 8-11 8-8 8-13 8-3 8-8 8-5 8 3 8-6 8 2 8 8 8 0 8-4 8 7 8-2 8 1 8-3 8 6 8-2 8 2 8-1 8-2 8-1 8-1 8 0 8-3 8 4 8 0 8-4 8 7 8-3 8 0 8 3 8-2 8-2 8 1 8 2 8-6 8 7 8-5 9 6 8-1 8-6 8 5 8-1 8 0 8-5 8 2 8 2 8 3 8-5 8 4 8 2 8 0 8-5 8 0 8 2 8 2 8-5 8 5M0 288l8 3 8-1 8 2 8-1 8 0 8-7 8 4 8 3 8-3 8 2 8-6 8 2 8 0 8 1 8 1 8-1 8 17 8 20 8 8 9-4 8-12 8-6 8-16 8-4 8-6 8-6 8 5 8-6 8-1 8 10 8 0 8-2 8 5 8-1 8 0 8-2 8 6 8-4 8 2 8 0 8-3 8 0 8-2 8 0 8 0 8 0 8 2 8-4 8 6 8-2 8 0 8 3 8-2 8 0 8-1 8 2 8-5 8 7 8-6 9 5 8-1 8-4 8 5 8-3 8 1 8-4 8 0 8 0 8 6 8-4 8 3 8 1 8 2 8-5 8 0 8 0 8 2 8-4 8 4M0 302l8 1 8-1 8 0 8 0 8 2 8-7 8 4 8 2 8-1 8 1 8-5 8 2 8-2 8 3 8 1 8 0 8 16 8 19 8 10 9-5 8-14 8-7 8-14 8-4 8-9 8-4 8 5 8-5 8 0 8 7 8 2 8-4 8 7 8-1 8 1 8-4 8 7 8-5 8 4 8 0 8-4 8-2 8 1 8-1 8 0 8 0 8 4 8-5 8 6 8-4 8 0 8 3 8-1 8-3 8 3 8 0 8-5 8 9 8-8 9 6 8 0 8-7 8 6 8-1 8-1 8-2 8 0 8 0 8 5 8-4 8 4 8 1 8-1 8-4 8 2 8 0 8 0 8-4 8 6M0 313l8 1 8 1 8 1 8-1 8 0 8-5 8 3 8 3 8-2 8 2 8-5 8 2 8-1 8 2 8 1 8-2 8 17 8 22 8 9 9-7 8-11 8-8 8-14 8-4 8-9 8-5 8 6 8-6 8 0 8 6 8 2 8-1 8 5 8-3 8 4 8-4 8 4 8-2 8 3 8-1 8-4 8 1 8-3 8 1 8-2 8 2 8 3 8-5 8 7 8-5 8 2 8 2 8-2 8-2 8 1 8 4 8-7 8 9 8-7 9 5 8-1 8-6 8 5 8-3 8 2 8-5 8 2 8 1 8 5 8-6 8 4 8 1 8 1 8-5 8 1 8 1 8 3 8-7 8 7M0 328l8 1 8-2 8 3 8-2 8 2 8-8 8 4 8 3 8-1 8 1 8-5 8 2 8-2 8 1 8 1 8 1 8 17 8 20 8 8 9-4 8-12 8-7 8-16 8-3 8-9 8-3 8 4 8-7 8 0 8 9 8 0 8-2 8 5 8-1 8 1 8-2 8 6 8-2 8 2 8-3 8-5 8 1 8 0 8-1 8-1 8 1 8 3 8-5 8 5 8-1 8-1 8 3 8-1 8-3 8 4 8 1 8-4 8 6 8-7 9 4 8 1 8-6 8 6 8-2 8 0 8-3 8 0 8-1 8 7 8-5 8 5 8-1 8 1 8-5 8 1 8 1 8 3 8-6 8 4M0 339l8 2 8-1 8 2 8-3 8 3 8-6 8 4 8 2 8-3 8 3 8-6 8 2 8-1 8 2 8 0 8 0 8 19 8 20 8 8 9-5 8-12 8-8 8-16 8-3 8-8 8-4 8 5 8-7 8 0 8 8 8 1 8-3 8 6 8 0 8-1 8-2 8 4 8-1 8 2 8-1 8-5 8 3 8-4 8 0 8 1 8 1 8 2 8-3 8 5 8-4 8 1 8 3 8-1 8-2 8 2 8 1 8-7 8 8 8-6 9 4 8 0 8-4 8 6 8-4 8 0 8-2 8 1 8 0 8 6 8-7 8 5 8 2 8-1 8-6 8 1 8 3 8 1 8-4 8 3M0 351l8 3 8-1 8 2 8-3 8 3 8-6 8 3 8 3 8-2 8 1 8-6 8 3 8-1 8 3 8 1 8-2 8 19 8 21 8 8 9-4 8-13 8-10 8-14 8-4 8-8 8-4 8 5 8-7 8 1 8 6 8 2 8-3 8 6 8-1 8 1 8-5 8 8 8-3 8 2 8 1 8-7 8 2 8-2 8-1 8 0 8 3 8 2 8-6 8 6 8-2 8-1 8 4 8-3 8 0 8 0 8 3 8-6 8 6 8-7 9 5 8 3 8-6 8 4 8-3 8 3 8-4 8-2 8 2 8 6 8-7 8 5 8 1 8 0 8-5 8 2 8 0 8 4 8-5 8 4M0 364l8 3 8-1 8 2 8-2 8 2 8-6 8 3 8 3 8-3 8 1 8-5 8 4 8-4 8 3 8 1 8 0 8 20 8 19 8 9 9-6 8-12 8-7 8-17 8-3 8-8 8-5 8 5 8-7 8 3 8 6 8-1 8-2 8 8 8-3 8 2 8-3 8 3 8 1 8 0 8-1 8-3 8 1 8-3 8 0 8 1 8 0 8 3 8-3 8 2 8 0 8 0 8 4 8-5 8-1 8 2 8 1 8-3 8 6 8-6 9 4 8 1 8-5 8 3 8-3 8 4 8-5 8 1 8 1 8 5 8-6 8 5 8 0 8 0 8-4 8 1 8 0 8 1 8-3 8 5M0 378l8 1 8 0 8 2 8-2 8 1 8-5 8 3 8 3 8-2 8 1 8-7 8 4 8-2 8 2 8 3 8-2 8 20 8 21 8 8 9-6 8-13 8-7 8-16 8-5 8-7 8-5 8 5 8-5 8 0 8 6 8 2 8-4 8 6 8-2 8 1 8-3 8 7 8-2 8 1 8 0 8-3 8-1 8-2 8 0 8 1 8 2 8 0 8-3 8 5 8-4 8 1 8 3 8-1 8-2 8 1 8 0 8-2 8 7 8-8 9 4 8 2 8-7 8 6 8-3 8 1 8-4 8 0 8 2 8 5 8-6 8 4 8 1 8 0 8-2 8-2 8 3 8 1 8-6 8 6M0 391l8-1 8 2 8-1 8 0 8 2 8-5 8 1 8 4 8-1 8 0 8-6 8 3 8 0 8 1 8 2 8 1 8 17 8 21 8 10 9-6 8-13 8-8 8-15 8-5 8-8 8-3 8 3 8-7 8 2 8 6 8 0 8-1 8 6 8-4 8 2 8-1 8 4 8-2 8 2 8 0 8-5 8 1 8-1 8-1 8 0 8 1 8 3 8-5 8 5 8-3 8 0 8 4 8-4 8-1 8 3 8 2 8-4 8 6 8-7 9 6 8-2 8-6 8 6 8-1 8-1 8-3 8 0 8 3 8 3 8-5 8 5 8 1 8-1 8-3 8 0 8 1 8 2 8-4 8 4M0 404l8 0 8-1 8 2 8-2 8 3 8-7 8 4 8 3 8-2 8 2 8-6 8 3 8-2 8 1 8 3 8-1 8 19 8 21 8 11 9-6 8-13 8-8 8-17 8-4 8-8 8-5 8 6 8-5 8-2 8 6 8 2 8-3 8 6 8-2 8 1 8-2 8 5 8-1 8 0 8 0 8-3 8 0 8-2 8-1 8 0 8 2 8 4 8-5 8 5 8-3 8-1 8 4 8-2 8-1 8 0 8 1 8-3 8 5 8-6 9 5 8 1 8-5 8 6 8-4 8 1 8-3 8-1 8 2 8 6 8-7 8 3 8 1 8 0 8-2 8-1 8 3 8 1 8-6 8 5M0 415l8 1 8 0 8 2 8-2 8 2 8-6 8 4 8 1 8-2 8 4 8-7 8 3 8-2 8 4 8 1 8-1 8 18 8 23 8 10 9-5 8-15 8-9 8-16 8-4 8-6 8-5 8 4 8-6 8 2 8 5 8 1 8-1 8 4 8-3 8 3 8-3 8 3 8-1 8 3 8-1 8-4 8-1 8 0 8 0 8 1 8 1 8 2 8-5 8 3 8-1 8 0 8 2 8-2 8 1 8 1 8 0 8-5 8 9 8-9 9 5 8 1 8-6 8 5 8-2 8 3 8-6 8 1 8 0 8 7 8-4 8 3 8 0 8-1 8-2 8-2 8 3 8 1 8-3 8 2M0 430l8 0 8-1 8 2 8-2 8 1 8-5 8 3 8 3 8-2 8 2 8-6 8 3 8-2 8 3 8-1 8 2 8 18 8 23 8 10 9-6 8-14 8-7 8-18 8-4 8-7 8-2 8 3 8-4 8-1 8 5 8 1 8-3 8 7 8-2 8 1 8-3 8 4 8-1 8 0 8 1 8-5 8 2 8-2 8-1 8 2 8 0 8 1 8-2 8 4 8-3 8 1 8 2 8-3 8 0 8 0 8 3 8-5 8 5 8-6 9 5 8 1 8-4 8 5 8-3 8 1 8-3 8-1 8 1 8 6 8-6 8 4 8 1 8-1 8-3 8 1 8 1 8 1 8-3 8 1M0 443l8 0 8 1 8-1 8 0 8 1 8-7 8 3 8 4 8-1 8 0 8-4 8 2 8-2 8 3 8 0 8 2 8 18 8 22 8 11 9-7 8-14 8-10 8-14 8-6 8-6 8-1 8 1 8-3 8-1 8 5 8 0 8-2 8 7 8-3 8 0 8-3 8 6 8-2 8 1 8 0 8-3 8 0 8-1 8-1 8 1 8-1 8 5 8-4 8 3 8-2 8 0 8 3 8-2 8-1 8 1 8 1 8-3 8 4 8-5 9 4 8 0 8-3 8 3 8-1 8-1 8-1 8-1 8 2 8 2 8-3 8 4 8 0 8-1 8-2 8 1 8 1 8-1 8-3 8 6M0 454l8 0 8 2 8 1 8-2 8 2 8-5 8 2 8 1 8 0 8 2 8-5 8 2 8-2 8 3 8 1 8 1 8 19 8 24 8 8 9-6 8-14 8-9 8-17 8-4 8-6 8-3 8 4 8-4 8 1 8 3 8 2 8-4 8 4 8-1 8 2 8-4 8 5 8-1 8 0 8 0 8-2 8-2 8-1 8 2 8-2 8 1 8 3 8-4 8 3 8-2 8 1 8 3 8-2 8-3 8 4 8-1 8-3 8 6 8-5 9 4 8-1 8-3 8 4 8-3 8 2 8-4 8 0 8 0 8 6 8-6 8 3 8 2 8-1 8-1 8-2 8 2 8 1 8-4 8 4M0 466l8 2 8 1 8-1 8-1 8 1 8-5 8 2 8 5 8-1 8-2 8-2 8 2 8-3 8 4 8-1 8 3 8 19 8 23 8 7 9-5 8-12 8-11 8-14 8-5 8-8 8-1 8 4 8-5 8 0 8 4 8 2 8-4 8 3 8-1 8 1 8-2 8 3 8 1 8 0 8-1 8-2 8-2 8 2 8 0 8-3 8 2 8 1 8-1 8 4 8-3 8 1 8 1 8-1 8-1 8 2 8-1 8-3 8 4 8-3 9 2 8 2 8-5 8 3 8-2 8 1 8-3 8 1 8 0 8 5 8-4 8 4 8 1 8-2 8-2 8 0 8 1 8 0 8-3 8 4M0 479l8 3 8-2 8 2 8-3 8 3 8-4 8 2 8 1 8 0 8 2 8-7 8 2 8 0 8 3 8-2 8 4 8 19 8 23 8 7 9-4 8-13 8-11 8-14 8-5 8-8 8-1 8 4 8-3 8 0 8 4 8-2 8-2 8 3 8 0 8-1 8 0 8 3 8-1 8 2 8-1 8-3 8 0 8-1 8 0 8-2 8 1 8 3 8-3 8 3 8-1 8-1 8 3 8-1 8-1 8-1 8 3 8-4 8 5 8-6 9 4 8 0 8-2 8 3 8-3 8 2 8-3 8 0 8 0 8 4 8-2 8 3 8-2 8 0 8 0 8-2 8 2 8 1 8-3 8 4M0 492l8 2 8-1 8 0 8 0 8 1 8-3 8 1 8 3 8-3 8 2 8-4 8 2 8-1 8 1 8 0 8 4 8 20 8 21 8 10 9-7 8-11 8-11 8-16 8-6 8-5 8-1 8 3 8-3 8-2 8 5 8-1 8-3 8 4 8-2 8 1 8-3 8 6 8-2 8 2 8-1 8-3 8 0 8 1 8-2 8 1 8 1 8 2 8-5 8 5 8-2 8-1 8 3 8-2 8 0 8 1 8 1 8-5 8 5 8-4 9 2 8 3 8-5 8 2 8-1 8 2 8-2 8 0 8-1 8 5 8-4 8 2 8 0 8 0 8-3 8 1 8 0 8 1 8-2 8 2M0 505l8 0 8 2 8 0 8-1 8 1 8-3 8 2 8 2 8-2 8 1 8-3 8 0 8 0 8 1 8 2 8 0 8 22 8 22 8 8 9-4 8-13 8-12 8-16 8-3 8-7 8-1 8 4 8-5 8 0 8 3 8 2 8-3 8 3 8-2 8 1 8-3 8 3 8-1 8 3 8 0 8-4 8 1 8 0 8-1 8 0 8-1 8 3 8-3 8 3 8-2 8-1 8 2 8-2 8 2 8-1 8 2 8-3 8 5 8-5 9 3 8 1 8-5 8 5 8-4 8 3 8-3 8-1 8 3 8 1 8-2 8 1 8 1 8 2 8-3 8 0 8 0 8 1 8-4 8 5M0 518l8 1 8-2 8 2 8 0 8 0 8-4 8 2 8 1 8 1 8 0 8-4 8 2 8 0 8 2 8-1 8 2 8 21 8 24 8 7 9-3 8-15 8-11 8-16 8-5 8-5 8-2 8 3 8-3 8 2 8 2 8 0 8-2 8 2 8 0 8 0 8-3 8 2 8-1 8 1 8 2 8-5 8 2 8-1 8 0 8-1 8 3 8 1 8-3 8 2 8 0 8-1 8 1 8-1 8-1 8 0 8 2 8-2 8 3 8-5 9 4 8 1 8-2 8 3 8-2 8-1 8 0 8-2 8 2 8 3 8-4 8 3 8 0 8 1 8-4 8 2 8-1 8 0 8-1 8 4M0 531l8 0 8 0 8 1 8 0 8-1 8-3 8 4 8-1 8-1 8 1 8-3 8 2 8-1 8 1 8 2 8 3 8 18 8 24 8 7 9-4 8-12 8-11 8-16 8-4 8-5 8-3 8 1 8-2 8 1 8 2 8 1 8-2 8 1 8-2 8 1 8-1 8 4 8-1 8 0 8-2 8 0 8-1 8 0 8 1 8-2 8 1 8 2 8-1 8 0 8 0 8 0 8 1 8-2 8 0 8 1 8 2 8-2 8 3 8-5 9 5 8 0 8-5 8 3 8-1 8 0 8-1 8 0 8 0 8 3 8-2 8 2 8 1 8 0 8-3 8 0 8 2 8 1 8-5 8 5M0 543l8 2 8 0 8 0 8-1 8 0 8-3 8 1 8 2 8-1 8 2 8-3 8 2 8 0 8-1 8 0 8 5 8 18 8 25 8 8 9-7 8-12 8-11 8-16 8-3 8-6 8-2 8 3 8-4 8 2 8 2 8-1 8-1 8 2 8-3 8 2 8-3 8 4 8-2 8 2 8-1 8-1 8 0 8-1 8-1 8 1 8-1 8 3 8-2 8 2 8-3 8 0 8 4 8-1 8-1 8 1 8 0 8-3 8 5 8-5 9 2 8 1 8-4 8 4 8-1 8 0 8-1 8-1 8 2 8 3 8-3 8 2 8-1 8 1 8-2 8-1 8 1 8 1 8-3 8 2M0 556l8 0 8 2 8 1 8-1 8 0 8-2 8 0 8 2 8-3 8 3 8-2 8-1 8 0 8 0 8 3 8 2 8 20 8 23 8 9 9-5 8-14 8-11 8-15 8-5 8-5 8-1 8 0 8-1 8 1 8 0 8 1 8-2 8 1 8-1 8 3 8-4 8 3 8 1 8-2 8 0 8 0 8 0 8-2 8 2 8-1 8 1 8 0 8 0 8 0 8 1 8-2 8 3 8-2 8 0 8 1 8-1 8-2 8 5 8-3 9 0 8 2 8-3 8 1 8-1 8 0 8 0 8-2 8 3 8 2 8-2 8 0 8 2 8-2 8-2 8 2 8-1 8 2 8-1 8 1M0 569l8 2 8-1 8 1 8-1 8 0 8-4 8 4 8 1 8-3 8 2 8-3 8 1 8-1 8 1 8 2 8 3 8 20 8 25 8 7 9-5 8-14 8-11 8-14 8-8 8-5 8 1 8 0 8 0 8 0 8 1 8 0 8-3 8 2 8 1 8 0 8-3 8 2 8-1 8 3 8-2 8-2 8 2 8-2 8 0 8 1 8 0 8 1 8-2 8 2 8-1 8 0 8 3 8-3 8 0 8 1 8 0 8-2 8 3 8-2 9 0 8 2 8-1 8-1 8 1 8 0 8-2 8 1 8-1 8 2 8-1 8 3 8-1 8 1 8-3 8 1 8 0 8 1 8-2 8 2M0 582l8-1 8 2 8 0 8-1 8 1 8-3 8 1 8 3 8-3 8 1 8-1 8 0 8-1 8 1 8 2 8 2 8 21 8 22 8 7 9-2 8-14 8-12 8-15 8-6 8-3 8-1 8 2 8-4 8 1 8 1 8 1 8-3 8 2 8-1 8 2 8-1 8 1 8-1 8 2 8-3 8 1 8-1 8 1 8-2 8 1 8 1 8-1 8-2 8 3 8-2 8 1 8 1 8 0 8-2 8 2 8-1 8-1 8 3 8-4 9 3 8 1 8-2 8 2 8-3 8 1 8-1 8 1 8 0 8 1 8-2 8 2 8 0 8-1 8 0 8 1 8-1 8 1 8-1 8 2M0 596l8 0 8-2 8 1 8-1 8 2 8-2 8 1 8-1 8 0 8 3 8-4 8 1 8-1 8 2 8-1 8 5 8 21 8 18 8 0 9 0 8-6 8-11 8-14 8-7 8-4 8-2 8 2 8-1 8-1 8 3 8-1 8-3 8 2 8 1 8-2 8 1 8 1 8-2 8 3 8-1 8-3 8 0 8 1 8 0 8-1 8 2 8-1 8 0 8 2 8-1 8-1 8 0 8 0 8-1 8 2 8-1 8-1 8 1 8-2 9 2 8 1 8-1 8 1 8 0 8-1 8 0 8-1 8 0 8 2 8-1 8 1 8 2 8-2 8 0 8-2 8 3 8-2 8-2 8 4M0 606l8 3 8 0 8-2 8 0 8 2 8-2 8 0 8 2 8-2 8 2 8-4 8 2 8-1 8 2 8-1 8 3 8 21 8 7 8 0 9 0 8 0 8-6 8-14 8-5 8-4 8-2 8 1 8-2 8 1 8 2 8-2 8-2 8 4 8-3 8 2 8-2 8 1 8 0 8 2 8 0 8-2 8 1 8 0 8-1 8 0 8 0 8 1 8-3 8 4 8-1 8-1 8 2 8-1 8-1 8-1 8 2 8-3 8 4 8-2 9 2 8 0 8-4 8 3 8-1 8 1 8-2 8 0 8 1 8 2 8-2 8 0 8 2 8-1 8-2 8 0 8 0 8 2 8-3 8 3M0 620l8-1 8 2 8 1 8-3 8 2 8-2 8 2 8 1 8-1 8 1 8-4 8 2 8 0 8 1 8 0 8 2 8 15 8 0 8 0 9 0 8 0 8 0 8-7 8-5 8-4 8-2 8 0 8-1 8 0 8 1 8 1 8-2 8 1 8 1 8-1 8 0 8 1 8-2 8 1 8 2 8-4 8 0 8 1 8 0 8-1 8 1 8 1 8-2 8 2 8-1 8 0 8 3 8-2 8 0 8 1 8-2 8-1 8 4 8-3 9 1 8 2 8-4 8 2 8 0 8 1 8-4 8 1 8 2 8 1 8-2 8 3 8-1 8 1 8-3 8 1 8 0 8-1 8 0 8 1M0 632l8 1 8 0 8 1 8 0 8 0 8-1 8-1 8 0 8 0 8 2 8-3 8 2 8 0 8 1 8 0 8 2 8 2 8 0 8 0 9 0 8 0 8 0 8 0 8-1 8-3 8-2 8 2 8-2 8 0 8 3 8-1 8-3 8 3 8-3 8 2 8-2 8 3 8-1 8 2 8-1 8-3 8 2 8-1 8 0 8 0 8 0 8 1 8-3 8 2 8-1 8 1 8 1 8-1 8 0 8-1 8 3 8-1 8 0 8 0 9 1 8-1 8-2 8 3 8-1 8 1 8-3 8 2 8-2 8 3 8-1 8-1 8 1 8 1 8-1 8-2 8 0 8 3 8-1 8 1" stroke="#000" stroke-width="2.9" fill="none" stroke-linejoin="round"/>
<path d="M166 586V905.5" stroke="#000" stroke-width="2.6" stroke-dasharray="7 4.5"/>
<rect x="120.7" y="586" width="317" height="319.5" fill="none" stroke="#555" stroke-width=".8"/>
<path transform="translate(502.1 586.8) scale(.5)" d="M0 8l8-1 8 0 8 0 8-2 8 2 8 0 8 0 8-2 8 3 8-3 8 2 8 1 8-3 8 0 8 1 8 1 8 6 9 8 8 0 8 2 8-5 8-4 8-3 8-4 8 0 8 0 8-1 8-2 8 1 8 1 8 1 8 0 8 0 8 0 8 1 8-2 8 2 8-1 8-1 8 1 8 1 8 0 8-1 8-3 8 2 8-1 8 0 8 2 8-3 8 4 8-2 8 1 8 1 9-3 8 0 8 3 8-2 8-1 8 3 8 0 8-3 8 2 8-3 8 2 8 0 8 1 8-1 8-1 8 1 8-2 8 3 8-1 8 0 8 2 8-2 8 2 8-3 8 4 8-3M0 20l8 1 8-1 8 0 8-2 8 2 8 0 8-1 8 1 8 1 8-3 8 3 8-1 8-2 8 2 8-1 8 2 8 7 9 6 8 2 8-3 8-1 8-5 8-3 8-4 8 2 8-3 8-1 8 1 8 0 8 0 8-2 8 2 8 0 8-2 8 4 8-1 8 1 8 0 8-2 8-1 8 2 8-1 8 1 8-2 8 1 8-1 8-1 8 2 8-2 8 3 8-2 8 0 8 1 9 0 8-1 8 0 8-1 8 2 8 2 8-2 8-2 8 2 8-2 8 2 8 2 8-1 8-2 8 0 8 1 8-1 8 2 8-1 8 0 8 1 8-1 8 2 8-2 8 1 8 1M0 34l8-2 8 0 8-1 8-2 8 2 8 2 8-2 8 1 8-1 8 0 8 0 8 2 8-1 8-1 8 2 8 1 8 5 9 8 8 2 8 0 8-6 8-2 8-7 8-3 8 4 8-4 8 2 8-1 8 0 8 1 8-1 8 0 8 0 8-2 8 3 8-1 8 2 8-2 8 0 8 0 8 1 8 0 8 1 8-3 8 1 8 1 8-3 8 2 8-2 8 2 8-1 8 1 8-1 9 2 8-1 8 0 8 0 8-2 8 2 8-1 8-1 8 1 8 1 8-2 8 3 8-1 8-2 8 1 8 0 8 1 8 1 8-2 8 1 8 1 8-1 8 0 8-2 8 4 8-2M0 45l8 1 8-1 8 0 8-1 8 1 8-1 8 2 8-2 8 2 8-2 8 2 8 0 8-2 8 2 8 0 8-1 8 9 9 8 8 0 8-1 8-4 8-5 8-4 8-2 8 0 8-2 8 0 8-2 8 2 8 2 8-1 8-1 8 0 8-1 8 3 8-1 8 1 8 1 8-2 8 1 8-1 8 0 8 2 8-2 8 0 8 1 8-1 8 1 8-4 8 2 8 0 8 0 8 2 9-3 8 1 8 0 8 0 8 1 8-1 8 2 8-2 8 0 8-1 8 0 8 3 8 0 8-3 8 0 8 2 8 0 8 1 8-2 8-1 8 3 8-2 8 3 8-3 8 2 8 1M0 58l8 1 8-2 8-2 8 2 8-1 8 3 8-1 8-2 8 1 8 1 8 0 8 0 8-2 8 2 8 0 8 1 8 6 9 10 8 0 8-1 8-5 8-2 8-5 8-5 8 1 8-1 8 1 8-1 8 0 8 0 8-1 8 1 8 1 8 0 8 1 8-1 8 0 8 0 8 0 8-1 8 1 8 1 8-1 8 0 8 0 8-2 8 2 8 0 8-1 8 0 8 2 8-2 8 1 9-2 8-1 8 1 8 0 8 0 8 1 8 0 8 0 8 2 8-2 8-1 8 3 8-1 8-2 8 2 8-1 8-1 8 2 8 0 8-2 8 2 8-1 8 1 8-1 8 0 8 1M0 71l8 0 8-1 8-1 8 0 8 3 8-2 8 1 8 0 8-1 8-1 8 3 8-2 8 0 8 0 8 2 8 0 8 8 9 7 8 1 8 1 8-5 8-4 8-6 8-4 8 0 8 1 8-1 8-2 8 0 8 1 8 0 8 2 8-1 8 0 8 1 8-1 8 2 8-2 8 0 8 1 8 1 8-2 8 0 8-2 8 2 8 1 8-2 8 2 8-1 8 2 8-1 8-3 8 3 9-2 8-1 8 2 8-1 8-1 8 2 8 0 8-2 8 2 8-2 8 1 8 2 8-1 8 0 8 0 8 0 8-1 8 3 8-4 8 1 8 1 8 0 8 0 8-1 8 2 8 0M0 84l8 0 8-1 8-2 8 2 8 1 8-1 8 0 8 0 8-1 8 1 8 2 8-2 8 0 8-1 8 3 8-1 8 8 9 10 8 0 8 1 8-5 8-5 8-6 8-3 8 0 8-2 8 1 8-3 8 2 8 1 8-1 8 1 8 0 8 1 8-2 8 2 8 0 8 0 8-1 8 1 8 0 8 1 8-1 8-3 8 1 8 2 8-2 8 0 8 0 8 1 8 0 8-1 8 2 9-1 8 0 8 0 8 0 8 0 8 0 8 1 8-3 8 4 8-3 8 0 8 1 8 1 8-2 8-1 8 3 8-3 8 2 8-2 8 2 8 1 8-1 8 2 8-3 8 1 8 2M0 95l8 0 8 0 8 1 8-2 8 2 8-1 8 1 8 0 8 1 8-3 8 2 8 1 8-1 8 0 8 0 8 2 8 8 9 11 8 0 8-1 8-6 8-2 8-7 8-6 8 1 8 1 8-2 8-2 8 2 8-1 8 1 8 1 8-1 8 0 8 1 8 0 8 1 8-2 8 0 8 1 8 0 8 1 8-1 8-3 8 2 8 0 8-1 8 2 8-1 8 2 8-1 8-1 8 1 9 0 8 0 8 1 8-1 8-1 8 1 8 1 8-3 8 2 8-2 8 0 8 2 8-1 8-1 8 1 8 1 8-1 8 1 8-1 8 0 8 1 8-1 8 1 8-2 8 4 8-1M0 110l8 0 8-2 8 0 8-2 8 2 8 0 8 1 8-2 8 1 8-1 8 4 8-1 8-3 8 1 8 1 8 0 8 10 9 12 8 1 8-2 8-4 8-7 8-5 8-6 8 2 8-1 8-1 8-2 8 1 8 0 8 0 8 1 8-1 8 2 8-2 8 1 8 1 8 0 8 0 8 1 8-1 8 0 8 2 8-5 8 3 8 1 8-2 8 1 8-2 8 1 8 0 8-1 8 1 9 1 8-2 8 0 8 1 8 0 8 0 8 2 8-4 8 3 8-2 8 1 8 1 8 1 8-2 8 0 8 1 8-2 8 3 8-2 8 0 8 2 8-3 8 4 8-3 8 2 8-2M0 122l8 0 8-1 8 0 8-2 8 1 8 2 8-1 8 0 8 2 8-2 8 0 8 1 8 0 8-2 8 1 8 3 8 9 9 12 8 1 8-1 8-6 8-6 8-8 8-2 8 0 8-1 8-3 8-2 8 1 8 3 8-2 8 4 8-2 8 0 8-1 8 2 8 0 8 1 8-3 8 1 8 1 8-1 8 2 8-4 8 1 8 2 8-2 8 3 8-3 8 2 8-1 8 0 8 0 9 1 8-2 8 1 8 0 8-1 8 1 8 1 8-1 8 2 8-2 8 0 8 0 8 2 8-3 8-1 8 2 8-2 8 2 8-2 8 3 8-1 8 1 8 2 8-4 8 1 8 0M0 135l8 0 8-2 8 1 8-3 8 2 8 0 8 2 8 0 8 1 8-2 8 2 8-1 8-1 8-1 8 2 8 2 8 10 9 12 8 1 8 0 8-5 8-7 8-8 8-4 8 0 8-4 8 1 8-4 8 0 8 3 8-1 8 2 8 2 8-2 8 0 8 1 8 0 8 1 8-1 8 0 8 1 8-1 8 2 8-4 8 1 8 1 8 1 8-2 8-1 8 2 8-1 8-2 8 4 9-1 8-1 8 1 8 0 8-2 8 2 8 1 8-3 8 2 8-1 8 0 8 1 8-1 8 2 8-1 8-1 8-1 8 3 8-2 8 2 8-1 8-1 8 3 8-4 8 3 8-1M0 149l8 0 8-3 8 0 8 0 8 1 8 0 8 0 8 0 8 0 8-2 8 2 8 0 8 1 8-2 8 2 8-1 8 14 9 13 8 1 8 0 8-8 8-5 8-11 8-2 8-3 8-1 8-1 8-2 8 1 8 0 8 2 8 1 8 2 8-2 8 0 8-1 8 2 8 0 8-1 8 0 8 1 8 1 8 0 8-1 8 0 8 0 8 0 8 0 8-1 8 3 8-3 8 1 8 1 9-3 8 0 8 2 8-1 8 0 8 3 8-1 8-2 8 1 8-1 8 1 8 2 8-3 8 0 8 1 8 0 8-2 8 2 8-2 8 0 8 3 8-3 8 2 8 0 8 2 8-2M0 161l8-1 8-1 8 0 8 0 8 0 8-1 8 4 8-4 8 3 8-2 8 2 8 0 8-2 8 2 8 1 8-1 8 12 9 15 8 1 8 0 8-5 8-10 8-7 8-8 8 0 8 0 8-3 8-1 8-1 8 2 8 1 8 2 8-1 8 0 8 3 8-3 8 4 8-1 8-1 8 0 8-1 8 1 8 2 8-3 8 0 8 1 8-1 8 0 8-1 8 2 8 1 8-4 8 2 9 0 8 0 8 1 8-3 8 1 8 4 8-1 8-4 8 5 8-3 8-1 8 4 8-3 8-1 8 1 8 1 8-1 8 1 8-1 8 0 8 2 8-2 8 3 8-3 8 2 8 0M0 174l8-1 8 0 8-2 8-2 8 4 8 0 8 0 8-1 8 2 8-3 8 2 8 0 8-2 8 1 8 1 8 1 8 13 9 16 8 2 8 0 8-9 8-7 8-11 8-6 8 0 8-2 8-3 8-1 8 0 8 2 8 1 8 5 8-3 8 0 8 1 8 0 8 3 8 0 8-2 8-1 8 2 8-2 8 3 8-4 8 2 8-1 8 1 8-1 8-2 8 5 8-4 8 0 8 2 9-1 8 0 8 1 8-2 8-1 8 4 8 0 8-3 8 2 8-2 8 1 8 3 8-4 8 0 8 0 8-1 8 1 8 3 8-4 8 2 8 2 8-2 8 1 8-2 8 3 8-1M0 187l8 0 8-3 8 0 8-2 8 4 8-2 8 1 8-1 8 2 8-3 8 4 8-1 8-1 8 0 8 1 8 0 8 14 9 17 8 3 8-2 8-8 8-8 8-10 8-7 8 0 8-1 8-3 8-4 8 2 8 3 8-2 8 5 8-2 8 1 8 3 8-2 8 1 8 1 8-2 8 0 8 1 8-1 8 3 8-6 8 3 8 0 8-2 8 3 8-3 8 2 8 1 8-3 8 2 9-1 8-1 8 3 8-4 8 1 8 3 8 0 8-3 8 4 8-3 8 0 8 4 8-1 8-4 8 1 8 2 8-3 8 5 8-4 8 1 8 1 8-1 8 3 8-4 8 2 8-1M0 198l8 2 8-3 8-2 8 0 8 3 8 0 8 2 8-4 8 3 8-2 8 1 8 2 8-2 8-1 8 2 8 2 8 15 9 15 8 1 8 1 8-8 8-10 8-10 8-7 8-2 8-1 8-3 8-3 8 0 8 5 8-2 8 4 8 1 8-2 8 2 8 0 8 3 8 1 8-4 8 1 8 1 8 0 8 0 8-4 8 3 8 1 8-3 8 1 8-2 8 4 8 0 8-2 8 2 9-1 8-2 8 0 8-1 8 0 8 5 8-2 8-1 8 1 8-3 8 2 8 2 8 0 8-2 8 0 8 0 8 0 8 2 8-4 8 3 8 1 8-3 8 5 8-5 8 3 8 0M0 213l8-2 8 0 8-3 8 0 8 3 8-1 8 0 8 0 8 2 8-4 8 4 8-1 8 0 8-1 8 1 8 1 8 17 9 17 8 2 8-1 8-7 8-11 8-13 8-5 8-2 8-3 8-3 8-1 8 1 8 1 8 1 8 6 8-1 8 0 8 0 8 0 8 1 8 1 8-2 8 0 8 1 8 0 8 3 8-7 8 3 8 0 8 0 8 0 8 0 8 3 8-1 8-3 8 1 9 0 8-2 8 3 8-2 8-1 8 5 8-1 8-4 8 3 8-4 8 2 8 2 8-1 8-1 8 2 8-2 8 1 8 3 8-6 8 2 8 4 8-4 8 4 8-3 8 2 8-1M0 225l8 0 8-2 8-2 8-1 8 4 8-2 8 3 8-2 8 1 8-2 8 3 8 0 8-1 8 0 8 1 8 0 8 17 9 17 8 4 8-2 8-9 8-9 8-12 8-8 8 0 8-2 8-5 8-2 8 1 8 2 8 2 8 4 8-1 8 0 8 1 8-2 8 4 8 0 8-1 8-1 8 2 8-1 8 2 8-4 8 1 8 1 8-1 8 2 8-3 8 4 8-3 8-3 8 5 9-3 8 0 8 0 8-1 8 2 8 1 8 1 8-3 8 3 8-5 8 3 8 3 8-3 8-1 8-1 8 3 8-4 8 7 8-5 8 2 8 2 8-2 8 0 8-1 8 2 8 1M0 237l8 0 8-1 8-2 8 0 8 3 8-1 8 2 8-1 8 0 8-1 8 2 8-1 8-2 8 1 8 1 8 1 8 17 9 19 8 1 8 0 8-8 8-11 8-11 8-8 8-1 8-4 8-3 8-3 8-1 8 4 8 3 8 3 8-1 8 1 8 3 8-2 8 3 8-1 8-2 8 1 8-1 8 1 8 2 8-6 8 3 8 2 8-2 8 2 8-5 8 5 8-2 8-3 8 2 9 0 8 0 8 0 8-1 8-1 8 4 8 1 8-4 8 5 8-5 8 0 8 4 8-2 8-2 8 1 8 1 8-1 8 3 8-3 8 2 8-1 8-2 8 5 8-5 8 6 8-3M0 251l8-2 8 0 8-2 8-2 8 5 8-2 8 3 8-2 8 1 8-3 8 3 8 1 8-4 8 1 8 1 8 3 8 16 9 20 8 2 8-1 8-10 8-10 8-13 8-7 8 0 8-4 8-3 8-3 8-1 8 4 8 2 8 4 8-1 8-1 8 3 8-2 8 4 8 1 8-2 8 0 8 1 8-2 8 3 8-6 8 1 8 1 8 1 8-1 8-3 8 5 8-2 8-1 8 3 9-3 8 0 8 3 8-3 8 1 8 3 8-2 8-3 8 3 8-4 8 2 8 5 8-3 8 0 8-2 8 2 8-3 8 5 8-4 8 2 8 1 8-2 8 2 8-2 8 3 8 1M0 264l8 0 8-2 8-1 8-2 8 4 8-3 8 3 8-3 8 2 8 0 8 0 8 0 8-2 8 3 8 0 8 2 8 17 9 19 8 1 8 0 8-8 8-11 8-15 8-7 8-1 8-3 8-3 8-4 8 1 8 6 8-2 8 6 8-1 8-1 8 4 8-3 8 3 8 2 8-3 8 1 8 1 8-1 8 1 8-5 8 1 8 1 8-1 8 2 8-2 8 5 8-4 8-2 8 4 9-2 8-1 8 0 8 0 8 0 8 3 8-1 8-5 8 6 8-5 8 3 8 2 8 0 8-2 8 1 8-1 8-2 8 6 8-6 8 1 8 3 8-2 8 2 8-4 8 4 8 2M0 275l8 1 8-1 8-1 8-3 8 4 8-2 8 3 8-4 8 5 8-4 8 3 8 1 8-3 8 1 8 0 8 2 8 18 9 21 8 1 8-2 8-10 8-9 8-13 8-10 8 1 8-3 8-3 8-6 8 1 8 5 8 0 8 7 8-1 8-2 8 3 8-2 8 4 8-1 8-3 8 2 8 1 8-1 8 4 8-9 8 2 8 2 8 0 8 0 8-3 8 7 8-4 8-2 8 3 9-1 8-2 8 3 8-3 8-1 8 5 8-1 8-4 8 6 8-7 8 2 8 5 8-3 8-2 8 1 8 0 8 0 8 5 8-5 8 2 8 1 8-3 8 5 8-6 8 5 8 0M0 289l8 0 8-3 8-2 8-1 8 4 8-1 8 2 8-2 8 3 8-3 8 2 8 0 8-2 8 3 8 0 8 0 8 19 9 20 8 0 8 2 8-11 8-10 8-15 8-7 8-1 8-3 8-5 8-4 8 3 8 5 8 0 8 5 8-2 8 0 8 4 8-2 8 4 8-1 8-4 8 1 8 2 8-1 8 1 8-6 8 4 8 1 8-3 8 3 8-4 8 5 8-1 8-3 8 3 9-1 8-3 8 2 8-2 8 1 8 4 8 0 8-5 8 6 8-7 8 2 8 6 8-3 8-1 8 0 8 1 8-4 8 5 8-5 8 2 8 3 8-2 8 3 8-6 8 5 8 1M0 301l8 1 8-3 8 0 8-3 8 5 8-2 8 1 8 0 8 1 8-2 8 3 8-1 8-1 8 0 8 1 8 0 8 20 9 21 8 1 8 0 8-10 8-11 8-13 8-8 8-2 8-3 8-5 8-3 8 2 8 4 8-1 8 6 8 0 8-1 8 4 8-2 8 3 8 1 8-3 8 0 8 0 8 2 8 1 8-9 8 4 8 1 8 0 8-1 8-3 8 7 8-3 8-2 8 3 9-3 8 0 8 1 8-2 8 2 8 4 8-1 8-5 8 6 8-6 8 3 8 3 8-2 8-1 8 0 8-2 8-2 8 6 8-5 8 3 8 0 8-2 8 6 8-5 8 3 8 1M0 313l8 2 8-2 8-3 8-2 8 5 8 0 8 1 8-4 8 4 8-2 8 1 8 1 8-2 8 0 8 2 8 2 8 17 9 22 8 1 8 0 8-11 8-11 8-13 8-9 8 0 8-2 8-6 8-4 8 1 8 4 8 2 8 5 8-2 8-1 8 5 8-2 8 5 8-2 8-2 8 2 8 0 8 1 8 1 8-7 8 2 8 2 8-3 8 2 8-3 8 4 8-2 8-2 8 3 9-3 8 1 8 2 8-3 8 2 8 4 8-3 8-3 8 6 8-7 8 3 8 3 8-3 8-1 8 2 8 0 8-4 8 8 8-9 8 4 8 3 8-2 8 3 8-6 8 6 8 1M0 329l8-1 8-4 8-1 8-2 8 5 8-1 8 1 8-1 8 3 8-4 8 4 8 0 8-3 8 0 8 3 8 0 8 18 9 23 8-1 8 1 8-11 8-9 8-15 8-10 8 2 8-5 8-2 8-5 8 2 8 4 8 0 8 6 8 0 8-4 8 5 8-3 8 4 8 0 8-3 8 1 8 0 8 1 8 1 8-6 8 3 8 1 8-3 8 3 8-4 8 5 8-1 8-3 8 4 9-3 8-1 8 2 8-1 8-1 8 4 8 0 8-4 8 4 8-6 8 4 8 2 8-2 8-1 8 0 8 2 8-2 8 5 8-5 8 1 8 3 8-5 8 7 8-6 8 4 8 0M0 341l8 1 8-3 8-4 8-1 8 6 8-2 8 1 8-2 8 2 8-3 8 5 8 0 8-2 8 1 8 0 8 0 8 18 9 25 8 0 8 1 8-12 8-10 8-15 8-9 8 0 8-3 8-6 8-2 8 0 8 6 8-1 8 7 8-3 8 1 8 1 8 0 8 3 8 1 8-3 8 1 8 0 8 1 8 0 8-5 8 1 8 0 8-1 8 2 8-3 8 6 8-2 8-3 8 3 9-3 8-1 8 3 8-4 8 2 8 4 8 0 8-5 8 6 8-6 8 2 8 3 8-1 8-1 8-1 8-1 8 0 8 5 8-5 8 1 8 4 8-5 8 6 8-7 8 8 8-3M0 353l8 1 8-3 8-3 8 0 8 5 8-4 8 4 8-3 8 4 8-5 8 4 8 0 8-3 8 2 8 0 8 3 8 18 9 21 8 3 8-2 8-10 8-10 8-15 8-9 8 0 8-3 8-5 8-2 8 0 8 5 8 0 8 6 8-2 8-3 8 5 8-3 8 4 8 2 8-4 8 2 8-2 8 3 8 1 8-8 8 2 8 3 8-4 8 4 8-4 8 7 8-3 8-3 8 4 9-5 8 1 8 2 8-4 8 3 8 4 8-1 8-6 8 5 8-5 8 1 8 5 8-3 8-1 8 1 8 0 8-2 8 5 8-6 8 2 8 5 8-5 8 6 8-6 8 6 8-1M0 365l8 0 8 0 8-2 8-4 8 7 8-4 8 3 8-2 8 4 8-6 8 6 8-1 8-2 8-1 8 3 8-1 8 20 9 23 8 2 8-1 8-11 8-10 8-17 8-8 8 1 8-3 8-5 8-2 8 0 8 3 8 0 8 7 8-2 8 0 8 3 8-1 8 3 8 0 8-3 8 0 8 0 8 3 8-1 8-5 8 2 8 2 8-3 8 1 8-3 8 5 8-1 8-4 8 4 9-2 8 1 8 1 8-3 8 0 8 4 8-1 8-4 8 7 8-6 8 2 8 5 8-4 8-2 8 0 8-1 8 0 8 6 8-6 8 1 8 4 8-3 8 4 8-6 8 7 8-1M0 379l8 1 8-5 8-1 8-1 8 5 8-1 8 0 8-3 8 4 8-5 8 5 8 0 8-3 8 3 8 0 8 2 8 20 9 22 8 0 8 0 8-11 8-12 8-13 8-10 8 1 8-3 8-5 8-3 8-1 8 5 8 0 8 7 8-1 8-3 8 5 8-2 8 5 8-1 8-3 8 0 8 2 8-1 8 1 8-7 8 4 8 0 8-2 8 2 8-3 8 6 8-4 8-1 8 2 9-1 8-1 8 1 8-3 8 3 8 5 8-2 8-5 8 6 8-5 8 1 8 5 8-3 8-3 8 0 8 2 8-2 8 7 8-7 8 3 8 0 8-2 8 5 8-6 8 5 8 1M0 391l8 1 8-3 8-2 8-2 8 5 8-1 8 1 8-3 8 5 8-6 8 7 8-1 8-4 8 1 8 1 8 3 8 20 9 22 8 1 8 0 8-11 8-11 8-16 8-9 8 1 8-4 8-4 8-3 8 1 8 5 8 0 8 6 8-4 8-1 8 3 8-1 8 4 8 0 8-3 8 1 8 2 8 0 8 0 8-6 8 3 8 0 8 0 8 0 8-2 8 5 8-2 8-4 8 4 9-3 8 1 8 2 8-4 8 2 8 5 8-2 8-5 8 6 8-8 8 4 8 4 8-1 8-4 8 1 8 0 8-2 8 7 8-7 8 1 8 4 8-4 8 5 8-5 8 4 8 0M0 405l8 0 8-2 8-3 8-2 8 6 8-3 8 4 8-4 8 2 8-2 8 2 8 0 8-1 8 0 8 2 8 1 8 19 9 25 8 0 8 0 8-9 8-14 8-14 8-11 8 3 8-4 8-4 8-5 8 2 8 6 8-1 8 5 8 0 8-5 8 6 8-4 8 5 8-1 8-2 8 2 8-2 8 2 8 3 8-9 8 1 8 5 8-3 8 2 8-3 8 4 8-2 8-4 8 4 9-1 8-3 8 5 8-4 8 1 8 3 8 0 8-5 8 6 8-7 8 3 8 4 8-2 8 0 8-2 8 2 8-2 8 5 8-7 8 4 8 3 8-3 8 5 8-6 8 4 8 0M0 417l8 1 8-4 8-2 8-1 8 4 8-1 8 1 8-2 8 2 8-2 8 3 8 2 8-3 8-1 8 2 8 1 8 22 9 23 8 1 8 0 8-11 8-12 8-16 8-8 8 1 8-5 8-2 8-6 8 2 8 4 8 0 8 6 8-1 8-3 8 2 8-1 8 4 8 1 8-3 8 1 8 0 8 2 8 1 8-7 8 2 8 0 8 0 8 0 8-3 8 6 8-4 8-3 8 4 9 0 8-1 8 2 8-4 8 0 8 5 8 1 8-5 8 6 8-7 8 1 8 6 8-3 8-1 8-2 8 2 8-2 8 5 8-6 8 2 8 2 8 0 8 2 8-3 8 4 8 1M0 430l8-1 8-2 8-3 8 0 8 4 8-2 8 4 8-5 8 4 8-4 8 3 8 1 8-2 8 0 8 2 8 2 8 21 9 23 8 1 8 0 8-10 8-14 8-14 8-11 8 2 8-2 8-6 8-3 8 2 8 3 8-1 8 8 8-3 8-2 8 2 8 0 8 4 8 0 8-4 8 2 8 0 8 1 8 0 8-5 8 3 8-1 8-2 8 2 8-3 8 7 8-4 8-3 8 5 9-2 8-2 8 2 8-2 8 1 8 4 8-1 8-4 8 3 8-4 8 2 8 5 8-2 8-2 8-1 8 0 8-2 8 8 8-7 8 3 8 1 8-4 8 6 8-7 8 7 8-1M0 444l8-2 8-3 8-1 8 0 8 4 8-2 8 3 8-5 8 5 8-4 8 4 8 0 8-5 8 2 8 3 8 1 8 19 9 25 8 2 8-1 8-11 8-12 8-17 8-9 8 3 8-4 8-3 8-3 8 1 8 4 8-2 8 5 8-1 8-1 8 3 8-4 8 6 8 0 8-4 8 1 8 2 8-1 8 3 8-8 8 2 8 3 8-2 8 0 8-3 8 6 8-3 8-4 8 6 9-4 8 0 8 1 8 0 8-1 8 4 8 0 8-6 8 7 8-8 8 3 8 4 8 0 8-2 8-1 8-1 8-2 8 7 8-6 8 3 8 2 8-2 8 3 8-4 8 5 8 0M0 454l8 0 8 0 8-3 8-2 8 4 8-1 8 3 8-3 8 2 8-3 8 3 8 0 8-1 8 2 8 1 8 0 8 22 9 22 8 3 8 1 8-11 8-14 8-16 8-8 8 1 8-4 8-2 8-5 8 1 8 5 8-3 8 6 8-1 8-2 8 4 8-2 8 2 8 2 8-5 8 2 8 1 8 1 8 2 8-9 8 3 8 3 8-3 8 2 8-5 8 7 8-3 8-4 8 6 9-4 8 0 8 2 8-3 8 2 8 4 8-1 8-5 8 4 8-5 8 2 8 4 8-1 8-1 8-2 8 0 8 0 8 4 8-6 8 3 8 2 8-2 8 4 8-4 8 4 8-1M0 469l8 0 8-3 8-3 8-2 8 5 8 0 8 1 8-1 8 0 8-2 8 5 8-2 8-3 8 3 8 0 8 3 8 21 9 23 8 2 8 1 8-14 8-11 8-15 8-10 8 2 8-4 8-3 8-2 8 1 8 4 8-2 8 4 8-1 8-3 8 4 8-2 8 3 8 0 8-2 8-1 8 3 8-1 8 2 8-6 8 1 8 3 8-3 8 1 8-3 8 5 8-2 8-1 8 3 9-3 8 0 8 2 8-3 8 2 8 3 8 0 8-5 8 5 8-6 8 2 8 4 8-1 8-3 8 2 8-2 8-1 8 7 8-8 8 4 8 1 8-2 8 4 8-4 8 4 8 0M0 481l8 0 8-3 8-1 8-2 8 3 8 0 8 1 8 0 8 0 8-3 8 3 8 2 8-3 8 2 8-1 8 3 8 21 9 24 8 3 8-2 8-11 8-11 8-16 8-9 8 0 8 0 8-3 8-4 8-1 8 5 8-4 8 7 8-4 8-1 8 3 8-1 8 2 8 2 8-5 8 1 8 2 8 0 8 2 8-7 8 3 8 2 8-3 8 3 8-3 8 5 8-4 8-4 8 6 9-2 8-2 8 3 8-3 8 0 8 4 8 0 8-5 8 5 8-6 8 3 8 4 8-2 8-2 8-1 8 1 8-2 8 7 8-8 8 4 8 1 8-2 8 3 8-2 8 3 8 1M0 493l8 0 8-3 8-1 8-3 8 7 8-1 8 2 8-3 8 2 8-3 8 4 8 0 8-3 8 1 8 0 8 4 8 20 9 25 8 0 8 1 8-12 8-14 8-15 8-8 8 1 8-2 8-4 8-1 8 2 8 2 8-3 8 7 8-3 8-3 8 2 8-2 8 4 8 0 8-3 8 3 8-2 8 3 8 0 8-5 8 1 8 2 8-2 8 1 8-4 8 6 8-3 8-2 8 5 9-3 8 0 8 2 8-2 8-1 8 4 8 0 8-6 8 5 8-5 8 2 8 4 8 0 8-3 8-1 8 0 8-2 8 8 8-8 8 4 8 1 8-2 8 3 8-2 8 2 8 2M0 507l8 0 8-5 8 2 8-3 8 5 8-2 8 2 8-4 8 4 8-4 8 3 8-1 8-1 8 2 8 1 8 1 8 22 9 26 8 1 8 0 8-11 8-13 8-18 8-7 8-1 8 0 8-3 8-3 8 0 8 5 8-4 8 5 8-2 8-3 8 4 8-3 8 5 8-1 8-3 8 3 8 0 8 0 8 2 8-7 8 2 8 1 8-2 8 2 8-4 8 6 8-1 8-2 8 3 9-2 8-2 8 2 8-3 8 1 8 5 8-2 8-4 8 6 8-6 8 1 8 4 8 0 8-4 8 1 8-1 8-2 8 8 8-8 8 5 8 1 8-3 8 5 8-6 8 6 8-2M0 519l8 0 8-3 8 1 8-2 8 4 8-3 8 3 8-2 8 0 8-1 8 2 8 1 8-3 8 1 8 2 8 0 8 23 9 24 8 3 8-3 8-9 8-13 8-15 8-11 8 2 8 0 8-5 8-2 8 1 8 2 8 0 8 3 8-3 8-1 8 4 8-2 8 3 8-2 8 0 8-1 8 1 8 1 8 1 8-6 8 3 8 1 8-1 8 0 8-2 8 3 8-1 8-4 8 6 9-4 8 1 8 1 8-3 8 2 8 3 8 0 8-5 8 5 8-5 8 3 8 1 8 1 8-4 8 1 8 1 8-4 8 6 8-6 8 2 8 4 8-4 8 5 8-4 8 4 8 0M0 531l8 0 8-1 8-1 8-1 8 3 8-1 8 1 8-1 8 2 8-4 8 4 8 0 8-3 8 2 8-1 8 4 8 21 9 26 8 1 8-1 8-11 8-14 8-14 8-10 8 0 8 1 8-3 8-5 8 2 8 2 8-2 8 5 8-2 8-3 8 3 8 0 8 2 8 0 8-2 8 0 8 0 8 0 8 3 8-6 8 0 8 3 8-2 8 1 8-3 8 6 8-2 8-3 8 2 9-2 8 2 8 0 8-1 8-1 8 4 8-1 8-4 8 4 8-3 8 3 8 0 8 1 8-2 8 1 8 0 8-1 8 4 8-7 8 4 8 2 8-3 8 4 8-6 8 5 8-1M0 543l8 1 8-1 8-2 8-3 8 6 8-3 8 4 8-3 8 2 8-4 8 5 8 0 8-3 8 0 8 2 8 2 8 22 9 24 8 2 8-1 8-12 8-13 8-15 8-7 8 0 8-2 8-1 8-2 8 0 8 2 8-1 8 4 8-3 8-4 8 3 8-1 8 3 8-1 8 0 8 0 8 0 8-1 8 3 8-5 8 0 8 1 8 1 8 2 8-4 8 4 8-1 8-3 8 2 9 0 8 0 8 0 8-2 8-1 8 5 8-2 8-3 8 4 8-2 8-1 8 6 8-4 8-2 8 1 8 1 8-1 8 3 8-4 8 2 8 3 8-5 8 5 8-3 8 3 8-1M0 555l8 0 8 1 8-4 8 0 8 4 8-2 8 3 8-2 8 1 8-2 8 4 8-2 8-2 8 1 8 2 8 1 8 21 9 27 8 2 8-1 8-14 8-13 8-13 8-9 8 1 8-1 8-2 8-3 8 1 8 0 8 0 8 3 8-1 8-3 8 3 8-2 8 3 8-1 8 0 8 0 8 0 8 0 8 3 8-7 8 2 8 2 8-3 8 1 8 0 8 4 8-3 8-2 8 2 9-2 8 0 8 3 8-3 8-1 8 4 8-1 8-3 8 6 8-6 8 3 8 3 8-2 8-2 8-1 8 3 8-3 8 3 8-3 8 3 8 0 8-1 8 2 8-3 8 4 8 0M0 569l8 0 8-2 8-2 8 0 8 3 8-2 8 4 8-3 8 2 8-3 8 3 8 0 8-1 8-1 8 2 8 4 8 20 9 26 8 1 8-1 8-11 8-14 8-15 8-7 8-1 8-2 8-2 8 0 8-2 8 2 8-1 8 2 8 0 8-2 8 2 8 0 8 0 8 3 8-4 8 3 8-1 8-1 8 2 8-5 8 1 8 1 8 0 8 2 8-3 8 3 8-2 8 0 8 3 9-3 8 0 8 1 8-1 8-2 8 3 8 2 8-4 8 4 8-5 8 3 8 1 8 0 8-1 8-2 8 1 8-2 8 5 8-3 8 0 8 3 8-3 8 3 8-4 8 5 8-1M0 583l8 0 8-3 8 0 8-1 8 3 8-1 8 1 8-2 8 2 8-4 8 4 8-1 8-2 8 1 8 2 8 3 8 22 9 24 8 1 8-1 8-11 8-12 8-16 8-8 8-1 8-2 8 0 8-1 8 0 8 0 8 0 8 3 8-3 8-2 8 2 8 1 8 0 8 2 8-2 8 1 8 0 8 0 8-1 8-4 8 2 8 1 8-1 8 1 8-1 8 3 8-2 8-1 8 1 9-1 8-1 8 2 8-1 8-1 8 3 8 1 8-4 8 5 8-5 8 1 8 4 8-1 8-4 8 1 8 2 8-1 8 4 8-4 8 1 8 0 8-1 8 3 8-4 8 3 8 1M0 595l8 0 8-2 8 0 8-1 8 1 8-1 8 2 8-2 8 1 8 0 8 1 8 1 8-3 8 1 8 2 8 2 8 22 9 18 8 0 8 0 8-5 8-14 8-13 8-9 8 1 8 0 8-4 8-2 8 1 8 1 8 0 8 1 8 1 8-4 8 4 8-4 8 4 8-1 8-2 8 2 8 1 8-2 8 3 8-5 8 1 8 1 8-2 8 4 8-5 8 3 8-1 8-1 8 3 9-2 8-1 8 3 8-2 8 1 8 1 8-1 8-2 8 3 8-3 8 1 8 3 8-2 8 0 8 0 8-1 8 1 8 2 8-5 8 3 8 0 8 0 8 1 8-1 8 3 8-2M0 607l8-1 8-1 8 0 8-2 8 3 8 1 8 0 8-1 8 0 8-2 8 4 8-3 8 1 8 0 8 2 8 3 8 19 9 7 8 0 8 0 8 0 8-5 8-13 8-9 8-2 8 0 8-3 8 0 8-1 8 2 8-1 8 3 8-2 8 0 8 1 8-1 8 2 8-1 8 0 8 0 8-1 8 0 8 2 8-3 8-1 8 2 8-1 8 1 8-3 8 6 8-3 8-2 8 2 9 1 8-2 8 2 8-4 8 3 8 2 8 0 8-5 8 4 8-4 8 2 8 2 8-2 8 0 8 0 8 1 8-3 8 4 8-3 8 2 8 2 8-2 8 1 8-1 8 1 8 1M0 619l8 0 8 0 8 0 8-1 8 2 8-2 8 3 8-4 8 4 8-3 8 2 8-1 8-1 8 1 8 0 8 3 8 15 9 0 8 0 8 0 8 0 8 0 8-6 8-9 8-1 8-1 8-2 8 0 8 1 8-1 8 1 8 0 8 1 8-2 8 0 8 1 8 0 8 2 8-2 8 0 8 1 8 0 8 1 8-3 8 0 8 1 8-2 8 2 8-3 8 3 8-1 8-1 8 2 9-2 8 0 8 2 8-2 8-1 8 4 8-2 8 0 8 1 8-3 8 3 8 1 8 0 8-1 8 0 8-2 8 1 8 3 8-3 8 0 8 0 8 1 8 1 8-2 8 2 8 0M0 633l8 0 8-1 8-1 8-2 8 4 8-3 8 1 8-1 8 2 8 0 8 0 8-1 8-1 8 3 8 1 8 1 8 2 9 0 8 0 8 0 8 0 8 0 8 0 8 0 8-2 8-3 8 0 8-2 8 0 8 1 8 0 8 1 8 0 8-1 8 2 8-2 8 2 8 0 8-3 8 1 8 1 8 0 8 1 8-4 8 3 8 0 8 0 8 0 8-1 8 2 8-3 8 1 8 1 9-1 8 0 8 1 8-3 8 2 8 1 8-1 8-2 8 3 8-2 8 1 8 3 8-3 8-1 8 2 8 0 8-2 8 2 8-2 8 2 8-1 8 0 8 2 8-3 8 3 8-1" stroke="#000" stroke-width="2.9" fill="none" stroke-linejoin="round"/>
<path d="M547.4 586.8V905.7" stroke="#000" stroke-width="2.6" stroke-dasharray="7 4.5"/>
<rect x="502.1" y="586.8" width="317.1" height="318.9" fill="none" stroke="#555" stroke-width=".8"/>
<path transform="translate(1001.5 586) scale(.5)" d="M0 3l8-2 8 8 8-8 8 5 8-2 8-2 8 3 8-4 8 5 8-3 8 0 8 4 8 2 8-7 8 4 8 5 8 2 8-7 8-2 8 7 8-10 8 9 8-6 8-2 8-1 8 3 8 6 8-7 8 6 8 0 8-4 8 2 8-5 8-1 8 3 8 5 8-2 8-2 8 2 8-1 8-3 8 7 8-3 8-5 8 4 8 0 8 4 8-2 8-6 8 9 8-10 8 4 8 3 8-4 8 3 8-6 8 7 8 1 8-2 8 3 8-5 8 5 8-3 8 0 8-2 8 4 8 2 8-6 8 4 8-8 8 6 8 3 8 2 8-3 8-5 8 0 8 4 8-6 8 5M0 18l8-4 8 7 8-8 8 7 8-2 8-3 8 4 8-6 8 6 8-3 8-1 8 4 8 5 8-8 8 3 8 4 8 1 8-5 8-3 8 8 8-11 8 11 8-6 8-3 8 1 8 2 8 6 8-9 8 4 8 1 8-3 8 2 8-5 8 1 8 2 8 4 8-2 8-1 8 1 8 0 8-1 8 6 8-2 8-6 8 3 8 1 8 3 8 0 8-5 8 6 8-10 8 6 8 3 8-9 8 4 8-5 8 9 8 1 8-4 8 6 8-6 8 3 8-2 8 0 8-3 8 5 8 4 8-7 8 2 8-6 8 6 8 1 8 4 8-4 8-6 8 1 8 3 8-6 8 4M0 30l8-3 8 8 8-9 8 6 8-1 8-3 8 4 8-4 8 3 8-4 8 0 8 3 8 6 8-9 8 5 8 5 8-1 8-3 8-2 8 7 8-12 8 10 8-6 8-1 8-3 8 4 8 5 8-8 8 7 8 0 8-3 8 2 8-5 8-1 8 2 8 5 8-3 8-1 8 3 8-2 8-2 8 8 8-2 8-5 8 4 8-2 8 5 8-1 8-5 8 5 8-10 8 5 8 3 8-7 8 3 8-3 8 8 8 1 8-4 8 5 8-7 8 3 8 1 8 0 8-3 8 6 8 0 8-5 8 3 8-7 8 5 8 0 8 5 8-3 8-7 8 2 8 5 8-10 8 7M0 42l8-3 8 7 8-6 8 5 8-3 8-1 8 5 8-5 8 2 8-4 8-1 8 7 8 3 8-8 8 7 8 3 8 1 8-6 8-3 8 10 8-12 8 10 8-9 8-2 8 2 8 1 8 5 8-5 8 4 8 1 8-5 8 4 8-8 8 3 8 0 8 5 8-2 8 0 8 1 8-2 8-1 8 5 8-1 8-5 8 3 8 0 8 5 8-2 8-4 8 7 8-10 8 3 8 4 8-8 8 5 8-6 8 9 8 1 8-3 8 4 8-5 8 2 8 1 8-2 8-1 8 6 8 0 8-6 8 3 8-6 8 6 8 1 8 3 8-2 8-7 8 1 8 2 8-7 8 5M0 56l8-3 8 5 8-7 8 8 8-2 8-4 8 4 8-6 8 5 8-4 8-1 8 5 8 5 8-6 8 7 8 0 8 0 8-2 8-4 8 7 8-13 8 11 8-6 8-2 8-1 8 3 8 5 8-7 8 4 8 2 8-5 8 3 8-5 8-1 8 3 8 6 8-3 8-1 8 3 8-1 8-3 8 5 8 1 8-8 8 6 8-1 8 3 8 0 8-5 8 8 8-10 8 4 8 1 8-6 8 4 8-4 8 7 8 2 8-3 8 4 8-7 8 4 8-2 8-1 8-1 8 5 8 1 8-4 8 2 8-7 8 7 8 0 8 3 8-3 8-4 8 1 8 3 8-8 8 6M0 67l8 0 8 4 8-7 8 6 8-1 8-5 8 7 8-5 8 3 8-4 8 0 8 5 8 5 8-8 8 7 8-1 8 2 8-5 8 0 8 5 8-10 8 8 8-7 8-1 8 1 8 3 8 6 8-9 8 5 8 1 8-3 8 1 8-4 8-2 8 4 8 6 8-6 8 0 8 4 8-1 8-3 8 5 8-1 8-3 8 1 8 1 8 3 8-1 8-4 8 6 8-8 8 2 8 6 8-8 8 2 8-3 8 6 8 0 8-2 8 5 8-7 8 4 8-2 8 1 8-2 8 6 8-1 8-3 8 2 8-9 8 10 8-1 8 4 8-4 8-6 8 2 8 5 8-9 8 4M0 81l8-3 8 5 8-6 8 8 8-4 8-2 8 3 8-5 8 5 8-5 8 1 8 6 8 4 8-8 8 8 8 1 8 1 8-6 8-1 8 4 8-9 8 9 8-6 8-2 8-1 8 1 8 9 8-10 8 6 8 0 8-3 8 3 8-5 8-2 8 3 8 5 8-3 8-2 8 3 8-2 8-1 8 8 8-3 8-6 8 6 8 0 8 3 8-3 8-5 8 7 8-9 8 3 8 4 8-7 8 5 8-4 8 7 8 0 8-2 8 4 8-8 8 5 8-2 8 0 8 1 8 2 8 2 8-5 8 3 8-9 8 8 8-1 8 5 8-2 8-5 8 1 8 3 8-10 8 5M0 94l8-1 8 5 8-7 8 4 8-1 8-2 8 5 8-5 8 5 8-7 8 0 8 4 8 6 8-7 8 9 8 0 8 0 8-4 8-4 8 8 8-13 8 12 8-9 8 1 8-1 8 1 8 5 8-7 8 6 8 1 8-5 8 2 8-4 8 0 8 1 8 5 8-2 8-3 8 4 8-1 8 0 8 5 8-1 8-6 8 3 8 0 8 6 8-3 8-6 8 7 8-9 8 4 8 4 8-8 8 5 8-4 8 5 8 0 8-1 8 4 8-6 8 3 8 1 8 0 8-3 8 4 8 4 8-8 8 4 8-9 8 7 8 1 8 3 8 0 8-8 8 0 8 4 8-7 8 6M0 108l8-5 8 7 8-7 8 8 8-5 8-4 8 5 8-4 8 6 8-4 8 0 8 4 8 5 8-9 8 8 8 2 8 0 8-7 8 0 8 6 8-11 8 9 8-7 8-2 8 0 8 3 8 8 8-10 8 7 8-2 8-2 8 3 8-5 8-2 8 1 8 7 8-4 8 1 8 1 8-1 8 0 8 2 8 1 8-4 8 4 8-3 8 4 8-2 8-2 8 5 8-8 8 4 8 2 8-7 8 6 8-6 8 6 8 2 8-3 8 3 8-7 8 7 8-1 8-1 8 0 8 1 8 2 8-5 8 4 8-7 8 6 8-2 8 5 8-2 8-5 8-1 8 6 8-8 8 5M0 120l8-2 8 5 8-7 8 5 8 0 8-6 8 5 8-3 8 3 8-5 8 0 8 6 8 3 8-4 8 9 8-1 8-2 8-5 8-2 8 8 8-10 8 8 8-7 8-1 8 0 8 3 8 6 8-7 8 4 8-1 8-1 8 0 8-4 8-1 8 3 8 3 8-2 8-2 8 3 8 1 8-3 8 5 8-1 8-3 8 3 8-1 8 5 8-2 8-4 8 5 8-9 8 4 8 4 8-6 8 1 8-4 8 6 8 1 8 1 8 2 8-5 8 2 8 1 8-2 8-2 8 6 8 2 8-8 8 4 8-7 8 6 8 0 8 3 8-2 8-6 8 2 8 4 8-9 8 4M0 132l8-1 8 4 8-6 8 5 8 0 8-5 8 4 8-5 8 5 8-3 8 0 8 2 8 5 8-5 8 8 8-1 8 0 8-3 8-4 8 8 8-11 8 9 8-5 8-1 8-2 8 1 8 7 8-8 8 3 8 4 8-4 8 3 8-7 8 2 8 0 8 4 8-3 8 0 8 4 8-1 8-4 8 7 8-2 8-5 8 3 8 1 8 4 8-1 8-7 8 8 8-8 8 4 8 1 8-7 8 6 8-4 8 5 8 0 8 0 8 2 8-5 8 4 8-1 8-2 8 1 8 2 8 2 8-4 8 2 8-9 8 7 8 0 8 5 8-3 8-6 8 1 8 5 8-7 8 2M0 145l8-1 8 3 8-4 8 3 8 0 8-4 8 5 8-6 8 5 8-3 8-1 8 5 8 3 8-6 8 9 8 0 8-1 8-5 8 0 8 6 8-11 8 8 8-5 8-3 8 0 8 3 8 4 8-6 8 5 8-1 8-1 8 0 8-3 8 0 8 1 8 3 8-1 8-1 8 4 8-4 8 1 8 6 8-2 8-5 8 2 8 3 8 2 8-1 8-5 8 5 8-7 8 3 8 1 8-5 8 5 8-7 8 9 8-1 8 0 8 1 8-5 8 5 8-3 8 0 8-1 8 4 8 0 8-4 8 2 8-4 8 6 8 0 8 1 8 0 8-8 8 3 8 3 8-8 8 7M0 158l8-2 8 6 8-8 8 8 8-3 8-4 8 6 8-7 8 7 8-5 8-1 8 5 8 3 8-7 8 12 8-4 8 1 8-5 8-1 8 7 8-11 8 9 8-7 8-3 8 0 8 3 8 6 8-7 8 5 8 1 8-5 8 2 8-3 8-2 8 1 8 6 8-3 8-1 8 3 8-1 8-1 8 4 8 0 8-5 8 3 8 3 8 1 8-3 8-5 8 9 8-8 8 3 8 2 8-7 8 3 8-3 8 7 8 0 8-1 8 2 8-4 8 3 8-2 8 2 8-4 8 5 8 1 8-5 8 1 8-4 8 4 8 1 8 5 8-4 8-5 8 2 8 2 8-6 8 5M0 170l8-2 8 5 8-6 8 7 8-2 8-3 8 2 8-2 8 4 8-5 8 1 8 3 8 3 8-6 8 11 8-3 8-1 8-2 8-2 8 6 8-9 8 6 8-4 8-2 8 1 8 1 8 4 8-5 8 5 8-2 8-1 8-1 8-4 8 0 8 3 8 6 8-3 8-3 8 5 8-4 8-1 8 7 8-2 8-4 8 4 8 2 8 1 8-2 8-5 8 7 8-9 8 3 8 3 8-7 8 3 8-3 8 5 8 3 8-4 8 3 8-6 8 7 8-3 8-1 8-1 8 3 8 3 8-4 8 2 8-6 8 4 8 1 8 3 8 0 8-6 8 2 8 0 8-4 8 4M0 185l8-4 8 5 8-6 8 4 8 1 8-3 8 4 8-4 8 3 8-4 8-1 8 3 8 6 8-7 8 11 8-2 8-3 8-3 8-1 8 6 8-9 8 7 8-3 8-3 8 1 8 1 8 3 8-5 8 4 8 1 8-3 8 2 8-5 8-1 8 4 8 2 8 0 8-4 8 2 8 0 8 0 8 6 8-4 8-3 8 4 8 3 8 0 8-2 8-5 8 8 8-10 8 5 8 1 8-6 8 5 8-5 8 5 8 2 8-3 8 5 8-6 8 4 8-1 8-1 8-1 8 3 8 3 8-7 8 4 8-8 8 6 8 0 8 5 8-3 8-5 8 2 8 1 8-5 8 4M0 197l8-1 8 4 8-6 8 4 8-2 8-1 8 4 8-4 8 1 8-2 8 1 8 3 8 2 8-4 8 12 8-5 8-2 8-3 8 0 8 5 8-10 8 7 8-5 8-1 8 1 8 0 8 5 8-6 8 6 8 0 8-4 8 4 8-7 8 1 8 3 8 4 8-3 8-2 8 2 8 0 8-3 8 5 8-1 8-5 8 6 8 3 8 2 8-4 8-4 8 5 8-9 8 5 8 2 8-4 8 3 8-5 8 6 8 1 8-3 8 2 8-3 8 4 8-1 8-1 8 0 8 3 8 0 8-4 8 1 8-4 8 4 8 0 8 4 8-1 8-5 8-1 8 3 8-5 8 4M0 209l8-1 8 5 8-7 8 6 8-1 8-4 8 4 8-3 8 1 8-2 8-1 8 5 8 4 8-6 8 10 8-2 8-2 8-3 8-2 8 5 8-7 8 6 8-5 8 0 8-2 8 3 8 3 8-4 8 1 8 4 8-5 8 1 8-4 8 1 8 0 8 5 8-2 8 0 8 1 8-1 8-2 8 6 8 0 8-5 8 3 8 4 8 1 8-4 8-5 8 8 8-7 8 2 8 2 8-5 8 2 8-2 8 4 8 1 8-1 8 3 8-6 8 3 8 0 8-2 8 2 8 1 8 3 8-6 8 2 8-6 8 6 8-1 8 2 8 1 8-6 8 1 8 3 8-5 8 3M0 223l8-2 8 3 8-2 8 3 8-4 8 0 8 4 8-4 8 1 8-1 8 0 8 0 8 4 8-2 8 11 8-5 8-3 8-3 8-1 8 6 8-9 8 6 8-2 8-1 8-3 8 4 8 3 8-4 8 3 8 1 8-3 8 2 8-6 8 2 8 0 8 5 8-3 8 0 8 1 8-2 8-1 8 4 8 0 8-5 8 6 8 1 8 3 8-4 8-4 8 7 8-10 8 5 8 2 8-5 8 3 8-3 8 4 8 0 8 1 8-1 8-2 8 3 8-3 8 2 8-1 8 4 8-1 8-2 8 0 8-5 8 6 8-3 8 5 8-1 8-6 8 3 8 0 8-4 8 3M0 236l8-3 8 4 8-4 8 4 8-1 8-4 8 5 8-4 8 3 8-4 8 1 8 4 8 2 8-3 8 10 8-4 8-3 8-2 8-1 8 5 8-9 8 8 8-4 8-2 8-2 8 2 8 3 8-4 8 5 8 0 8-2 8 2 8-4 8-1 8 2 8 3 8-2 8-1 8 3 8-3 8 0 8 3 8 1 8-6 8 5 8 2 8 4 8-4 8-5 8 5 8-5 8 2 8 1 8-5 8 3 8-3 8 4 8 1 8-1 8 4 8-7 8 4 8-2 8 0 8 1 8 2 8 2 8-5 8 0 8-3 8 5 8 1 8 3 8-3 8-5 8 0 8 4 8-6 8 3M0 246l8-1 8 6 8-6 8 6 8-4 8 0 8 1 8-4 8 5 8-4 8 2 8 1 8 2 8-1 8 11 8-4 8-3 8-5 8 1 8 4 8-7 8 7 8-6 8 1 8-1 8-1 8 4 8-3 8 4 8-2 8-1 8 2 8-5 8 2 8 0 8 2 8-1 8 0 8 2 8-1 8-2 8 5 8-2 8-2 8 4 8 2 8 1 8-3 8-3 8 4 8-6 8 1 8 2 8-2 8 2 8-3 8 3 8 1 8 0 8 2 8-5 8 2 8 0 8 1 8-3 8 4 8 1 8-3 8 1 8-6 8 4 8 0 8 3 8 0 8-3 8 1 8-1 8-2 8 3M0 262l8-2 8 2 8-2 8 3 8-1 8-2 8 1 8-3 8 4 8-2 8-2 8 4 8 3 8-5 8 13 8-4 8-4 8-4 8-1 8 6 8-6 8 4 8-5 8 2 8-1 8 0 8 4 8-3 8 3 8-1 8-2 8 2 8-5 8 0 8 1 8 5 8-3 8 0 8 1 8 0 8-3 8 3 8 3 8-5 8 3 8 5 8 1 8-6 8-2 8 4 8-5 8 0 8 2 8-1 8 2 8-4 8 4 8 0 8 0 8 1 8-2 8 2 8 0 8 0 8-3 8 2 8 1 8-3 8 1 8-4 8 5 8 1 8 1 8 0 8-3 8-2 8 3 8-5 8 2M0 275l8-3 8 4 8-3 8 3 8-2 8-2 8 3 8-4 8 5 8-2 8-3 8 2 8 3 8-3 8 14 8-5 8-3 8-5 8 1 8 3 8-6 8 6 8-6 8-1 8 2 8 2 8 2 8-5 8 3 8 1 8-3 8 1 8-3 8 0 8 2 8 2 8-2 8-1 8 4 8-3 8 1 8 1 8-1 8 1 8 1 8 6 8 0 8-4 8-6 8 5 8-6 8 5 8 1 8-4 8 1 8-3 8 6 8-1 8 0 8 0 8-3 8 1 8 2 8-1 8-2 8 5 8-1 8-3 8 1 8-4 8 6 8-2 8 2 8 0 8-4 8 2 8-1 8-1 8 0M0 288l8-2 8 1 8-2 8 2 8-1 8-2 8 3 8-1 8 3 8-3 8-2 8 2 8 5 8-6 8 14 8-6 8-1 8-6 8 2 8 2 8-6 8 4 8-1 8-1 8-2 8 2 8 5 8-6 8 3 8-1 8-1 8 3 8-3 8-2 8 0 8 3 8 0 8-1 8 1 8-1 8 1 8 3 8 0 8-3 8 2 8 3 8 2 8-5 8-2 8 2 8-3 8 0 8 4 8-3 8 0 8-4 8 7 8-1 8 0 8 0 8-4 8 5 8-2 8-1 8 0 8 3 8-2 8-1 8 1 8-3 8 2 8 2 8 2 8-1 8-4 8 2 8 0 8-2 8 0M0 301l8-1 8 1 8-3 8 3 8-1 8-4 8 6 8-5 8 2 8-2 8 0 8 4 8-1 8-2 8 14 8-7 8-4 8 0 8-1 8 3 8-4 8 2 8-1 8-1 8-2 8 1 8 4 8-3 8 1 8 0 8-1 8 0 8-1 8 1 8-1 8 3 8 0 8-3 8 4 8-1 8-2 8 3 8 0 8-3 8 3 8 5 8 0 8-5 8-4 8 4 8-4 8 3 8 2 8-3 8 1 8-2 8 1 8 2 8 0 8 2 8-6 8 3 8 0 8-1 8 0 8 1 8 1 8-2 8 0 8-3 8 6 8-1 8 2 8-2 8-2 8 1 8 1 8-6 8 4M0 311l8 1 8 1 8-2 8 4 8-2 8-3 8 3 8-2 8 3 8-4 8 0 8 3 8 0 8 0 8 13 8-7 8-4 8-2 8 0 8 1 8-4 8 4 8-3 8 0 8 0 8 0 8 2 8-1 8 2 8 0 8-1 8 1 8-4 8 2 8-1 8 3 8-1 8-1 8 1 8-1 8-1 8 3 8 0 8-2 8 2 8 4 8 2 8-6 8-2 8 3 8-5 8 4 8 0 8-2 8 0 8-3 8 6 8-1 8-2 8 2 8-2 8 3 8-3 8 1 8 1 8 1 8-1 8-2 8 1 8-2 8 3 8 1 8 1 8-1 8-2 8 0 8 2 8-4 8 3M0 326l8 0 8-1 8 0 8-1 8 2 8-2 8 2 8-1 8 1 8-2 8 1 8 2 8 1 8-3 8 12 8-5 8-3 8-4 8 0 8 3 8-5 8 4 8-1 8-1 8-1 8 1 8 1 8-2 8 1 8 2 8-2 8 0 8 0 8-2 8 3 8 2 8-1 8-3 8 2 8 1 8-4 8 3 8 1 8-2 8 5 8 2 8 0 8-3 8-4 8 3 8-3 8 0 8 1 8-1 8 0 8 0 8 2 8 0 8-2 8 2 8-2 8 2 8-1 8 1 8 0 8 0 8 1 8-2 8 2 8-5 8 4 8 0 8 0 8 0 8-1 8 0 8 1 8-5 8 5M0 338l8 0 8 3 8-3 8 0 8-1 8-1 8 3 8-2 8 0 8-1 8 1 8 2 8 0 8 1 8 10 8-7 8-3 8 0 8-2 8 3 8-6 8 4 8 0 8-2 8 0 8 0 8 3 8-3 8 1 8 2 8-2 8 2 8-3 8-1 8 0 8 2 8 1 8-2 8 1 8-1 8 1 8 3 8-1 8-1 8 1 8 2 8 3 8-5 8-2 8 2 8-4 8 1 8 1 8 0 8 1 8-3 8 3 8 0 8-2 8 4 8-3 8 3 8-2 8 0 8-1 8 1 8 3 8-2 8-1 8-1 8 2 8-1 8 2 8 0 8-3 8 2 8-2 8-2 8 3M0 350l8-1 8 4 8-3 8 2 8-2 8-1 8 2 8-2 8 4 8-4 8 1 8 0 8 3 8-2 8 12 8-7 8-4 8 1 8-3 8 2 8-3 8 3 8-2 8-2 8 2 8 0 8 1 8 0 8-1 8 1 8 1 8-2 8-1 8 2 8 0 8 0 8 0 8 0 8 0 8 2 8-3 8 4 8-2 8-2 8 3 8 2 8 2 8-5 8 0 8 2 8-5 8 1 8 3 8-4 8 3 8-4 8 4 8 1 8-2 8 3 8-4 8 3 8-1 8-1 8 0 8 0 8 1 8 0 8-1 8-1 8 1 8 1 8 1 8 0 8-3 8-1 8 2 8-2 8 1M0 364l8-2 8 2 8 0 8 1 8 0 8-1 8-1 8-1 8 0 8 1 8 0 8 0 8 2 8-1 8 12 8-7 8-2 8-3 8 0 8 1 8-4 8 6 8-3 8-1 8-2 8 1 8 2 8-2 8 2 8 0 8-2 8 2 8-1 8-2 8 3 8 1 8 0 8-2 8 1 8 1 8-2 8 1 8 2 8-2 8 2 8 2 8 2 8-4 8-4 8 3 8-4 8 4 8-1 8 0 8 1 8-4 8 4 8 0 8 0 8 2 8-4 8 1 8 2 8-2 8 1 8 1 8 1 8-2 8 0 8-3 8 1 8 2 8 1 8-1 8 0 8-3 8 4 8-5 8 4M0 377l8-2 8 3 8-1 8 0 8 0 8-3 8 2 8-1 8 1 8-2 8 1 8 0 8 4 8-2 8 11 8-6 8-3 8-2 8 1 8 0 8-3 8 4 8-4 8 1 8-1 8 2 8 1 8-1 8-1 8 2 8-1 8 0 8-1 8 0 8-1 8 2 8-1 8-1 8 1 8 0 8-1 8 4 8-2 8-2 8 3 8 3 8 0 8-4 8-2 8 2 8 0 8 0 8 0 8-1 8 2 8-3 8 1 8 2 8-1 8 0 8-1 8 0 8 3 8-1 8-1 8 3 8-1 8-3 8 1 8-3 8 2 8 2 8 2 8-3 8-2 8 2 8 2 8-2 8-1M0 390l8-1 8 2 8-3 8 1 8 1 8-3 8 2 8-1 8 1 8 0 8-2 8 1 8 3 8-1 8 12 8-6 8-3 8-2 8-2 8 2 8-4 8 3 8-1 8-2 8 2 8-1 8 3 8-1 8-1 8 0 8 0 8 0 8 0 8-3 8 4 8 1 8-1 8-1 8 0 8 1 8-1 8 1 8 0 8-1 8 3 8 3 8 0 8-5 8-2 8 3 8-3 8 1 8 1 8-3 8 2 8-1 8 4 8 0 8-1 8 2 8-3 8 1 8 0 8-2 8 1 8 1 8 0 8-1 8 2 8-4 8 3 8-1 8 1 8 1 8-5 8 1 8 3 8-3 8 0M0 402l8-1 8 2 8-2 8 2 8-1 8-1 8 0 8-1 8 3 8-2 8-1 8 3 8 0 8-2 8 13 8-6 8-4 8-1 8-2 8 3 8-4 8 4 8-2 8-2 8 1 8-1 8 3 8-1 8 1 8 1 8-1 8-2 8 1 8 0 8-2 8 4 8-2 8-1 8 3 8-2 8 1 8-1 8 2 8-4 8 3 8 3 8-1 8-1 8-3 8 3 8-2 8 0 8 3 8-3 8 2 8-3 8 3 8 1 8-3 8 3 8-4 8 3 8-1 8 1 8-3 8 2 8 2 8-1 8 0 8-5 8 5 8-2 8 2 8 1 8-5 8 3 8 1 8-4 8 1M0 414l8 1 8 1 8-4 8 2 8-1 8 2 8-1 8 0 8 0 8 0 8-1 8 1 8 4 8-3 8 13 8-6 8-4 8-4 8 0 8 2 8-2 8 4 8-3 8-3 8 1 8 3 8 1 8-3 8 1 8 0 8 1 8-1 8 0 8-1 8-1 8 2 8-1 8 2 8 0 8-2 8-1 8 3 8 0 8-1 8 1 8 2 8-1 8 0 8-3 8 1 8-1 8 2 8-1 8-2 8 3 8-3 8 2 8 1 8-1 8 2 8-2 8 2 8 0 8-3 8 1 8 2 8 1 8-2 8 0 8-2 8 2 8-1 8 3 8 0 8-2 8-1 8 0 8-1 8 2M0 427l8 0 8 1 8-1 8 1 8-2 8 0 8 1 8 1 8 0 8-2 8 0 8 1 8 2 8-2 8 11 8-3 8-5 8-2 8 0 8 1 8-4 8 3 8-1 8-1 8 1 8 0 8 4 8-5 8 4 8-1 8-3 8 1 8 0 8 1 8-2 8 4 8-3 8 1 8-1 8 1 8 1 8-1 8 0 8-2 8 2 8 2 8 2 8-4 8-1 8 2 8-2 8 2 8 0 8-3 8 3 8-1 8 1 8-1 8 1 8 2 8-4 8 1 8-1 8 1 8 1 8 1 8 1 8-4 8 1 8-1 8 2 8-1 8 2 8-1 8-3 8 1 8 0 8 0 8 0M0 440l8 0 8 1 8-2 8 0 8 3 8-3 8 3 8-4 8 3 8-1 8-1 8 0 8 2 8-2 8 14 8-7 8-2 8-3 8-1 8 3 8-4 8 4 8-3 8-1 8 1 8-1 8 4 8-3 8 2 8-1 8 0 8 1 8-3 8-1 8 2 8 3 8-4 8-1 8 3 8 0 8 0 8 0 8 2 8-4 8 4 8-2 8 1 8-1 8-2 8 4 8-4 8 0 8 4 8-4 8 1 8-2 8 4 8 1 8-3 8 1 8 0 8 0 8 2 8-2 8 0 8 1 8 1 8-2 8 0 8-1 8 0 8 2 8-1 8 2 8-3 8 1 8-1 8-1 8 1M0 454l8 0 8 1 8-4 8 2 8-1 8 0 8 1 8-2 8 3 8-2 8-1 8 4 8-1 8-1 8 11 8-3 8-4 8-4 8 1 8 3 8-6 8 3 8-1 8 0 8-2 8 2 8 2 8-3 8 2 8 1 8-3 8 3 8-4 8 2 8 0 8 0 8 1 8 0 8-1 8-1 8-1 8 5 8-3 8 1 8-1 8 3 8-1 8-1 8-1 8 1 8-3 8 4 8 0 8-2 8 2 8-5 8 3 8 3 8-2 8 0 8-1 8 1 8 0 8-1 8-1 8 5 8-2 8 0 8-2 8-1 8 1 8 1 8 1 8 0 8-3 8 2 8 0 8-4 8 3M0 466l8 0 8 1 8-3 8 4 8-1 8-2 8 1 8-3 8 2 8-2 8 0 8 3 8 1 8-1 8 11 8-6 8-2 8-2 8-1 8 3 8-4 8 4 8-2 8-2 8-1 8 1 8 2 8-1 8 0 8 1 8-2 8 0 8 1 8-3 8 2 8 3 8-3 8 1 8 0 8-1 8-1 8 2 8 2 8-2 8 2 8-2 8 3 8-2 8-1 8 3 8-5 8 3 8-1 8 0 8 1 8-3 8 3 8 2 8-3 8 2 8-2 8 1 8 0 8-1 8 0 8 2 8 1 8-3 8 1 8-2 8 1 8 1 8 1 8 1 8-4 8 2 8 0 8-3 8 1M0 477l8 2 8 1 8-3 8 2 8 0 8-3 8 2 8 0 8 1 8-1 8 0 8 2 8 2 8-5 8 13 8-4 8-4 8-4 8 0 8 3 8-5 8 4 8-1 8-2 8 0 8 0 8 3 8-1 8 1 8 0 8-2 8 2 8-2 8-2 8 2 8 2 8-1 8-2 8 2 8-1 8 0 8 1 8 0 8-1 8 0 8 1 8 3 8-2 8-2 8 3 8-3 8-1 8 4 8-2 8-1 8-1 8 4 8 0 8-2 8 0 8-1 8 2 8 0 8-1 8 0 8 2 8 1 8-3 8 1 8-3 8 4 8-2 8 4 8-2 8-3 8 1 8 0 8-4 8 5M0 491l8-1 8 3 8-2 8 2 8-3 8 0 8 2 8-3 8 4 8-4 8 1 8 3 8 0 8-2 8 12 8-4 8-4 8-2 8-2 8 2 8-3 8 4 8-2 8-1 8-2 8 1 8 2 8-1 8 0 8 0 8 1 8 0 8-4 8 2 8 1 8 2 8-3 8 2 8 0 8 0 8 0 8 2 8 0 8-5 8 3 8 1 8 0 8 2 8-5 8 4 8-5 8 2 8 3 8-4 8 2 8-3 8 2 8 2 8 0 8 2 8-3 8 0 8-1 8 0 8 1 8 1 8 1 8-2 8 1 8-4 8 5 8-2 8 4 8-2 8-5 8 2 8 2 8-4 8 3M0 503l8-1 8 4 8-4 8 4 8-1 8-2 8 2 8-1 8 0 8-1 8-2 8 3 8 3 8-5 8 15 8-7 8-2 8-4 8 1 8 2 8-4 8 4 8-3 8-1 8-1 8 1 8 4 8-5 8 4 8-2 8-1 8 1 8-1 8 1 8-1 8 3 8-3 8 2 8 1 8-3 8-1 8 5 8-3 8 0 8 1 8-1 8 3 8-2 8-1 8 2 8-2 8 0 8 3 8-5 8 4 8-2 8 1 8 0 8 0 8 2 8-4 8 3 8-2 8 1 8 0 8 1 8 2 8-5 8 4 8-6 8 6 8 0 8 2 8-2 8-4 8 1 8 2 8-4 8 4M0 515l8 0 8 4 8-4 8 3 8-3 8-1 8 3 8-1 8 2 8-4 8 2 8-1 8 5 8-2 8 10 8-3 8-4 8-5 8 0 8 4 8-6 8 6 8-5 8 1 8-1 8 0 8 4 8-5 8 4 8 1 8-2 8 1 8-5 8 2 8-1 8 5 8-3 8 1 8 0 8 0 8 0 8 1 8 0 8-1 8 0 8 2 8 2 8-2 8-4 8 4 8-3 8 0 8 3 8-4 8 1 8-1 8 2 8 2 8-1 8 1 8-4 8 3 8-1 8 0 8-1 8 5 8-1 8-1 8-2 8-1 8 3 8 0 8 2 8-1 8-5 8 3 8-1 8-3 8 2M0 529l8-1 8 3 8-2 8 0 8 1 8-3 8 4 8-3 8 2 8-4 8 1 8 3 8 4 8-6 8 14 8-5 8-3 8-4 8 1 8 2 8-4 8 2 8-1 8-2 8-1 8 1 8 3 8-2 8 2 8-1 8-1 8 0 8-3 8 0 8 2 8 5 8-2 8-1 8 1 8-1 8 0 8 3 8-1 8-3 8 1 8 1 8 3 8-1 8-5 8 6 8-7 8 2 8 4 8-4 8 2 8-5 8 6 8 1 8-1 8 1 8-3 8 2 8-1 8 0 8 0 8 2 8 1 8-5 8 4 8-5 8 5 8-3 8 5 8-2 8-5 8 3 8-1 8-4 8 4M0 541l8 0 8 4 8-4 8 3 8-2 8-1 8 3 8-4 8 4 8-3 8-1 8 1 8 5 8-3 8 10 8-3 8-3 8-3 8-3 8 5 8-8 8 6 8-1 8-3 8 1 8 1 8 3 8-5 8 3 8 2 8-3 8 1 8-4 8 0 8 3 8 2 8-1 8 0 8-1 8 1 8-3 8 6 8-3 8-2 8 4 8-2 8 2 8 1 8-4 8 6 8-8 8 2 8 4 8-5 8 3 8-5 8 6 8-1 8 0 8 0 8-3 8 5 8-3 8 2 8-3 8 3 8 0 8-2 8 2 8-5 8 4 8 1 8 3 8-2 8-6 8 3 8 1 8-3 8 1M0 555l8-1 8 2 8-3 8 4 8-1 8-3 8 2 8-1 8 0 8 0 8-1 8 2 8 3 8-3 8 13 8-5 8-3 8-5 8-1 8 4 8-4 8 6 8-7 8 0 8 0 8 0 8 5 8-4 8 3 8-1 8 0 8-1 8-2 8-1 8 3 8 3 8-2 8-1 8 1 8 1 8-2 8 4 8-2 8-4 8 4 8 0 8 3 8-3 8-4 8 6 8-5 8 0 8 4 8-6 8 3 8-4 8 5 8 1 8 1 8 2 8-7 8 4 8 1 8-3 8 0 8 3 8 0 8-3 8 2 8-5 8 7 8-3 8 2 8 1 8-5 8 2 8 1 8-4 8 2M0 566l8 1 8 3 8-5 8 4 8-1 8-4 8 4 8-2 8 2 8-4 8 2 8 1 8 5 8-7 8 15 8-5 8-3 8-1 8-4 8 4 8-7 8 7 8-3 8-2 8-1 8 3 8 2 8-5 8 5 8 1 8-3 8 2 8-4 8-1 8 3 8 3 8-4 8 0 8 3 8-2 8-2 8 6 8-2 8-3 8 3 8 0 8 0 8 0 8-5 8 7 8-6 8 3 8 2 8-5 8 2 8-3 8 4 8 3 8-2 8 3 8-7 8 5 8-1 8-1 8 0 8 3 8 1 8-4 8 1 8-4 8 3 8 1 8 3 8-2 8-5 8 0 8 4 8-4 8 2M0 579l8-1 8 3 8-3 8 5 8-2 8-4 8 5 8-6 8 6 8-5 8-1 8 5 8 2 8-4 8 11 8-2 8-3 8-2 8-4 8 7 8-10 8 7 8-3 8-2 8 0 8 2 8 3 8-3 8 1 8 3 8-3 8 1 8-6 8 3 8-2 8 6 8-3 8-2 8 4 8 0 8-2 8 3 8 0 8-4 8 2 8 2 8 3 8-2 8-3 8 4 8-5 8-1 8 4 8-6 8 4 8-3 8 5 8 0 8-2 8 2 8-4 8 3 8-1 8 2 8-2 8 3 8 0 8-2 8 0 8-5 8 6 8 0 8 4 8-2 8-4 8 1 8 1 8-5 8 2M0 592l8-3 8 8 8-6 8 4 8-3 8-2 8 3 8-3 8 5 8-5 8-1 8 3 8 5 8-4 8 12 8-4 8-4 8-3 8-2 8 7 8-9 8 9 8-5 8-2 8-1 8 2 8 3 8-6 8 5 8 0 8-3 8 2 8-5 8 3 8 0 8 5 8-2 8-3 8 4 8-3 8 0 8 5 8-3 8-5 8 4 8 1 8 2 8-2 8-2 8 6 8-8 8 1 8 6 8-7 8 2 8-4 8 7 8 2 8-3 8 3 8-6 8 3 8 1 8-2 8-2 8 5 8 0 8-4 8 2 8-5 8 6 8 0 8 2 8-2 8-3 8-1 8 3 8-5 8 4M0 606l8-3 8 6 8-5 8 3 8-3 8 0 8 3 8-6 8 4 8-1 8-2 8 4 8 5 8-5 8 12 8-4 8-4 8-4 8 1 8 5 8-11 8 8 8-5 8 1 8-3 8 4 8 5 8-7 8 5 8-2 8-2 8 1 8-2 8-2 8 4 8 3 8-4 8 1 8 1 8-1 8-2 8 7 8-1 8-4 8 0 8 2 8 3 8-1 8-5 8 7 8-8 8 3 8 1 8-6 8 5 8-5 8 6 8 0 8 0 8 1 8-3 8 4 8-2 8-2 8 1 8 2 8 2 8-6 8 5 8-7 8 5 8-1 8 5 8-1 8-5 8-1 8 3 8-6 8 5M0 617l8 0 8 6 8-7 8 2 8-1 8-3 8 6 8-5 8 4 8-4 8 0 8 4 8 4 8-4 8 12 8-4 8-2 8-4 8-2 8 4 8-7 8 8 8-7 8 0 8-2 8 4 8 4 8-6 8 3 8 0 8-2 8 2 8-6 8 1 8 3 8 4 8-2 8-1 8 3 8-1 8-3 8 4 8-1 8-4 8 2 8 0 8 6 8-2 8-6 8 8 8-8 8 3 8 3 8-7 8 2 8-2 8 5 8 2 8-3 8 3 8-4 8 1 8 1 8 0 8-2 8 5 8 0 8-3 8 1 8-5 8 3 8 0 8 4 8 0 8-8 8 2 8 4 8-5 8 1M0 630l8-1 8 6 8-6 8 5 8-4 8-3 8 4 8-3 8 3 8-4 8 3 8 2 8 4 8-6 8 8 8 0 8-2 8-4 8-2 8 6 8-9 8 8 8-6 8 0 8 1 8 1 8 4 8-5 8 2 8 1 8-3 8 3 8-4 8-1 8 2 8 3 8 0 8-3 8 4 8-4 8 1 8 4 8 1 8-5 8 3 8-2 8 3 8-1 8-2 8 4 8-7 8 3 8 4 8-8 8 3 8-5 8 10 8-1 8-1 8 2 8-6 8 3 8-1 8 2 8-3 8 6 8-1 8-3 8 0 8-4 8 5 8-1 8 4 8-3 8-5 8 3 8 1 8-6 8 6" stroke="#000" stroke-width="2.9" fill="none" stroke-linejoin="round"/>
<path d="M1046.6 586V905.4" stroke="#000" stroke-width="2.6" stroke-dasharray="7 4.5"/>
<rect x="1001.5" y="586" width="315.9" height="319.4" fill="none" stroke="#555" stroke-width=".8"/>
<path transform="translate(120.7 1021.7) scale(.5)" d="M0 4l8 5 8-6 8 4 8-3 8 1 8 5 8-6 8 2 8-1 8 0 7 1 8-2 8 5 8-5 3 0 2 1 2 0 2 1 2-1 2 0 2 0 2 0 2 0 2-1 2 0 2 0 2 0 5 0 8 4 8-3 8-1 8 2 8 3 8-4 8 1 8 1 8 0 8-1 8 0 7 2 8 0 8 2 8-3 8-4 8 2 8 4 8-4 8 0 8 4 8-2 8 0 8 1 8-3 8 0 8 3 8-4 8 5 8-4 8 2 8 0 7 2 8-1 8-2 8-2 8-1 8 4 8 0 8-3 8 3 8-1 8 1 8-3 8 2 8-2 8 1 8 1 8-1 8 0 8 3 7 1 8-4 8-1 8 1 8 4 8 1 8-4 8 3 8-5 8-1 8 5M0 19l8 2 8-3 8 3 8-4 8 1 8 5 8-5 8 1 8 1 8-2 7 1 8 0 8 3 8-6 3 0 2 1 2 0 2 0 2 0 2 0 2 0 2 0 2 0 2 1 2 0 2 1 2 0 5 0 8 4 8-4 8-1 8 0 8 4 8-6 8 4 8-1 8 2 8-3 8 1 7 1 8-1 8 2 8-2 8-1 8-2 8 5 8-1 8-3 8 4 8 0 8-1 8 1 8-2 8 0 8 3 8-6 8 6 8-5 8 4 8-1 7 3 8-1 8-3 8-1 8 0 8 3 8-1 8-3 8 3 8 0 8 1 8-5 8 2 8-1 8 2 8 0 8-1 8 1 8 3 7 0 8-5 8 0 8 1 8 3 8 1 8-5 8 5 8-3 8-2 8 4M0 30l8 4 8-5 8 4 8-3 8-1 8 6 8-5 8 2 8-1 8 0 7 1 8-1 8 2 8-4 3 0 2 0 2 1 2 0 2 0 2-1 2 0 2-1 2 1 2 1 2 1 2 0 2 0 5-1 8 3 8-2 8-1 8 1 8 4 8-6 8 5 8-2 8 1 8-2 8 3 7-1 8 1 8-1 8-1 8-2 8-1 8 6 8-4 8 0 8 4 8-2 8 0 8 2 8-4 8 1 8 3 8-5 8 5 8-5 8 3 8 1 7 1 8-2 8-1 8-2 8-1 8 4 8-1 8-1 8 3 8-1 8-1 8-2 8 1 8-1 8 2 8-1 8-1 8 1 8 2 7 1 8-3 8 0 8 0 8 2 8 1 8-3 8 1 8-2 8-1 8 3M0 45l8 2 8-4 8 4 8-6 8 4 8 1 8-3 8 3 8 0 8-2 7 2 8-3 8 3 8-4 3 0 2 0 2 0 2 1 2-1 2 0 2-1 2 0 2 0 2 0 2 0 2 0 2 0 5 1 8 4 8-4 8-1 8-1 8 5 8-4 8 4 8-3 8 1 8-1 8 3 7-1 8 1 8 1 8-1 8-2 8 0 8 5 8-3 8-3 8 6 8-3 8 2 8 0 8-3 8 0 8 3 8-5 8 4 8-3 8 2 8 1 7 1 8-1 8-2 8-1 8 0 8 1 8 0 8-1 8 3 8 0 8 1 8-5 8 2 8-3 8 4 8-2 8 0 8 0 8 4 7-1 8-4 8 3 8-1 8 2 8 1 8-4 8 2 8-1 8-2 8 5M0 56l8 5 8-7 8 6 8-6 8 2 8 4 8-3 8 2 8 0 8-1 7-1 8-2 8 3 8-2 3 0 2 0 2 1 2 0 2-1 2-2 2-2 2-2 2-1 2-1 2-1 2 0 2 0 5 1 8 2 8-3 8 0 8 0 8 3 8-4 8 5 8 0 8 1 8 0 8 3 7-1 8 2 8 2 8-2 8-2 8 1 8 5 8-4 8 1 8 3 8-1 8 0 8 0 8-2 8-1 8 4 8-6 8 4 8-3 8 5 8-1 7 2 8-1 8-1 8-3 8 0 8 2 8-1 8-1 8 4 8-3 8 1 8-3 8 2 8-2 8 1 8 1 8 0 8-1 8 3 7 2 8-6 8 1 8 0 8 3 8 2 8-5 8 4 8-5 8 0 8 5M0 69l8 3 8-3 8 2 8-3 8 2 8 4 8-6 8 4 8-1 8-1 7 0 8-2 8 4 8-4 3 0 2 0 2 0 2 0 2-1 2-3 2-2 2-2 2-1 2-1 2 0 2 0 2-1 5-1 8 3 8-3 8 0 8 0 8 5 8-4 8 3 8 1 8 2 8 0 8 4 7 0 8 2 8 2 8-2 8-2 8 1 8 5 8-3 8-1 8 4 8-2 8 0 8 1 8-3 8 0 8 4 8-6 8 3 8-1 8 2 8 1 7 2 8-1 8-3 8 0 8-1 8 1 8-1 8-2 8 6 8-2 8 0 8-2 8 0 8-1 8 1 8 1 8 0 8 0 8 2 7 0 8-3 8 0 8 0 8 2 8 2 8-5 8 3 8-3 8-1 8 4M0 82l8 3 8-3 8 2 8-2 8-1 8 4 8-4 8 3 8-1 8 0 7 0 8-2 8 3 8-4 3 0 2 0 2 0 2 0 2-1 2-1 2-2 2-2 2-1 2-1 2-1 2-1 2 0 5-1 8 4 8-4 8-1 8 2 8 4 8-3 8 4 8-1 8 3 8-1 8 4 7-1 8 1 8 1 8 0 8-1 8-1 8 6 8-2 8-1 8 2 8 1 8-2 8 3 8-3 8-1 8 4 8-5 8 3 8-2 8 3 8-2 7 1 8 2 8-3 8 0 8-2 8 3 8-2 8-2 8 4 8 0 8 0 8-2 8-1 8-1 8 2 8 0 8 0 8 1 8 1 7 2 8-3 8 0 8-3 8 4 8 2 8-4 8 2 8-1 8-1 8 3M0 93l8 5 8-4 8 3 8-2 8-2 8 4 8-2 8 0 8 0 8 1 7-1 8 1 8 2 8-4 3 0 2 0 2 0 2 0 2-1 2-2 2-2 2-2 2-1 2 0 2 0 2 0 2 0 5 0 8 2 8-3 8-2 8 2 8 4 8-4 8 3 8 0 8 2 8-1 8 5 7 0 8 1 8 1 8 0 8-4 8 1 8 6 8-3 8 0 8 2 8-3 8 0 8 2 8-1 8-1 8 3 8-3 8 1 8-3 8 5 8-1 7-1 8 2 8-2 8-1 8-2 8 2 8 1 8-2 8 3 8 0 8-1 8 0 8-2 8 0 8 2 8-1 8 1 8 0 8 2 7 0 8-3 8 0 8 1 8 1 8-1 8-2 8 4 8-4 8-2 8 5M0 108l8 4 8-4 8 2 8-3 8 1 8 4 8-4 8 0 8 1 8-2 7 1 8-1 8 4 8-5 3 0 2 0 2 1 2 0 2 0 2-2 2-1 2-1 2-1 2-1 2-1 2 0 2 0 5 0 8 2 8-1 8 0 8 0 8 4 8-4 8 3 8-2 8 3 8-1 8 4 7-2 8 1 8 2 8 0 8-2 8 0 8 3 8-1 8-2 8 3 8-2 8 1 8 1 8-2 8 1 8 0 8-2 8 2 8-2 8 1 8 2 7 1 8 0 8-3 8-2 8 2 8 1 8-1 8-2 8 5 8-3 8 1 8-1 8 1 8-4 8 2 8-1 8 3 8-2 8 4 7-1 8-3 8 0 8 1 8 0 8 3 8-3 8 2 8-4 8-1 8 4M0 121l8 1 8-1 8 2 8-3 8 1 8 3 8-5 8 3 8-2 8 1 7 2 8-3 8 3 8-4 3 1 2 0 2 1 2 0 2 0 2-2 2-2 2 0 2 0 2 0 2 0 2 0 2 0 5-1 8 2 8-2 8-2 8 2 8 4 8-4 8 2 8-1 8 3 8 0 8 0 7-2 8 3 8 2 8-2 8-2 8-1 8 6 8-4 8 0 8 3 8-2 8 1 8 2 8-2 8-2 8 1 8-2 8 2 8 0 8 0 8 1 7 2 8-1 8-2 8-2 8 0 8 2 8 1 8-3 8 4 8-2 8 1 8-1 8-2 8 1 8 0 8 0 8 2 8-2 8 3 7 0 8-3 8 0 8 0 8 2 8 1 8-3 8 2 8-1 8-3 8 3M0 133l8 3 8-2 8 0 8-3 8 2 8 2 8-2 8 1 8-1 8 1 7 0 8-1 8 3 8-4 3 1 2 0 2 1 2 1 2-1 2-1 2-2 2-1 2 0 2 0 2 0 2 0 2 0 5 1 8 1 8 0 8-3 8 3 8 1 8-3 8 2 8-1 8 1 8 2 8-1 7 2 8-1 8 2 8-3 8 0 8 0 8 2 8-1 8 0 8 1 8-2 8 2 8 1 8-3 8 2 8 0 8-2 8 2 8-3 8 2 8 1 7 2 8-3 8 1 8-2 8 0 8 0 8 0 8 0 8 4 8-2 8-1 8 0 8-2 8 0 8 2 8-1 8 0 8 0 8 2 7-1 8 0 8-1 8-1 8 2 8 1 8-2 8 2 8-1 8-2 8 4M0 145l8 3 8-2 8 1 8-2 8 2 8 2 8-3 8 2 8-1 8 0 7 1 8-3 8 3 8-2 3 0 2 0 2 1 2 1 2-1 2-1 2-2 2-1 2 1 2 0 2 0 2 0 2 0 5 1 8 2 8-3 8-1 8 2 8 1 8-1 8 3 8-2 8 1 8-2 8 1 7 0 8 1 8 0 8 0 8 0 8-2 8 3 8-1 8 0 8 0 8 0 8 2 8-1 8-2 8 0 8 3 8-4 8 4 8-3 8 3 8-2 7 0 8 1 8-1 8-1 8 0 8 0 8 2 8-4 8 3 8-1 8 1 8-2 8 2 8-2 8 0 8 1 8 2 8-1 8 0 7 1 8-2 8 1 8-1 8 0 8 3 8-2 8 2 8-3 8-2 8 4M0 160l8 2 8-3 8 1 8 0 8-2 8 4 8-2 8 0 8 0 8-1 7 1 8-2 8 3 8-4 3 0 2 1 2 1 2 1 2-1 2-1 2-1 2 0 2 0 2 0 2 1 2 0 2 0 5-1 8 4 8-1 8-1 8-2 8 4 8-4 8 3 8-2 8 3 8-2 8 0 7 0 8 0 8 2 8-1 8 0 8-2 8 2 8 0 8-1 8 2 8 0 8 0 8 0 8-3 8 2 8 2 8-2 8 0 8-2 8 2 8 0 7 2 8-2 8 1 8-2 8-1 8 2 8-2 8 1 8 2 8-2 8 0 8 0 8 1 8-3 8 3 8-1 8 0 8 2 8-1 7 1 8-3 8 1 8 0 8 2 8-1 8-2 8 1 8 0 8-2 8 4M0 172l8 3 8-3 8 1 8-1 8-1 8 3 8-4 8 4 8-1 8-1 7 1 8-2 8 3 8-2 3 0 2 0 2 1 2 1 2 0 2-1 2-2 2 0 2 0 2 0 2 0 2 0 2 0 5 1 8 2 8-3 8-1 8 1 8 1 8-1 8 2 8-2 8 3 8-3 8 2 7-2 8 2 8 1 8-1 8-3 8 0 8 3 8-1 8 0 8 3 8-2 8 0 8-1 8-1 8 1 8 2 8-3 8 2 8-2 8 2 8 0 7 0 8 2 8-2 8-1 8 0 8 1 8-1 8 0 8 2 8-1 8 1 8-1 8-2 8-1 8 2 8-1 8 2 8-2 8 2 7 1 8-1 8-2 8-1 8 3 8 1 8-3 8 1 8 1 8-3 8 4M0 184l8 2 8-2 8 1 8 0 8-1 8 2 8-2 8 2 8-2 8 2 7-1 8 0 8 2 8-4 3 0 2 0 2 1 2 2 2 0 2-2 2-1 2 0 2 1 2 0 2 1 2 0 2 0 5-1 8 2 8 0 8-1 8 1 8 0 8-2 8 1 8 0 8 1 8-1 8 1 7 0 8 0 8-1 8 1 8-3 8 2 8 1 8-2 8-1 8 4 8-3 8 2 8-1 8 0 8 1 8-1 8 0 8 1 8-2 8 3 8-2 7 3 8-2 8-2 8 0 8-1 8 3 8-2 8 0 8 3 8-2 8 1 8-1 8-1 8 1 8 0 8-1 8 0 8 0 8 3 7-1 8-3 8 3 8-3 8 3 8 0 8-1 8 1 8 0 8-3 8 3M0 198l8 1 8-1 8 0 8-2 8 1 8 3 8-1 8-2 8 0 8 0 7 0 8 0 8 2 8-2 3 0 2 0 2 1 2 1 2 1 2-2 2-1 2 1 2-1 2 0 2 0 2 0 2 0 5 1 8 1 8-1 8 0 8 0 8 1 8-3 8 2 8 0 8 1 8 0 8 0 7-2 8 1 8 1 8-2 8 0 8-1 8 4 8-2 8-1 8 2 8 0 8 0 8-1 8 1 8-2 8 1 8-2 8 3 8-1 8 0 8 1 7 1 8 0 8-1 8-1 8-1 8 0 8 0 8 1 8 1 8 0 8-1 8 0 8 0 8-1 8 0 8 2 8-2 8 2 8 1 7-2 8-2 8 1 8-1 8 2 8 0 8 0 8 0 8 0 8-2 8 2M0 210l8 0 8 1 8 0 8-1 8 1 8 2 8-4 8 1 8 0 8 1 7-1 8 0 8 2 8-1 3-1 2 0 2 1 2 1 2 1 2-2 2-2 2 0 2 0 2 0 2 0 2 0 2 1 5 0 8 1 8-1 8 1 8-2 8 2 8-1 8 0 8 2 8-1 8 0 8 1 7-1 8 1 8-1 8-1 8-1 8-1 8 5 8-2 8-2 8 2 8-1 8 1 8 2 8-4 8 2 8 1 8-3 8 1 8 1 8 1 8-1 7 2 8-2 8 1 8-1 8-1 8 0 8 0 8-1 8 3 8-2 8 1 8-1 8-1 8 2 8 0 8 0 8 1 8-1 8 0 7 2 8-4 8 2 8 0 8-1 8 1 8-1 8 2 8-2 8-1 8 3M0 223l8 1 8-3 8 4 8-1 8 0 8 1 8-2 8 2 8-1 8-1 7 1 8-2 8 2 8-2 3 0 2 0 2 2 2 2 2 1 2-3 2-2 2 0 2 1 2 0 2 0 2 1 2 0 5 0 8-1 8 0 8 1 8-2 8 2 8-1 8 0 8 1 8-1 8 1 8 0 7-1 8 1 8 0 8-1 8 0 8-2 8 4 8-2 8 0 8 3 8-2 8 0 8 1 8-2 8 0 8 3 8-2 8-1 8 0 8 2 8 0 7 0 8-2 8 0 8-1 8 1 8 0 8-1 8 2 8 0 8 0 8 0 8-1 8 0 8 1 8-2 8 2 8 1 8 0 8-1 7-1 8 0 8 0 8 1 8-1 8 1 8-2 8 2 8-1 8-1 8 3M0 237l8-1 8 0 8 1 8-3 8 1 8 2 8-2 8 1 8-1 8 2 7 0 8-2 8 3 8-3 3 1 2 0 2 3 2 3 2 0 2-3 2-2 2 0 2 0 2 0 2 0 2 0 2-1 5-1 8 3 8-3 8-1 8 2 8 1 8 0 8 0 8-2 8 2 8-1 8-1 7 2 8 0 8 1 8-1 8-1 8-2 8 4 8-1 8-1 8 1 8 0 8-1 8 1 8 0 8-1 8 2 8-1 8 0 8-1 8-1 8 1 7 1 8-1 8 1 8-1 8-1 8 2 8-1 8-2 8 2 8-1 8 2 8-1 8-1 8 1 8-1 8 2 8-1 8-1 8 1 7 0 8 1 8-1 8-1 8 1 8 2 8-3 8 3 8-3 8-1 8 1M0 250l8 1 8-2 8 1 8-3 8 2 8 0 8-1 8 2 8-2 8 2 7-2 8-1 8 2 8-1 3 0 2 0 2 3 2 2 2 1 2-3 2-2 2 0 2 0 2 0 2-1 2 0 2 1 5 0 8 0 8 0 8-2 8 1 8 1 8-1 8 2 8-2 8 1 8 0 8-1 7 1 8 1 8 0 8 0 8-2 8 0 8 1 8 0 8 1 8 0 8-2 8 1 8 2 8-4 8 3 8 1 8-2 8 1 8-2 8 2 8-1 7 2 8-2 8 0 8-1 8 1 8 1 8-1 8-1 8 3 8-3 8 1 8 0 8 0 8-1 8 0 8 1 8 0 8-2 8 2 7 2 8-3 8 0 8 0 8 2 8-1 8-1 8 3 8-3 8 0 8 1M0 260l8 2 8-2 8 2 8-2 8 1 8 2 8 0 8-1 8 0 8-1 7 1 8-2 8 2 8-2 3 1 2 1 2 3 2 4 2 0 2-4 2-3 2 0 2-1 2 0 2 0 2-1 2 0 5 0 8 2 8-1 8 1 8-1 8 3 8-2 8 0 8 1 8 0 8-2 8 2 7 0 8-1 8 1 8-2 8 1 8 0 8 2 8-1 8-1 8 1 8-1 8 0 8 0 8-1 8-1 8 2 8 0 8-1 8 0 8 1 8 1 7 1 8-1 8-1 8 0 8-1 8 1 8 0 8-1 8 1 8 0 8 1 8-1 8-2 8 1 8 0 8 2 8-1 8 0 8 0 7 0 8-1 8 0 8 1 8 1 8-1 8-1 8 1 8 1 8-2 8 2M0 273l8 4 8-2 8-1 8-1 8 2 8-1 8 0 8 0 8 1 8-1 7 0 8-1 8 2 8-3 3 1 2 0 2 4 2 4 2 1 2-5 2-3 2 0 2 0 2 0 2 0 2 0 2 0 5-1 8 3 8-1 8-2 8 1 8 1 8-2 8 1 8 1 8-1 8 1 8 0 7-1 8 1 8-1 8 1 8-2 8 2 8 0 8-1 8 0 8 2 8-1 8 0 8 0 8 0 8-1 8 0 8 1 8-1 8 0 8 0 8 0 7 0 8 1 8-2 8 2 8 0 8 1 8-1 8 0 8-1 8 1 8 1 8-2 8-1 8 0 8 2 8-2 8 0 8 2 8 0 7 1 8-3 8 1 8 1 8 1 8 1 8-3 8 0 8 1 8-2 8 3M0 287l8 2 8-2 8 1 8-2 8 1 8 0 8 0 8 2 8-3 8 0 7 0 8 0 8 3 8-1 3-1 2 0 2 4 2 5 2 0 2-6 2-4 2 0 2 0 2 0 2 0 2 0 2 0 5 1 8 2 8-1 8-2 8 2 8-1 8 1 8 0 8-2 8 2 8 0 8 1 7-2 8 1 8 1 8-2 8-1 8 0 8 3 8 0 8-2 8 2 8-2 8 1 8 0 8-1 8 1 8-1 8-1 8 1 8-1 8 1 8 0 7 0 8 0 8 0 8 1 8-1 8 0 8 0 8-1 8 1 8 2 8-1 8-1 8-1 8 0 8 0 8 0 8 1 8-1 8 2 7 1 8-1 8 0 8-2 8 3 8 0 8-3 8 2 8-2 8 0 8 2M0 301l8-1 8-2 8 2 8-1 8-1 8 4 8-4 8 3 8 0 8-2 7 2 8-1 8 1 8-2 3 0 2 1 2 5 2 5 2 1 2-7 2-5 2 0 2 0 2 0 2 0 2 0 2 0 5 0 8 2 8-2 8 1 8-1 8 3 8-4 8 3 8-2 8 1 8 0 8 0 7 0 8 0 8 1 8-1 8-1 8 0 8 1 8 1 8-2 8 1 8 0 8 1 8 1 8-3 8 0 8 1 8 1 8-2 8 0 8 1 8 1 7 0 8 0 8-1 8 1 8-1 8 1 8-1 8-2 8 4 8-2 8 1 8-2 8 0 8 0 8 1 8-1 8 0 8 0 8 3 7-2 8-1 8 0 8 0 8 2 8 1 8-3 8 3 8-2 8 0 8 0M0 312l8 3 8-2 8 0 8 0 8-1 8 3 8-2 8-1 8 1 8 1 7-1 8-1 8 3 8-3 3 0 2 0 2 6 2 5 2 2 2-8 2-5 2 0 2 0 2 0 2 0 2 0 2 0 5 0 8 1 8 0 8-1 8-1 8 2 8-1 8 2 8-3 8 1 8-1 8 3 7-2 8 1 8 0 8-1 8 1 8 0 8 1 8-1 8 1 8-1 8 1 8-2 8 1 8 0 8-1 8 3 8-3 8 1 8 0 8 1 8 0 7 0 8 0 8-2 8 0 8 1 8 1 8-1 8-1 8 2 8-2 8 1 8-2 8 2 8-1 8 1 8 0 8 0 8-1 8 1 7 1 8-3 8 3 8-1 8-1 8 1 8-1 8 2 8-2 8 1 8 0M0 325l8 1 8-2 8 1 8-1 8 1 8 2 8-3 8 3 8-2 8 1 7-1 8-1 8 2 8-1 3 0 2 1 2 7 2 7 2 2 2-10 2-8 2 0 2 0 2 1 2 1 2 0 2 0 5-1 8 3 8-4 8 1 8 1 8 0 8-2 8 1 8 0 8 0 8-1 8 3 7 0 8-2 8 1 8 0 8-1 8 0 8 3 8-1 8-3 8 2 8 1 8 0 8-1 8 0 8-2 8 2 8-1 8 0 8 0 8 0 8 2 7 0 8-1 8 1 8-2 8 1 8 1 8-2 8 1 8 0 8-1 8 0 8 0 8 0 8 0 8 0 8 1 8 0 8-1 8 3 7-2 8-2 8 0 8 1 8 1 8 1 8-1 8-1 8-1 8 0 8 2M0 337l8 3 8-2 8 0 8 1 8-2 8 4 8-3 8 1 8-1 8-1 7 1 8 1 8 0 8-1 3 0 2 0 2 6 2 8 2 7 2-11 2-10 2 0 2 0 2 0 2 1 2 0 2 0 5 1 8 0 8-2 8-1 8 2 8 0 8-2 8 1 8 0 8-1 8 2 8 0 7-1 8 1 8 1 8 0 8-2 8 0 8 0 8 1 8 0 8 2 8-2 8 0 8 0 8 0 8-2 8 1 8-2 8 4 8-1 8-1 8 1 7 2 8-2 8-1 8 1 8 0 8-2 8 2 8-2 8 2 8 0 8 0 8-1 8 0 8 1 8-1 8 1 8 1 8-1 8 1 7 0 8-3 8 1 8 0 8 0 8 2 8-3 8 2 8-1 8 0 8 0M0 351l8 0 8 0 8 1 8-1 8-2 8 4 8-1 8-1 8 1 8 0 7-1 8-1 8 3 8-2 3 0 2 0 2 5 2 8 2 8 2-8 2-12 2-3 2 0 2 1 2 0 2 0 2 0 5 0 8 2 8-2 8 0 8 0 8 1 8-2 8 3 8-1 8 2 8-1 8-1 7-1 8 3 8 0 8-1 8-1 8-2 8 3 8 0 8-1 8 1 8-1 8 1 8 1 8-3 8 0 8 1 8-2 8 2 8-2 8 2 8 0 7 2 8 0 8-3 8 1 8-1 8 2 8-1 8 0 8 2 8 0 8 0 8-2 8-1 8 1 8 1 8-1 8 1 8-1 8 2 7-1 8-2 8 0 8 0 8 1 8 2 8-2 8 0 8 0 8-2 8 2M0 364l8 2 8-4 8 2 8 0 8-1 8 3 8-4 8 3 8 0 8-2 7 0 8 0 8 2 8-3 3 0 2 1 2 3 2 10 2 10 2-4 2-12 2-6 2 0 2 0 2 0 2 0 2 0 5 0 8 0 8 0 8-1 8 0 8 2 8-3 8 3 8-1 8 1 8-2 8 1 7 1 8 1 8-2 8 0 8-1 8 1 8 1 8-1 8-1 8 2 8 0 8-1 8 0 8 1 8 0 8-1 8 0 8 1 8-1 8 0 8 2 7-2 8 1 8-2 8 0 8-1 8 3 8-1 8-1 8 1 8 0 8 1 8-1 8-1 8-1 8 0 8 2 8 0 8 0 8 2 7-2 8-1 8 1 8-1 8 2 8-1 8-1 8 2 8-2 8 1 8 1M0 377l8 1 8-1 8 1 8-3 8 1 8 3 8-4 8 2 8-1 8 1 7 0 8-2 8 3 8-2 3 0 2 0 2 2 2 11 2 10 2 0 2-14 2-10 2 0 2 0 2 1 2 0 2 0 5 2 8 0 8-2 8 1 8 0 8 2 8-4 8 2 8 0 8 0 8-1 8 0 7 0 8 2 8 1 8-2 8-3 8 1 8 3 8-2 8 0 8 2 8-2 8 0 8 1 8 0 8 1 8-1 8-1 8 3 8-4 8 3 8-1 7 2 8-1 8-2 8 0 8 1 8 1 8-2 8 1 8 1 8 0 8 0 8-1 8-1 8-1 8 1 8 1 8-1 8 0 8 3 7 0 8-4 8 3 8-2 8 2 8-1 8 0 8 2 8-4 8 1 8 1M0 389l8 2 8-2 8 0 8 0 8-1 8 2 8 0 8-1 8 1 8 0 7 0 8-2 8 3 8-4 3 1 2 0 2 0 2 10 2 12 2 7 2-16 2-14 2 1 2 0 2 0 2 1 2 0 5 1 8 2 8-1 8-3 8-1 8 5 8-3 8 2 8-3 8 3 8-1 8 1 7-3 8 3 8-1 8 0 8-2 8 0 8 3 8 0 8-4 8 5 8-2 8 0 8 2 8-4 8 2 8 1 8-3 8 3 8-2 8 0 8 0 7 2 8-1 8 1 8-3 8 2 8 1 8 0 8-3 8 2 8-1 8 0 8 0 8 1 8-1 8 0 8 1 8 0 8 0 8 0 7 2 8-4 8 1 8 0 8 2 8 1 8-2 8 2 8-2 8-2 8 2M0 402l8 1 8-2 8 1 8-1 8 1 8 1 8-1 8 0 8 2 8-2 7 1 8-1 8 1 8-3 3 0 2 1 2 0 2 10 2 13 2 13 2-16 2-17 2-2 2 0 2 0 2 0 2 0 5 0 8 0 8-1 8 0 8 0 8 2 8-3 8 3 8 0 8 0 8 0 8 0 7 0 8 0 8 2 8-1 8-3 8 1 8 2 8-3 8 2 8 0 8 0 8 0 8 0 8-1 8 1 8 1 8-2 8 2 8-3 8 3 8-2 7 2 8 0 8-1 8-3 8 0 8 4 8-2 8 0 8 3 8-4 8 1 8-1 8 0 8 0 8 2 8-2 8 2 8-2 8 1 7 3 8-5 8 2 8 0 8 0 8 3 8-3 8 0 8-1 8-1 8 2M0 413l8 4 8-4 8 2 8-3 8 1 8 5 8-5 8 2 8 1 8-2 7 1 8-1 8 3 8-3 3 0 2 0 2 0 2 7 2 14 2 14 2-11 2-19 2-5 2 0 2 0 2 1 2 0 5 1 8 1 8-3 8 1 8-1 8 3 8-3 8 1 8-2 8 3 8-1 8 0 7 0 8-1 8 2 8 0 8-1 8-2 8 2 8 0 8-2 8 3 8-2 8 1 8 1 8-2 8 2 8 1 8-2 8 2 8-3 8 3 8 0 7 0 8 0 8-2 8 0 8 0 8-1 8 1 8-1 8 3 8-3 8 3 8-2 8-1 8-2 8 2 8 1 8 1 8-1 8 1 7-1 8-1 8-1 8 0 8 4 8 1 8-5 8 4 8-3 8-2 8 5M0 427l8 4 8-4 8 2 8-4 8 3 8 1 8-2 8 2 8-2 8 0 7 1 8-2 8 3 8-2 3 0 2-1 2 0 2 3 2 16 2 15 2-2 2-21 2-11 2 0 2 0 2 0 2 0 5 1 8 3 8-3 8-1 8 2 8 1 8-3 8 4 8-2 8 0 8 0 8 1 7-1 8 0 8 3 8-3 8-2 8 1 8 4 8-4 8-1 8 3 8-2 8 1 8 1 8-1 8 0 8 2 8-4 8 4 8-4 8 3 8-2 7 2 8-1 8-2 8 2 8-2 8 3 8 0 8-3 8 2 8 1 8 1 8-3 8 1 8-2 8 0 8 1 8 1 8-2 8 4 7 1 8-3 8 1 8-4 8 2 8 3 8-3 8 2 8-1 8-2 8 2M0 438l8 4 8-2 8 1 8-2 8 0 8 4 8-2 8 0 8-2 8 2 7 1 8-2 8 1 8-3 3 1 2 0 2 1 2 0 2 16 2 17 2 5 2-22 2-17 2 0 2 0 2 0 2 0 5 0 8 2 8-1 8 0 8-1 8 4 8-4 8 2 8-1 8 2 8-2 8 3 7-2 8-1 8 1 8 0 8-2 8-1 8 3 8-2 8 0 8 4 8-1 8-2 8 3 8-2 8-2 8 2 8-1 8 1 8-1 8 0 8 2 7 1 8 0 8-4 8-1 8 2 8 2 8 0 8-4 8 4 8-1 8-1 8 1 8-3 8 1 8 0 8 1 8 0 8 1 8 1 7 1 8-4 8 2 8-2 8 2 8 1 8-4 8 3 8-1 8-2 8 3M0 454l8 1 8-2 8 0 8-3 8 2 8 3 8-4 8 3 8-2 8 1 7 1 8-3 8 5 8-4 3 0 2 0 2 0 2 0 2 13 2 18 2 14 2-23 2-22 2 0 2 0 2 0 2 1 5 0 8 1 8-2 8-1 8 2 8 2 8-4 8 2 8 1 8-1 8-1 8 1 7 2 8-2 8 2 8 0 8-4 8 2 8 1 8-1 8-2 8 4 8 0 8 0 8 0 8-2 8-2 8 5 8-4 8 1 8-2 8 2 8 1 7 2 8-2 8-2 8 0 8-1 8 2 8 0 8-2 8 4 8-2 8 1 8-2 8 0 8 0 8 0 8 0 8 2 8-1 8 3 7 0 8-5 8 2 8-2 8 3 8 2 8-3 8 3 8-3 8 0 8 0M0 466l8 3 8-4 8 1 8-1 8 0 8 3 8-3 8 1 8 1 8-1 7-1 8 0 8 3 8-4 3 0 2 1 2 0 2 1 2 10 2 18 2 18 2-19 2-24 2-4 2 1 2 0 2 0 5 0 8 2 8-2 8-1 8 1 8 2 8-4 8 3 8-2 8 3 8-2 8 0 7 1 8 1 8-1 8 0 8-1 8-2 8 5 8-2 8-3 8 6 8-3 8-1 8 1 8-3 8 1 8 4 8-3 8 1 8-2 8 3 8-1 7 2 8-2 8 0 8-2 8 1 8-1 8 2 8-3 8 3 8-2 8 1 8 0 8-1 8 0 8 0 8-1 8 1 8 2 8 1 7 1 8-4 8 0 8-1 8 4 8 1 8-5 8 4 8-4 8-1 8 4M0 478l8 2 8-4 8 3 8-3 8 2 8 5 8-5 8 3 8-3 8-1 7 2 8-3 8 5 8-3 3 0 2-1 2 0 2 0 2 7 2 19 2 18 2-9 2-25 2-10 2 1 2 0 2 0 5-1 8 4 8-2 8-2 8 0 8 5 8-4 8 2 8 0 8 0 8-2 8 1 7 1 8-1 8 3 8-4 8 0 8-1 8 3 8 0 8-3 8 5 8-4 8 1 8 0 8-1 8 0 8 3 8-3 8 3 8-5 8 4 8 1 7 0 8-1 8 0 8-3 8-1 8 4 8 0 8-3 8 4 8-1 8 0 8-3 8 0 8 0 8 2 8-1 8 1 8 0 8 2 7 0 8-3 8 1 8-1 8 2 8 0 8-2 8 3 8-3 8-1 8 4M0 490l8 4 8-5 8 4 8-4 8 2 8 2 8-2 8 0 8 1 8 1 7 0 8-3 8 3 8-3 3 0 2 0 2 1 2 0 2 3 2 19 2 20 2 0 2-26 2-16 2 0 2 1 2-1 5 0 8 3 8-4 8 0 8 2 8 2 8-3 8 2 8-1 8 1 8-3 8 3 7-1 8 1 8 0 8-2 8-1 8 1 8 2 8-1 8-2 8 3 8 0 8 0 8 2 8-5 8 2 8 1 8-2 8 2 8-2 8 2 8 0 7 0 8 1 8-2 8-2 8-1 8 2 8 2 8-4 8 5 8-2 8 2 8-4 8 0 8-1 8 2 8 0 8 2 8-3 8 4 7 1 8-5 8 2 8-3 8 4 8 2 8-5 8 4 8-4 8-1 8 5M0 504l8 4 8-7 8 5 8-3 8 0 8 5 8-5 8 1 8 0 8-1 7 2 8-3 8 4 8-4 3 0 2 0 2 1 2-1 2 0 2 19 2 20 2 10 2-26 2-23 2 1 2 1 2 0 5 0 8 3 8-2 8-1 8 0 8 3 8-5 8 2 8-1 8 3 8-1 8 1 7-1 8-1 8 1 8-1 8-1 8-1 8 4 8-2 8-2 8 6 8-3 8 1 8 2 8-5 8 0 8 3 8-3 8 2 8-3 8 4 8-2 7 3 8 0 8-1 8-4 8 1 8 2 8-1 8-3 8 6 8-3 8 2 8-4 8 2 8-2 8 2 8 0 8-1 8 1 8 3 7 0 8-5 8 3 8-3 8 4 8 1 8-5 8 5 8-4 8 0 8 3M0 516l8 4 8-4 8 2 8-4 8 2 8 3 8-3 8 2 8-1 8 0 7 0 8-1 8 4 8-6 3 0 2 0 2 0 2 0 2 0 2 15 2 21 2 21 2-27 2-27 2-1 2 0 2 0 5 0 8 3 8-4 8-1 8 2 8 5 8-7 8 4 8-1 8 1 8-2 8 3 7-2 8 1 8 2 8-3 8-2 8 0 8 5 8-3 8-1 8 4 8-1 8 0 8 2 8-4 8 0 8 1 8-3 8 3 8-4 8 3 8 1 7 1 8-1 8 0 8-4 8 1 8 2 8-1 8-2 8 4 8-1 8 3 8-3 8 0 8-3 8 4 8-2 8 1 8 0 8 3 7-1 8-3 8 1 8 0 8 1 8 2 8-5 8 3 8-2 8 0 8 3M0 529l8 4 8-4 8 2 8-4 8 3 8 4 8-5 8 2 8 0 8 0 7 0 8-4 8 4 8-4 3 1 2 0 2 0 2 0 2 0 2 11 2 21 2 22 2-17 2-29 2-8 2 1 2 0 5 0 8 4 8-3 8-1 8 0 8 5 8-6 8 2 8 1 8 1 8-2 8 2 7-2 8 0 8 1 8-1 8-1 8-3 8 6 8-3 8-1 8 6 8-3 8 0 8 2 8-5 8 2 8 3 8-5 8 4 8-4 8 3 8 0 7 0 8 0 8-2 8-1 8 0 8 1 8 0 8-1 8 4 8-1 8 2 8-5 8 0 8 0 8 1 8-1 8 3 8-2 8 2 7 1 8-4 8 2 8-2 8 2 8 1 8-4 8 5 8-4 8-1 8 5M0 540l8 7 8-7 8 4 8-5 8 1 8 6 8-5 8 2 8-1 8 1 7-1 8-2 8 5 8-5 3 0 2 0 2 1 2 0 2-1 2 6 2 21 2 22 2-5 2-29 2-14 2 1 2 0 5 1 8 2 8-3 8-1 8-1 8 5 8-5 8 4 8-3 8 4 8-4 8 2 7-1 8 3 8 0 8-2 8-3 8 1 8 4 8-3 8-2 8 6 8-3 8 0 8 3 8-5 8 2 8 3 8-4 8 2 8-4 8 4 8-1 7 2 8-1 8-1 8-1 8-1 8 1 8 2 8-4 8 4 8-2 8 1 8 0 8-3 8 0 8 2 8 0 8 1 8 0 8 0 7 1 8-3 8 1 8-1 8 2 8 1 8-4 8 4 8-2 8-2 8 3M0 555l8 2 8-5 8 4 8-4 8 2 8 3 8-3 8 3 8 0 8-3 7 2 8-3 8 5 8-6 3 0 2 0 2 1 2 0 2 0 2 1 2 23 2 22 2 6 2-29 2-21 2 0 2 0 5 0 8 4 8-5 8-1 8 1 8 5 8-5 8 1 8 1 8 1 8-3 8 2 7 0 8-1 8 2 8-1 8-2 8-1 8 4 8-1 8-2 8 5 8-3 8 0 8 3 8-6 8 2 8 4 8-7 8 6 8-5 8 3 8 0 7 2 8-1 8-1 8-1 8-1 8 2 8-1 8-3 8 5 8-1 8 0 8-3 8 1 8-1 8 1 8 1 8-1 8 0 8 4 7-1 8-3 8 0 8-2 8 4 8 4 8-6 8 4 8-4 8-2 8 6M0 566l8 5 8-4 8 2 8-4 8 3 8 3 8-5 8 3 8-2 8 1 7 0 8-2 8 5 8-4 3 0 2 0 2 0 2 0 2 0 2 0 2 19 2 23 2 17 2-30 2-28 2 0 2 0 5-1 8 4 8-5 8 1 8-1 8 5 8-6 8 3 8 0 8 2 8-2 8 1 7-1 8 0 8 3 8-4 8-1 8 0 8 5 8-4 8-1 8 6 8-4 8 2 8 2 8-5 8-1 8 5 8-4 8 3 8-3 8 2 8-1 7 4 8-3 8-1 8-1 8-2 8 3 8 0 8-3 8 6 8-2 8 1 8-4 8 2 8-2 8 1 8-1 8 1 8 1 8 2 7 1 8-6 8 3 8-1 8 3 8 1 8-6 8 5 8-2 8-3 8 4M0 580l8 4 8-6 8 5 8-4 8 0 8 6 8-7 8 4 8 0 8 0 7-2 8 0 8 3 8-5 3 0 2 0 2 0 2 0 2 0 2 0 2 15 2 23 2 21 2-22 2-31 2-4 2 0 5 2 8 2 8-3 8-2 8 1 8 4 8-6 8 3 8 0 8 0 8-2 8 3 7 0 8 1 8 0 8-2 8-3 8 1 8 5 8-4 8 0 8 5 8-3 8 0 8 3 8-5 8 1 8 4 8-6 8 3 8-4 8 5 8 1 7 1 8-2 8-1 8-3 8 1 8 0 8 3 8-6 8 8 8-3 8 2 8-5 8 0 8 0 8 1 8-1 8 2 8-2 8 5 7 1 8-5 8 0 8-1 8 3 8 3 8-7 8 6 8-5 8-1 8 5M0 593l8 3 8-4 8 2 8-3 8 2 8 5 8-6 8 3 8-3 8 0 7 3 8-3 8 3 8-3 3 0 2 0 2-1 2 0 2 0 2-1 2 9 2 24 2 14 2-2 2-31 2-11 2 0 5 0 8 4 8-3 8-1 8-1 8 4 8-4 8 3 8-1 8 1 8-1 8 2 7-2 8 2 8 1 8-1 8-4 8-1 8 6 8-4 8-1 8 4 8-1 8 2 8 0 8-6 8 1 8 5 8-6 8 5 8-4 8 3 8-1 7 3 8 0 8-2 8-2 8-1 8 3 8 0 8-3 8 4 8-1 8 0 8-3 8 1 8-2 8 3 8-1 8 0 8 1 8 1 7 2 8-6 8 3 8-1 8 2 8 3 8-6 8 3 8-3 8-1 8 6M0 606l8 4 8-6 8 5 8-5 8 1 8 5 8-4 8 2 8-2 8 1 7-1 8-2 8 4 8-4 3 0 2 0 2 0 2 0 2 0 2 0 2 5 2 24 2 4 2 0 2-13 2-19 2 0 5 0 8 6 8-5 8-2 8 1 8 6 8-8 8 6 8-3 8 1 8-1 8 2 7-1 8 0 8 2 8-3 8-2 8-1 8 5 8 0 8-3 8 6 8-3 8 1 8 1 8-4 8 0 8 4 8-6 8 3 8-4 8 5 8-1 7 3 8-1 8-3 8-2 8 1 8 2 8 0 8-4 8 6 8-1 8-1 8-1 8-1 8-1 8 3 8-2 8 0 8 0 8 3 7 0 8-3 8 0 8-2 8 4 8 3 8-6 8 5 8-3 8-3 8 7M0 618l8 5 8-6 8 4 8-4 8 1 8 5 8-6 8 4 8-3 8 1 7 1 8-3 8 5 8-7 3 1 2 1 2 1 2 0 2 0 2 0 2 0 2 19 2 0 2 0 2 0 2-19 2 0 5 0 8 5 8-6 8 1 8 0 8 5 8-6 8 3 8-2 8 3 8-4 8 3 7-1 8 2 8 0 8-2 8-3 8 1 8 4 8-3 8-2 8 5 8-2 8 1 8 1 8-3 8 1 8 3 8-6 8 5 8-5 8 5 8 0 7 3 8-1 8-4 8-1 8-1 8 3 8-1 8-2 8 4 8 0 8-1 8-2 8-1 8 1 8 1 8-2 8 2 8 1 8 0 7 3 8-6 8 1 8-1 8 4 8 2 8-6 8 3 8-3 8 0 8 5M0 630l8 6 8-7 8 5 8-5 8 1 8 6 8-7 8 4 8-2 8 2 7 0 8-2 8 3 8-5 3 0 2 0 2 0 2 1 2 0 2 0 2 0 2 7 2 0 2 0 2 0 2-6 2 0 5 1 8 3 8-3 8-3 8 1 8 6 8-7 8 3 8-1 8 2 8-1 8 1 7-1 8 0 8 3 8-1 8-3 8-2 8 5 8-2 8-3 8 7 8-4 8 3 8 1 8-6 8 0 8 5 8-5 8 3 8-4 8 3 8 2 7 1 8-1 8-2 8-1 8-1 8 3 8-1 8-4 8 8 8-3 8 1 8-2 8-2 8 0 8 1 8-2 8 3 8-2 8 5 7-2 8-2 8 2 8-2 8 2 8 3 8-6 8 4 8-4 8 0 8 5" stroke="#000" stroke-width="2.9" fill="none" stroke-linejoin="round"/>
<path d="M166.1 1021.7V1341" stroke="#000" stroke-width="2.6" stroke-dasharray="7 4.5"/>
<rect x="120.7" y="1021.7" width="318" height="319.3" fill="none" stroke="#555" stroke-width=".8"/>
<path transform="translate(503.2 1022.1) scale(.5)" d="M0 5l8 1 8 1 8 0 8-2 8 1 8 3 8-3 8-1 8 2 8-2 8 1 8 0 8 0 6 0 2 0 2 0 2 0 2-1 2 0 2 0 2 0 2 1 2 0 2 0 2-1 2 0 2-1 8 3 8-1 8 1 8 1 8-2 8 2 8-3 8 2 8 0 8-1 8 2 9-3 8 1 8 1 8-1 8 2 8-3 8 3 8-1 8-3 8 3 8-2 8 2 8 1 8 0 8-4 8 1 8 0 8 1 8 2 8-1 8-2 8-1 8 3 8-3 8 0 8 3 8 1 8-3 8 1 8 1 8-1 8 0 8 1 8-1 8 2 8-2 8 2 8-1 8-3 8 1 8 3 8-1 8-1 8 0 8 2 8-3 8 0 8-1 8 2 8 1 8-1M0 18l8 1 8 1 8 0 8-1 8-1 8 3 8-2 8 0 8 0 8-1 8 2 8-2 8 1 6 1 2 0 2-1 2 0 2 0 2-1 2 0 2 0 2 1 2 0 2 0 2 0 2 0 2 0 8-1 8 3 8-2 8 1 8-1 8-1 8 0 8 0 8 3 8-2 8 1 9-1 8 0 8 1 8-3 8 3 8-1 8 1 8 0 8-3 8 1 8 1 8-2 8 1 8 2 8-2 8 1 8-2 8 3 8 0 8-1 8-2 8 2 8 0 8 0 8 1 8 0 8-1 8 0 8-1 8 2 8-3 8 2 8-2 8 1 8 3 8-2 8 0 8 1 8-2 8 1 8 1 8 1 8-3 8 1 8 1 8-2 8 1 8 0 8-2 8 1 8 2M0 31l8 0 8 1 8 1 8-3 8 1 8 1 8-2 8 3 8 1 8-2 8 1 8 1 8-1 6 0 2 1 2-1 2 0 2 0 2-1 2 0 2-1 2 0 2-1 2 0 2 0 2 0 2 0 8 1 8 2 8-1 8 0 8 0 8 0 8-2 8 1 8 1 8 0 8 0 9-2 8 0 8 1 8 0 8 0 8 0 8 1 8 1 8-2 8-1 8 2 8-2 8 1 8 2 8-2 8 2 8-2 8 0 8 2 8-3 8-1 8 2 8 1 8 0 8-2 8 3 8 0 8-3 8 2 8-1 8 0 8 0 8-2 8 4 8-2 8-1 8 1 8 0 8 1 8 0 8 1 8 0 8-1 8 0 8 0 8 0 8 0 8-2 8 1 8 1 8-1M0 45l8 0 8-1 8 0 8 0 8-1 8 3 8-1 8 0 8 1 8-2 8 0 8 0 8 0 6 1 2 1 2-1 2 0 2-1 2-1 2 0 2-1 2 0 2 0 2 0 2 0 2 0 2 0 8 0 8 1 8-1 8 2 8-4 8 2 8 0 8 0 8-1 8 1 8-1 9 0 8 2 8-2 8 0 8 2 8-2 8 3 8 0 8-2 8 0 8 0 8-2 8 3 8 0 8-2 8 2 8-1 8 0 8 2 8-1 8-3 8 1 8 2 8-1 8 0 8-1 8 2 8 0 8-1 8 1 8-1 8-1 8-1 8 3 8 0 8-3 8 3 8-1 8-2 8 1 8 1 8 1 8-1 8 1 8 2 8-5 8 2 8-1 8 2 8 0 8 1M0 57l8 0 8 0 8 2 8-2 8-1 8 2 8 0 8-1 8 0 8-1 8 0 8 3 8-1 6-1 2 0 2 0 2 0 2 0 2-1 2-1 2-2 2-2 2-2 2-2 2-1 2-1 2-1 8 1 8 2 8-2 8-1 8 0 8 0 8 0 8 0 8 2 8-1 8-2 9 1 8-1 8 1 8 0 8 1 8-1 8 3 8-1 8-2 8 0 8 2 8-2 8-1 8 4 8-4 8 1 8-1 8 3 8 1 8-3 8 0 8 0 8 0 8 0 8 0 8 2 8-1 8 0 8 0 8 1 8-3 8 3 8-1 8 0 8 1 8-1 8-1 8 3 8-3 8 0 8 2 8 2 8-3 8 2 8-1 8 1 8 2 8-2 8 1 8 2 8 1M0 69l8 2 8-2 8 3 8-4 8 3 8 1 8-3 8 1 8-1 8 0 8 0 8 3 8-1 6 1 2 0 2-1 2 0 2-1 2-2 2-2 2-3 2-2 2-3 2-3 2-1 2-2 2-1 8 1 8 0 8 0 8 2 8-3 8 3 8-3 8 0 8 3 8-2 8 1 9-2 8 1 8-1 8 2 8 2 8-4 8 3 8 0 8-3 8 2 8 0 8-2 8 2 8 2 8-4 8 2 8-1 8 1 8 0 8-2 8 1 8 0 8 0 8-1 8 1 8 1 8 0 8 0 8 0 8 0 8 0 8 0 8-3 8 2 8 3 8-5 8 4 8 0 8-1 8-2 8 2 8 3 8-4 8 2 8 2 8-1 8 1 8 1 8 0 8 5 8 0M0 82l8 0 8 1 8 1 8-2 8 2 8 1 8-4 8 3 8 0 8-2 8-1 8 2 8 0 6 1 2 0 2 0 2-1 2-2 2-2 2-1 2-3 2-2 2-2 2-2 2-2 2-1 2-1 8 2 8 2 8-2 8-1 8 1 8 1 8-4 8 2 8 0 8 0 8 1 9-3 8 0 8 3 8-2 8 3 8-2 8 1 8 0 8-3 8 3 8 1 8-2 8 0 8 2 8-3 8 2 8-3 8 2 8 2 8-3 8 1 8 0 8 0 8-3 8 2 8 0 8 3 8-2 8 1 8-1 8-1 8 2 8-3 8 2 8 3 8-4 8 3 8-2 8-2 8 2 8 2 8 0 8-3 8 3 8 3 8-2 8 1 8-2 8 4 8 1 8 1M0 96l8-1 8-2 8 5 8-5 8 2 8 1 8-1 8 1 8-1 8-2 8 3 8-1 8 1 6 1 2 0 2-1 2 0 2-1 2-2 2-1 2-2 2-2 2-2 2-2 2-1 2-1 2-1 8 0 8 3 8-3 8 2 8-2 8 1 8 0 8-1 8 2 8 0 8-3 9 1 8 1 8 0 8-1 8 3 8-2 8 1 8-1 8-2 8 0 8 1 8-2 8 1 8 3 8-4 8 3 8 0 8 1 8-1 8 0 8-3 8 2 8 1 8-2 8 0 8 3 8-1 8 1 8-2 8 0 8-1 8 1 8 1 8-1 8 3 8-4 8 2 8 1 8-2 8 0 8 4 8-2 8-3 8 4 8 2 8-2 8 1 8 0 8 2 8 1 8 0M0 109l8-1 8 0 8 1 8-4 8 3 8 1 8-1 8 1 8 0 8-3 8 3 8 0 8-1 6 0 2 0 2 1 2 0 2 0 2-2 2-1 2-2 2-1 2-2 2-1 2-1 2-1 2 0 8 0 8 2 8-1 8 0 8 0 8 0 8-2 8 1 8 0 8 2 8-3 9-1 8 3 8-3 8 1 8 2 8 0 8 2 8-2 8-2 8 2 8-1 8-2 8 1 8 2 8-3 8 2 8 0 8 1 8 0 8 0 8-1 8-1 8 1 8 0 8-1 8 2 8 0 8 0 8-1 8 0 8-2 8 2 8-1 8 1 8 3 8-4 8 1 8 0 8-2 8 2 8 2 8-1 8-1 8 2 8 0 8-1 8 1 8-2 8 4 8 1 8 0M0 121l8 0 8-1 8 4 8-4 8 1 8 3 8-6 8 3 8 0 8-2 8 1 8 2 8-1 6 1 2 0 2-1 2 0 2 0 2-2 2 0 2-1 2-1 2 0 2-1 2 0 2-1 2 0 8 1 8 0 8-1 8 2 8-2 8 2 8-5 8 2 8 1 8 0 8 0 9 0 8-1 8 0 8 0 8 2 8-2 8 2 8-1 8-1 8 1 8-1 8-2 8 2 8 3 8-3 8 3 8-3 8 1 8 2 8-2 8-1 8-2 8 2 8-2 8 0 8 4 8 2 8-3 8 0 8 1 8-2 8 1 8 0 8 0 8 1 8-4 8 4 8 0 8-1 8 0 8 1 8 1 8-4 8 4 8-1 8-2 8 3 8-2 8 0 8 2 8 1M0 133l8 0 8-2 8 5 8-4 8 2 8 1 8-2 8 0 8 2 8-4 8 2 8 2 8-1 6 1 2 0 2 0 2 0 2 0 2-2 2-1 2-1 2-1 2 0 2-1 2 0 2 0 2 0 8 2 8 2 8-3 8 2 8-3 8 1 8-2 8 3 8-1 8 2 8-3 9 0 8 0 8 1 8 0 8 2 8-3 8 4 8-2 8-4 8 2 8 1 8-1 8 0 8 2 8-2 8 1 8-2 8 2 8 1 8-3 8 1 8-1 8 3 8-3 8 1 8 3 8-1 8 0 8 0 8 1 8-4 8 4 8-2 8 0 8 3 8-4 8 1 8 2 8-2 8-2 8 5 8 0 8-5 8 4 8 2 8-5 8 3 8-1 8 1 8 2 8-3M0 148l8-2 8-1 8 2 8-2 8 2 8 1 8-3 8 2 8 0 8-3 8 3 8 0 8-2 6 3 2 1 2-1 2 0 2-1 2-3 2 0 2 1 2 0 2 0 2 0 2 0 2-1 2 0 8 1 8 2 8-2 8 0 8 1 8 1 8-3 8 0 8 1 8 2 8-1 9-3 8 1 8-1 8 2 8 2 8-5 8 5 8 0 8-4 8 2 8 1 8-3 8 2 8 3 8-4 8 2 8-3 8 3 8 2 8-4 8-1 8-1 8 4 8-3 8 0 8 1 8 4 8-3 8 0 8 0 8-1 8 2 8-2 8 1 8 1 8-3 8 1 8 3 8-4 8 0 8 5 8-1 8-3 8 3 8-1 8-3 8 3 8-2 8 2 8-1 8 1M0 159l8-1 8 1 8 3 8-4 8 3 8 1 8-5 8 3 8 1 8-5 8 2 8 4 8-4 6 3 2 1 2-1 2 0 2-1 2-2 2-1 2 0 2 0 2 0 2 0 2 0 2 0 2-1 8 4 8 1 8-3 8 3 8-3 8 3 8-4 8 2 8 1 8-1 8 1 9-2 8 0 8-1 8 1 8 3 8-4 8 5 8-2 8-2 8 0 8 2 8-2 8 0 8 1 8-2 8 2 8-3 8 3 8 1 8-4 8 0 8 1 8 2 8-2 8-1 8 3 8 2 8-3 8 0 8 1 8-2 8 3 8-2 8 2 8 2 8-5 8 2 8 2 8-4 8-1 8 6 8-1 8-3 8 1 8 2 8-3 8 2 8-2 8 0 8 2 8 1M0 171l8 2 8-2 8 3 8-6 8 4 8 1 8-4 8 3 8 1 8-2 8 1 8 2 8-2 6 0 2 0 2 1 2 0 2 0 2-2 2-1 2 0 2 0 2 0 2 0 2 0 2 0 2 0 8 1 8 3 8-2 8 0 8-2 8 4 8-4 8 1 8 2 8 0 8-1 9-1 8 0 8 0 8-1 8 3 8-4 8 5 8-1 8-4 8 2 8 0 8-2 8 2 8 4 8-5 8 3 8-2 8 2 8 2 8-4 8-1 8 0 8 3 8-3 8-1 8 3 8 1 8-2 8 2 8-1 8-2 8 2 8-1 8 2 8 1 8-4 8 1 8 1 8-2 8 1 8 4 8 0 8-5 8 2 8 3 8-3 8 1 8-3 8 2 8 1 8 0M0 184l8 1 8-1 8 2 8-3 8 1 8 2 8-4 8 3 8 0 8-3 8 3 8 0 8 1 6 0 2 0 2 0 2 0 2 0 2-2 2-1 2 0 2 0 2 0 2 0 2 0 2 0 2 0 8 2 8 1 8 0 8-1 8-2 8 3 8-3 8 1 8 0 8 1 8-1 9-2 8 2 8 0 8 1 8 3 8-4 8 2 8 1 8-6 8 3 8 1 8-2 8 3 8 1 8-5 8 4 8-2 8 0 8 3 8-3 8-3 8 2 8 3 8-3 8-2 8 4 8 1 8-1 8-1 8 0 8-2 8 2 8 0 8 0 8 2 8-4 8 3 8 0 8-1 8-1 8 6 8-3 8-3 8 4 8 1 8-4 8 0 8 0 8 0 8 2 8-2M0 196l8 1 8-1 8 5 8-6 8 2 8 3 8-5 8 2 8 0 8-3 8 2 8 4 8-1 6 1 2 0 2 0 2 1 2-1 2-3 2-1 2 0 2 0 2 0 2 0 2-1 2 0 2 0 8 3 8 2 8-1 8 1 8-3 8 1 8-2 8 2 8 2 8 0 8-2 9-2 8 0 8 1 8-1 8 5 8-6 8 6 8 0 8-5 8 1 8 1 8-4 8 4 8 2 8-6 8 4 8-3 8 3 8 1 8-4 8 0 8 1 8 2 8-3 8 0 8 4 8 2 8-3 8-2 8 3 8-4 8 4 8-3 8 1 8 3 8-4 8 1 8 2 8-4 8 0 8 4 8 1 8-5 8 3 8 2 8-3 8 1 8-3 8 3 8 0 8 1M0 211l8-1 8 0 8 2 8-5 8 4 8 2 8-4 8 1 8 1 8-2 8 2 8 0 8-2 6 2 2 1 2 1 2 1 2-1 2-3 2-1 2 0 2 1 2 0 2-1 2 0 2 0 2-1 8 3 8 3 8-3 8 1 8-4 8 4 8-4 8 1 8 3 8 1 8-4 9 0 8-1 8 2 8 0 8 1 8-2 8 5 8-2 8-5 8 4 8-1 8-1 8 1 8 4 8-6 8 2 8-3 8 4 8 0 8-3 8-1 8 0 8 5 8-4 8 0 8 2 8 2 8-2 8 0 8 2 8-3 8 3 8-4 8 2 8 2 8-4 8 3 8-1 8-1 8 1 8 2 8 2 8-5 8 3 8 0 8-3 8 1 8-3 8 3 8 3 8-2M0 223l8 1 8-2 8 3 8-5 8 4 8 0 8-3 8 2 8 0 8-2 8 1 8 2 8 0 6 1 2 0 2 2 2 1 2-1 2-3 2-2 2-1 2 0 2-1 2 1 2 0 2 0 2 1 8 1 8 3 8-1 8 0 8-1 8 2 8-6 8 3 8 1 8 1 8-2 9-2 8 0 8 0 8 1 8 3 8-3 8 4 8-1 8-5 8 2 8 1 8-3 8 4 8 2 8-6 8 3 8-1 8 0 8 5 8-5 8-1 8-1 8 4 8-4 8 0 8 3 8 2 8-2 8-1 8 3 8-4 8 4 8-3 8 3 8 0 8-6 8 3 8 2 8-2 8-1 8 5 8 0 8-5 8 5 8 1 8-5 8 3 8-5 8 4 8 1 8-1M0 236l8-1 8-2 8 5 8-5 8 4 8 1 8-5 8 3 8 0 8-4 8 4 8 1 8 0 6 0 2 0 2 2 2 1 2 0 2-3 2-3 2 0 2 0 2 0 2 1 2 0 2 0 2 0 8 1 8 2 8-3 8 4 8-3 8 0 8-3 8 2 8 2 8-1 8-1 9-1 8 0 8 0 8-1 8 5 8-4 8 6 8-1 8-5 8 1 8 2 8-4 8 4 8 1 8-4 8 3 8-4 8 3 8 1 8-3 8-1 8 2 8 0 8-1 8 0 8 3 8 2 8-4 8 1 8 2 8-4 8 1 8 0 8 3 8 2 8-7 8 3 8 2 8-3 8-1 8 5 8 0 8-6 8 3 8 2 8-5 8 4 8-3 8 1 8 2 8-1M0 248l8-1 8-1 8 4 8-4 8 3 8 1 8-5 8 4 8 0 8-2 8 1 8 1 8-1 6 2 2 1 2 2 2 2 2-1 2-4 2-3 2 0 2 0 2 0 2 0 2 0 2 0 2 0 8 1 8 3 8-1 8 1 8-3 8 1 8-3 8 1 8 4 8 1 8-3 9-3 8 0 8 0 8 1 8 3 8-3 8 6 8-2 8-5 8 3 8-1 8-4 8 3 8 5 8-6 8 4 8-2 8 0 8 4 8-5 8-2 8 1 8 3 8-3 8 0 8 4 8 1 8-2 8-1 8 2 8-4 8 4 8-4 8 4 8 3 8-9 8 5 8 0 8-4 8 1 8 7 8-2 8-4 8 2 8 2 8-4 8 3 8-4 8 2 8 2 8 0M0 260l8 0 8-1 8 4 8-5 8 4 8 3 8-7 8 5 8 0 8-5 8 1 8 5 8-2 6 2 2 1 2 2 2 2 2 0 2-6 2-3 2 0 2-1 2 0 2 0 2 0 2 0 2 0 8 3 8 3 8-3 8 2 8-5 8 5 8-6 8 2 8 4 8-2 8-2 9-1 8 0 8 1 8 1 8 2 8-3 8 4 8 0 8-6 8 4 8-2 8-2 8 3 8 2 8-5 8 5 8-4 8 3 8 3 8-7 8 0 8 2 8 3 8-5 8 0 8 4 8 2 8-4 8 0 8 3 8-4 8 4 8-3 8 2 8 2 8-6 8 4 8 0 8-3 8 0 8 5 8 1 8-6 8 3 8 3 8-4 8 3 8-5 8 3 8 0 8 1M0 274l8-1 8-2 8 7 8-7 8 4 8 2 8-5 8 2 8 1 8-3 8 3 8 1 8-2 6 1 2 1 2 2 2 3 2-1 2-6 2-3 2 1 2 0 2 1 2 0 2-1 2 0 2 0 8 1 8 4 8-3 8 3 8-3 8 1 8-4 8 1 8 2 8 1 8-2 9-2 8 2 8-2 8 3 8 3 8-6 8 6 8 0 8-5 8 0 8 3 8-5 8 4 8 4 8-7 8 3 8-3 8 4 8 2 8-6 8-1 8 1 8 2 8-2 8 1 8 1 8 3 8-2 8 0 8 2 8-5 8 5 8-3 8 1 8 3 8-7 8 5 8 0 8-3 8 1 8 6 8 0 8-8 8 3 8 2 8-2 8 0 8-2 8 2 8 0 8 1M0 286l8 0 8-2 8 5 8-7 8 4 8 5 8-7 8 3 8 0 8-3 8 3 8 3 8-4 6 3 2 1 2 4 2 3 2-1 2-7 2-4 2 0 2 0 2 0 2-1 2 0 2 0 2-1 8 3 8 3 8-2 8 2 8-2 8 2 8-4 8 2 8 3 8-1 8-2 9-2 8 2 8-2 8 1 8 3 8-3 8 5 8-2 8-4 8 1 8 1 8-2 8 0 8 5 8-5 8 3 8-4 8 4 8 2 8-5 8 0 8 0 8 3 8-3 8 0 8 3 8 2 8-3 8 0 8 2 8-5 8 2 8-2 8 3 8 4 8-6 8 3 8 1 8-4 8 0 8 4 8 1 8-5 8 3 8 2 8-5 8 2 8-4 8 2 8 4 8-2M0 301l8-3 8 1 8 4 8-6 8 2 8 2 8-3 8 2 8 0 8-2 8 0 8 2 8 0 6 2 2 0 2 4 2 4 2-1 2-8 2-4 2 0 2 0 2 0 2 0 2 0 2 0 2 0 8 3 8 4 8-4 8 3 8-5 8 3 8-4 8 2 8 2 8 1 8-2 9-3 8 1 8-1 8 0 8 4 8-4 8 4 8 2 8-8 8 4 8 1 8-3 8 3 8 2 8-6 8 5 8-5 8 4 8 4 8-5 8-2 8 1 8 2 8-5 8 2 8 4 8 1 8-3 8 1 8 0 8-4 8 4 8-2 8 1 8 3 8-6 8 4 8 1 8-2 8-2 8 6 8 0 8-7 8 5 8 3 8-5 8 2 8-3 8 0 8 4 8-1M0 314l8-3 8-1 8 6 8-6 8 3 8 2 8-4 8 3 8-2 8-2 8 1 8 4 8-4 6 3 2 1 2 5 2 5 2 0 2-9 2-5 2 0 2-1 2 0 2 0 2 0 2 0 2 0 8 2 8 2 8-2 8 2 8-3 8 4 8-6 8 2 8 1 8 1 8-1 9-2 8 1 8 0 8-1 8 5 8-5 8 6 8 0 8-7 8 2 8 0 8-2 8 2 8 6 8-8 8 5 8-4 8 3 8 2 8-5 8-1 8 0 8 4 8-5 8 1 8 4 8 1 8-1 8-1 8 0 8-1 8 2 8-4 8 4 8 4 8-8 8 4 8 0 8-4 8 2 8 5 8 0 8-5 8 4 8 1 8-5 8 3 8-5 8 3 8 1 8-1M0 324l8 1 8-4 8 8 8-7 8 4 8 2 8-5 8 3 8 1 8-5 8 2 8 3 8-3 6 2 2 0 2 6 2 6 2 1 2-10 2-6 2 0 2 0 2 0 2 0 2-1 2 0 2-1 8 4 8 3 8-1 8 1 8-3 8 3 8-4 8 1 8 1 8 0 8-2 9-2 8 1 8-1 8 2 8 5 8-7 8 6 8-1 8-6 8 4 8 0 8-3 8 2 8 4 8-5 8 2 8-3 8 4 8 3 8-5 8-2 8 1 8 3 8-5 8 0 8 3 8 5 8-3 8-1 8 0 8-2 8 2 8-3 8 4 8 3 8-6 8 3 8 1 8-3 8 0 8 4 8 1 8-8 8 5 8 3 8-6 8 4 8-4 8 2 8 1 8-1M0 339l8-1 8-3 8 5 8-6 8 4 8 2 8-5 8 5 8 0 8-5 8 3 8 2 8-3 6 3 2 1 2 4 2 7 2 5 2-11 2-10 2-1 2 0 2 0 2 0 2 0 2 0 2 0 8 2 8 4 8-1 8-1 8-1 8 3 8-6 8 1 8 4 8 0 8-3 9-2 8 0 8 2 8 1 8 2 8-4 8 4 8 1 8-7 8 2 8 2 8-2 8 2 8 2 8-5 8 4 8-4 8 5 8 2 8-6 8-1 8 1 8 3 8-3 8-1 8 4 8 3 8-5 8 0 8 2 8-4 8 5 8-5 8 4 8 4 8-9 8 5 8 0 8-3 8 0 8 6 8-1 8-7 8 5 8 1 8-5 8 3 8-4 8 3 8 3 8-2M0 351l8-1 8-3 8 6 8-6 8 4 8 4 8-8 8 4 8 1 8-5 8 2 8 2 8-1 6 2 2 1 2 3 2 7 2 8 2-10 2-11 2-2 2 0 2 0 2 0 2 0 2-1 2 0 8 5 8 1 8-1 8 1 8-2 8 2 8-5 8 1 8 4 8-2 8-2 9-2 8 1 8 2 8 1 8 2 8-4 8 3 8 1 8-6 8 3 8 1 8-4 8 3 8 2 8-3 8 3 8-3 8 1 8 3 8-4 8-1 8-1 8 5 8-5 8 0 8 3 8 5 8-6 8 2 8 1 8-4 8 2 8-2 8 5 8 2 8-8 8 5 8 1 8-6 8 3 8 5 8-2 8-5 8 5 8 0 8-5 8 5 8-6 8 4 8 2 8 0M0 362l8 0 8-1 8 5 8-7 8 5 8 1 8-3 8 2 8 0 8-3 8 1 8 4 8-3 6 2 2 0 2 2 2 9 2 9 2-5 2-13 2-6 2 0 2 0 2 0 2 0 2-1 2 0 8 5 8 2 8-3 8 0 8-1 8 3 8-7 8 3 8 4 8 0 8-4 9-3 8 2 8 0 8 0 8 5 8-4 8 5 8 0 8-6 8 1 8 1 8-3 8 3 8 2 8-4 8 4 8-4 8 4 8 2 8-7 8 1 8-1 8 3 8-3 8 2 8 1 8 3 8-4 8-1 8 3 8-4 8 5 8-3 8 1 8 4 8-6 8 2 8 0 8-2 8 0 8 7 8-1 8-5 8 3 8 2 8-7 8 5 8-5 8 2 8 2 8 1M0 376l8-1 8 0 8 4 8-6 8 4 8 1 8-4 8 1 8 3 8-6 8 2 8 4 8-2 6 2 2 1 2 0 2 10 2 10 2-1 2-14 2-10 2 0 2-1 2 0 2 0 2 0 2 0 8 3 8 4 8-3 8 2 8-4 8 4 8-7 8 2 8 4 8 1 8-3 9-3 8 2 8 1 8-1 8 4 8-4 8 5 8 0 8-6 8 2 8 1 8-3 8 2 8 2 8-5 8 4 8-2 8 3 8 1 8-4 8-3 8 0 8 3 8-2 8 0 8 2 8 5 8-5 8 1 8 2 8-6 8 3 8-1 8 2 8 3 8-5 8 2 8 0 8-2 8 0 8 7 8 0 8-6 8 3 8 1 8-4 8 1 8-2 8 0 8 2 8 2M0 390l8 0 8-4 8 5 8-5 8 3 8 4 8-6 8 2 8 0 8-4 8 3 8 3 8-2 6 1 2 0 2 0 2 10 2 11 2 6 2-16 2-14 2-1 2 0 2 0 2 0 2-1 2 0 8 3 8 3 8 0 8 0 8-1 8 0 8-3 8 0 8 3 8 2 8-3 9-4 8 3 8-1 8 1 8 2 8-4 8 6 8-2 8-5 8 5 8-1 8-4 8 3 8 4 8-7 8 5 8-2 8 2 8 3 8-5 8-3 8 1 8 2 8-2 8 1 8 3 8 2 8-5 8 2 8 0 8-3 8 4 8-3 8 3 8 2 8-6 8 4 8 1 8-5 8 1 8 6 8-2 8-5 8 4 8 3 8-6 8 3 8-3 8 0 8 3 8-2M0 400l8 2 8-4 8 5 8-5 8 5 8 0 8-3 8 2 8 0 8-4 8 4 8 1 8-2 6 1 2 0 2-1 2 8 2 12 2 12 2-16 2-17 2 0 2 0 2 0 2 0 2 0 2 0 8 1 8 3 8-2 8 2 8-4 8 2 8-2 8 0 8 4 8-2 8-1 9-2 8 2 8-2 8 2 8 2 8-4 8 5 8 1 8-5 8 1 8 0 8-3 8 3 8 4 8-4 8 3 8-4 8 2 8 1 8-3 8-1 8-1 8 5 8-4 8-1 8 4 8 3 8-3 8-2 8 4 8-4 8 2 8-2 8 2 8 3 8-6 8 4 8 0 8-4 8 0 8 6 8 1 8-6 8 4 8 1 8-4 8 2 8-5 8 2 8 2 8 1M0 415l8-3 8 1 8 4 8-6 8 4 8 1 8-3 8 1 8 2 8-5 8 2 8 4 8-3 6 3 2 0 2-1 2 5 2 13 2 12 2-10 2-18 2-5 2 0 2 0 2-1 2 0 2-1 8 5 8 2 8-3 8 1 8-3 8 2 8-3 8 3 8 0 8 1 8-2 9-2 8 2 8 0 8-1 8 5 8-7 8 7 8-2 8-4 8 1 8 2 8-4 8 3 8 4 8-6 8 3 8-3 8 2 8 2 8-3 8-2 8 0 8 5 8-5 8 0 8 3 8 4 8-4 8-1 8 2 8-3 8 2 8-1 8 2 8 2 8-7 8 4 8 1 8-2 8 1 8 4 8 0 8-5 8 3 8 0 8-3 8 1 8-3 8 3 8 2 8-2M0 426l8-1 8 1 8 5 8-8 8 5 8 3 8-6 8 3 8 1 8-6 8 5 8 1 8-1 6 1 2 1 2-2 2 3 2 14 2 14 2-3 2-20 2-10 2 1 2-1 2-1 2 0 2-1 8 4 8 1 8-1 8 0 8-2 8 4 8-5 8 0 8 4 8 0 8-3 9-2 8 1 8 0 8 0 8 4 8-4 8 4 8 1 8-6 8 4 8-1 8-3 8 2 8 5 8-7 8 3 8-2 8 3 8 1 8-3 8-2 8 1 8 2 8-3 8 2 8 1 8 4 8-4 8-1 8 3 8-3 8 3 8-5 8 4 8 3 8-6 8 2 8 2 8-5 8 2 8 4 8 1 8-6 8 4 8 2 8-6 8 2 8-3 8 3 8 1 8 0M0 439l8 0 8 0 8 2 8-3 8 2 8 2 8-6 8 3 8 3 8-3 8-1 8 4 8-3 6 1 2 0 2 0 2 0 2 15 2 16 2 5 2-22 2-15 2 0 2 0 2-1 2 0 2-1 8 2 8 4 8-2 8 2 8-3 8 2 8-3 8 1 8 2 8 0 8-4 9 0 8 2 8-1 8-1 8 3 8-2 8 4 8 0 8-7 8 3 8 0 8-1 8 2 8 2 8-4 8 3 8-4 8 3 8 3 8-5 8 0 8 0 8 2 8-4 8 2 8 3 8 0 8-2 8 1 8 0 8-2 8 3 8-3 8 3 8 3 8-6 8 1 8 2 8-3 8 2 8 3 8 1 8-6 8 5 8-1 8-4 8 3 8-3 8 1 8 3 8-1M0 454l8-2 8 0 8 4 8-7 8 5 8 1 8-3 8 0 8 2 8-5 8 4 8 1 8-3 6 3 2 1 2-1 2-1 2 14 2 17 2 13 2-23 2-21 2 0 2-1 2 0 2-1 2 0 8 1 8 3 8-1 8-1 8-1 8 4 8-5 8 0 8 3 8 0 8-1 9-3 8 3 8-1 8-2 8 6 8-4 8 2 8 0 8-5 8 4 8-1 8-2 8 3 8 1 8-3 8 2 8-1 8 2 8 1 8-3 8-2 8 0 8 2 8-2 8 0 8 2 8 4 8-5 8 1 8 1 8-2 8 2 8-3 8 3 8 2 8-6 8 6 8-1 8-4 8 1 8 5 8-1 8-3 8 2 8 1 8-2 8-1 8-3 8 2 8 2 8-1M0 464l8 0 8-1 8 6 8-7 8 3 8 2 8-2 8 0 8 0 8-3 8 2 8 1 8 0 6 0 2 0 2 0 2-1 2 10 2 18 2 19 2-19 2-24 2-4 2 0 2 0 2 1 2 0 8 1 8 1 8-1 8 0 8-1 8 2 8-4 8 2 8 0 8 3 8-3 9 0 8 1 8-1 8-2 8 4 8-2 8 2 8 1 8-3 8 0 8 0 8-2 8 2 8 2 8-3 8 1 8-1 8 1 8 3 8-3 8-3 8 2 8 3 8-5 8 2 8 1 8 4 8-3 8-1 8 2 8-3 8 1 8-2 8 3 8 1 8-3 8 1 8 1 8-3 8 1 8 5 8 0 8-5 8 2 8 3 8-4 8 2 8-4 8 1 8 3 8-2M0 477l8 1 8-3 8 5 8-3 8 2 8 2 8-5 8 4 8 0 8-5 8 3 8 3 8-3 6 0 2 0 2 0 2-1 2 7 2 19 2 20 2-11 2-25 2-9 2-1 2 0 2-1 2-1 8 4 8 1 8-1 8 2 8-4 8 4 8-5 8 2 8 1 8 1 8-1 9-2 8 0 8-2 8 2 8 2 8-2 8 4 8-1 8-4 8 2 8 0 8-2 8 3 8 1 8-5 8 4 8-2 8 2 8 0 8-2 8 0 8 0 8 3 8-5 8 2 8 3 8 0 8-1 8 0 8 1 8-4 8 4 8-4 8 4 8 0 8-5 8 4 8 0 8-2 8 1 8 2 8 1 8-4 8 3 8 0 8-3 8 1 8-2 8 3 8 1 8-2M0 490l8-1 8 0 8 4 8-4 8 2 8 1 8-3 8 2 8 0 8-3 8 2 8 1 8-1 6 2 2 1 2-1 2-1 2 2 2 19 2 21 2-1 2-26 2-15 2 0 2-1 2 0 2-1 8 3 8 0 8 1 8-1 8-2 8 1 8-2 8 2 8 1 8 0 8-2 9-2 8 3 8-2 8 0 8 4 8-3 8 2 8 1 8-3 8-1 8 3 8-4 8 2 8 3 8-4 8 4 8-5 8 2 8 2 8-2 8-2 8 1 8 2 8-2 8 0 8 1 8 3 8-2 8-1 8 1 8-1 8 1 8-1 8 1 8 3 8-4 8 0 8 3 8-4 8 0 8 4 8 1 8-6 8 5 8 0 8-3 8 1 8-2 8 2 8 1 8-1M0 503l8 0 8-1 8 4 8-5 8 4 8 1 8-4 8 3 8-2 8-1 8 1 8 1 8-2 6 3 2 1 2-1 2-1 2-1 2 18 2 22 2 10 2-27 2-22 2 0 2-1 2 0 2 0 8 2 8 0 8-1 8 0 8-1 8 1 8-2 8 2 8 0 8 1 8-1 9-2 8 1 8-1 8 1 8 1 8-2 8 4 8-1 8-4 8 4 8-2 8-1 8 2 8 0 8-1 8 2 8-2 8 1 8 2 8-5 8 1 8 1 8 2 8-3 8 0 8 1 8 2 8-2 8 1 8 1 8-2 8 1 8-3 8 4 8 2 8-6 8 2 8 1 8-3 8 2 8 4 8 0 8-5 8 4 8-1 8-2 8 3 8-5 8 2 8 1 8 1M0 517l8-1 8-2 8 3 8-2 8 2 8 1 8-2 8 1 8 1 8-3 8 1 8 2 8-2 6 2 2 0 2-1 2 0 2-1 2 15 2 21 2 21 2-29 2-28 2-1 2 1 2 0 2 0 8 0 8 3 8-3 8 2 8-1 8 2 8-3 8 1 8 1 8-1 8-1 9 0 8-1 8 1 8 0 8 3 8-3 8 3 8-2 8-1 8 1 8 0 8-3 8 3 8 0 8-3 8 3 8-2 8 2 8 0 8-1 8-3 8 3 8 1 8-3 8 2 8 1 8 3 8-4 8-1 8 2 8-1 8 0 8-2 8 2 8 2 8-2 8 1 8 0 8-3 8 2 8 4 8 0 8-4 8 2 8 0 8-3 8 3 8-5 8 3 8 1 8 0M0 528l8 2 8-2 8 4 8-5 8 3 8 2 8-4 8 1 8 1 8-1 8 0 8 1 8-1 6 1 2 0 2-1 2 0 2 0 2 11 2 21 2 22 2-19 2-29 2-7 2 0 2 0 2 0 8 1 8 1 8 0 8 1 8-2 8 2 8-3 8 1 8 2 8-1 8 0 9-1 8 0 8 0 8-1 8 2 8-2 8 3 8-1 8-3 8 1 8 1 8-2 8 3 8 2 8-4 8 3 8-2 8 1 8 0 8-1 8-1 8-1 8 2 8-2 8 1 8 1 8 3 8-2 8-1 8 0 8 0 8 0 8 0 8 1 8 0 8-4 8 2 8 1 8 0 8-2 8 3 8 3 8-6 8 4 8 1 8-2 8-1 8 0 8 0 8 2 8-3M0 543l8 0 8-2 8 4 8-6 8 3 8 2 8-4 8 1 8 2 8-1 8-1 8 1 8 0 6 1 2 0 2 0 2 0 2-1 2 6 2 22 2 22 2-8 2-30 2-14 2 0 2 0 2 0 8 1 8 2 8 0 8 0 8-3 8 3 8-1 8 0 8 1 8-1 8-1 9 1 8-2 8 1 8 1 8 2 8-3 8 3 8-1 8-4 8 2 8 2 8-3 8 1 8 4 8-3 8 0 8-2 8 3 8 1 8-4 8 2 8 0 8 1 8-2 8-1 8 3 8 0 8-3 8 1 8 3 8-3 8 0 8-1 8 2 8 2 8-4 8 1 8 1 8-2 8 1 8 2 8 0 8-2 8 2 8 0 8-2 8 2 8-2 8 0 8 1 8 1M0 554l8 0 8 1 8 1 8-3 8 2 8 2 8-4 8 1 8 2 8-2 8 1 8 1 8-2 6 0 2 1 2-1 2 0 2-1 2 2 2 23 2 22 2 4 2-30 2-21 2 0 2 0 2 0 8 1 8 2 8-1 8 1 8-2 8 1 8-2 8 1 8 3 8-1 8-2 9-2 8 2 8 0 8 0 8 3 8-2 8 0 8 1 8-3 8 2 8-1 8-2 8 4 8 0 8-3 8 2 8-1 8 0 8 1 8-2 8-1 8 0 8 3 8-2 8 0 8 2 8 1 8-1 8-1 8 2 8-3 8 1 8 0 8 1 8 2 8-3 8 1 8-1 8 1 8-1 8 3 8-1 8-3 8 2 8 2 8-4 8 1 8-1 8 1 8 1 8 1M0 567l8-1 8 0 8 4 8-5 8 2 8 2 8-3 8 2 8-1 8-1 8 1 8 3 8-1 6-1 2-1 2 0 2 0 2-1 2 0 2 20 2 23 2 15 2-31 2-27 2 0 2 0 2 0 8 2 8 0 8 0 8 0 8 1 8 0 8-1 8 0 8 1 8-2 8 0 9 0 8 0 8 0 8 1 8 0 8-2 8 4 8-2 8 0 8-1 8 1 8-1 8 1 8 1 8-3 8 2 8 0 8 1 8-1 8-1 8-1 8 1 8 1 8-1 8-1 8 1 8 1 8-2 8 1 8 0 8 0 8 1 8-2 8 2 8 1 8-3 8 2 8 0 8-3 8 2 8 1 8 1 8-2 8 3 8-1 8-1 8-1 8-1 8 0 8 2 8 1M0 579l8 2 8-2 8 3 8-4 8 3 8 0 8-2 8 2 8 0 8-1 8 1 8 1 8-1 6 0 2 1 2-1 2-1 2-1 2-1 2 16 2 23 2 20 2-23 2-31 2-3 2 0 2-1 8 1 8 1 8 0 8 0 8-1 8 1 8-1 8-1 8 2 8-1 8-1 9-1 8 3 8-2 8 0 8 3 8-3 8 1 8 2 8-2 8 0 8 1 8-2 8 0 8 3 8-3 8 2 8-1 8 1 8 2 8-4 8-1 8 2 8 1 8-3 8 0 8 3 8 1 8-3 8 0 8 1 8-1 8 2 8-2 8 1 8 2 8-4 8 4 8-1 8-2 8 1 8 1 8 0 8-1 8 2 8-2 8 1 8 1 8-2 8 1 8 1 8-3M0 593l8 1 8-3 8 3 8-3 8 3 8 1 8-4 8 3 8-2 8-1 8 3 8 1 8-2 6 0 2 0 2 0 2 0 2 0 2 0 2 10 2 23 2 11 2-3 2-31 2-10 2 0 2 0 8 1 8-1 8 0 8 2 8-2 8 1 8-1 8-1 8 0 8 1 8 0 9 0 8 0 8-2 8 0 8 4 8-2 8 1 8-1 8 0 8-1 8 2 8-2 8 2 8 0 8-2 8 2 8-2 8 2 8 2 8-5 8 2 8-1 8 1 8 0 8-2 8 3 8-1 8 1 8 0 8 0 8-2 8 0 8 0 8 1 8 2 8-3 8 1 8 1 8-3 8 3 8-1 8 1 8-3 8 2 8 1 8-2 8 2 8-3 8 1 8 0 8 1M0 606l8 1 8-3 8 3 8-2 8 1 8 0 8-1 8 1 8 1 8-3 8 3 8 0 8-2 6 0 2 0 2 0 2 0 2-1 2 0 2 5 2 24 2 4 2 0 2-16 2-17 2 0 2 1 8 1 8 0 8 0 8-1 8 0 8 0 8 1 8 0 8 0 8-1 8 2 9-3 8 0 8 2 8 1 8-1 8-1 8 1 8 0 8-2 8 1 8 2 8-1 8-1 8 2 8-3 8 2 8-2 8 2 8 2 8-3 8 1 8-1 8 0 8 1 8-1 8 1 8 1 8-2 8 2 8-1 8-1 8 0 8 1 8 0 8 2 8-2 8-1 8 2 8-2 8 2 8 1 8 0 8-4 8 1 8 2 8-2 8 1 8 0 8 1 8 0 8-1M0 618l8 1 8-2 8 2 8-2 8 3 8 0 8-1 8-1 8 1 8 0 8-2 8 1 8 1 6 1 2 0 2-1 2-1 2 0 2-1 2 0 2 20 2 0 2 0 2 0 2-20 2 0 2 0 8 2 8 2 8-3 8 1 8-2 8 4 8-2 8-2 8 3 8 0 8-3 9 1 8-1 8 0 8 0 8 2 8 0 8-1 8 1 8-2 8 2 8 1 8-3 8 0 8 2 8 0 8 0 8 0 8 0 8 0 8-1 8 0 8-1 8 1 8-2 8 2 8 0 8 2 8-1 8 1 8-1 8 0 8 1 8-2 8 0 8 1 8-2 8 2 8 0 8-2 8 1 8 2 8 1 8-2 8 0 8 0 8-1 8 0 8 0 8 1 8 1 8-2M0 632l8-1 8-1 8 2 8-2 8 1 8 1 8-1 8 1 8-1 8-2 8 1 8 3 8-1 6 0 2 0 2 0 2 0 2 0 2-1 2 0 2 6 2 0 2 0 2 0 2-6 2 0 2 0 8-1 8 3 8-2 8 2 8-1 8-1 8 0 8 0 8 0 8 1 8-1 9-1 8 1 8 0 8-1 8 3 8-3 8 3 8-2 8-2 8 2 8 1 8-1 8 2 8-1 8 0 8-2 8 0 8 1 8 0 8 0 8 0 8 1 8 0 8-1 8 1 8 1 8 1 8-2 8-1 8 1 8-2 8 1 8 1 8 1 8 0 8-3 8 2 8-1 8 1 8-2 8 4 8-1 8-4 8 2 8 2 8-2 8 1 8-2 8 1 8 2 8-2" stroke="#000" stroke-width="2.9" fill="none" stroke-linejoin="round"/>
<path d="M548.4 1022.1V1341" stroke="#000" stroke-width="2.6" stroke-dasharray="7 4.5"/>
<rect x="503.2" y="1022.1" width="316.7" height="318.9" fill="none" stroke="#555" stroke-width=".8"/>
<path transform="translate(1001.5 1022.5) scale(.5)" d="M0 6l8 1 8 0 8-3 8 4 8 1 8-2 8-2 8 0 8 0 8 0 8 3 8 1 8-5 8 4 8-1 8-2 8 0 8 4 8-3 8 0 8 0 8-1 8 1 8 2 8 0 8-1 8-1 8-2 8 0 8 4 8-3 8 1 8 3 8-2 8 0 8-1 8-1 8 3 8-1 8-3 8 1 8 2 8-3 8 3 8 2 8-2 8 1 8 2 8-6 8 4 8-2 8 2 8-5 8 6 8-4 8 1 8 3 8-1 8-1 8-2 8 0 8 2 8-1 8-2 8-1 8 2 8-1 8 2 8 4 8-1 8-3 8 0 8 1 8-3 8 3 8-1 8 0 8-3 8 3M0 20l8-1 8 0 8-1 8 4 8 0 8-2 8-4 8 3 8-2 8-1 8 4 8 1 8-3 8 3 8-2 8 1 8-2 8 2 8-2 8 2 8-1 8-1 8 2 8 1 8 0 8-1 8-2 8-1 8 1 8 3 8-2 8 1 8 3 8-4 8-1 8 2 8-2 8 0 8 2 8-3 8 2 8 0 8-3 8 2 8 2 8-1 8 1 8 2 8-5 8 3 8 0 8-1 8-2 8 3 8-1 8 0 8 0 8 1 8 0 8-1 8-1 8 1 8 2 8-2 8-2 8 0 8 1 8 0 8 3 8 1 8-3 8 0 8-1 8-2 8 4 8-1 8 1 8-4 8 4M0 32l8-1 8 1 8-1 8 2 8-1 8 2 8-3 8 1 8 0 8 0 8 1 8 2 8-4 8 2 8 0 8-1 8-2 8 2 8-1 8 3 8-2 8-1 8 2 8 3 8-1 8-3 8-3 8-1 8 1 8 4 8-1 8-2 8 3 8-2 8 1 8-1 8 0 8 0 8 3 8-4 8 0 8 0 8-1 8 3 8 2 8-2 8 1 8 2 8-6 8 4 8-1 8 0 8-2 8 4 8-4 8-1 8 6 8-2 8-3 8 2 8-2 8 0 8 3 8-1 8-2 8 3 8-2 8 2 8 0 8-2 8 0 8 1 8 0 8-4 8 5 8-2 8 0 8-1 8 1M0 44l8 2 8-2 8 1 8 1 8-1 8 1 8-4 8 4 8-3 8 2 8 2 8-1 8-3 8 5 8-3 8-1 8-1 8 3 8-2 8 1 8 1 8-3 8 2 8 2 8-2 8-2 8-2 8 0 8 3 8 4 8-5 8 1 8 1 8-1 8 1 8 0 8-1 8 1 8 0 8-2 8 0 8 1 8-3 8 4 8 1 8 0 8-2 8 1 8-3 8 2 8 0 8 0 8-3 8 4 8-4 8 0 8 3 8 3 8-2 8 0 8-2 8 1 8 1 8-3 8 0 8 3 8-2 8 2 8 1 8-1 8-2 8 0 8 1 8-2 8 4 8-3 8 1 8-3 8 2M0 59l8-3 8 2 8-3 8 4 8-1 8 1 8-2 8 1 8-2 8 1 8 1 8 1 8-4 8 4 8-1 8-1 8 0 8 2 8-2 8 3 8-2 8-3 8 4 8 0 8 2 8-4 8-2 8 1 8 1 8 2 8-3 8 2 8 2 8-2 8 0 8-2 8 1 8 2 8-1 8-2 8 1 8 1 8-2 8 0 8 1 8 0 8 0 8 0 8-1 8 1 8-2 8 1 8-3 8 5 8-6 8 0 8 3 8 2 8-3 8 1 8-1 8-1 8 3 8-1 8-2 8 2 8-1 8 1 8-1 8 2 8-2 8 1 8-2 8-2 8 3 8-2 8 1 8-1 8 1M0 71l8-2 8 1 8-1 8 1 8 2 8-1 8-1 8 1 8-3 8 2 8 2 8 1 8-6 8 6 8-2 8-2 8 0 8 3 8-3 8 1 8-1 8-2 8 5 8 0 8 0 8 0 8-5 8 3 8 0 8 3 8-3 8-1 8 1 8 1 8 0 8-1 8-1 8 1 8 2 8-4 8 0 8 1 8-1 8 0 8 3 8-1 8-2 8-1 8-1 8 1 8-1 8-1 8-3 8 3 8-4 8 2 8-1 8 2 8-1 8-3 8 0 8 3 8-1 8 0 8-3 8 3 8-3 8 2 8 0 8 2 8-1 8-1 8 0 8-1 8 2 8-2 8 0 8 1 8 1M0 82l8 1 8 2 8-3 8 3 8-2 8 1 8-1 8 1 8-1 8-2 8 2 8 2 8-3 8 2 8 1 8-2 8-2 8 3 8-1 8 0 8-1 8 1 8 1 8 1 8-2 8 1 8-4 8 1 8 0 8 3 8-1 8-2 8 5 8-3 8 0 8 1 8-3 8 3 8 0 8-1 8-1 8 0 8 0 8 0 8 0 8 0 8-3 8 2 8-3 8 0 8-1 8-1 8-1 8 1 8-2 8 0 8 1 8 1 8-2 8 0 8-1 8 0 8 1 8-1 8-1 8 2 8-3 8 3 8 0 8 0 8-1 8 1 8-1 8-1 8 3 8-2 8-1 8 0 8 2M0 96l8 1 8-2 8 1 8 0 8 0 8 0 8-2 8 2 8-2 8-1 8 5 8-1 8-4 8 5 8 0 8-2 8 0 8 0 8 1 8 0 8 0 8-2 8 2 8 2 8-1 8-2 8-3 8 1 8 1 8 1 8-1 8 0 8 2 8-4 8 1 8 2 8-3 8 2 8 3 8-5 8 2 8 1 8-2 8 1 8-1 8 0 8 1 8-1 8-3 8 2 8-2 8-1 8-1 8 1 8-3 8-1 8 2 8 3 8-4 8 0 8 1 8-3 8 2 8-1 8 0 8 0 8-1 8 1 8 2 8-1 8-2 8 2 8 0 8-2 8 4 8-4 8 3 8-2 8 1M0 107l8 2 8-2 8 0 8 3 8-2 8 0 8 0 8 1 8-2 8 2 8-1 8 2 8-2 8 3 8 0 8-1 8-3 8 3 8-1 8 0 8-1 8 0 8 0 8 2 8 0 8-2 8-1 8-2 8 2 8 3 8-1 8-1 8 3 8-4 8 3 8-2 8-1 8 0 8 3 8-2 8-1 8 0 8-2 8 2 8 0 8 2 8-2 8 0 8-2 8 0 8 1 8-2 8-1 8 2 8-3 8-1 8 4 8 0 8-2 8-2 8-1 8 3 8-1 8-2 8 2 8 0 8-2 8 3 8 0 8 2 8-2 8-2 8 1 8 0 8 3 8-4 8 1 8-3 8 5M0 120l8 1 8 1 8-2 8 4 8-2 8 0 8-1 8-1 8 2 8-1 8 0 8 2 8-4 8 3 8 2 8-1 8-3 8 1 8-1 8 2 8 0 8-1 8 2 8-2 8 0 8-1 8-1 8 1 8 0 8 3 8-2 8-1 8 1 8-2 8 3 8-1 8-2 8 3 8-1 8-2 8 1 8 1 8 0 8-1 8 3 8-2 8-1 8 3 8-4 8 1 8-2 8 3 8-3 8 0 8-2 8 1 8 2 8-1 8 1 8-1 8 1 8-1 8 1 8-3 8-1 8 2 8-1 8 1 8 3 8-2 8 1 8-3 8 3 8-3 8 3 8-1 8 0 8-2 8 1M0 134l8 0 8-2 8 0 8 1 8 3 8-1 8-1 8 0 8-2 8 0 8 5 8-2 8-3 8 2 8 4 8-4 8-1 8 1 8 0 8 2 8-1 8-1 8 0 8 2 8 0 8-3 8-1 8 1 8-2 8 3 8-1 8 1 8 1 8-1 8 0 8 0 8-2 8 3 8 0 8-1 8 0 8 0 8-1 8 1 8 0 8 2 8-3 8 1 8-2 8 1 8 1 8-1 8 0 8 1 8-4 8 2 8 2 8-1 8 0 8-1 8-2 8 0 8 2 8 0 8-2 8 4 8-3 8 1 8 0 8 3 8-2 8-1 8-1 8 0 8 1 8-1 8-1 8 1 8 2M0 146l8 2 8-1 8 0 8 0 8 2 8-2 8-3 8 3 8 0 8-2 8 2 8 0 8-2 8 3 8 1 8-1 8-3 8 3 8-2 8 1 8 0 8-2 8 2 8 0 8 2 8-1 8-3 8 0 8 1 8 1 8 0 8-1 8 2 8-2 8 2 8-2 8 0 8 0 8 1 8-2 8 2 8-2 8 1 8 0 8 0 8 2 8-3 8 2 8-1 8 1 8 0 8-2 8-1 8 2 8 0 8 0 8 1 8 0 8-1 8-1 8-1 8 2 8 2 8-3 8 0 8-1 8 1 8 3 8-2 8 0 8-1 8 1 8-1 8 0 8 2 8-2 8 1 8-2 8 1M0 159l8 0 8 0 8 1 8 0 8 2 8-1 8-4 8 2 8-2 8 2 8 2 8-1 8-1 8 2 8 1 8-1 8-3 8 1 8 1 8 0 8-1 8 0 8 2 8 0 8 0 8-1 8-2 8 0 8 1 8 2 8-3 8 0 8 3 8-2 8 1 8-1 8-1 8 0 8 3 8-2 8-2 8 1 8-1 8 1 8 4 8-4 8 2 8 2 8-6 8 3 8-1 8 3 8-2 8 1 8-2 8 1 8 0 8 0 8 0 8 1 8-1 8 1 8-2 8-1 8 0 8 2 8 0 8 0 8 1 8 0 8-1 8-1 8 1 8-3 8 2 8 0 8-1 8 1 8 1M0 172l8-1 8 2 8-3 8 4 8-2 8 1 8-3 8 3 8-3 8 2 8 3 8-1 8-5 8 6 8 2 8-2 8-3 8 2 8-3 8 2 8 1 8-4 8 2 8 1 8-1 8 2 8-5 8-1 8 2 8 4 8-1 8-2 8 4 8-2 8 1 8-2 8-1 8 1 8 2 8-3 8-1 8 1 8 0 8 1 8 2 8 0 8-1 8 1 8-4 8 2 8 1 8-1 8-1 8 1 8-2 8 1 8 1 8 1 8-3 8 3 8-3 8 2 8 0 8 0 8 0 8 0 8-2 8 1 8 2 8-1 8-1 8 2 8-1 8-3 8 4 8-2 8 1 8-1 8-1M0 185l8-1 8 0 8-1 8 2 8 0 8 0 8 0 8-2 8 1 8 1 8 3 8-1 8-3 8 3 8 3 8-4 8-1 8 1 8-2 8 2 8-2 8 0 8 1 8 1 8 1 8-2 8-2 8-2 8 3 8 1 8-2 8 1 8 3 8-3 8 2 8-2 8-2 8 3 8 1 8-3 8 1 8-1 8 0 8 1 8 1 8 1 8 0 8-1 8-3 8 3 8-1 8 1 8-1 8 1 8-3 8 3 8 3 8 0 8-2 8 0 8-1 8-1 8 0 8-2 8 1 8 1 8 0 8 0 8 2 8-1 8-1 8 0 8 1 8-2 8 3 8-2 8 0 8 0 8 1M0 197l8 1 8 1 8-2 8 2 8 0 8-2 8-2 8 1 8-1 8 0 8 6 8-1 8-6 8 7 8 0 8-2 8-2 8 1 8 0 8 0 8 1 8-2 8 1 8 3 8-1 8-2 8-3 8 2 8-1 8 3 8-2 8-1 8 3 8-3 8 2 8-2 8-2 8 4 8 0 8-4 8 1 8 3 8-1 8 2 8 0 8-1 8 0 8 2 8-3 8 2 8-3 8 2 8-2 8 2 8-3 8 0 8 5 8 0 8-4 8 2 8 0 8-2 8 3 8-3 8-1 8 2 8 0 8 2 8 0 8 0 8-2 8 1 8 0 8-3 8 3 8 0 8-1 8-3 8 2M0 212l8-1 8-2 8 1 8 0 8 1 8 0 8-1 8 0 8-1 8 0 8 2 8 2 8-6 8 5 8 3 8-1 8-5 8 3 8-2 8 1 8 1 8-4 8 3 8 1 8 1 8-1 8-4 8-2 8 1 8 6 8-3 8-2 8 6 8-5 8 0 8-1 8 0 8 2 8 3 8-6 8 3 8 0 8-1 8 1 8 2 8 1 8-3 8 2 8-4 8 3 8-2 8 0 8 0 8 3 8-4 8 0 8 5 8-1 8-3 8 2 8-3 8 2 8-1 8-1 8 0 8 3 8-3 8 5 8 0 8-1 8-2 8 0 8 0 8-2 8 2 8-1 8 0 8-1 8 2M0 223l8 1 8-2 8 0 8 3 8 1 8-1 8-4 8 1 8-1 8 1 8 4 8 0 8-5 8 6 8 3 8-4 8-3 8 1 8 0 8-2 8 3 8-5 8 6 8 1 8-1 8-1 8-6 8 0 8 2 8 3 8-1 8-2 8 3 8-3 8 2 8 1 8-5 8 4 8 1 8-2 8 0 8-1 8 0 8 1 8 2 8 1 8-3 8 3 8-3 8 0 8 1 8 0 8-2 8 3 8-2 8 0 8 2 8 1 8-1 8 0 8-1 8 0 8 2 8-5 8 2 8 1 8-2 8 2 8 3 8-1 8-4 8 2 8 0 8-3 8 4 8-2 8 0 8-2 8 4M0 235l8 0 8 1 8-3 8 5 8 0 8-1 8-3 8 1 8-2 8 2 8 4 8-1 8-5 8 7 8 2 8-3 8-3 8 0 8 1 8-1 8 0 8-3 8 3 8 3 8 0 8-1 8-5 8 1 8 0 8 4 8-4 8 1 8 4 8-5 8 1 8-1 8-1 8 2 8 2 8-5 8 3 8 0 8-2 8 2 8 1 8 0 8 0 8 3 8-6 8 3 8-1 8 1 8-2 8 4 8-5 8 0 8 5 8 1 8-4 8-1 8 2 8-1 8 1 8-3 8 1 8 1 8 0 8 1 8 3 8-3 8-1 8 0 8 0 8-3 8 6 8-4 8 0 8 1 8 0M0 250l8-2 8 2 8-5 8 7 8 0 8-2 8-5 8 5 8-3 8 0 8 4 8 2 8-7 8 7 8 2 8-4 8-4 8 3 8-1 8 1 8 1 8-5 8 4 8 1 8 0 8-1 8-6 8 2 8-1 8 5 8-3 8 1 8 3 8-2 8 1 8-1 8-2 8 3 8 0 8-3 8-2 8 4 8-4 8 3 8 2 8-1 8-2 8 5 8-4 8 2 8-2 8 0 8-1 8 4 8-6 8 0 8 6 8 1 8-4 8 0 8 0 8-1 8 3 8-4 8-1 8 4 8-1 8 3 8-2 8 1 8-3 8 1 8-1 8-1 8 4 8-2 8 0 8-1 8 1M0 262l8-1 8 1 8-3 8 4 8 1 8-1 8-3 8 2 8-2 8 0 8 5 8 1 8-7 8 6 8 5 8-7 8-2 8 1 8-2 8 1 8 2 8-5 8 6 8 0 8 0 8-3 8-2 8 1 8 0 8 3 8-4 8 2 8 4 8-4 8 1 8 0 8-3 8 3 8 0 8-2 8-2 8 2 8-2 8 2 8 5 8-1 8-4 8 4 8-6 8 3 8-1 8 3 8-5 8 6 8-5 8-1 8 4 8 3 8-4 8-1 8-2 8 3 8 1 8-2 8-3 8 3 8-1 8 3 8 2 8 0 8-3 8 1 8-1 8-2 8 3 8-2 8 0 8-3 8 5M0 273l8 2 8-2 8-1 8 5 8-1 8-1 8-2 8 1 8-1 8 0 8 3 8 0 8-7 8 9 8 5 8-5 8-5 8 3 8-4 8 2 8 0 8-3 8 4 8 4 8-1 8-3 8-3 8-3 8 1 8 6 8-2 8 0 8 4 8-5 8 3 8-2 8-5 8 6 8 1 8-5 8 3 8-1 8-1 8 1 8 2 8-1 8 1 8 2 8-6 8 5 8-3 8 2 8-5 8 4 8-2 8 1 8 2 8 1 8-3 8 1 8-2 8 2 8 1 8-3 8-2 8 4 8-2 8 4 8-1 8 0 8-1 8-1 8 1 8-4 8 5 8-2 8 1 8-3 8 3M0 286l8 0 8 0 8-2 8 6 8-1 8-2 8-3 8 2 8 0 8-2 8 6 8 2 8-9 8 8 8 4 8-6 8-5 8 5 8-4 8 4 8 0 8-5 8 4 8 3 8 1 8-3 8-6 8 0 8 0 8 6 8-5 8 0 8 6 8-6 8 4 8-2 8-3 8 4 8 2 8-5 8 1 8 0 8-2 8 4 8 3 8-1 8-4 8 5 8-7 8 4 8 0 8 0 8-4 8 5 8-5 8 0 8 5 8 1 8-4 8 0 8-1 8 2 8 0 8-1 8-1 8 3 8-4 8 5 8-1 8 1 8 0 8-2 8 0 8-4 8 5 8-3 8 0 8 0 8 2M0 300l8-2 8 4 8-6 8 5 8 1 8-1 8-4 8 4 8-3 8-1 8 7 8-1 8-7 8 9 8 4 8-6 8-6 8 4 8-1 8 2 8-2 8-3 8 4 8 1 8 1 8-3 8-5 8 1 8 0 8 7 8-7 8 2 8 4 8-3 8 0 8 0 8-4 8 6 8 1 8-5 8 1 8 0 8-4 8 6 8 1 8 1 8-3 8 2 8-4 8 2 8-1 8 3 8-3 8 3 8-4 8 1 8 4 8 1 8-5 8 0 8 0 8-1 8 5 8-5 8-2 8 3 8 0 8 1 8 2 8 1 8-2 8-3 8 1 8-3 8 6 8-3 8-1 8-1 8 3M0 312l8-1 8 2 8-3 8 5 8 0 8 0 8-5 8 2 8-1 8-1 8 5 8 2 8-7 8 8 8 4 8-6 8-5 8 2 8-1 8 0 8 0 8-4 8 6 8 1 8 2 8-4 8-5 8 0 8 2 8 7 8-6 8 0 8 4 8-3 8 2 8-2 8-4 8 6 8 0 8-6 8 1 8 2 8-1 8 2 8 4 8-1 8-1 8 2 8-8 8 4 8-2 8 3 8-3 8 4 8-4 8-1 8 6 8 0 8-3 8 1 8-2 8-2 8 5 8-3 8-1 8 3 8-2 8 3 8 2 8-3 8-2 8-1 8 1 8-2 8 6 8-6 8 3 8-3 8 2M0 327l8-3 8 1 8-3 8 6 8-1 8 0 8-5 8 2 8 1 8-3 8 6 8 1 8-7 8 9 8 4 8-6 8-6 8 3 8-2 8 3 8-2 8-2 8 5 8 0 8 1 8-2 8-7 8 0 8 1 8 8 8-4 8-2 8 5 8-3 8 1 8-2 8-4 8 5 8 3 8-5 8 0 8 2 8-6 8 7 8 3 8-2 8-2 8 1 8-5 8 4 8-2 8 4 8-4 8 3 8-3 8-2 8 7 8 2 8-6 8 1 8-3 8 1 8 2 8-2 8-1 8 4 8-2 8 2 8 2 8 0 8-3 8-2 8 0 8-2 8 6 8-3 8-2 8 0 8 2M0 337l8 0 8 1 8-4 8 7 8 1 8-4 8-4 8 2 8 0 8-2 8 8 8-1 8-8 8 9 8 6 8-7 8-5 8 3 8-1 8 0 8 0 8-5 8 8 8 1 8-1 8-4 8-5 8 2 8 1 8 6 8-6 8 2 8 4 8-4 8 1 8 0 8-5 8 5 8 4 8-7 8 0 8 2 8-2 8 2 8 5 8-2 8-3 8 3 8-6 8 3 8-2 8 2 8-3 8 6 8-6 8-1 8 8 8 1 8-7 8 2 8-1 8-2 8 6 8-7 8 0 8 3 8-1 8 2 8 2 8 0 8-3 8 0 8 2 8-6 8 8 8-3 8 0 8-3 8 2M0 350l8 1 8 0 8-4 8 7 8-1 8-3 8-4 8 5 8-3 8 1 8 5 8 1 8-10 8 12 8 2 8-4 8-5 8 2 8-2 8 1 8 1 8-4 8 4 8 2 8 2 8-4 8-7 8 1 8 2 8 8 8-7 8 1 8 5 8-6 8 2 8-1 8-5 8 6 8 1 8-5 8 2 8 0 8-2 8 2 8 5 8-3 8-1 8 4 8-7 8 3 8-2 8 3 8-6 8 8 8-8 8 3 8 4 8 1 8-2 8-1 8-1 8 1 8 1 8-4 8-1 8 5 8-5 8 5 8 2 8 1 8-4 8-2 8 2 8-4 8 5 8-1 8 0 8-2 8 1M0 364l8-2 8 2 8-4 8 7 8 0 8-4 8-3 8 5 8-2 8-3 8 9 8-1 8-9 8 10 8 5 8-6 8-5 8 1 8 0 8 2 8 0 8-7 8 5 8 4 8 0 8-4 8-5 8-2 8 1 8 8 8-3 8-1 8 6 8-6 8 1 8-2 8-1 8 5 8 1 8-6 8 1 8 2 8-4 8 5 8 1 8-1 8-1 8 2 8-6 8 4 8-2 8 3 8-4 8 5 8-6 8 0 8 6 8 3 8-4 8-3 8-1 8 0 8 4 8-3 8-3 8 5 8-5 8 6 8 1 8 2 8-3 8-2 8 1 8-6 8 7 8-2 8-1 8-1 8 3M0 376l8-2 8 1 8-1 8 6 8-2 8-1 8-5 8 5 8-4 8 1 8 7 8 1 8-10 8 9 8 4 8-7 8-4 8 3 8-1 8 1 8 0 8-5 8 5 8 3 8 0 8-2 8-6 8-1 8 3 8 7 8-7 8 0 8 5 8-5 8 1 8 0 8-4 8 5 8 4 8-8 8 2 8 0 8-3 8 5 8 4 8-3 8-1 8 4 8-7 8 3 8-2 8 3 8-5 8 6 8-7 8 3 8 6 8 1 8-7 8 2 8-4 8 1 8 5 8-7 8 2 8 3 8-3 8 6 8 0 8 1 8-4 8-1 8 0 8-5 8 9 8-6 8 0 8-3 8 6M0 390l8-1 8 2 8-7 8 8 8 0 8-2 8-5 8 4 8-2 8-1 8 7 8 1 8-11 8 10 8 5 8-6 8-7 8 6 8-3 8 1 8 0 8-4 8 6 8 3 8 1 8-6 8-6 8 2 8-1 8 8 8-7 8 3 8 4 8-6 8 3 8-2 8-4 8 7 8 1 8-7 8 2 8 0 8-3 8 5 8 4 8-2 8-1 8 4 8-7 8 5 8-5 8 5 8-6 8 8 8-10 8 1 8 7 8 2 8-4 8-1 8-2 8-1 8 5 8-6 8 0 8 3 8 0 8 2 8 3 8-1 8-1 8-2 8 0 8-6 8 8 8-2 8-3 8-1 8 4M0 402l8-2 8 3 8-6 8 6 8 2 8-1 8-6 8 3 8-2 8 0 8 6 8 0 8-9 8 10 8 6 8-7 8-4 8 3 8-3 8 4 8-2 8-6 8 8 8 0 8 1 8-4 8-6 8-1 8 3 8 8 8-7 8 1 8 7 8-7 8 2 8 0 8-4 8 5 8 2 8-9 8 3 8 2 8-4 8 5 8 3 8-2 8-1 8 2 8-6 8 3 8 0 8 2 8-4 8 4 8-5 8-2 8 9 8 2 8-7 8 2 8-4 8 1 8 3 8-5 8-1 8 6 8-3 8 4 8 1 8-1 8-2 8-3 8 3 8-5 8 8 8-6 8 1 8-4 8 5M0 414l8 0 8 0 8-2 8 4 8 0 8 0 8-5 8 4 8-3 8-2 8 8 8 1 8-11 8 12 8 5 8-7 8-5 8 2 8-3 8 4 8-1 8-6 8 8 8 2 8 1 8-5 8-6 8 0 8 1 8 7 8-4 8 0 8 5 8-7 8 3 8 0 8-5 8 5 8 5 8-10 8 3 8 1 8-5 8 5 8 6 8-3 8-3 8 5 8-9 8 5 8 0 8 2 8-5 8 7 8-10 8 4 8 4 8 2 8-6 8 2 8-3 8-1 8 6 8-4 8-2 8 5 8-6 8 5 8 3 8 1 8-4 8-1 8 0 8-4 8 6 8-2 8 1 8-5 8 6M0 427l8 0 8-1 8-3 8 7 8 1 8-1 8-6 8 4 8-5 8 2 8 6 8 3 8-11 8 9 8 6 8-6 8-8 8 5 8-3 8 3 8 1 8-8 8 7 8 3 8 1 8-4 8-9 8 0 8 2 8 9 8-6 8 1 8 7 8-9 8 4 8-3 8-4 8 8 8 2 8-7 8 1 8 2 8-4 8 3 8 5 8-1 8-2 8 4 8-10 8 6 8-3 8 3 8-5 8 6 8-8 8 3 8 5 8 2 8-6 8 1 8-1 8-1 8 3 8-3 8 0 8 2 8-4 8 7 8 1 8-1 8-1 8-4 8 2 8-4 8 8 8-6 8 1 8-2 8 4M0 441l8-2 8 0 8-3 8 7 8 1 8-2 8-7 8 4 8-1 8-1 8 8 8 1 8-11 8 10 8 6 8-6 8-8 8 6 8-3 8 1 8 1 8-6 8 6 8 3 8-2 8-2 8-7 8-1 8 1 8 11 8-6 8-2 8 7 8-7 8 2 8 0 8-5 8 8 8 2 8-8 8 2 8 1 8-5 8 6 8 2 8-1 8-1 8 4 8-8 8 4 8-2 8 2 8-5 8 7 8-8 8 3 8 7 8-1 8-4 8-1 8-1 8-2 8 6 8-6 8 0 8 5 8-3 8 5 8 2 8-2 8-3 8-2 8 2 8-5 8 7 8-3 8 1 8-4 8 4M0 452l8 1 8 1 8-3 8 6 8 0 8-3 8-6 8 5 8-3 8-2 8 8 8 3 8-11 8 11 8 3 8-7 8-6 8 4 8-1 8 3 8 0 8-8 8 9 8 3 8-1 8-5 8-5 8-2 8 2 8 10 8-8 8 1 8 6 8-8 8 3 8 0 8-5 8 7 8 2 8-8 8 0 8 2 8-4 8 7 8 3 8-1 8-1 8 2 8-6 8 5 8-5 8 3 8-6 8 8 8-7 8 0 8 7 8 1 8-4 8 0 8-3 8 1 8 3 8-6 8 2 8 4 8-4 8 6 8 1 8 1 8-4 8-1 8 0 8-4 8 5 8-1 8-2 8-3 8 6M0 464l8 0 8 2 8-4 8 7 8 1 8-3 8-4 8 2 8-2 8-2 8 9 8 0 8-11 8 10 8 5 8-4 8-6 8 4 8-3 8 2 8 0 8-5 8 6 8 2 8 0 8-5 8-5 8 0 8 2 8 9 8-9 8 0 8 6 8-5 8 3 8-2 8-5 8 8 8 2 8-9 8 1 8 3 8-5 8 7 8 1 8-1 8-1 8 5 8-10 8 6 8-2 8 2 8-5 8 9 8-10 8 2 8 7 8 2 8-8 8 0 8 0 8 1 8 1 8-4 8 1 8 3 8-4 8 6 8 1 8 1 8-3 8-3 8 2 8-7 8 9 8-5 8 1 8-2 8 5M0 480l8-3 8 1 8-2 8 7 8-2 8-3 8-5 8 6 8-4 8 1 8 8 8-2 8-11 8 12 8 6 8-9 8-3 8 2 8-1 8 2 8 1 8-9 8 7 8 4 8 0 8-4 8-7 8-1 8 4 8 7 8-7 8 0 8 7 8-7 8 4 8-2 8-3 8 4 8 3 8-6 8-1 8 4 8-4 8 3 8 5 8-4 8 0 8 5 8-9 8 4 8-1 8 2 8-7 8 9 8-8 8 0 8 8 8 3 8-7 8 0 8-1 8 0 8 2 8-5 8 0 8 4 8-4 8 7 8 3 8-2 8-2 8-1 8-1 8-5 8 7 8-4 8 0 8-4 8 6M0 491l8 0 8-1 8-3 8 8 8-1 8-1 8-7 8 6 8-3 8-1 8 6 8 1 8-9 8 9 8 7 8-8 8-6 8 5 8-3 8 2 8 1 8-6 8 7 8 3 8-1 8-5 8-6 8 2 8 1 8 7 8-5 8-2 8 5 8-3 8 1 8-1 8-4 8 6 8 2 8-7 8 1 8 3 8-4 8 5 8 1 8 0 8-1 8 3 8-9 8 5 8-3 8 3 8-6 8 7 8-4 8-1 8 6 8 2 8-4 8-2 8-2 8 2 8 2 8-3 8-2 8 3 8-1 8 5 8 0 8 0 8-3 8 0 8 1 8-5 8 6 8-2 8-1 8-3 8 4M0 505l8-2 8 1 8-5 8 6 8 2 8-3 8-4 8 4 8-2 8 0 8 5 8 3 8-12 8 12 8 2 8-5 8-6 8 5 8-3 8 1 8 1 8-7 8 7 8 3 8 0 8-2 8-8 8 0 8 2 8 9 8-6 8-3 8 9 8-7 8 3 8-1 8-7 8 8 8 3 8-9 8 1 8 4 8-6 8 6 8 4 8-4 8-1 8 5 8-8 8 3 8-2 8 4 8-5 8 6 8-6 8 0 8 7 8 0 8-5 8 1 8-4 8 2 8 3 8-5 8 0 8 2 8-1 8 5 8 2 8-1 8-3 8-2 8 2 8-6 8 8 8-3 8 1 8-3 8 2M0 515l8 1 8 1 8-4 8 6 8 1 8-2 8-4 8 2 8 0 8-4 8 9 8 0 8-8 8 8 8 5 8-6 8-5 8 3 8-3 8 4 8-1 8-5 8 5 8 3 8 1 8-3 8-9 8 0 8 1 8 10 8-7 8 1 8 4 8-6 8 5 8-3 8-4 8 7 8 1 8-8 8 3 8 0 8-1 8 2 8 4 8-1 8-2 8 3 8-5 8 3 8-2 8 0 8-3 8 6 8-8 8 2 8 7 8 2 8-7 8 0 8-2 8 2 8 3 8-4 8 0 8 1 8-3 8 8 8 1 8 0 8-3 8-2 8 1 8-4 8 6 8-5 8 2 8-4 8 5M0 528l8 1 8 0 8-3 8 4 8 3 8-4 8-5 8 7 8-3 8-2 8 7 8 2 8-11 8 10 8 5 8-7 8-5 8 3 8-2 8 2 8 1 8-5 8 7 8 0 8 1 8-5 8-4 8 0 8 1 8 7 8-7 8 2 8 5 8-8 8 3 8 0 8-4 8 5 8 2 8-5 8 0 8 2 8-6 8 7 8 3 8-3 8 1 8 4 8-8 8 3 8-1 8 2 8-6 8 6 8-6 8 2 8 6 8 2 8-6 8 1 8-4 8 2 8 4 8-5 8-2 8 6 8-6 8 6 8 3 8-2 8-1 8-4 8 1 8-4 8 9 8-7 8 2 8-3 8 4M0 542l8-2 8 1 8-2 8 6 8-1 8 0 8-7 8 5 8-3 8-1 8 7 8 1 8-9 8 11 8 4 8-6 8-5 8 3 8-4 8 4 8-2 8-6 8 9 8 0 8 2 8-4 8-7 8 0 8 3 8 6 8-7 8 1 8 5 8-5 8 4 8-3 8-4 8 7 8 1 8-5 8 1 8 2 8-6 8 6 8 4 8-4 8 1 8 3 8-7 8 4 8-2 8 1 8-6 8 9 8-8 8 2 8 7 8 0 8-5 8 0 8-1 8-1 8 4 8-5 8-1 8 5 8-4 8 4 8 1 8 2 8-4 8 0 8-1 8-5 8 7 8-3 8 2 8-5 8 4M0 553l8 2 8 1 8-4 8 7 8 0 8-3 8-5 8 4 8-2 8-1 8 5 8 2 8-9 8 9 8 4 8-5 8-6 8 4 8-2 8 1 8 0 8-6 8 9 8-1 8 3 8-5 8-5 8-1 8 2 8 7 8-5 8-1 8 7 8-8 8 4 8 0 8-5 8 4 8 4 8-7 8 1 8 2 8-3 8 4 8 3 8-4 8-1 8 4 8-7 8 6 8-5 8 5 8-7 8 7 8-4 8 0 8 5 8 3 8-5 8-1 8-3 8 0 8 3 8-3 8-2 8 6 8-4 8 4 8 2 8 0 8-4 8-2 8 3 8-6 8 8 8-4 8-1 8-1 8 4M0 569l8-2 8 1 8-3 8 6 8-3 8 1 8-5 8 3 8-1 8 0 8 7 8-1 8-10 8 11 8 6 8-9 8-5 8 5 8-2 8 1 8-1 8-5 8 7 8 3 8-2 8-3 8-5 8-2 8 4 8 6 8-5 8-2 8 5 8-2 8 0 8-1 8-2 8 3 8 2 8-6 8 1 8 1 8-2 8 5 8 1 8-2 8 2 8 0 8-4 8 1 8-1 8 2 8-4 8 7 8-8 8 1 8 8 8 1 8-5 8 0 8-1 8-2 8 3 8-4 8 1 8 3 8-3 8 4 8 2 8 0 8-3 8-1 8 0 8-3 8 5 8-3 8 1 8-2 8 2M0 579l8 0 8 1 8-4 8 5 8 1 8-1 8-5 8 5 8-4 8 0 8 7 8-1 8-8 8 8 8 7 8-6 8-5 8 2 8-3 8 3 8-1 8-4 8 5 8 4 8-2 8-4 8-3 8-2 8 3 8 5 8-3 8 0 8 5 8-6 8 3 8-3 8-3 8 5 8 4 8-7 8 0 8 1 8-4 8 6 8 1 8-1 8 0 8 3 8-7 8 6 8-3 8 3 8-6 8 5 8-6 8 3 8 5 8 1 8-6 8 0 8 0 8 1 8 1 8-3 8 0 8 1 8-2 8 4 8 1 8 0 8-2 8 0 8 0 8-3 8 5 8-4 8 2 8-2 8 3M0 591l8 2 8-1 8-1 8 4 8 0 8-2 8-5 8 5 8-2 8 0 8 6 8-1 8-7 8 8 8 4 8-5 8-6 8 5 8-4 8 2 8 0 8-3 8 4 8 1 8 1 8-3 8-5 8-1 8 2 8 8 8-6 8-1 8 7 8-6 8 2 8-1 8-4 8 6 8 0 8-3 8-2 8 1 8 0 8 1 8 3 8 1 8-2 8 3 8-8 8 6 8-3 8 2 8-5 8 8 8-7 8 0 8 7 8 2 8-7 8 1 8-2 8-1 8 3 8-1 8-1 8 3 8-2 8 4 8-1 8 1 8-4 8 0 8 1 8-4 8 7 8-4 8 0 8-3 8 3M0 605l8-1 8 3 8-5 8 7 8-2 8-1 8-2 8 0 8-2 8 2 8 4 8 1 8-8 8 9 8 6 8-7 8-5 8 2 8-2 8 3 8 1 8-7 8 5 8 3 8 0 8-3 8-5 8 0 8 1 8 5 8-4 8 1 8 3 8-2 8 1 8-1 8-3 8 2 8 3 8-6 8 1 8 3 8-5 8 6 8 3 8-3 8-1 8 2 8-4 8 3 8-2 8 3 8-5 8 6 8-5 8-2 8 7 8 2 8-6 8 2 8-4 8 1 8 4 8-6 8 2 8 3 8-3 8 3 8 0 8 3 8-4 8-1 8-1 8-1 8 5 8-3 8 1 8-5 8 5M0 619l8-1 8-1 8-1 8 4 8 0 8-1 8-3 8 2 8-1 8 0 8 4 8 2 8-9 8 8 8 5 8-6 8-5 8 3 8-3 8 4 8-1 8-4 8 6 8-1 8 1 8-1 8-6 8 1 8-1 8 8 8-7 8 1 8 6 8-5 8 3 8-2 8-4 8 5 8 2 8-4 8 0 8 2 8-6 8 6 8 1 8 0 8-3 8 5 8-7 8 5 8-2 8 1 8-4 8 6 8-6 8 0 8 6 8-1 8-1 8 0 8-4 8 0 8 3 8-4 8 1 8 3 8-2 8 3 8 1 8 1 8-3 8-1 8 1 8-4 8 5 8-4 8 1 8-2 8 4M0 631l8-2 8 2 8-2 8 5 8-2 8-1 8-3 8 2 8-1 8 0 8 5 8 1 8-9 8 10 8 0 8 0 8-6 8 3 8-2 8 0 8-1 8-2 8 4 8 3 8-2 8-3 8-1 8-2 8 0 8 8 8-5 8 0 8 2 8-1 8-1 8 1 8-5 8 6 8 1 8-6 8 2 8 1 8-3 8 5 8 0 8 1 8-4 8 5 8-5 8 1 8 1 8-1 8-3 8 5 8-4 8 1 8 3 8 2 8-3 8-2 8-1 8 1 8 4 8-5 8-1 8 2 8-1 8 5 8-2 8 0 8 1 8-3 8 2 8-2 8 2 8-1 8-1 8 0 8 0" stroke="#000" stroke-width="2.9" fill="none" stroke-linejoin="round"/>
<path d="M1046.6 1022.5V1341" stroke="#000" stroke-width="2.6" stroke-dasharray="7 4.5"/>
<rect x="1001.5" y="1022.5" width="315.9" height="318.5" fill="none" stroke="#555" stroke-width=".8"/>
<rect x="838.9" y="58.3" width="21.6" height="255.7" fill="none" stroke="#333" stroke-width="1"/>
<path d="M856.5 97L860.5 97" stroke="#333" stroke-width="1.2"/>
<path d="M856.5 127.2L860.5 127.2" stroke="#333" stroke-width="1.2"/>
<path d="M856.5 157.4L860.5 157.4" stroke="#333" stroke-width="1.2"/>
<path d="M856.5 187.6L860.5 187.6" stroke="#333" stroke-width="1.2"/>
<path d="M856.5 217.8L860.5 217.8" stroke="#333" stroke-width="1.2"/>
<path d="M856.5 248L860.5 248" stroke="#333" stroke-width="1.2"/>
<path d="M856.5 278.2L860.5 278.2" stroke="#333" stroke-width="1.2"/>
<path d="M856.5 308.4L860.5 308.4" stroke="#333" stroke-width="1.2"/>
<text x="866" y="75.4" font-size="24">0.4</text>
<text x="866" y="196.2" font-size="24">0</text>
<text x="866" y="317.1" font-size="24">-0.4</text>
<text x="915.5" y="180" text-anchor="middle" font-size="29" transform="rotate(-90 915.5 180)">A/m²</text>
<rect x="845" y="873.2" width="19.2" height="249.6" fill="none" stroke="#333" stroke-width="1"/>
<path d="M860.2 873.2L864.2 873.2" stroke="#333" stroke-width="1.2"/>
<path d="M860.2 914.8L864.2 914.8" stroke="#333" stroke-width="1.2"/>
<path d="M860.2 956.4L864.2 956.4" stroke="#333" stroke-width="1.2"/>
<path d="M860.2 998L864.2 998" stroke="#333" stroke-width="1.2"/>
<path d="M860.2 1039.6L864.2 1039.6" stroke="#333" stroke-width="1.2"/>
<path d="M860.2 1081.2L864.2 1081.2" stroke="#333" stroke-width="1.2"/>
<path d="M860.2 1122.8L864.2 1122.8" stroke="#333" stroke-width="1.2"/>
<text x="869.6" y="881.8" font-size="24">0.6</text>
<text x="869.6" y="923.4" font-size="24">0.4</text>
<text x="869.6" y="965" font-size="24">0.2</text>
<text x="869.6" y="1006.6" font-size="24">0</text>
<text x="869.6" y="1048.2" font-size="24">-0.2</text>
<text x="869.6" y="1089.8" font-size="24">-0.4</text>
<text x="869.6" y="1131.4" font-size="24">-0.6</text>
<text x="882" y="853" text-anchor="middle" font-size="29">Source</text>
<text x="869" y="1154.5" text-anchor="middle" font-size="29">Sink</text>
<text x="931" y="992" text-anchor="middle" font-size="29" transform="rotate(-90 931 992)">A/m²</text>
<rect x="1344.2" y="878.1" width="19.3" height="249.7" fill="none" stroke="#333" stroke-width="1"/>
<path d="M1359.5 878.1L1363.5 878.1" stroke="#333" stroke-width="1.2"/>
<path d="M1359.5 909.3L1363.5 909.3" stroke="#333" stroke-width="1.2"/>
<path d="M1359.5 940.5L1363.5 940.5" stroke="#333" stroke-width="1.2"/>
<path d="M1359.5 971.7L1363.5 971.7" stroke="#333" stroke-width="1.2"/>
<path d="M1359.5 1003L1363.5 1003" stroke="#333" stroke-width="1.2"/>
<path d="M1359.5 1034.2L1363.5 1034.2" stroke="#333" stroke-width="1.2"/>
<path d="M1359.5 1065.4L1363.5 1065.4" stroke="#333" stroke-width="1.2"/>
<path d="M1359.5 1096.6L1363.5 1096.6" stroke="#333" stroke-width="1.2"/>
<path d="M1359.5 1127.8L1363.5 1127.8" stroke="#333" stroke-width="1.2"/>
<text x="1368.8" y="886.7" font-size="24">0.4</text>
<text x="1368.8" y="949.2" font-size="24">0.2</text>
<text x="1368.8" y="1011.6" font-size="24">0</text>
<text x="1368.8" y="1074" font-size="24">-0.2</text>
<text x="1368.8" y="1136.4" font-size="24">-0.4</text>
<text x="1394" y="856" text-anchor="middle" font-size="29">Source</text>
<text x="1377" y="1167" text-anchor="middle" font-size="29">Sink</text>
<text x="1420" y="1002" text-anchor="middle" font-size="29" transform="rotate(-90 1420 1002)">A/m²</text>
<path d="M92.8 1670.5L92.8 2053" stroke="#d6d6d6" stroke-width="1.6"/>
<path d="M149.2 1670.5L149.2 2053" stroke="#d6d6d6" stroke-width="1.6"/>
<path d="M205.5 1670.5L205.5 2053" stroke="#d6d6d6" stroke-width="1.6"/>
<path d="M261.8 1670.5L261.8 2053" stroke="#d6d6d6" stroke-width="1.6"/>
<path d="M318.2 1670.5L318.2 2053" stroke="#d6d6d6" stroke-width="1.6"/>
<path d="M374.5 1670.5L374.5 2053" stroke="#d6d6d6" stroke-width="1.6"/>
<path d="M430.9 1670.5L430.9 2053" stroke="#d6d6d6" stroke-width="1.6"/>
<path d="M487.2 1670.5L487.2 2053" stroke="#d6d6d6" stroke-width="1.6"/>
<path d="M543.5 1670.5L543.5 2053" stroke="#d6d6d6" stroke-width="1.6"/>
<path d="M599.9 1670.5L599.9 2053" stroke="#d6d6d6" stroke-width="1.6"/>
<path d="M656.2 1670.5L656.2 2053" stroke="#d6d6d6" stroke-width="1.6"/>
<path d="M78.8 2039.7L656.3 2039.7" stroke="#d6d6d6" stroke-width="1.6"/>
<path d="M78.8 1987L656.3 1987" stroke="#d6d6d6" stroke-width="1.6"/>
<path d="M78.8 1934.3L656.3 1934.3" stroke="#d6d6d6" stroke-width="1.6"/>
<path d="M78.8 1881.6L656.3 1881.6" stroke="#d6d6d6" stroke-width="1.6"/>
<path d="M78.8 1828.8L656.3 1828.8" stroke="#d6d6d6" stroke-width="1.6"/>
<path d="M78.8 1776.1L656.3 1776.1" stroke="#d6d6d6" stroke-width="1.6"/>
<path d="M78.8 1723.4L656.3 1723.4" stroke="#d6d6d6" stroke-width="1.6"/>
<path d="M92.8 1968.2L95.1 1971.8L97.3 1974.7L99.6 1969.4L101.8 1965.1L104.1 1960.1L106.3 1964.9L108.6 1969.3L110.8 1975.4L113.1 1975.6L115.4 1974.7L117.6 1974.1L119.9 1975.8L122.1 1974.4L124.4 1969.3L126.6 1969.6L128.9 1971.2L131.1 1968.3L133.4 1969.6L135.6 1970.3L137.9 1969.2L140.1 1967.1L142.4 1973.4L144.7 1972L146.9 1970.2L149.2 1972.5L151.4 1979.7L153.7 1975.5L155.9 1969.3L158.2 1964.1L160.4 1964.3L162.7 1964.8L164.9 1963.8L167.2 1965.2L169.4 1966.4L171.7 1966.9L173.9 1964L176.2 1961.9L178.5 1963.1L180.7 1962.9L183 1968.8L185.2 1973.1L187.5 1975.7L189.7 1975.1L192 1975.4L194.2 1976.3L196.5 1974.8L198.7 1971L201 1967.7L203.2 1967.5L205.5 1970.6L207.8 1963.4L210 1950.3L212.3 1936.7L214.5 1926.3L216.8 1924L219 1906.8L221.3 1891.2L223.5 1873.3L225.8 1852.9L228 1829.9L230.3 1811.7L232.5 1807.7L234.8 1803L237.1 1798L239.3 1799L241.6 1814.2L243.8 1825.8L246.1 1832.1L248.3 1838.2L250.6 1840.8L252.8 1831.9L255.1 1829.2L257.3 1830.8L259.6 1831.6L261.8 1825.4L264.1 1824.8L266.3 1826.2L268.6 1831.1L270.9 1829.5L273.1 1827.9L275.4 1825.1L277.6 1820.8L279.9 1818L282.1 1821.4L284.4 1820.2L286.6 1816.5L288.9 1817.9L291.1 1825.1L293.4 1826.2L295.6 1819.7L297.9 1810.3L300.2 1805.3L302.4 1808.7L304.7 1810.7L306.9 1803.3L309.2 1795.8L311.4 1790.3L313.7 1788.1L315.9 1790.4L318.2 1792.5L320.4 1789.3L322.7 1782.6L324.9 1783.8L327.2 1782.2L329.4 1781.8L331.7 1779.2L334 1777.1L336.2 1767.7L338.5 1760.2L340.7 1759.5L343 1762.9L345.2 1766.1L347.5 1760.1L349.7 1753.5L352 1750.9L354.2 1752.9L356.5 1752.3L358.7 1751.8L361 1750.3L363.3 1747.5L365.5 1741.4L367.8 1740.9L370 1744.1L372.3 1747.4L374.5 1748.8L376.8 1741L379 1733L381.3 1725.4L383.5 1729.2L385.8 1735.8L388 1734.8L390.3 1726.3L392.5 1724.7L394.8 1728.8L397.1 1733.4L399.3 1727.9L401.6 1722.6L403.8 1720.4L406.1 1722.2L408.3 1720.9L410.6 1717.5L412.8 1713L415.1 1710.3L417.3 1709.8L419.6 1710.9L421.8 1705.5L424.1 1703L426.4 1704.1L428.6 1699.6L430.9 1692.1L433.1 1688.5L435.4 1689.3L437.6 1689.8L439.9 1689L442.1 1686.6L444.4 1679.1L446.6 1674.9L448.9 1673.3L451.1 1673.9L453.4 1667.6L455.6 1662.5L457.9 1653.5L460.2 1646.4L462.4 1644.2L464.7 1648.1L466.9 1647L469.2 1642.7L471.4 1642.6L473.7 1638.6L475.9 1631.5L478.2 1627.7L480.4 1627L482.7 1621.7L484.9 1620.7L487.2 1624.6L489.5 1624.7L491.7 1618.8L494 1611.5L496.2 1603.5L498.5 1595.3L500.7 1585.8L503 1584.4L505.2 1594.4L507.5 1607.9L509.7 1611.3L512 1620.4L514.2 1629.3L516.5 1637.7L518.8 1640.8L521 1645.2L523.3 1652.2L525.5 1653.4L527.8 1654.2L530 1653.5L532.3 1658.1L534.5 1664.9L536.8 1667.9L539 1666L541.3 1661.9L543.5 1665L545.8 1666.7L548 1674.9L550.3 1681.9L552.6 1687.8L554.8 1688.3L557.1 1692.9L559.3 1694.2L561.6 1690.4L563.8 1688.8L566.1 1689.2L568.3 1693.7L570.6 1695L572.8 1695.6L575.1 1692.1L577.3 1693L579.6 1698.2L581.9 1706.5L584.1 1712.2L586.4 1711.9L588.6 1708.9L590.9 1710.1L593.1 1714L595.4 1719.7L597.6 1723.3L599.9 1726L602.1 1721.2L604.4 1724.9L606.6 1724.4L608.9 1729.6L611.1 1733L613.4 1736.9L615.7 1732.4L617.9 1733L620.2 1739.2L622.4 1739.1L624.7 1738.2L626.9 1737.4L629.2 1740.1L631.4 1740.4L633.7 1742.7L635.9 1744.7L638.2 1742.5L640.4 1746.1L642.7 1748.2L645 1754L647.2 1755.4L649.5 1757.1L651.7 1757.5L654 1760.8L656.2 1763.8L656.2 1863.7L654 1865.6L651.7 1864.7L649.5 1867.8L647.2 1867.5L645 1866.5L642.7 1865.7L640.4 1869.6L638.2 1872.6L635.9 1873.4L633.7 1873.4L631.4 1873.2L629.2 1871.2L626.9 1868L624.7 1867.9L622.4 1865.2L620.2 1862.5L617.9 1859.8L615.7 1862.9L613.4 1868.3L611.1 1870.6L608.9 1866.3L606.6 1859.3L604.4 1856.2L602.1 1856.9L599.9 1856L597.6 1855.8L595.4 1857.9L593.1 1860.2L590.9 1857.7L588.6 1854.9L586.4 1856.1L584.1 1854.6L581.9 1850.1L579.6 1847.8L577.3 1851.1L575.1 1851.1L572.8 1848.4L570.6 1846.1L568.3 1845.3L566.1 1844.3L563.8 1842.1L561.6 1837L559.3 1831L557.1 1825.5L554.8 1822.4L552.6 1821.9L550.3 1823.4L548 1821.9L545.8 1815.8L543.5 1808.6L541.3 1807L539 1806.3L536.8 1807.4L534.5 1806.1L532.3 1806.2L530 1803.1L527.8 1800.3L525.5 1799.4L523.3 1798.7L521 1798.8L518.8 1797.3L516.5 1799.6L514.2 1798.5L512 1800.8L509.7 1804.2L507.5 1806.3L505.2 1800.4L503 1798.2L500.7 1800L498.5 1804.5L496.2 1801L494 1797.1L491.7 1797.4L489.5 1799.2L487.2 1800.6L484.9 1798.8L482.7 1798.5L480.4 1798.8L478.2 1799.4L475.9 1800.7L473.7 1802.3L471.4 1802.1L469.2 1800.5L466.9 1800.6L464.7 1806.7L462.4 1809.4L460.2 1809.6L457.9 1806L455.6 1802.4L453.4 1799.4L451.1 1802.2L448.9 1804.8L446.6 1806.9L444.4 1809.6L442.1 1814.3L439.9 1813.2L437.6 1807.5L435.4 1806.2L433.1 1811.7L430.9 1816L428.6 1816.4L426.4 1814.4L424.1 1814L421.8 1815.2L419.6 1818.7L417.3 1823.5L415.1 1824.2L412.8 1823.8L410.6 1821.3L408.3 1819.2L406.1 1817.1L403.8 1816.3L401.6 1819.9L399.3 1825.7L397.1 1831.7L394.8 1832.7L392.5 1832L390.3 1833.1L388 1835.2L385.8 1834.6L383.5 1831.5L381.3 1832.4L379 1837.3L376.8 1839.7L374.5 1841.8L372.3 1844.4L370 1845.3L367.8 1841.9L365.5 1841.1L363.3 1843.5L361 1844.3L358.7 1849.6L356.5 1852L354.2 1856.3L352 1855.2L349.7 1858.1L347.5 1858.5L345.2 1859.6L343 1861.4L340.7 1862.2L338.5 1863.8L336.2 1867.1L334 1872L331.7 1869.7L329.4 1869.1L327.2 1867.7L324.9 1872.7L322.7 1871.1L320.4 1873.4L318.2 1870.2L315.9 1874.7L313.7 1877.4L311.4 1883.5L309.2 1882.7L306.9 1882L304.7 1884L302.4 1892.1L300.2 1899.8L297.9 1902.9L295.6 1900.8L293.4 1899.9L291.1 1901.6L288.9 1902.4L286.6 1902.6L284.4 1901.8L282.1 1900.5L279.9 1901.6L277.6 1904.1L275.4 1906.9L273.1 1904L270.9 1902.8L268.6 1899.7L266.3 1899.5L264.1 1903L261.8 1905.1L259.6 1913.2L257.3 1914.3L255.1 1915.2L252.8 1912.5L250.6 1915.4L248.3 1906.5L246.1 1903.1L243.8 1897.9L241.6 1891.8L239.3 1879.2L237.1 1881.4L234.8 1887.7L232.5 1897.4L230.3 1906.8L228 1913.6L225.8 1920.1L223.5 1928.3L221.3 1940.3L219 1955.3L216.8 1972.6L214.5 1983L212.3 1986.5L210 1986.4L207.8 1988.6L205.5 1992.5L203.2 1991.6L201 1994.9L198.7 2002.4L196.5 2005.7L194.2 2002L192 1997.3L189.7 1998.2L187.5 1998.8L185.2 1998.1L183 1999.6L180.7 2003.7L178.5 2005.6L176.2 2004.9L173.9 2002.2L171.7 1997.8L169.4 1995.4L167.2 2000.2L164.9 2002.6L162.7 2003.8L160.4 2002L158.2 2001.3L155.9 2001.4L153.7 2003.3L151.4 2006.1L149.2 2008.2L146.9 2010.9L144.7 2005.6L142.4 2000.4L140.1 1999.9L137.9 2001.5L135.6 2004.5L133.4 2004L131.1 2001.5L128.9 1997L126.6 1997.5L124.4 1998.3L122.1 2000.9L119.9 2004.4L117.6 2003.7L115.4 1998L113.1 1994.5L110.8 1998.2L108.6 2003.9L106.3 2009.4L104.1 2005.1L101.8 1998.2L99.6 1995.7L97.3 2002.7L95.1 2005.1L92.8 2003.4Z" fill="#f08080" fill-opacity="0.16"/>
<path d="M92.8 1976.2L95.1 1973.2L97.3 1969.1L99.6 1966.9L101.8 1970.5L104.1 1978.9L106.3 1980.3L108.6 1980.4L110.8 1977.3L113.1 1974.5L115.4 1974.9L117.6 1975.3L119.9 1977L122.1 1979.6L124.4 1982.9L126.6 1986.2L128.9 1985.9L131.1 1983L133.4 1983L135.6 1985.9L137.9 1985.3L140.1 1979.6L142.4 1977.2L144.7 1975.2L146.9 1977.8L149.2 1983.2L151.4 1988.4L153.7 1991L155.9 1989.6L158.2 1982.7L160.4 1977.6L162.7 1974.9L164.9 1970.7L167.2 1970.6L169.4 1974.2L171.7 1975.6L173.9 1977L176.2 1982.2L178.5 1986L180.7 1980.6L183 1978.7L185.2 1972.3L187.5 1964.1L189.7 1961.8L192 1963L194.2 1968L196.5 1977.4L198.7 1978L201 1975.9L203.2 1973.3L205.5 1970.5L207.8 1964.2L210 1958.9L212.3 1961.4L214.5 1959.3L216.8 1956.1L219 1954.3L221.3 1955.3L223.5 1955.3L225.8 1955.3L228 1956.3L230.3 1958.8L232.5 1920.2L234.8 1905.8L237.1 1888.6L239.3 1863.6L241.6 1834L243.8 1798.2L246.1 1767.3L248.3 1740.9L250.6 1716.8L252.8 1703L255.1 1705.4L257.3 1718L259.6 1732.7L261.8 1750.5L264.1 1766.5L266.3 1783.3L268.6 1796.3L270.9 1801.2L273.1 1805.8L275.4 1811.3L277.6 1819.3L279.9 1829.4L282.1 1844.1L284.4 1847.9L286.6 1850.7L288.9 1853.2L291.1 1855.7L293.4 1852.5L295.6 1851.9L297.9 1858.1L300.2 1861.8L302.4 1862.2L304.7 1859.4L306.9 1867L309.2 1878.6L311.4 1886.7L313.7 1890.5L315.9 1887L318.2 1877.9L320.4 1873.2L322.7 1868.2L324.9 1873.8L327.2 1879.1L329.4 1879.6L331.7 1880.8L334 1881.1L336.2 1880.1L338.5 1882.2L340.7 1884.1L343 1879.7L345.2 1874.6L347.5 1874.4L349.7 1876.9L352 1881.2L354.2 1879.3L356.5 1868.2L358.7 1858.2L361 1855.6L363.3 1861.8L365.5 1860.8L367.8 1858.9L370 1858.7L372.3 1860.7L374.5 1858.9L376.8 1851.3L379 1843.9L381.3 1840.1L383.5 1839.4L385.8 1837.9L388 1828.9L390.3 1818.7L392.5 1819.1L394.8 1818.8L397.1 1812.4L399.3 1807L401.6 1800.9L403.8 1794.7L406.1 1787L408.3 1784.7L410.6 1779.4L412.8 1778L415.1 1771.9L417.3 1765.3L419.6 1759.8L421.8 1756.7L424.1 1755.2L426.4 1759.9L428.6 1761.5L430.9 1758.2L433.1 1754.4L435.4 1752.5L437.6 1746.2L439.9 1734.3L442.1 1724.6L444.4 1723L446.6 1721.5L448.9 1719.2L451.1 1714.6L453.4 1712.7L455.6 1709.2L457.9 1706.4L460.2 1700.1L462.4 1696.3L464.7 1691.9L466.9 1696.9L469.2 1700.6L471.4 1699.3L473.7 1695.4L475.9 1693.4L478.2 1694L480.4 1698.3L482.7 1695.9L484.9 1689.4L487.2 1691.7L489.5 1697.8L491.7 1699.7L494 1701.6L496.2 1708.3L498.5 1712.4L500.7 1712.2L503 1709L505.2 1713L507.5 1711.8L509.7 1706.6L512 1702.7L514.2 1705.5L516.5 1705.7L518.8 1703.6L521 1701.8L523.3 1699.6L525.5 1703.9L527.8 1713.6L530 1715.6L532.3 1712.2L534.5 1708.9L536.8 1716.6L539 1721.8L541.3 1720.6L543.5 1720.3L545.8 1725.9L548 1734.8L550.3 1736.2L552.6 1727.2L554.8 1720.1L557.1 1723.9L559.3 1728.2L561.6 1727.6L563.8 1723L566.1 1723.7L568.3 1727.1L570.6 1737.8L572.8 1747.8L575.1 1748.1L577.3 1747L579.6 1746.9L581.9 1749.6L584.1 1750.5L586.4 1750.3L588.6 1747.5L590.9 1746.2L593.1 1743.5L595.4 1740.5L597.6 1740.7L599.9 1742.7L602.1 1744.7L604.4 1748.6L606.6 1745.5L608.9 1743.4L611.1 1742.6L613.4 1736.4L615.7 1728.3L617.9 1731.9L620.2 1739L622.4 1741.6L624.7 1743L626.9 1749.5L629.2 1758.1L631.4 1763.4L633.7 1769.4L635.9 1771.4L638.2 1768.4L640.4 1764.5L642.7 1765.7L645 1769.4L647.2 1769.3L649.5 1768.4L651.7 1774L654 1776.5L656.2 1772.4L656.2 1827.3L654 1831.6L651.7 1827.3L649.5 1818.6L647.2 1821.4L645 1825L642.7 1825L640.4 1822.6L638.2 1824.5L635.9 1824.6L633.7 1825.5L631.4 1820.7L629.2 1815.2L626.9 1802.7L624.7 1792.8L622.4 1791.9L620.2 1792.2L617.9 1788.7L615.7 1783.1L613.4 1792.2L611.1 1800.6L608.9 1802.8L606.6 1803.7L604.4 1803.6L602.1 1797L599.9 1795.2L597.6 1800.2L595.4 1805.2L593.1 1807.6L590.9 1808.6L588.6 1810.7L586.4 1810.8L584.1 1805.6L581.9 1801.1L579.6 1800.9L577.3 1800L575.1 1798.9L572.8 1799.2L570.6 1793.2L568.3 1788L566.1 1787L563.8 1787.1L561.6 1786.7L559.3 1783.7L557.1 1779.1L554.8 1780L552.6 1787.7L550.3 1793.4L548 1787.5L545.8 1781.9L543.5 1782.6L541.3 1787L539 1785.9L536.8 1777.6L534.5 1771.6L532.3 1776.8L530 1781.1L527.8 1778.3L525.5 1770.6L523.3 1767.2L521 1766.9L518.8 1767L516.5 1769.8L514.2 1768.4L512 1762.2L509.7 1765.5L507.5 1773L505.2 1772.1L503 1764.1L500.7 1765.9L498.5 1767.3L496.2 1767.1L494 1761.8L491.7 1759.4L489.5 1759.5L487.2 1758.4L484.9 1757.8L482.7 1761.6L480.4 1760.7L478.2 1757.8L475.9 1759.7L473.7 1761.9L471.4 1761.1L469.2 1759.8L466.9 1754.5L464.7 1750.6L462.4 1756.4L460.2 1762.7L457.9 1764.7L455.6 1768.2L453.4 1770.2L451.1 1773L448.9 1772.4L446.6 1771.8L444.4 1773.1L442.1 1775L439.9 1785.3L437.6 1798.7L435.4 1808L433.1 1812.2L430.9 1811.7L428.6 1810.8L426.4 1805.9L424.1 1804L421.8 1807.5L419.6 1813.2L417.3 1819.1L415.1 1826.2L412.8 1828L410.6 1828.7L408.3 1832.8L406.1 1839.8L403.8 1845.3L401.6 1849.4L399.3 1849.6L397.1 1852.8L394.8 1857.3L392.5 1858.4L390.3 1857L388 1866.9L385.8 1878L383.5 1885.1L381.3 1889.1L379 1891.8L376.8 1893.4L374.5 1896.6L372.3 1899.9L370 1901.1L367.8 1900.2L365.5 1897.6L363.3 1896L361 1890.3L358.7 1893.6L356.5 1907.2L354.2 1919.6L352 1923.6L349.7 1918.3L347.5 1916.3L345.2 1914.9L343 1920.7L340.7 1923.8L338.5 1922.6L336.2 1918.9L334 1917.5L331.7 1917.4L329.4 1919.2L327.2 1921.5L324.9 1915.7L322.7 1911.9L320.4 1915.8L318.2 1920L315.9 1925.3L313.7 1930.2L311.4 1923.7L309.2 1914.6L306.9 1901.9L304.7 1900.6L302.4 1904.1L300.2 1903L297.9 1896L295.6 1887.5L293.4 1888.2L291.1 1891.6L288.9 1888.4L286.6 1885L284.4 1885.4L282.1 1880.3L279.9 1866.7L277.6 1855.5L275.4 1849.3L273.1 1845.1L270.9 1843.5L268.6 1838.5L266.3 1825.7L264.1 1811.4L261.8 1796.2L259.6 1782.6L257.3 1769L255.1 1759.7L252.8 1759.3L250.6 1771.9L248.3 1792.1L246.1 1817.9L243.8 1848.7L241.6 1884L239.3 1908.1L237.1 1931L234.8 1947.6L232.5 1962.1L230.3 1996.2L228 1989.6L225.8 1987.5L223.5 1985.2L221.3 1986.3L219 1988.3L216.8 1987.7L214.5 1986.5L212.3 1987.3L210 1988.1L207.8 1988.7L205.5 1990.8L203.2 1994L201 1996.5L198.7 1997.7L196.5 1996.6L194.2 1991.9L192 1987.8L189.7 1985.3L187.5 1980.9L185.2 1984.8L183 1995.3L180.7 2004L178.5 2009.1L176.2 2002.3L173.9 1997L171.7 1995.4L169.4 1993.2L167.2 1991.3L164.9 1991.5L162.7 1993.2L160.4 1996.4L158.2 2001.1L155.9 2004.1L153.7 2001.3L151.4 1998.8L149.2 1999L146.9 1999.7L144.7 1999.4L142.4 2000L140.1 2001.9L137.9 2005.3L135.6 2006.6L133.4 2004.2L131.1 2001L128.9 1996.9L126.6 1995.5L124.4 1997.6L122.1 1999.6L119.9 1997.5L117.6 1994.5L115.4 1992.1L113.1 1989.6L110.8 1989.7L108.6 1991.3L106.3 1991.9L104.1 1989.8L101.8 1984.3L99.6 1979L97.3 1982.4L95.1 1986L92.8 1991.5Z" fill="#8090f0" fill-opacity="0.12"/>
<path d="M92.8 1973.3L95.1 1969.1L97.3 1966.1L99.6 1965.6L101.8 1965.8L104.1 1968.4L106.3 1969L108.6 1969L110.8 1969.7L113.1 1972.3L115.4 1973.7L117.6 1973.5L119.9 1973.1L122.1 1973.8L124.4 1976.8L126.6 1976.4L128.9 1976.5L131.1 1977.4L133.4 1981.9L135.6 1983.6L137.9 1981.7L140.1 1979.4L142.4 1975.9L144.7 1971.6L146.9 1968.3L149.2 1969.4L151.4 1971.2L153.7 1971.6L155.9 1971.3L158.2 1973.5L160.4 1975.2L162.7 1974L164.9 1971L167.2 1969L169.4 1968.7L171.7 1971L173.9 1970.7L176.2 1972L178.5 1972.6L180.7 1974.3L183 1971.9L185.2 1969.5L187.5 1966.1L189.7 1963.4L192 1966.1L194.2 1968L196.5 1973L198.7 1973.9L201 1972.9L203.2 1967.7L205.5 1963.6L207.8 1959L210 1953.7L212.3 1945L214.5 1930.5L216.8 1925.7L219 1930.2L221.3 1934.7L223.5 1938.2L225.8 1939.2L228 1938.7L230.3 1933L232.5 1925.3L234.8 1918.4L237.1 1905.2L239.3 1875.5L241.6 1839.4L243.8 1804.7L246.1 1781.1L248.3 1759.4L250.6 1735.5L252.8 1725.3L255.1 1724.7L257.3 1729.7L259.6 1739L261.8 1745.6L264.1 1754.6L266.3 1768.1L268.6 1780.4L270.9 1791.2L273.1 1795.3L275.4 1801.9L277.6 1809.9L279.9 1819.2L282.1 1829L284.4 1838.1L286.6 1846.9L288.9 1856.2L291.1 1862.2L293.4 1863.5L295.6 1862.8L297.9 1856.5L300.2 1851.4L302.4 1847.6L304.7 1843L306.9 1836.9L309.2 1831.4L311.4 1831.5L313.7 1833.1L315.9 1832.7L318.2 1828.3L320.4 1825.8L322.7 1824.9L324.9 1826.9L327.2 1833L329.4 1837.2L331.7 1839.4L334 1842.5L336.2 1847L338.5 1850.8L340.7 1860.9L343 1871.7L345.2 1881.1L347.5 1886.5L349.7 1892L352 1895L354.2 1897.5L356.5 1896.1L358.7 1897.7L361 1900.2L363.3 1900.4L365.5 1898.6L367.8 1899.1L370 1900L372.3 1901.4L374.5 1899.3L376.8 1898.8L379 1896.5L381.3 1896.1L383.5 1893.2L385.8 1889L388 1885.6L390.3 1886.7L392.5 1887.8L394.8 1887.5L397.1 1885.3L399.3 1883.3L401.6 1882L403.8 1881.1L406.1 1875L408.3 1867.1L410.6 1871.5L412.8 1876.5L415.1 1879.3L417.3 1881L419.6 1882.5L421.8 1882.3L424.1 1885L426.4 1886.7L428.6 1889.3L430.9 1891.7L433.1 1895.4L435.4 1897L437.6 1897.4L439.9 1900.7L442.1 1902.5L444.4 1902.6L446.6 1899L448.9 1896.5L451.1 1892.5L453.4 1888.5L455.6 1884.9L457.9 1882.8L460.2 1877.7L462.4 1882.1L464.7 1888.2L466.9 1892.1L469.2 1889.1L471.4 1887L473.7 1884.6L475.9 1884.1L478.2 1883.9L480.4 1883.5L482.7 1881.3L484.9 1877.6L487.2 1876.1L489.5 1875.4L491.7 1873.1L494 1871.1L496.2 1873.3L498.5 1875.1L500.7 1873.1L503 1872.5L505.2 1870.5L507.5 1868.6L509.7 1867.7L512 1867L514.2 1865.9L516.5 1867.1L518.8 1869.7L521 1873.5L523.3 1876.3L525.5 1875L527.8 1873.9L530 1871.4L532.3 1870.1L534.5 1867.3L536.8 1866.3L539 1864.7L541.3 1863L543.5 1863.4L545.8 1862.7L548 1864.6L550.3 1869.2L552.6 1873.7L554.8 1874.8L557.1 1877.2L559.3 1878.2L561.6 1878.7L563.8 1878.4L566.1 1880.8L568.3 1884.5L570.6 1888.3L572.8 1889.8L575.1 1891.2L577.3 1891.3L579.6 1892.6L581.9 1893.3L584.1 1892.3L586.4 1888L588.6 1885.8L590.9 1891.5L593.1 1897.6L595.4 1899.5L597.6 1902.6L599.9 1902.4L602.1 1904.1L604.4 1901.8L606.6 1901.3L608.9 1900.2L611.1 1899.8L613.4 1899.4L615.7 1899.6L617.9 1902L620.2 1904.4L622.4 1908.5L624.7 1908.9L626.9 1904.2L629.2 1897.1L631.4 1897.3L633.7 1895.3L635.9 1896.7L638.2 1898.3L640.4 1899.2L642.7 1894.8L645 1891.4L647.2 1890.8L649.5 1890.7L651.7 1892.1L654 1890.4L656.2 1891.5L656.2 1932.7L654 1932.1L651.7 1928.7L649.5 1928.3L647.2 1931.9L645 1935L642.7 1934.5L640.4 1933.1L638.2 1935L635.9 1935.8L633.7 1936.3L631.4 1933.3L629.2 1932.5L626.9 1938.4L624.7 1946.9L622.4 1947.9L620.2 1948.4L617.9 1947.3L615.7 1946.2L613.4 1943L611.1 1939.3L608.9 1940.6L606.6 1941.3L604.4 1942.5L602.1 1942.2L599.9 1945.7L597.6 1945.2L595.4 1941.3L593.1 1936.1L590.9 1934.9L588.6 1933.2L586.4 1934L584.1 1932.6L581.9 1934.7L579.6 1938.8L577.3 1941.2L575.1 1936.4L572.8 1931.2L570.6 1925.5L568.3 1927.5L566.1 1929.4L563.8 1930L561.6 1928.3L559.3 1927.2L557.1 1925.6L554.8 1922.1L552.6 1917.3L550.3 1914L548 1910.1L545.8 1912.6L543.5 1915.5L541.3 1919.6L539 1921L536.8 1921.6L534.5 1923L532.3 1922.5L530 1922.9L527.8 1922.1L525.5 1922.8L523.3 1923.4L521 1926L518.8 1923.5L516.5 1920.9L514.2 1917.2L512 1919.5L509.7 1922.2L507.5 1925.1L505.2 1927.4L503 1928.1L500.7 1925.6L498.5 1921.8L496.2 1921.7L494 1922L491.7 1922.7L489.5 1924.6L487.2 1928.7L484.9 1931.9L482.7 1932.4L480.4 1934.5L478.2 1938.3L475.9 1940.9L473.7 1941.8L471.4 1942.9L469.2 1945L466.9 1946.9L464.7 1942.4L462.4 1935.5L460.2 1928.9L457.9 1933.1L455.6 1936.5L453.4 1939.9L451.1 1944.5L448.9 1947.7L446.6 1951.1L444.4 1949.3L442.1 1949.4L439.9 1949.4L437.6 1949L435.4 1945.2L433.1 1942.6L430.9 1942.1L428.6 1940.3L426.4 1938.2L424.1 1935.2L421.8 1933.1L419.6 1928.3L417.3 1925.3L415.1 1922.8L412.8 1919.3L410.6 1915.9L408.3 1911.9L406.1 1919.7L403.8 1924.6L401.6 1927.9L399.3 1928.5L397.1 1928.4L394.8 1928L392.5 1929.5L390.3 1932.3L388 1935.5L385.8 1934.2L383.5 1932.4L381.3 1932.2L379 1935.2L376.8 1937.1L374.5 1940.8L372.3 1942.9L370 1942.9L367.8 1942.3L365.5 1941.2L363.3 1938.2L361 1937.5L358.7 1939.2L356.5 1939.2L354.2 1936.2L352 1931.5L349.7 1927.3L347.5 1925.5L345.2 1918.9L343 1911.5L340.7 1901.7L338.5 1893.4L336.2 1888.7L334 1884.5L331.7 1878.5L329.4 1872.2L327.2 1869.2L324.9 1869.2L322.7 1870.7L320.4 1870.5L318.2 1866.3L315.9 1863.7L313.7 1865.3L311.4 1869.6L309.2 1873.4L306.9 1875.1L304.7 1877.7L302.4 1883.1L300.2 1891.1L297.9 1898.9L295.6 1903.8L293.4 1902.8L291.1 1898.2L288.9 1893.2L286.6 1883.6L284.4 1872.3L282.1 1860.4L279.9 1851.1L277.6 1844.6L275.4 1835.8L273.1 1829.2L270.9 1823.2L268.6 1814.7L266.3 1805.2L264.1 1792.5L261.8 1780.3L259.6 1767.9L257.3 1756.6L255.1 1755.1L252.8 1761.3L250.6 1771.8L248.3 1791.2L246.1 1811.8L243.8 1836.1L241.6 1872.5L239.3 1903.4L237.1 1931.7L234.8 1942.8L232.5 1951.4L230.3 1958.9L228 1964.1L225.8 1961.5L223.5 1958.9L221.3 1957.5L219 1954.2L216.8 1948.6L214.5 1952.5L212.3 1964.4L210 1972.8L207.8 1981.3L205.5 1989.3L203.2 1991.3L201 1991.3L198.7 1993.6L196.5 1995.1L194.2 1993.4L192 1989.7L189.7 1987.6L187.5 1986.8L185.2 1991.9L183 1996L180.7 1999.7L178.5 1997.6L176.2 1994.5L173.9 1992.3L171.7 1988.6L169.4 1989.3L167.2 1992.8L164.9 1994.6L162.7 1993.4L160.4 1994.2L158.2 1994.2L155.9 1993.5L153.7 1990.6L151.4 1988.4L149.2 1987.7L146.9 1993L144.7 1994L142.4 1994.1L140.1 1995.6L137.9 1998.2L135.6 1997.3L133.4 1995.9L131.1 1997.3L128.9 1996.3L126.6 1994.9L124.4 1993L122.1 1994.4L119.9 1993.7L117.6 1991.7L115.4 1990.1L113.1 1990.1L110.8 1990.7L108.6 1987.6L106.3 1983.9L104.1 1980.7L101.8 1979.6L99.6 1982.5L97.3 1986.8L95.1 1990.2L92.8 1992.3Z" fill="#8090f0" fill-opacity="0.15"/>
<path d="M92.8 1965.2L95.1 1967.8L97.3 1970.4L99.6 1970.8L101.8 1971L104.1 1971L106.3 1971L108.6 1970.1L110.8 1971.8L113.1 1971.5L115.4 1971.3L117.6 1971.1L119.9 1971.4L122.1 1971L124.4 1968.9L126.6 1969.4L128.9 1971.4L131.1 1972.9L133.4 1973.5L135.6 1975.9L137.9 1976.2L140.1 1975.5L142.4 1973.2L144.7 1973.7L146.9 1973L149.2 1976.2L151.4 1977.1L153.7 1976.7L155.9 1978.6L158.2 1981.4L160.4 1982.1L162.7 1979.7L164.9 1978.5L167.2 1979.6L169.4 1979.5L171.7 1977.5L173.9 1974L176.2 1970.1L178.5 1968.8L180.7 1966.3L183 1964.9L185.2 1964.8L187.5 1964.5L189.7 1961.1L192 1959.3L194.2 1957.7L196.5 1956L198.7 1953.3L201 1953.7L203.2 1952.5L205.5 1951.5L207.8 1950.2L210 1948.5L212.3 1941.6L214.5 1929.9L216.8 1917.7L219 1910.3L221.3 1905.6L223.5 1899.6L225.8 1892.1L228 1880.1L230.3 1866L232.5 1849.8L234.8 1858.9L237.1 1866.8L239.3 1874L241.6 1879.6L243.8 1886.5L246.1 1892.3L248.3 1895.5L250.6 1895.9L252.8 1893.2L255.1 1887.8L257.3 1879.4L259.6 1876.8L261.8 1874.3L264.1 1872.6L266.3 1870.4L268.6 1870.9L270.9 1871L273.1 1874.2L275.4 1878.5L277.6 1881.9L279.9 1885.2L282.1 1890.6L284.4 1895.1L286.6 1899L288.9 1900.9L291.1 1905.5L293.4 1904.1L295.6 1902.2L297.9 1896.9L300.2 1893.1L302.4 1892.2L304.7 1891.4L306.9 1890L309.2 1889.6L311.4 1888.1L313.7 1884.2L315.9 1879.3L318.2 1874.8L320.4 1871.7L322.7 1868.6L324.9 1866.7L327.2 1866.4L329.4 1866.9L331.7 1867.1L334 1865.9L336.2 1866.6L338.5 1868L340.7 1869.5L343 1872.4L345.2 1879.7L347.5 1881.7L349.7 1882.1L352 1883.4L354.2 1883.7L356.5 1884.8L358.7 1886.7L361 1888.7L363.3 1891.2L365.5 1890.2L367.8 1888L370 1886.9L372.3 1889.4L374.5 1894.1L376.8 1897.7L379 1902.2L381.3 1907.2L383.5 1907L385.8 1906.5L388 1906.8L390.3 1910.5L392.5 1911.7L394.8 1913.6L397.1 1913.3L399.3 1914.8L401.6 1913.6L403.8 1912.6L406.1 1910.1L408.3 1907L410.6 1903.2L412.8 1904.2L415.1 1909.5L417.3 1915.5L419.6 1919.8L421.8 1920.7L424.1 1921.2L426.4 1923.8L428.6 1922.8L430.9 1921.7L433.1 1920.5L435.4 1921L437.6 1920.3L439.9 1921.7L442.1 1922.8L444.4 1925.1L446.6 1924.7L448.9 1926L451.1 1927.1L453.4 1931.8L455.6 1935.5L457.9 1938.2L460.2 1940.9L462.4 1944.7L464.7 1948.4L466.9 1946.5L469.2 1945.1L471.4 1942.8L473.7 1941.3L475.9 1938.4L478.2 1936.7L480.4 1934.7L482.7 1933L484.9 1930L487.2 1927.6L489.5 1926L491.7 1926.5L494 1926.3L496.2 1927L498.5 1927.2L500.7 1925.3L503 1920.1L505.2 1916.8L507.5 1916.8L509.7 1915.9L512 1915.4L514.2 1918.2L516.5 1921.6L518.8 1922.9L521 1921.2L523.3 1919.8L525.5 1919.3L527.8 1919.7L530 1922.5L532.3 1924.5L534.5 1924.8L536.8 1922.9L539 1922.5L541.3 1921L543.5 1920.5L545.8 1919.1L548 1917.1L550.3 1915.2L552.6 1912.5L554.8 1913.5L557.1 1913.4L559.3 1912.2L561.6 1911.3L563.8 1911.4L566.1 1912.6L568.3 1916L570.6 1922.2L572.8 1929.5L575.1 1932.7L577.3 1932.7L579.6 1931.5L581.9 1931.1L584.1 1935.4L586.4 1940.4L588.6 1944.3L590.9 1944.9L593.1 1941.4L595.4 1937.6L597.6 1932.9L599.9 1930.2L602.1 1927.6L604.4 1926.3L606.6 1923.3L608.9 1921L611.1 1920.8L613.4 1921.9L615.7 1920.8L617.9 1918.2L620.2 1916L622.4 1918.5L624.7 1922.3L626.9 1926.2L629.2 1929.7L631.4 1929.8L633.7 1927.4L635.9 1926.8L638.2 1924.1L640.4 1922.4L642.7 1919.9L645 1920.4L647.2 1921.2L649.5 1920.8L651.7 1919.2L654 1916.9L656.2 1916.4L656.2 1953.2L654 1953.9L651.7 1953L649.5 1952.6L647.2 1953.5L645 1955.5L642.7 1957.8L640.4 1956.9L638.2 1956.9L635.9 1956.1L633.7 1957.5L631.4 1957.5L629.2 1960L626.9 1954.4L624.7 1949.4L622.4 1944.8L620.2 1944.8L617.9 1946.1L615.7 1946.9L613.4 1949.5L611.1 1954.5L608.9 1958.2L606.6 1960L604.4 1961.2L602.1 1964.4L599.9 1966.5L597.6 1969.5L595.4 1973.9L593.1 1977.9L590.9 1981L588.6 1977.5L586.4 1973.3L584.1 1969.3L581.9 1967.9L579.6 1965.2L577.3 1961.6L575.1 1959.3L572.8 1960.2L570.6 1958.4L568.3 1955.4L566.1 1948.9L563.8 1947.5L561.6 1947.2L559.3 1945.9L557.1 1943.8L554.8 1942.5L552.6 1942.3L550.3 1944.3L548 1947.1L545.8 1949.5L543.5 1952.3L541.3 1954.9L539 1955.6L536.8 1957.3L534.5 1957.4L532.3 1959.8L530 1959.5L527.8 1960L525.5 1958.4L523.3 1956.1L521 1952.8L518.8 1949.5L516.5 1949.1L514.2 1950.6L512 1951.5L509.7 1952.7L507.5 1954.6L505.2 1957.4L503 1957.4L500.7 1955.6L498.5 1957.2L496.2 1959.1L494 1961.6L491.7 1963.2L489.5 1965.5L487.2 1965.8L484.9 1965.8L482.7 1966.1L480.4 1967.6L478.2 1968.6L475.9 1969.8L473.7 1970.2L471.4 1972.5L469.2 1973.8L466.9 1975.7L464.7 1977L462.4 1975.2L460.2 1973.3L457.9 1970.4L455.6 1967.5L453.4 1965.6L451.1 1964.7L448.9 1961.6L446.6 1959.1L444.4 1956.3L442.1 1956.3L439.9 1955.7L437.6 1955.4L435.4 1954.7L433.1 1956.9L430.9 1957.4L428.6 1958.9L426.4 1960.5L424.1 1957.1L421.8 1951.8L419.6 1947.3L417.3 1945.7L415.1 1945.3L412.8 1944.6L410.6 1942.2L408.3 1942.6L406.1 1943.7L403.8 1945.4L401.6 1948.6L399.3 1948.6L397.1 1948.2L394.8 1946L392.5 1945.5L390.3 1944.4L388 1945.7L385.8 1943.6L383.5 1940.9L381.3 1938.3L379 1937.6L376.8 1933L374.5 1928.1L372.3 1924.4L370 1927.8L367.8 1927.6L365.5 1926.7L363.3 1927.1L361 1929.5L358.7 1930L356.5 1929.9L354.2 1928.5L352 1925.5L349.7 1923.2L347.5 1920.4L345.2 1919.3L343 1908.9L340.7 1903.6L338.5 1901.1L336.2 1901.3L334 1901.9L331.7 1901.9L329.4 1903.6L327.2 1906.2L324.9 1909.5L322.7 1912.7L320.4 1914.7L318.2 1917.2L315.9 1918.3L313.7 1918.5L311.4 1919.8L309.2 1923.1L306.9 1926.9L304.7 1929.7L302.4 1932.1L300.2 1934.5L297.9 1935.2L295.6 1934.7L293.4 1937.1L291.1 1939.9L288.9 1938.9L286.6 1934.5L284.4 1930.9L282.1 1925.3L279.9 1922.2L277.6 1916.7L275.4 1911L273.1 1907.5L270.9 1906L268.6 1904.5L266.3 1903.7L264.1 1905.6L261.8 1909.9L259.6 1914.8L257.3 1919.6L255.1 1928L252.8 1932.8L250.6 1931L248.3 1927.1L246.1 1922.8L243.8 1918.8L241.6 1913.9L239.3 1907.8L237.1 1898.7L234.8 1888.4L232.5 1878.5L230.3 1890.2L228 1903.1L225.8 1914.4L223.5 1920.2L221.3 1927.4L219 1935.9L216.8 1945.6L214.5 1954.4L212.3 1964.8L210 1967.3L207.8 1971L205.5 1973.5L203.2 1976.2L201 1976.8L198.7 1979.1L196.5 1978.5L194.2 1979.1L192 1980.6L189.7 1981.8L187.5 1981.5L185.2 1984.3L183 1987.2L180.7 1989.4L178.5 1990.7L176.2 1993.1L173.9 1993L171.7 1992.7L169.4 1992.2L167.2 1993.7L164.9 1996.2L162.7 1996.6L160.4 1995.8L158.2 1994.2L155.9 1993.6L153.7 1992L151.4 1989.2L149.2 1987.7L146.9 1988.3L144.7 1989.5L142.4 1991.9L140.1 1991.5L137.9 1992.6L135.6 1992.3L133.4 1991.5L131.1 1988.6L128.9 1986.3L126.6 1984.5L124.4 1984.7L122.1 1983.6L119.9 1984.1L117.6 1985.3L115.4 1986L113.1 1986.6L110.8 1987.1L108.6 1989.5L106.3 1989.4L104.1 1990.2L101.8 1987.5L99.6 1984L97.3 1980.8L95.1 1980L92.8 1979.2Z" fill="#f08080" fill-opacity="0.15"/>
<path d="M92.8 1971.9l1.1 0 1.2 1.3 1.1 1.9 1.1 1.4 1.2 1.8 1.1 1.7 1.1-.4 1.1-.7 1.2 .8 1.1 .4 1.1 .5 1.1 1 1.2-.2 1.1-.9 1.1-.6 1.1 .1 1.2 .5 1.1-.2 1.1-.4 1.2-.4 1.1-.6 1.1-1.2 1.1-1 1.2 .8 1.1 1.8 1.1-.3 1.1-1.5 1.2-.6 1.1-.9 1.1-.6 1.2 .4 1.1 1.5 1.1 2.3 1.1 1.7 1.2 1.7 1.1-.2 1.1-1 1.1 1.1 1.2 1.9 1.1-1.2 1.1-.9 1.1 .9 1.2-.4 1.1-1.9 1.1-.9 1.2-.3 1.1-.6 1.1-.4 1.1 1.2 1.2 1 1.1 .8 1.1 1.3 1.1 1.1 1.2 1 1.1 1.4 1.1-.1 1.1-.8 1.2 1.6 1.1 2.5 1.1 1.1 1.2-1.3 1.1-1.5 1.1-.3 1.1-1.5 1.2-1.7 1.1 .7 1.1 1.7 1.1-.6 1.2-1.2 1.1 .5 1.1-.1 1.1-1.7 1.2-2.6 1.1-1.9 1.1 .1 1.2 .6 1.1-.7 1.1-1.7 1.1-1.1 1.2-.2 1.1-.5 1.1-1.3 1.1-1.5 1.2-.7 1.1-.2 1.1-1 1.2-1.4 1.1-1.1 1.1-.6 1.1-.8 1.2-1.8 1.1-.7 1.1 1.3 1.1 .7 1.2-.7 1.1-1.8 1.1-1.8 1.1-.7 1.2 .4 1.1 1 1.1-.8 1.2-2.7 1.1-2.2 1.1 0 1.1-.6 1.2-5.1 1.1-5.7 1.1-4.5 1.1-5.1 1.2-5.5 1.1-5.3 1.1-2.3 1.1-3.9 1.2-4.2 1.1-2.2 1.1-2.7 1.2-2.8 1.1-2.2 1.1-5.3 1.1-7.7 1.2-7.8 1.1-7.8 1.1-5.6 1.1-6.3 1.2 2.6 1.1 3.9 1.1 5 1.2 5.5 1.1 6 1.1 3.4 1.1 1.2 1.2 3.4 1.1 4 1.1 2.5 1.1 3 1.2 4.2 1.1 2.6 1.1-.3 1.1-.4 1.2 .6 1.1 .7 1.1 0 1.2-1.1 1.1-2.5 1.1-4.1 1.1-4 1.2-3.3 1.1-3 1.1-.9 1.1-1.4 1.2-3 1.1-.9 1.1 0 1.1-.8 1.2 .6 1.1 .7 1.1-.7 1.2 0 1.1 1 1.1 1.6 1.1 1.8 1.2 1.9 1.1 1.9 1.1 3 1.1 2.3 1.2 .7 1.1 1.3 1.1 2.9 1.1 3.7 1.2 2.2 1.1 .9 1.1 1.5 1.2 3.8 1.1 2.1 1.1 .1 1.1 .9 1.2-1.4 1.1-1.5 1.1-1.3 1.1-.5 1.2 .5 1.1-.4 1.1-2.8 1.2-1.6 1.1-.2 1.1-1.2 1.1-1.2 1.2-.9 1.1-1.5 1.1-.4 1.1-.1 1.2-1.6 1.1-1 1.1 .2 1.1-.5 1.2-1.1 1.1-2.4 1.1-3.3 1.2-2.2 1.1-1.6 1.1-.3 1.1-.5 1.2-1.5 1.1-.6 1.1-1.5 1.1-3 1.2-1.4 1.1 1.4 1.1 .5 1.1-1.8 1.2-2.3 1.1-.9 1.1 .3 1.2 .2 1.1-.5 1.1 .8 1.1 .4 1.2-.4 1.1 .9 1.1 1.1 1.1 2.1 1.2 4.1 1.1 3.5 1.1 3.3 1.2 1.7 1.1 2.3 1.1 1 1.1-.1 1.2 .6 1.1 .9 1.1 .5 1.1 .8 1.2 1.7 1.1 .8 1.1-.7 1.1-.3 1.2 .3 1.1 .6 1.1-.7 1.2 0 1.1 1.6 1.1-.3 1.1-1.1 1.2-1 1.1-1 1.1 .4 1.1 1.1 1.2-.7 1.1 2.1 1.1 4.1 1.1 2.1 1.2 .5 1.1 2.4 1.1 2.6 1.2 1.6 1.1 0 1.1-.1 1.1 .5 1.2 1.4 1.1 .5 1.1 .7 1.1 1.2 1.2 .7 1.1 .6 1.1 1.7 1.1 .6 1.2-.7 1.1 .5 1.1 1 1.2 .5 1.1 1.2 1.1 .6 1.1-1 1.2-1.9 1.1-.7 1.1-1.3 1.1-.1 1.2-.4 1.1-2.1 1.1-1.6 1.2-1.2 1.1 .3 1.1 1.1 1.1-.1 1.2 .9 1.1 2.9 1.1 2.8 1.1 1.6 1.2 0 1.1-.4 1.1 1.1 1.1 1.5 1.2 1.5 1.1 1.8 1.1 1.9 1.2 2.8 1.1 .9 1.1-.2 1.1-1.6 1.2-1.4 1.1 .1 1.1-.6 1.1-1.4 1.2-1.1 1.1-.4 1.1 1.5 1.1 1.6 1.2-.5 1.1-1.7 1.1 .5 1.2 1.3 1.1 0 1.1 1.2 1.1 1.5 1.2-.3 1.1 1 1.1 1.8 1.1 1.1 1.2 1.3 1.1 .4 1.1 1.1 1.1 2.7 1.2 1.9 1.1 .4 1.1 1.1 1.2 2.1 1.1 3.3 1.1 2.5 1.1 1.2 1.2 1 1.1-1.9 1.1-1.7 1.1-1.3 1.2-2 1.1-1.6 1.1 .2 1.2 .4 1.1-1 1.1-.6 1.1 .4 1.2-1 1.1-1.7 1.1-.4 1.1-.9 1.2-1.5 1.1-.3 1.1-1.3 1.1-1.6 1.2-.8 1.1-.6 1.1-.4 1.2 .4 1.1 1.6 1.1-.2 1.1-2.3 1.2-1.3 1.1-.7 1.1-.4 1.1 .1 1.2-.3 1.1-1 1.1-.5 1.1-1.1 1.2-1.6 1.1-1 1.1-.8 1.2-.3 1.1 1.1 1.1 .7 1.1-1 1.2-1.9 1.1-.4 1.1 .6 1.1 .1 1.2 .1 1.1-.3 1.1-.5 1.2-.2 1.1 1.2 1.1 2.5 1.1 .7 1.2-.1 1.1 .7 1.1 .7 1.1 .9 1.2 1.1 1.1 .8 1.1 .1 1.1-.4 1.2 .3 1.1-.7 1.1-.8 1.2 .5 1.1-.4 1.1-1.1 1.1-.8 1.2-1.1 1.1-.5 1.1-.1 1.1-.7 1.2 0 1.1-1.3 1.1-2.8 1.1-1.9 1.2-.8 1.1 .3 1.1 0 1.2-1.1 1.1-1.3 1.1-1.2 1.1 .6 1.2 1.2 1.1-.2 1.1-.2 1.1 .2 1.2-.4 1.1-.2 1.1 .8 1.1 1.3 1.2 1.5 1.1 2.4 1.1 2.9 1.2 2.5 1.1 2.6 1.1 1.2 1.1 1.5 1.2 .6 1.1-.4 1.1 1.3 1.1 1.5 1.2-.3 1.1 .5 1.1 .9 1.2 .5 1.1-.3 1.1 2.7 1.1 3.8 1.2 2.2 1.1 2.4 1.1 3.2 1.1 2.1 1.2-.9 1.1-2.4 1.1-2 1.1-2 1.2-1.9 1.1-2 1.1-2.1 1.2-2.1 1.1-2.7 1.1-.9 1.1 .5 1.2-1.4 1.1-2.2 1.1-1.1 1.1-.5 1.2-.9 1.1-1.3 1.1-.8 1.1-1.7 1.2-1.8 1.1-.6 1.1-.9 1.2-.9 1.1 .4 1.1 .6 1.1-2 1.2-2.9 1.1-1 1.1 2.7 1.1 2.5 1.2 2.2 1.1 3.1 1.1 3 1.1 1.5 1.2 1.2 1.1-.2 1.1 .4 1.2-.1 1.1-.8 1.1-1.1 1.1 .9 1.2 .6 1.1-1 1.1-1.2 1.1-1.5 1.2-.9 1.1-1.4 1.1-1.4 1.2-.2 1.1 1.2 1.1 1.9 1.1 .4 1.2-.8 1.1-1.4 1.1-1.3 1.1-.1 1.2 .8 1.1-.7 1.1-1.8" stroke="#ee3c3c" stroke-width="3.8" fill="none" stroke-linejoin="round" stroke-dasharray="6.5 4"/>
<path d="M92.8 1983.5l1.1-2 1.2-2.9 1.1-1.9 1.1-1.4 1.2-1.1 1.1-.3 1.1 .1 1.1-.1 1.2 .4 1.1 .3 1.1 .2 1.1 1.9 1.2 2.1 1.1 .5 1.1 .1 1.1 1.3 1.2 .2 1.1-1.3 1.1 .7 1.2 2.5 1.1 .7 1.1-.7 1.1-.5 1.2-.8 1.1-.2 1.1 .4 1.1 1.5 1.2 2.2 1.1 .5 1.1-.3 1.2 .7 1.1 .9 1.1 .5 1.1 .6 1.2 .8 1.1-.5 1.1-.7 1.1 1.8 1.2 2.2 1.1-1.9 1.1-1.3 1.1-.8 1.2-1.8 1.1-1.7 1.1-.3 1.2 0 1.1-1.7 1.1-1.6 1.1-.7 1.2-1 1.1 1.2 1.1-.5 1.1-.6 1.2 .8 1.1-.1 1.1 .7 1.1 2.5 1.2 1 1.1-.3 1.1 .5 1.2-.9 1.1-.6 1.1 1 1.1-.7 1.2-1.8 1.1-1.8 1.1-1.9 1.1-.1 1.2 1.3 1.1 .8 1.1 .8 1.1-.5 1.2 .4 1.1 2.5 1.1 .9 1.2-.7 1.1 .2 1.1 1.1 1.1 .1 1.2 .4 1.1-1.1 1.1-2.7 1.1-3 1.2-2.4 1.1-2.5 1.1 1.5 1.2 1.4 1.1 0 1.1 1.3 1.1 3.5 1.2 3.2 1.1 2.3 1.1-.1 1.1-1.4 1.2-.6 1.1-1.1 1.1-2.8 1.1-2.2 1.2-1.2 1.1-.9 1.1-2.7 1.2-4.4 1.1-4.4 1.1-2.9 1.1-1.8 1.2-4.1 1.1-7 1.1-5.9 1.1-6.1 1.2 2 1.1 2.3 1.1 2.8 1.1 1.8 1.2-.6 1.1 .9 1.1 2.2 1.2 1.8 1.1 1.4 1.1-.4 1.1 .4 1.2 .2 1.1-3.3 1.1-4.6 1.1-4.7 1.2-4.9 1.1-5 1.1-5.4 1.2-4.3 1.1-14 1.1-16.2 1.1-15.6 1.2-17.1 1.1-18.6 1.1-15.2 1.1-13.6 1.2-13 1.1-11.5 1.1-9.1 1.1-9.8 1.2-12 1.1-7.7 1.1-2.7 1.2-1 1.1-1.5 1.1-1.2 1.1 2.7 1.2 6.1 1.1 5.7 1.1 4.3 1.1 5.6 1.2 5.1 1.1 5.8 1.1 5.9 1.1 5.8 1.2 5.9 1.1 6.4 1.1 5.2 1.2 4 1.1 4 1.1 1.6 1.1 1.3 1.2 5.1 1.1 3.7 1.1 2.6 1.1 4.3 1.2 4.7 1.1 4.9 1.1 6 1.1 4.1 1.2 3.6 1.1 5.5 1.1 5.3 1.2 4 1.1 4.6 1.1 4.2 1.1 4.2 1.2 2.3 1.1 0 1.1-1.4 1.1-.8 1.2-1.3 1.1-2.8 1.1-2.2 1.2-3.7 1.1-5.1 1.1-3.4 1.1-2.6 1.2-1.5 1.1-2.1 1.1-2.3 1.1-1.6 1.2-2.4 1.1-1.3 1.1 .5 1.1-.8 1.2-.9 1.1-.3 1.1-.1 1.2 .6 1.1 0 1.1-.4 1.1-.5 1.2 .2 1.1 1.3 1.1 1.1 1.1 .5 1.2 0 1.1 .1 1.1 1.3 1.1 1.9 1.2 2.1 1.1 3.4 1.1 3 1.2 1.2 1.1 .7 1.1 2.7 1.1 3.2 1.2 1.5 1.1 3.4 1.1 4.8 1.1 5.9 1.2 7.1 1.1 5.1 1.1 4.4 1.2 3.7 1.1-.1 1.1 1.7 1.1 2.6 1.2 1.2 1.1 2 1.1 2.9 1.1 1.1 1.2-.3 1.1 1.2 1.1 .6 1.1-.5 1.2-1 1.1 .3 1.1 1.2 1.2-.1 1.1 .1 1.1 1.4 1.1 1.3 1.2 .1 1.1-.3 1.1 .8 1.1 1.2 1.2-.5 1.1-3.3 1.1-2.3 1.1-.6 1.2 .1 1.1-.1 1.1-1.7 1.2-2.6 1.1-.9 1.1 .1 1.1 .1 1.2 .5 1.1 .3 1.1-.2 1.1-1.4 1.2-1.6 1.1-.9 1.1-.3 1.1 .1 1.2-1 1.1-1.6 1.1-.4 1.2-.1 1.1-.6 1.1 .9 1.1 1.3 1.2-.1 1.1-1.2 1.1-3.4 1.1-4.2 1.2-1.7 1.1-2.5 1.1-3.9 1.2 2.7 1.1 2 1.1 .8 1.1 1.3 1.2 2.5 1.1 1.8 1.1 .4 1.1 .6 1.2 1.7 1.1 1.1 1.1 .9 1.1 1.3 1.2 1.5 1.1 1.7 1.1-.3 1.2 1 1.1 2.4 1.1 .5 1.1 1.7 1.2 2.1 1.1 .9 1.1 .6 1.1 0 1.2 .7 1.1 1.6 1.1 1.7 1.1 1.5 1.2 1.2 1.1 .6 1.1-.1 1.2 .7 1.1-.6 1.1-1.8 1.1-.8 1.2-1.6 1.1-1.8 1.1-.2 1.1-1.4 1.2-2.1 1.1-1.1 1.1-1.5 1.1-2.7 1.2-3.2 1.1-1.1 1.1-.8 1.2-1.5 1.1 .8 1.1 3.3 1.1 3.4 1.2 2.2 1.1 2.1 1.1 2.5 1.1-.8 1.2-2.6 1.1-2.1 1.1 .2 1.2 .6 1.1-.6 1.1-.8 1.1-.3 1.2-.7 1.1-1.9 1.1-1.4 1.1-.7 1.2 .1 1.1 .7 1.1-1.4 1.1-3.7 1.2-2.3 1.1-.6 1.1-.5 1.2-1 1.1-.9 1.1-.5 1.1-.5 1.2 .4 1.1 .2 1.1-.3 1.1-.2 1.2 0 1.1 .8 1.1 1 1.1 1.4 1.2 1.1 1.1-.4 1.1-1 1.2-1.5 1.1-2.1 1.1-1.4 1.1-.2 1.2-1.6 1.1-1.9 1.1-1.2 1.1-.1 1.2 3.6 1.1 2.4 1.1 1 1.2 .7 1.1 0 1.1 1 1.1 1.6 1.2 0 1.1-.6 1.1-.8 1.1-1.7 1.2-.8 1.1 .6 1.1-.9 1.1-1.4 1.2-.4 1.1-.8 1.1 .5 1.2 1.2 1.1-.7 1.1-.8 1.1 .9 1.2 0 1.1-1.9 1.1-2.1 1.1-1.8 1.2-1.5 1.1-1.3 1.1-.2 1.1 1.8 1.2 2.7 1.1 2.7 1.1 1.3 1.2-.5 1.1 1 1.1 3.4 1.1 3.5 1.2 .7 1.1-1.8 1.1-.3 1.1 2.3 1.2 1.2 1.1-.7 1.1-.1 1.1 0 1.2 .3 1.1 .6 1.1 .8 1.2 2 1.1 1.8 1.1 1.9 1.1 .5 1.2 .5 1.1 1.2 1.1 1.2 1.1 1.6 1.2 .7 1.1-.9 1.1-2.1 1.2-1 1.1-.4 1.1-.4 1.1 .8 1.2-1.2 1.1-1.8 1.1-.5 1.1 1 1.2 1.5 1.1 2.7 1.1 2.7 1.1 3.2 1.2 1 1.1-.1 1.1 2.4 1.2 .9 1.1-1.3 1.1-.2 1.1-.4 1.2 .1 1.1 .5 1.1-1.5 1.1-1.7 1.2 .6 1.1 1.5 1.1-.5 1.1-2.2 1.2 0 1.1 1.3 1.1 2.4 1.2 2.3 1.1 1 1.1 0 1.1 .4 1.2 1.3 1.1 1.4 1.1 .5 1.1-.1 1.2-1.8 1.1-2.3 1.1-2.4 1.1-3.3 1.2-3.8 1.1-.5 1.1 .3 1.2 .6 1.1 .3 1.1 .6 1.1-.3 1.2-1.9 1.1-1.2 1.1 .6 1.1 1.1 1.2 .8 1.1-.4 1.1-.5 1.2-1.2 1.1-1.1 1.1-.5 1.1-1.4 1.2-1.5 1.1 .9 1.1 1.3 1.1 .6 1.2-.4 1.1-.7 1.1 0" stroke="#3232e6" stroke-width="3.8" fill="none" stroke-linejoin="round" stroke-dasharray="6.5 4"/>
<path d="M92.8 1985.4l1.1-1.6 1.2-3.7 1.1-3.4 1.1-1.3 1.2-1.6 1.1-1.7 1.1 2.2 1.1 3.4 1.2 1.9 1.1 2.4 1.1 1.7 1.1 3.1 1.2 .6 1.1-2.2 1.1 0 1.1-1.4 1.2-3.4 1.1-.2 1.1 2.2 1.2 .8 1.1 .6 1.1 1.3 1.1 1.9 1.2 .6 1.1 .2 1.1 2.3 1.1 1.1 1.2-.7 1.1-.4 1.1 .2 1.2 .1 1.1-.2 1.1 0 1.1 .9 1.2 .7 1.1 2 1.1 1.6 1.1 0 1.2 .4 1.1-1.8 1.1-1.2 1.1-2.1 1.2-1.4 1.1-.3 1.1-1.4 1.2-1.7 1.1 1.1 1.1 1.9 1.1 .2 1.2 1.4 1.1 2.1 1.1 .4 1.1 .2 1.2 1.6 1.1 1.7 1.1-.4 1.1-2.4 1.2-2.9 1.1-2.3 1.1-1.3 1.2-1 1.1-2.6 1.1-1.7 1.1-.8 1.2-1 1.1 1.3 1.1-.2 1.1 1.3 1.2 1.9 1.1-.3 1.1 .4 1.1 2.8 1.2 4.4 1.1 2.1 1.1 1.4 1.2 2.1 1.1-2.8 1.1-2.5 1.1-2.1 1.2-2.9 1.1-5 1.1-4.1 1.1-3.4 1.2-.8 1.1 1.7 1.1 .3 1.2-1.2 1.1 .2 1.1 1.5 1.1 3.6 1.2 4.4 1.1 4 1.1 .1 1.1 .6 1.2-.9 1.1-1.6 1.1-1.5 1.1-1.5 1.2-.7 1.1-1.6 1.1-2.6 1.2-1.9 1.1-3 1.1-1.4 1.1 1.5 1.2 .7 1.1-1.4 1.1 .5 1.1 .7 1.2-.8 1.1-2.1 1.1-1.1 1.1 1.1 1.2 .7 1.1-.5 1.1-1.1 1.2 .9 1.1 1.5 1.1 .3 1.1 .5 1.2 1.5 1.1 2.3 1.1-18.1 1.1-18 1.2-8.2 1.1-7.1 1.1-5 1.2-9.8 1.1-13.4 1.1-11.3 1.1-11.5 1.2-15.2 1.1-18.4 1.1-18.8 1.1-17.8 1.2-12.8 1.1-13.2 1.1-12.9 1.1-12.7 1.2-9 1.1-9.9 1.1-4.6 1.2 .6 1.1 1.4 1.1 4.9 1.1 7.5 1.2 8.2 1.1 7.8 1.1 7.5 1.1 7.5 1.2 7.1 1.1 6.6 1.1 7.7 1.1 8.8 1.2 8.5 1.1 5.1 1.1 1.9 1.2 1.3 1.1 1 1.1 .8 1.1 .9 1.2 4.5 1.1 5.1 1.1 4.5 1.1 3.3 1.2 7 1.1 7.6 1.1 7.3 1.1 4.3 1.2-.3 1.1-2 1.1-.2 1.2 2.7 1.1 1.9 1.1 1.3 1.1 1.3 1.2-2 1.1-.6 1.1 .3 1.1 .6 1.2 2.2 1.1 4.1 1.1 3.4 1.2 2.1 1.1 2.6 1.1-2.4 1.1-3 1.2-1.7 1.1-.3 1.1 7.8 1.1 5.7 1.2 3.9 1.1 5.6 1.1 3.2 1.1 3.1 1.2 3.2 1.1-1.1 1.1-4.9 1.2-3.3 1.1-2.7 1.1-3 1.1-2.4 1.2-1.8 1.1-2.8 1.1 1.6 1.1 4.3 1.2 3.1 1.1 1.3 1.1-1.2 1.1 .2 1.2 .7 1.1-.5 1.1 .2 1.2 .7 1.1-.6 1.1 .6 1.1 3.1 1.2 2.2 1.1 .8 1.1 .7 1.1-1.1 1.2-3.3 1.1-3.4 1.1-3.1 1.2 0 1.1 .1 1.1 1.1 1.1 1.7 1.2 1.7 1.1 .3 1.1 .2 1.1-.6 1.2-7.4 1.1-6.9 1.1-6.2 1.1-6.1 1.2-4.5 1.1 4.4 1.1 2.8 1.2 3 1.1-.5 1.1-.9 1.1 .4 1.2 .8 1.1 .8 1.1 .7 1.1 .8 1.2 .1 1.1-.4 1.1-3.8 1.1-2.5 1.2-1.3 1.1-2.1 1.1-3.1 1.2-2.9 1.1-1.3 1.1-1.1 1.1 .4 1.2-.4 1.1-5 1.1-6.1 1.1-4.6 1.2-4.5 1.1-4.7 1.1 1.5 1.1 1.2 1.2-.1 1.1-1.2 1.1-2.6 1.2-2.4 1.1-3.4 1.1-2.7 1.1-1.3 1.2-1.5 1.1-1.8 1.1-3.1 1.1-3.6 1.2-2.8 1.1-.9 1.1-2.6 1.2-4.1 1.1-1.9 1.1-.1 1.1-1.6 1.2 .3 1.1-2.9 1.1-4.6 1.1-3.3 1.2-2.9 1.1-2 1.1-2.2 1.1-2.7 1.2-2.9 1.1 0 1.1 2.1 1.2 2.1 1.1 1.1 1.1 .9 1.1 .5 1.2 0 1.1-1.3 1.1-1.4 1.1-1.4 1.2-2.1 1.1-1.2 1.1-5 1.1-6.2 1.2-6.1 1.1-6.8 1.1-4.1 1.2-.6 1.1-2.2 1.1-2.7 1.1-.3 1.2 1.6 1.1 1.4 1.1-.6 1.1-2.6 1.2-1.8 1.1-.1 1.1-1.7 1.1-2.5 1.2-1.2 1.1-2.4 1.1-1.5 1.2-1.9 1.1-2.9 1.1-1.8 1.1-1.6 1.2-2.5 1.1 1.3 1.1 1.4 1.1 1.9 1.2 2.8 1.1 2 1.1-1.3 1.2-2.3 1.1-.5 1.1 1.1 1.1-.9 1.2-2.9 1.1 .2 1.1 1.8 1.1 1.3 1.2 3.2 1.1-1.2 1.1-2.4 1.1-2.9 1.2-1.6 1.1 .9 1.1 1.4 1.2 1.4 1.1 .2 1.1 .4 1.1 1.4 1.2 2.8 1.1 2.9 1.1 2.3 1.1 1.7 1.2 1.8 1.1 .6 1.1-3.6 1.1-2 1.2 .7 1.1 4.3 1.1 2.2 1.2 2.2 1.1-3.8 1.1-4.5 1.1-3.8 1.2-1.8 1.1 1 1.1 1.7 1.1 2.4 1.2 2.8 1.1-2.2 1.1-2.6 1.2-1.4 1.1 1 1.1 2.1 1.1 .3 1.2-.9 1.1-.1 1.1 3.5 1.1 2.5 1.2 3.9 1.1 4.6 1.1-1.6 1.1-1.9 1.2-1.8 1.1-1.3 1.1-2.7 1.2 3 1.1 4.3 1.1 3.5 1.1 3.2 1.2 .8 1.1-2.2 1.1-1 1.1-.7 1.2-2 1.1 2.9 1.1 4.7 1.1 4.9 1.2 2.5 1.1-1.3 1.1-2.9 1.2-1.4 1.1-3.1 1.1-4.8 1.1-1.6 1.2 2.1 1.1 2.3 1.1 1.3 1.1 2.6 1.2-.1 1.1-1.9 1.1-1.1 1.1 .6 1.2-.8 1.1-.2 1.1 2.1 1.2 4.6 1.1 5.9 1.1 4 1.1 2.8 1.2-.4 1.1-1 1.1 .6 1.1 1.3 1.2-.5 1.1 1.2 1.1 1.2 1.2-.7 1.1 .9 1.1 3.1 1.1 1.6 1.2 .1 1.1-1.1 1.1-.8 1.1-.1 1.2 0 1.1-1 1.1-2.4 1.1-1.8 1.2-.4 1.1-.8 1.1-1.3 1.2-1.6 1.1-.5 1.1-.3 1.1 2.9 1.2 2.3 1.1 .6 1.1-1.2 1.1-.3 1.2-1.1 1.1-.3 1.1 .7 1.1-.1 1.2-1.4 1.1-6.9 1.1-5.3 1.2-1.2 1.1 1.5 1.1 .8 1.1 2.3 1.2 3.3 1.1-.6 1.1-.9 1.1 1.8 1.2 2.8 1.1 3.4 1.1 4.3 1.1 4.6 1.2 5.7 1.1 3.6 1.1 3.8 1.2 2.4 1.1 1.6 1.1 .9 1.1-.9 1.2-.8 1.1-1 1.1-1.8 1.1-1.3 1.2 1.2 1.1-.1 1.1 1 1.2 3.2 1.1 0 1.1-1.5 1.1-1.2 1.2-1.8 1.1 1.8 1.1 2.5 1.1 3.6 1.2 2.9 1.1 .2 1.1-6.4" stroke="#0a0ac0" stroke-width="3.8" fill="none" stroke-linejoin="round"/>
<path d="M92.8 1970l1.1 2.5 1.2 1.5 1.1 1.4 1.1 1.9 1.2 1.1 1.1-1.6 1.1-.6 1.1 0 1.2-2.6 1.1-2.2 1.1-1 1.1-1.4 1.2-2.5 1.1-2.7 1.1-.9 1.1 6.1 1.2 3.5 1.1 5.3 1.1 4.7 1.2 1.9 1.1 .9 1.1 2 1.1 3.8 1.2 3.4 1.1 1.4 1.1-2.7 1.1-1.8 1.2-.8 1.1-.5 1.1-1 1.2-1.8 1.1-3.3 1.1-4.3 1.1-2.6 1.2-1.3 1.1 3.2 1.1 2 1.1 2.6 1.2 2.2 1.1 2.8 1.1 3.8 1.1 3.3 1.2 .8 1.1-.8 1.1-2 1.2-3.7 1.1-2.9 1.1-.5 1.1-.7 1.2-2.5 1.1-1 1.1 .9 1.1-.7 1.2-.6 1.1 .2 1.1 .9 1.1 1 1.2 1.5 1.1 3 1.1 2 1.2 .5 1.1-1.6 1.1-.6 1.1-1.9 1.2-1.2 1.1 .9 1.1 .6 1.1-1.1 1.2 1.2 1.1 3.3 1.1 2.2 1.1 2.2 1.2 .6 1.1 .3 1.1 1.4 1.2 1.7 1.1 1.4 1.1 3 1.1-3.4 1.2-5.2 1.1-2.5 1.1-1.6 1.1-4 1.2-.8 1.1 3.1 1.1 1.9 1.2 .7 1.1 1.1 1.1 .3 1.1-1.1 1.2 1.2 1.1 .4 1.1-1.1 1.1 .1 1.2-.8 1.1-2.9 1.1-4 1.1-6.7 1.2-5.3 1.1-3.5 1.1-3.4 1.2-3.4 1.1-4.3 1.1-2.7 1.1-.9 1.2-1.6 1.1-1.2 1.1-2.3 1.1-2.9 1.2-6.7 1.1-6.7 1.1-12.8 1.1-12.7 1.2-7.8 1.1-6.6 1.1 1.4 1.2 8 1.1 2.7 1.1-4.1 1.1-9.8 1.2-10.8 1.1-11.5 1.1-7.7 1.1-8.7 1.2-9.5 1.1-5.9 1.1-5.3 1.2-2.3 1.1 3.6 1.1 4.2 1.1 4.2 1.2 9.7 1.1 13.8 1.1 10 1.1 7.2 1.2 2.5 1.1 4 1.1 3.8 1.1 1.4 1.2 1.8 1.1-1.4 1.1-3.3 1.2-2.5 1.1-4.5 1.1-3.4 1.1-2.3 1.2-3.5 1.1-4.1 1.1-3 1.1-1.4 1.2-.9 1.1-1.4 1.1 .5 1.1 2.5 1.2 0 1.1-1.3 1.1-3 1.2-2.2 1.1-.8 1.1-1.6 1.1 5.6 1.2 6 1.1 4.3 1.1 2.3 1.1 2.8 1.2-3.2 1.1-4 1.1-2.1 1.1 .4 1.2 .8 1.1 .6 1.1 1.8 1.2 3.3 1.1-1.8 1.1-4.5 1.1-4.4 1.2-2.9 1.1-1.2 1.1 .2 1.1 1.2 1.2 0 1.1-1.9 1.1-.6 1.2-1.5 1.1-3.9 1.1-3.9 1.1-4.5 1.2-5.8 1.1-4.6 1.1 1.5 1.1 2.8 1.2 2.9 1.1-1.5 1.1-3.3 1.1-2.6 1.2-1.5 1.1-.2 1.1-.2 1.2 0 1.1-1 1.1-1.6 1.1-.8 1.2-1.8 1.1-2.1 1.1-1.9 1.1-3.8 1.2-5.6 1.1-2.3 1.1 .9 1.1-2.1 1.2-2.4 1.1 .2 1.1 1.4 1.2-3.7 1.1-3.6 1.1-2.2 1.1-1.7 1.2-2.4 1.1-2.1 1.1-1.6 1.1-.1 1.2 1.7 1.1 .7 1.1 .2 1.2 1.3 1.1 2.1 1.1 2.1 1.1 1.5 1.2 1.1 1.1-.3 1.1-.9 1.1-1.3 1.2-2.4 1.1-2.6 1.1-1.7 1.1 0 1.2 1.5 1.1 1.4 1.1 .9 1.2 1.2 1.1-.7 1.1-1 1.1 .5 1.2 .2 1.1-.2 1.1-2.1 1.1-3.4 1.2-1.5 1.1 4.8 1.1 4.3 1.1 3.3 1.2 2.5 1.1-2.7 1.1-5.3 1.2-4.8 1.1-3.8 1.1-1.2 1.1-2.7 1.2-3.1 1.1 1 1.1 2.5 1.1 1.3 1.2 2.2 1.1-3.3 1.1-2 1.1-2.2 1.2-2 1.1-1.2 1.1-1.9 1.2-1.2 1.1 .4 1.1 1.1 1.1 .5 1.2 .1 1.1-.5 1.1-2.6 1.1-2.1 1.2 0 1.1-3.7 1.1-4.2 1.2 3.8 1.1 3.2 1.1 4.3 1.1 .9 1.2-4.4 1.1-5.8 1.1-5.7 1.1-.3 1.2-.8 1.1 .9 1.1 .9 1.1-2.4 1.2-3.6 1.1-2.9 1.1-3.7 1.2-5.6 1.1-5.8 1.1-4.5 1.1 4.2 1.2 3.6 1.1 3.4 1.1 3.8 1.1 2.1 1.2-.7 1.1-1.9 1.1-1.2 1.1 .3 1.2 .2 1.1 .3 1.1 .9 1.2 2.6 1.1 2.2 1.1-1 1.1 .1 1.2 .9 1.1-.1 1.1-.4 1.1 .2 1.2-2.3 1.1-3.3 1.1-3.9 1.1-6.2 1.2-4.8 1.1-4 1.1-3.9 1.2-1.8 1.1-1.1 1.1 1 1.1 2.1 1.2 1.2 1.1-3.8 1.1-4.9 1.1-4.3 1.2-1.7 1.1-1.4 1.1-4 1.2-4.7 1.1 3.1 1.1 2.8 1.1 1.7 1.2 2.5 1.1 .5 1.1-2.9 1.1-1.4 1.2 1.9 1.1 .1 1.1 .5 1.1 1.2 1.2 .9 1.1-1.2 1.1-2.4 1.2-1 1.1-.1 1.1 2.7 1.1 2.4 1.2 2.5 1.1 1.7 1.1 .2 1.1-2.7 1.2-4.7 1.1-3.5 1.1-3.1 1.1-4.4 1.2-6.4 1.1 5.4 1.1 6.2 1.2 5.1 1.1 3.6 1.1 3.3 1.1 3.4 1.2 4.2 1.1 3.3 1.1 1.9 1.1 1.1 1.2 .3 1.1-1.6 1.1-2.8 1.2-2.8 1.1-4.2 1.1-.1 1.1 .4 1.2 3 1.1 3.4 1.1-.2 1.1-1.1 1.2-.9 1.1-3 1.1-2.2 1.1 3.5 1.2 2.9 1.1 2.9 1.1 2 1.2 2.4 1.1 3.1 1.1 2 1.1 1.1 1.2 .7 1.1 1.9 1.1 .6 1.1-.1 1.2 1.9 1.1 2.2 1.1 1.6 1.1 2.3 1.2 .1 1.1-.2 1.1-1.8 1.2-2.4 1.1-2.4 1.1-1.7 1.1 2.2 1.2 4.5 1.1 1.7 1.1-.4 1.1 2 1.2 3.9 1.1 1.8 1.1 2 1.1 4.1 1.2 1.1 1.1-.2 1.1 .2 1.2 .9 1.1 1.2 1.1 .3 1.1-1.6 1.2 2 1.1 2.4 1.1 2.4 1.1 4.6 1.2 5.2 1.1 2.5 1.1 1 1.2 3.6 1.1 5.2 1.1 1.9 1.1 1.2 1.2 .5 1.1-.5 1.1-.3 1.1 1.4 1.2 .5 1.1-1 1.1-1 1.1-1.1 1.2-3.1 1.1-4.6 1.1-2.8 1.2 .5 1.1 .6 1.1 1.4 1.1 3.1 1.2 3.1 1.1 2.3 1.1 1.6 1.1 2.9 1.2 2.6 1.1 1.2 1.1-.4 1.1-1.2 1.2-2 1.1-2.4 1.1-2.8 1.2-3.2 1.1-2 1.1 0 1.1-.6 1.2-2.7 1.1 3.7 1.1 5 1.1 6.2 1.2 5.7 1.1 3.8 1.1 2.7 1.1 2.6 1.2 .3 1.1-1.1 1.1 .5 1.2-.1 1.1-2.3 1.1-4.2 1.1-3.9 1.2-1.8 1.1 1 1.1-1.4 1.1 .9 1.2 2.2 1.1 2.2 1.1 2.1 1.2 1.5 1.1 1.6 1.1 1.7 1.1 1.3 1.2-2.8 1.1-1.4 1.1-2.3 1.1-3.5 1.2-3.7 1.1-5.2 1.1 .5" stroke="#c80a0a" stroke-width="3.8" fill="none" stroke-linejoin="round"/>
<path d="M205.5 1670.5V2053" stroke="#000" stroke-width="3.6" stroke-dasharray="8.5 4.5"/>
<path d="M78.8 1670.5V2053H656.3" stroke="#111" stroke-width="2" fill="none"/>
<path d="M72.5 2039.7L78.8 2039.7" stroke="#111" stroke-width="2"/>
<text x="68.5" y="2047.2" text-anchor="end" font-size="24">-10</text>
<path d="M72.5 1987L78.8 1987" stroke="#111" stroke-width="2"/>
<text x="68.5" y="1994.5" text-anchor="end" font-size="24">0</text>
<path d="M72.5 1934.3L78.8 1934.3" stroke="#111" stroke-width="2"/>
<text x="68.5" y="1941.8" text-anchor="end" font-size="24">10</text>
<path d="M72.5 1881.6L78.8 1881.6" stroke="#111" stroke-width="2"/>
<text x="68.5" y="1889.1" text-anchor="end" font-size="24">20</text>
<path d="M72.5 1828.8L78.8 1828.8" stroke="#111" stroke-width="2"/>
<text x="68.5" y="1836.3" text-anchor="end" font-size="24">30</text>
<path d="M72.5 1776.1L78.8 1776.1" stroke="#111" stroke-width="2"/>
<text x="68.5" y="1783.6" text-anchor="end" font-size="24">40</text>
<path d="M72.5 1723.4L78.8 1723.4" stroke="#111" stroke-width="2"/>
<text x="68.5" y="1730.9" text-anchor="end" font-size="24">50</text>
<path d="M92.8 2053L92.8 2060" stroke="#111" stroke-width="2"/>
<text x="108.8" y="2072.9" text-anchor="end" font-size="25.5" transform="rotate(-45 108.8 2072.9)">-200</text>
<path d="M149.2 2053L149.2 2060" stroke="#111" stroke-width="2"/>
<text x="165.1" y="2072.9" text-anchor="end" font-size="25.5" transform="rotate(-45 165.1 2072.9)">-100</text>
<path d="M205.5 2053L205.5 2060" stroke="#111" stroke-width="2"/>
<text x="221.4" y="2072.9" text-anchor="end" font-size="25.5" transform="rotate(-45 221.4 2072.9)">0</text>
<path d="M261.8 2053L261.8 2060" stroke="#111" stroke-width="2"/>
<text x="277.8" y="2072.9" text-anchor="end" font-size="25.5" transform="rotate(-45 277.8 2072.9)">100</text>
<path d="M318.2 2053L318.2 2060" stroke="#111" stroke-width="2"/>
<text x="334.1" y="2072.9" text-anchor="end" font-size="25.5" transform="rotate(-45 334.1 2072.9)">200</text>
<path d="M374.5 2053L374.5 2060" stroke="#111" stroke-width="2"/>
<text x="390.5" y="2072.9" text-anchor="end" font-size="25.5" transform="rotate(-45 390.5 2072.9)">300</text>
<path d="M430.9 2053L430.9 2060" stroke="#111" stroke-width="2"/>
<text x="446.8" y="2072.9" text-anchor="end" font-size="25.5" transform="rotate(-45 446.8 2072.9)">400</text>
<path d="M487.2 2053L487.2 2060" stroke="#111" stroke-width="2"/>
<text x="503.1" y="2072.9" text-anchor="end" font-size="25.5" transform="rotate(-45 503.1 2072.9)">500</text>
<path d="M543.5 2053L543.5 2060" stroke="#111" stroke-width="2"/>
<text x="559.5" y="2072.9" text-anchor="end" font-size="25.5" transform="rotate(-45 559.5 2072.9)">600</text>
<path d="M599.9 2053L599.9 2060" stroke="#111" stroke-width="2"/>
<text x="615.8" y="2072.9" text-anchor="end" font-size="25.5" transform="rotate(-45 615.8 2072.9)">700</text>
<path d="M656.2 2053L656.2 2060" stroke="#111" stroke-width="2"/>
<text x="672.2" y="2072.9" text-anchor="end" font-size="25.5" transform="rotate(-45 672.2 2072.9)">800</text>
<text x="365.5" y="2129.5" text-anchor="middle" font-size="26.4">Time from stimulus change (ms)</text>
<text x="26" y="1864" text-anchor="middle" font-size="27" transform="rotate(-90 26 1864)">ERP (µV)</text>
<path d="M128.5 1504.5L172 1504.5" stroke="#0a0ac0" stroke-width="3.6"/>
<path d="M128.5 1541H172" stroke="#3232e6" stroke-width="3.6" stroke-dasharray="6 5.5"/>
<path d="M316.7 1504.5L360 1504.5" stroke="#c80a0a" stroke-width="3.6"/>
<path d="M316.7 1537H360" stroke="#ee3c3c" stroke-width="3.6" stroke-dasharray="6 5.5"/>
<text x="180" y="1516.7" font-size="28">Vmoving</text>
<text x="180" y="1552.4" font-size="28">Vstill</text>
<text x="368" y="1516.7" font-size="28">Amoving</text>
<text x="368" y="1549" font-size="28">Astill</text>
<text x="218.5" y="1677" font-size="27" transform="rotate(-45 218.5 1677)">24.6 ms</text>
<text x="254.5" y="1675" font-size="27" transform="rotate(-45 254.5 1675)">64.6 ms</text>
<text x="338.5" y="1683" font-size="27" transform="rotate(-45 338.5 1683)">243.4 ms</text>
<text x="391.5" y="1681" font-size="27" transform="rotate(-45 391.5 1681)">324.4 ms</text>
<path d="M211.2 1683.5L227.2 1683.5L219.2 1697.5Z" fill="#f02828"/>
<path d="M228 1683.5L244 1683.5L236 1697.5Z" fill="#2828f0"/>
<path d="M336.8 1684.5L350.2 1684.5L343.5 1696.5Z" fill="none" stroke="#e83030" stroke-width="1.6"/>
<path d="M382.1 1684.5L395.6 1684.5L388.8 1696.5Z" fill="none" stroke="#3030e0" stroke-width="1.6"/>
<path d="M866.1 1670.7l27.5 0 29.1-5.4 29.1-9 29-9 29.1-9 29-90.6 29.1 50 29-44.6 29-13.9 29.1 45 29.1 27 29 9.5 29 22.5 29.1 0 29 12.2 29.1 5.4" stroke="#1414e0" stroke-width="4" fill="none" stroke-linejoin="round"/>
<path d="M866.1 1670.7l27.5-18.9 29.1-62.2 29.1-18.5 29-8.5 29.1 49.1 29-23.4 29.1 36.4 29 9.5 29 13.1 29.1 4.5 29.1-18 29-4.5 29 13.9 29.1 0 29 8.6 29.1 0" stroke="#e01414" stroke-width="4" fill="none" stroke-linejoin="round"/>
<path d="M851.5 1490.5V1670.7" stroke="#111" stroke-width="2"/>
<path d="M866 1670.7H1329.6" stroke="#111" stroke-width="2"/>
<path d="M845.5 1670.7L851.5 1670.7" stroke="#111" stroke-width="2"/>
<text x="842" y="1679.2" text-anchor="end" font-size="24">0</text>
<path d="M845.5 1490.5L851.5 1490.5" stroke="#111" stroke-width="2"/>
<text x="842" y="1499" text-anchor="end" font-size="24">40</text>
<path d="M922.7 1670.7L922.7 1676.5" stroke="#111" stroke-width="2"/>
<text x="922.7" y="1700" text-anchor="middle" font-size="24">20</text>
<path d="M980.8 1670.7L980.8 1676.5" stroke="#111" stroke-width="2"/>
<text x="980.8" y="1700" text-anchor="middle" font-size="24">40</text>
<path d="M1038.9 1670.7L1038.9 1676.5" stroke="#111" stroke-width="2"/>
<text x="1038.9" y="1700" text-anchor="middle" font-size="24">60</text>
<path d="M1097 1670.7L1097 1676.5" stroke="#111" stroke-width="2"/>
<text x="1097" y="1700" text-anchor="middle" font-size="24">80</text>
<path d="M1155.1 1670.7L1155.1 1676.5" stroke="#111" stroke-width="2"/>
<text x="1155.1" y="1700" text-anchor="middle" font-size="24">100</text>
<path d="M1213.2 1670.7L1213.2 1676.5" stroke="#111" stroke-width="2"/>
<text x="1213.2" y="1700" text-anchor="middle" font-size="24">120</text>
<path d="M1271.3 1670.7L1271.3 1676.5" stroke="#111" stroke-width="2"/>
<text x="1271.3" y="1700" text-anchor="middle" font-size="24">140</text>
<path d="M1329.4 1670.7L1329.4 1676.5" stroke="#111" stroke-width="2"/>
<text x="1329.4" y="1700" text-anchor="middle" font-size="24">160</text>
<text x="800" y="1591" text-anchor="middle" font-size="28.6" transform="rotate(-90 800 1591)">Neuron count</text>
<path d="M1021.8 1506L1101 1506" stroke="#111" stroke-width="2.6"/>
<text x="1060" y="1514" text-anchor="middle" font-size="32">**</text>
<path d="M1010.3 1516.6L1033.3 1516.6L1021.8 1535.3Z" fill="#f01010"/>
<path d="M1089.5 1516.6L1112.5 1516.6L1101 1535.3Z" fill="#1010f0"/>
<text x="1199.4" y="1539" font-size="28.6"><tspan fill="#e01010">audio</tspan>/<tspan fill="#1010d0">visual</tspan></text>
<path d="M850.8 1714.6V2075.8" stroke="#111" stroke-width="2"/>
<path d="M865 2119H1329.7" stroke="#111" stroke-width="2"/>
<path d="M845 1714.6L850.8 1714.6" stroke="#111" stroke-width="2"/>
<text x="840" y="1723.1" text-anchor="end" font-size="24">0</text>
<path d="M845 1804.9L850.8 1804.9" stroke="#111" stroke-width="2"/>
<text x="840" y="1813.4" text-anchor="end" font-size="24">250</text>
<path d="M845 1895.2L850.8 1895.2" stroke="#111" stroke-width="2"/>
<text x="840" y="1903.7" text-anchor="end" font-size="24">500</text>
<path d="M845 1985.5L850.8 1985.5" stroke="#111" stroke-width="2"/>
<text x="840" y="1994" text-anchor="end" font-size="24">750</text>
<path d="M845 2075.8L850.8 2075.8" stroke="#111" stroke-width="2"/>
<text x="840" y="2084.3" text-anchor="end" font-size="24">1000</text>
<path d="M865 2119L865 2125" stroke="#111" stroke-width="2"/>
<text x="865" y="2149.7" text-anchor="middle" font-size="24">0</text>
<path d="M923.1 2119L923.1 2125" stroke="#111" stroke-width="2"/>
<text x="923.1" y="2149.7" text-anchor="middle" font-size="24">20</text>
<path d="M981.2 2119L981.2 2125" stroke="#111" stroke-width="2"/>
<text x="981.2" y="2149.7" text-anchor="middle" font-size="24">40</text>
<path d="M1039.3 2119L1039.3 2125" stroke="#111" stroke-width="2"/>
<text x="1039.3" y="2149.7" text-anchor="middle" font-size="24">60</text>
<path d="M1097.4 2119L1097.4 2125" stroke="#111" stroke-width="2"/>
<text x="1097.4" y="2149.7" text-anchor="middle" font-size="24">80</text>
<path d="M1155.4 2119L1155.4 2125" stroke="#111" stroke-width="2"/>
<text x="1155.4" y="2149.7" text-anchor="middle" font-size="24">100</text>
<path d="M1213.5 2119L1213.5 2125" stroke="#111" stroke-width="2"/>
<text x="1213.5" y="2149.7" text-anchor="middle" font-size="24">120</text>
<path d="M1271.6 2119L1271.6 2125" stroke="#111" stroke-width="2"/>
<text x="1271.6" y="2149.7" text-anchor="middle" font-size="24">140</text>
<path d="M1329.7 2119L1329.7 2125" stroke="#111" stroke-width="2"/>
<text x="1329.7" y="2149.7" text-anchor="middle" font-size="24">160</text>
<text x="1132" y="2188.6" text-anchor="middle" font-size="28.2">Onset latency (ms)</text>
<text x="780" y="1914" text-anchor="middle" font-size="29" transform="rotate(-90 780 1914)">Cortical depth (µm)</text>
<text x="1318.5" y="1751" font-size="24.7">waveform</text>
<text x="1351.6" y="1780" font-size="25">pPyr</text>
<text x="1351.6" y="1809.4" font-size="25">pPV</text>
<path d="M1326.5 1767.5L1341.5 1767.5L1334 1767.5Z" fill="#111"/>
<path d="M1326.5 1780L1341.5 1780L1334 1767Z" fill="#111"/>
<circle cx="1334" cy="1802.5" r="7" fill="#111"/>
<text x="977" y="2099.6" fill="#e01414" font-size="24.4">r=0.13</text>
<text x="1197" y="2099.6" fill="#1414d0" font-size="24">*r=0.71</text>
<path d="M964.3 1781.4l7.6 0l-3.8-6.8z" fill="#ee1111"/>
<path d="M1009 1780.2l5 0l-2.5-4.5z" fill="#ee1111"/>
<circle cx="1042.7" cy="1790.9" r="4" fill="#1212d8"/>
<circle cx="946.4" cy="1806.5" r="4" fill="#1212d8"/>
<circle cx="946.4" cy="1805.5" r="2.5" fill="#ee1111"/>
<circle cx="1015.8" cy="1807.4" r="4" fill="#1212d8"/>
<circle cx="1028.8" cy="1807.4" r="4" fill="#1212d8"/>
<circle cx="1072.2" cy="1805.7" r="4" fill="#ee1111"/>
<circle cx="962" cy="1815.6" r="4" fill="#ee1111"/>
<circle cx="974.1" cy="1814.7" r="4" fill="#ee1111"/>
<circle cx="1096.5" cy="1815.6" r="5.8" fill="#1212d8"/>
<path d="M1037.2 1826.5l7.6 0l-3.8-6.8z" fill="#1212d8"/>
<path d="M1021.8 1836l10.6 0l-5.3-9.5z" fill="#1212d8"/>
<circle cx="1081.8" cy="1824.2" r="4" fill="#1212d8"/>
<path d="M965.1 1835.2l7.6 0l-3.8-6.8z" fill="#ee1111"/>
<path d="M1078 1832.6l7.6 0l-3.8-6.8z" fill="#1212d8"/>
<circle cx="1047" cy="1840.4" r="5.8" fill="#1212d8"/>
<circle cx="878.6" cy="1850.3" r="4" fill="#ee1111"/>
<circle cx="988.9" cy="1850.3" r="4" fill="#1212d8"/>
<circle cx="1017.5" cy="1848.5" r="4" fill="#1212d8"/>
<circle cx="1021" cy="1853.8" r="4" fill="#1212d8"/>
<circle cx="1026.2" cy="1855.5" r="4" fill="#ee1111"/>
<circle cx="1034.9" cy="1862.4" r="5.8" fill="#ee1111"/>
<circle cx="1078.3" cy="1850.3" r="4" fill="#1212d8"/>
<circle cx="916.8" cy="1868.5" r="4" fill="#ee1111"/>
<circle cx="941.1" cy="1865" r="4" fill="#ee1111"/>
<path d="M949.9 1870.5l5 0l-2.5-4.5z" fill="#ee1111"/>
<path d="M960.8 1871.7l7.6 0l-3.8-6.8z" fill="#ee1111"/>
<path d="M974.7 1876l7.6 0l-3.8-6.8z" fill="#ee1111"/>
<circle cx="1017.5" cy="1868.5" r="5.8" fill="#1212d8"/>
<circle cx="1082.6" cy="1868.5" r="2.5" fill="#ee1111"/>
<path d="M1087.5 1871.7l7.6 0l-3.8-6.8z" fill="#1212d8"/>
<circle cx="1013.2" cy="1877.7" r="4" fill="#ee1111"/>
<circle cx="1047" cy="1879.4" r="5.8" fill="#ee1111"/>
<circle cx="1060.1" cy="1877.2" r="4" fill="#1212d8"/>
<path d="M870.1 1888.7l5 0l-2.5-4.5z" fill="#ee1111"/>
<circle cx="900.3" cy="1886.7" r="4" fill="#ee1111"/>
<path d="M918.2 1892.5l7.6 0l-3.8-6.8z" fill="#ee1111"/>
<path d="M922.6 1891.6l7.6 0l-3.8-6.8z" fill="#ee1111"/>
<path d="M936 1891.3l5 0l-2.5-4.5z" fill="#1212d8"/>
<circle cx="946.4" cy="1890.2" r="4" fill="#ee1111"/>
<path d="M963.4 1889l7.6 0l-3.8-6.8z" fill="#1212d8"/>
<circle cx="1017.5" cy="1885.9" r="4" fill="#1212d8"/>
<circle cx="1021" cy="1890.2" r="4" fill="#ee1111"/>
<circle cx="1057.5" cy="1886.7" r="4" fill="#ee1111"/>
<path d="M1060.6 1891.6l7.6 0l-3.8-6.8z" fill="#1212d8"/>
<circle cx="1079.2" cy="1890.2" r="5.8" fill="#1212d8"/>
<circle cx="1084.4" cy="1890.2" r="4" fill="#1212d8"/>
<circle cx="965.5" cy="1895.4" r="4" fill="#ee1111"/>
<circle cx="1051.4" cy="1895.4" r="4" fill="#1212d8"/>
<circle cx="1043.6" cy="1898.9" r="4" fill="#1212d8"/>
<circle cx="1044.4" cy="1904.1" r="2.5" fill="#1212d8"/>
<circle cx="925.5" cy="1906.7" r="4" fill="#ee1111"/>
<path d="M964.3 1907.2l7.6 0l-3.8-6.8z" fill="#1212d8"/>
<circle cx="977.6" cy="1904.1" r="2.5" fill="#ee1111"/>
<path d="M975.5 1914.2l7.6 0l-3.8-6.8z" fill="#1212d8"/>
<path d="M985.5 1914.8l5 0l-2.5-4.5z" fill="#1212d8"/>
<circle cx="1012.3" cy="1904.1" r="4" fill="#ee1111"/>
<path d="M1046.1 1910.3l10.6 0l-5.3-9.5z" fill="#ee1111"/>
<circle cx="1069.6" cy="1904.1" r="4" fill="#ee1111"/>
<path d="M870.1 1916.5l5 0l-2.5-4.5z" fill="#ee1111"/>
<circle cx="942.9" cy="1913.6" r="2.5" fill="#1212d8"/>
<circle cx="960.2" cy="1914.5" r="5.8" fill="#ee1111"/>
<path d="M970.3 1917.7l7.6 0l-3.8-6.8z" fill="#ee1111"/>
<path d="M1000.3 1914.8l5 0l-2.5-4.5z" fill="#ee1111"/>
<path d="M1028.7 1917.3l10.6 0l-5.3-9.5z" fill="#1212d8"/>
<circle cx="1052.3" cy="1915.4" r="5.8" fill="#1212d8"/>
<circle cx="1084.4" cy="1913.6" r="4" fill="#1212d8"/>
<path d="M1066.7 1915.9l7.6 0l-3.8-6.8z" fill="#ee1111"/>
<path d="M966 1926.3l7.6 0l-3.8-6.8z" fill="#ee1111"/>
<circle cx="977.6" cy="1922.3" r="4" fill="#ee1111"/>
<circle cx="1000.2" cy="1922.3" r="4" fill="#1212d8"/>
<circle cx="1016.7" cy="1922.3" r="4" fill="#1212d8"/>
<path d="M1022.7 1925.1l10.6 0l-5.3-9.5z" fill="#ee1111"/>
<path d="M1035.4 1925.5l7.6 0l-3.8-6.8z" fill="#1212d8"/>
<path d="M1066.7 1925.5l7.6 0l-3.8-6.8z" fill="#1212d8"/>
<path d="M1091 1925.5l7.6 0l-3.8-6.8z" fill="#1212d8"/>
<path d="M920.9 1934.2l7.6 0l-3.8-6.8z" fill="#ee1111"/>
<circle cx="961.1" cy="1931.9" r="5.8" fill="#ee1111"/>
<circle cx="965.5" cy="1931.9" r="5.8" fill="#ee1111"/>
<circle cx="1015.8" cy="1931" r="4" fill="#ee1111"/>
<circle cx="1023.6" cy="1928.4" r="4" fill="#1212d8"/>
<path d="M1028.5 1934.2l7.6 0l-3.8-6.8z" fill="#ee1111"/>
<path d="M1032.8 1934.2l7.6 0l-3.8-6.8z" fill="#ee1111"/>
<path d="M1040.6 1934.2l7.6 0l-3.8-6.8z" fill="#1212d8"/>
<circle cx="1082.6" cy="1931" r="4" fill="#1212d8"/>
<path d="M920.9 1943.7l7.6 0l-3.8-6.8z" fill="#ee1111"/>
<circle cx="940.3" cy="1940.6" r="4" fill="#ee1111"/>
<circle cx="935.1" cy="1946.6" r="4" fill="#ee1111"/>
<path d="M926.9 1950.7l7.6 0l-3.8-6.8z" fill="#ee1111"/>
<path d="M969.5 1942l7.6 0l-3.8-6.8z" fill="#ee1111"/>
<circle cx="1020.1" cy="1938.8" r="5.8" fill="#1212d8"/>
<path d="M1038.9 1942.8l7.6 0l-3.8-6.8z" fill="#ee1111"/>
<path d="M1048.5 1942.8l7.6 0l-3.8-6.8z" fill="#ee1111"/>
<circle cx="1082.6" cy="1938.8" r="5.8" fill="#1212d8"/>
<circle cx="904.7" cy="1949.2" r="5.8" fill="#ee1111"/>
<circle cx="883" cy="1956.2" r="5.8" fill="#ee1111"/>
<circle cx="968.9" cy="1949.2" r="4" fill="#ee1111"/>
<path d="M1000.7 1952.4l7.6 0l-3.8-6.8z" fill="#ee1111"/>
<path d="M1011.4 1952.9l10.6 0l-5.3-9.5z" fill="#1212d8"/>
<path d="M1021.5 1951.5l7.6 0l-3.8-6.8z" fill="#ee1111"/>
<path d="M1031.5 1949.5l5 0l-2.5-4.5z" fill="#1212d8"/>
<path d="M1078.8 1950.7l7.6 0l-3.8-6.8z" fill="#1212d8"/>
<path d="M895.7 1966.3l7.6 0l-3.8-6.8z" fill="#ee1111"/>
<path d="M901.8 1959.3l7.6 0l-3.8-6.8z" fill="#ee1111"/>
<circle cx="914.2" cy="1962.3" r="5.8" fill="#ee1111"/>
<path d="M913.9 1959.3l7.6 0l-3.8-6.8z" fill="#ee1111"/>
<path d="M908.7 1970.6l7.6 0l-3.8-6.8z" fill="#ee1111"/>
<path d="M949.5 1961.1l7.6 0l-3.8-6.8z" fill="#ee1111"/>
<circle cx="955.9" cy="1964.9" r="4" fill="#ee1111"/>
<path d="M1018.9 1960.2l7.6 0l-3.8-6.8z" fill="#1212d8"/>
<path d="M1023.3 1961.1l7.6 0l-3.8-6.8z" fill="#1212d8"/>
<path d="M1088 1958.2l5 0l-2.5-4.5z" fill="#1212d8"/>
<circle cx="1098.3" cy="1957.9" r="4" fill="#1212d8"/>
<path d="M1018.1 1968.9l7.6 0l-3.8-6.8z" fill="#ee1111"/>
<circle cx="1041.8" cy="1964.9" r="4" fill="#ee1111"/>
<circle cx="1063.5" cy="1966.6" r="4" fill="#1212d8"/>
<path d="M1070.4 1968.5l10.6 0l-5.3-9.5z" fill="#1212d8"/>
<path d="M1094.5 1975l7.6 0l-3.8-6.8z" fill="#ee1111"/>
<circle cx="945.5" cy="1972.7" r="5.8" fill="#ee1111"/>
<path d="M944.3 1981.9l7.6 0l-3.8-6.8z" fill="#ee1111"/>
<path d="M960.3 1978.1l5 0l-2.5-4.5z" fill="#1212d8"/>
<circle cx="986.3" cy="1976.1" r="4" fill="#ee1111"/>
<path d="M1026.8 1978.4l7.6 0l-3.8-6.8z" fill="#ee1111"/>
<path d="M1045.9 1975l7.6 0l-3.8-6.8z" fill="#ee1111"/>
<path d="M1074.7 1983.2l10.6 0l-5.3-9.5z" fill="#1212d8"/>
<circle cx="917.7" cy="1985.7" r="4" fill="#ee1111"/>
<path d="M934.7 1988l7.6 0l-3.8-6.8z" fill="#ee1111"/>
<circle cx="961.1" cy="1985.7" r="4" fill="#ee1111"/>
<path d="M983.4 1992.3l7.6 0l-3.8-6.8z" fill="#ee1111"/>
<circle cx="1000.2" cy="1984.8" r="5.8" fill="#1212d8"/>
<path d="M994.6 1992.3l7.6 0l-3.8-6.8z" fill="#ee1111"/>
<circle cx="1041.8" cy="1985.7" r="4" fill="#ee1111"/>
<path d="M1038.5 1992l5 0l-2.5-4.5z" fill="#1212d8"/>
<circle cx="903.8" cy="1996.1" r="4" fill="#ee1111"/>
<path d="M916.9 1998.1l5 0l-2.5-4.5z" fill="#ee1111"/>
<circle cx="949" cy="1996.1" r="4" fill="#ee1111"/>
<circle cx="947.2" cy="2003.1" r="4" fill="#ee1111"/>
<circle cx="963.7" cy="2003.1" r="4" fill="#ee1111"/>
<circle cx="990.6" cy="2003.1" r="4" fill="#ee1111"/>
<circle cx="1018.4" cy="2003.1" r="2.5" fill="#ee1111"/>
<circle cx="1087.8" cy="1994.4" r="4" fill="#1212d8"/>
<circle cx="1088.7" cy="2003.1" r="2.5" fill="#1212d8"/>
<circle cx="1096.5" cy="2003.1" r="4" fill="#1212d8"/>
<circle cx="908.2" cy="2006.5" r="5.8" fill="#ee1111"/>
<circle cx="943.8" cy="2014.3" r="4" fill="#ee1111"/>
<circle cx="996.7" cy="2011.7" r="4" fill="#ee1111"/>
<circle cx="1048.8" cy="2010.9" r="5.8" fill="#1212d8"/>
<path d="M1053.2 2006.8l5 0l-2.5-4.5z" fill="#ee1111"/>
<circle cx="1075.7" cy="2012.6" r="2.5" fill="#ee1111"/>
<circle cx="1006.2" cy="2020.4" r="4" fill="#ee1111"/>
<circle cx="1014.9" cy="2021.3" r="4" fill="#1212d8"/>
<path d="M1061 2029.3l5 0l-2.5-4.5z" fill="#1212d8"/>
<path d="M938.5 2042.3l10.6 0l-5.3-9.5z" fill="#ee1111"/>
<circle cx="986.3" cy="2029.1" r="5.8" fill="#ee1111"/>
<path d="M1084.9 2041.8l7.6 0l-3.8-6.8z" fill="#ee1111"/>
<path d="M979.9 2051.3l7.6 0l-3.8-6.8z" fill="#ee1111"/>
<circle cx="996.7" cy="2048.2" r="5.8" fill="#ee1111"/>
<circle cx="1041" cy="2047.3" r="4" fill="#1212d8"/>
<path d="M896.8 2067.5l10.6 0l-5.3-9.5z" fill="#ee1111"/>
<path d="M912.2 2068.7l7.6 0l-3.8-6.8z" fill="#1212d8"/>
<path d="M924.3 2066.1l7.6 0l-3.8-6.8z" fill="#ee1111"/>
<path d="M1010.5 2070.1l10.6 0l-5.3-9.5z" fill="#ee1111"/>
<circle cx="1088.7" cy="2063" r="4" fill="#ee1111"/>
<circle cx="967.2" cy="2071.6" r="4" fill="#ee1111"/>
<path d="M1117.9 1780.2l5 0l-2.5-4.5z" fill="#1212d8"/>
<circle cx="1137.7" cy="1778.8" r="4" fill="#ee1111"/>
<circle cx="1267.1" cy="1760.9" r="2.5" fill="#ee1111"/>
<circle cx="1157.7" cy="1805.7" r="4" fill="#1212d8"/>
<path d="M1113.5 1824.5l5 0l-2.5-4.5z" fill="#1212d8"/>
<path d="M1241.6 1825.7l7.6 0l-3.8-6.8z" fill="#1212d8"/>
<path d="M1258.5 1831.1l5 0l-2.5-4.5z" fill="#ee1111"/>
<path d="M1098.4 1843.9l7.6 0l-3.8-6.8z" fill="#1212d8"/>
<path d="M1117.5 1843.9l7.6 0l-3.8-6.8z" fill="#1212d8"/>
<path d="M1208.2 1842.7l5 0l-2.5-4.5z" fill="#ee1111"/>
<circle cx="1321.8" cy="1840.7" r="4" fill="#ee1111"/>
<path d="M1326.7 1843.9l7.6 0l-3.8-6.8z" fill="#1212d8"/>
<circle cx="1103" cy="1850.3" r="5.8" fill="#1212d8"/>
<circle cx="1108.2" cy="1856.4" r="4" fill="#1212d8"/>
<circle cx="1116.9" cy="1850.3" r="5.8" fill="#ee1111"/>
<circle cx="1140.3" cy="1855.5" r="4" fill="#1212d8"/>
<circle cx="1196.8" cy="1856.9" r="4" fill="#1212d8"/>
<circle cx="1255.8" cy="1850.3" r="5.8" fill="#ee1111"/>
<circle cx="1116.9" cy="1868.5" r="4" fill="#1212d8"/>
<circle cx="1220.2" cy="1868.5" r="5.8" fill="#ee1111"/>
<circle cx="1138.6" cy="1873.7" r="5.8" fill="#1212d8"/>
<circle cx="1142.1" cy="1877.2" r="5.8" fill="#1212d8"/>
<circle cx="1274" cy="1877.7" r="4" fill="#ee1111"/>
<circle cx="1280.1" cy="1886.7" r="4" fill="#ee1111"/>
<circle cx="1125.6" cy="1886.4" r="5.8" fill="#1212d8"/>
<circle cx="1116.9" cy="1895.4" r="5.8" fill="#1212d8"/>
<path d="M1142 1893.8l10.6 0l-5.3-9.5z" fill="#1212d8"/>
<circle cx="1155.1" cy="1898" r="5.8" fill="#1212d8"/>
<path d="M1187.3 1897l5 0l-2.5-4.5z" fill="#ee1111"/>
<circle cx="1199.4" cy="1898" r="4" fill="#1212d8"/>
<circle cx="1131.1" cy="1906.7" r="2.5" fill="#ee1111"/>
<circle cx="1144.7" cy="1904.1" r="5.8" fill="#1212d8"/>
<circle cx="1149" cy="1906.7" r="5.8" fill="#1212d8"/>
<path d="M1163.7 1910.3l10.6 0l-5.3-9.5z" fill="#1212d8"/>
<path d="M1178.5 1918.1l10.6 0l-5.3-9.5z" fill="#1212d8"/>
<circle cx="1293.1" cy="1904.1" r="4" fill="#ee1111"/>
<path d="M1298.4 1906.1l5 0l-2.5-4.5z" fill="#1212d8"/>
<circle cx="1320.9" cy="1904.1" r="2.5" fill="#ee1111"/>
<circle cx="1325.2" cy="1913.6" r="4" fill="#ee1111"/>
<path d="M1117.9 1916.5l5 0l-2.5-4.5z" fill="#ee1111"/>
<path d="M1105.3 1925.5l7.6 0l-3.8-6.8z" fill="#1212d8"/>
<path d="M1127 1925.5l7.6 0l-3.8-6.8z" fill="#1212d8"/>
<path d="M1145.5 1926.8l10.6 0l-5.3-9.5z" fill="#1212d8"/>
<circle cx="1215" cy="1923.2" r="4" fill="#ee1111"/>
<circle cx="1217.6" cy="1923.2" r="4" fill="#1212d8"/>
<path d="M1242 1924.3l5 0l-2.5-4.5z" fill="#ee1111"/>
<circle cx="1256.7" cy="1922.3" r="2.5" fill="#1212d8"/>
<circle cx="1275.4" cy="1922.3" r="5.8" fill="#1212d8"/>
<path d="M1309.3 1925.5l7.6 0l-3.8-6.8z" fill="#ee1111"/>
<path d="M1110.5 1934.2l7.6 0l-3.8-6.8z" fill="#1212d8"/>
<path d="M1117.5 1934.2l7.6 0l-3.8-6.8z" fill="#1212d8"/>
<circle cx="1159.4" cy="1931" r="5.8" fill="#ee1111"/>
<circle cx="1174.2" cy="1931" r="5.8" fill="#ee1111"/>
<circle cx="1179.4" cy="1931.9" r="5.8" fill="#ee1111"/>
<path d="M1206 1934.2l7.6 0l-3.8-6.8z" fill="#ee1111"/>
<path d="M1242.5 1934.2l7.6 0l-3.8-6.8z" fill="#1212d8"/>
<circle cx="1268.8" cy="1931.9" r="4" fill="#ee1111"/>
<path d="M1111.8 1941.7l5 0l-2.5-4.5z" fill="#1212d8"/>
<circle cx="1129.1" cy="1940.6" r="5.8" fill="#1212d8"/>
<path d="M1134.4 1941.7l5 0l-2.5-4.5z" fill="#1212d8"/>
<circle cx="1166.4" cy="1939.7" r="4" fill="#1212d8"/>
<path d="M1182.1 1941.7l5 0l-2.5-4.5z" fill="#ee1111"/>
<circle cx="1235.8" cy="1940.6" r="4" fill="#ee1111"/>
<path d="M1296.7 1941.7l5 0l-2.5-4.5z" fill="#ee1111"/>
<path d="M1309.7 1941.7l5 0l-2.5-4.5z" fill="#1212d8"/>
<path d="M1175.6 1951.5l7.6 0l-3.8-6.8z" fill="#1212d8"/>
<path d="M1187.1 1952l10.6 0l-5.3-9.5z" fill="#1212d8"/>
<path d="M1257.2 1951.5l7.6 0l-3.8-6.8z" fill="#ee1111"/>
<path d="M1096.6 1952.4l7.6 0l-3.8-6.8z" fill="#1212d8"/>
<circle cx="1100.4" cy="1957.9" r="4" fill="#1212d8"/>
<path d="M1102.7 1961.1l7.6 0l-3.8-6.8z" fill="#1212d8"/>
<circle cx="1166.4" cy="1957.9" r="5.8" fill="#1212d8"/>
<circle cx="1206.3" cy="1957.9" r="5.8" fill="#ee1111"/>
<circle cx="1215" cy="1963.1" r="4" fill="#1212d8"/>
<circle cx="1222.8" cy="1957.9" r="5.8" fill="#1212d8"/>
<path d="M1235.5 1965.4l7.6 0l-3.8-6.8z" fill="#1212d8"/>
<path d="M1248.5 1958.5l7.6 0l-3.8-6.8z" fill="#1212d8"/>
<path d="M1293 1968.5l10.6 0l-5.3-9.5z" fill="#1212d8"/>
<circle cx="1175.9" cy="1964.9" r="4" fill="#ee1111"/>
<circle cx="1141.2" cy="1964.9" r="4" fill="#1212d8"/>
<path d="M1130.5 1969.7l7.6 0l-3.8-6.8z" fill="#1212d8"/>
<circle cx="1109.1" cy="1972.7" r="5.8" fill="#1212d8"/>
<circle cx="1124.7" cy="1975.3" r="5.8" fill="#1212d8"/>
<circle cx="1129.1" cy="1979.6" r="5.8" fill="#1212d8"/>
<path d="M1147.2 1979.8l10.6 0l-5.3-9.5z" fill="#1212d8"/>
<circle cx="1165.5" cy="1980.5" r="5.8" fill="#1212d8"/>
<path d="M1178.5 1984.1l10.6 0l-5.3-9.5z" fill="#1212d8"/>
<path d="M1221.6 1978.4l7.6 0l-3.8-6.8z" fill="#1212d8"/>
<circle cx="1161.2" cy="1985.7" r="5.8" fill="#ee1111"/>
<path d="M1207.1 1989.3l10.6 0l-5.3-9.5z" fill="#1212d8"/>
<path d="M1156.1 1995.5l5 0l-2.5-4.5z" fill="#1212d8"/>
<path d="M1192.5 1995.5l5 0l-2.5-4.5z" fill="#ee1111"/>
<circle cx="1209.8" cy="1994.4" r="5.8" fill="#ee1111"/>
<circle cx="1231.5" cy="1997.8" r="2.5" fill="#ee1111"/>
<circle cx="1299.2" cy="1985.7" r="4" fill="#ee1111"/>
<circle cx="1103" cy="1997" r="5.8" fill="#1212d8"/>
<circle cx="1109.1" cy="1996.1" r="5.8" fill="#1212d8"/>
<circle cx="1115.2" cy="1998.7" r="5.8" fill="#1212d8"/>
<circle cx="1156" cy="2003.1" r="5.8" fill="#1212d8"/>
<circle cx="1164.7" cy="2003.1" r="2.5" fill="#ee1111"/>
<circle cx="1195" cy="2011.7" r="5.8" fill="#ee1111"/>
<path d="M1215.5 2014l7.6 0l-3.8-6.8z" fill="#ee1111"/>
<circle cx="1257.5" cy="2014.3" r="4" fill="#1212d8"/>
<circle cx="1128.2" cy="2021.3" r="5.8" fill="#ee1111"/>
<circle cx="1214.1" cy="2022.2" r="5.8" fill="#1212d8"/>
<path d="M1115.1 2034.5l10.6 0l-5.3-9.5z" fill="#ee1111"/>
<circle cx="1150.8" cy="2030.8" r="4" fill="#ee1111"/>
<path d="M1216.8 2031.9l5 0l-2.5-4.5z" fill="#ee1111"/>
<path d="M1224.7 2031.9l5 0l-2.5-4.5z" fill="#1212d8"/>
<path d="M1151.3 2040.9l7.6 0l-3.8-6.8z" fill="#1212d8"/>
<path d="M1160.2 2042.3l10.6 0l-5.3-9.5z" fill="#1212d8"/>
<path d="M1202.8 2049.2l10.6 0l-5.3-9.5z" fill="#1212d8"/>
<path d="M1260.9 2050.1l10.6 0l-5.3-9.5z" fill="#1212d8"/>
<path d="M1163.7 2060.5l10.6 0l-5.3-9.5z" fill="#ee1111"/>
<path d="M1301 2056.3l5 0l-2.5-4.5z" fill="#1212d8"/>
<path d="M1102.7 2066.1l7.6 0l-3.8-6.8z" fill="#ee1111"/>
<path d="M1195.8 2067.5l10.6 0l-5.3-9.5z" fill="#1212d8"/>
<path d="M1014.9 1784.3l-37.3 26-4.3 26.1 1.7 31.2-7 20.9 47.8 28.6-49.5 26.9-6.1 21.7 0 33.9 49.5 26-13 27.8" stroke="#ee1111" stroke-width="4" fill="none" stroke-linejoin="round"/>
<path d="M1081.8 1782.6l-53 26 50.4 26.1 29 29.5-31.6 26-4.4 26 34.3 26.1 20 29.5-13.9 26 81.6 30.4 6.9 23.5" stroke="#1212d8" stroke-width="4" fill="none" stroke-linejoin="round"/>
</svg>
</body></html>
